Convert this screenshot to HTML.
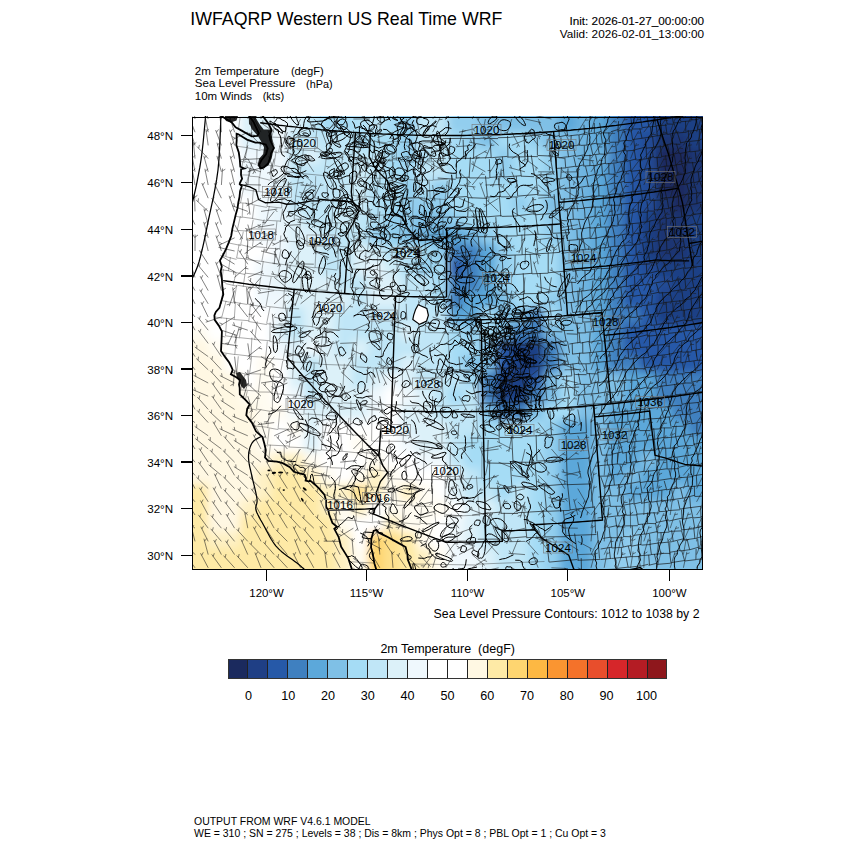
<!DOCTYPE html>
<html><head><meta charset="utf-8">
<style>
html,body{margin:0;padding:0;background:#fff;width:850px;height:850px;overflow:hidden}
body{position:relative;font-family:"Liberation Sans",sans-serif;color:#000}
.m{position:absolute;line-height:1;white-space:pre}
.tk{position:absolute;background:#000}
#map{position:absolute;left:192px;top:116px;width:511px;height:453px;overflow:hidden;background:#fff}
#frame{position:absolute;left:191.9px;top:116.5px;width:509.0px;height:451.05px;border:1.2px solid #000}
#cb{position:absolute;left:228.5px;top:659.7px;width:437.8px;height:18px;display:flex;outline:1px solid #333}
#cb div{flex:1;border-right:1px solid #222}
#cb div:last-child{border-right:none}
</style></head><body>
<div id="map"><svg width="512" height="454" viewBox="192 116 512 454" style="position:absolute;left:0;top:0"><defs><filter id="bl" x="-5%" y="-5%" width="110%" height="110%"><feGaussianBlur stdDeviation="4"/></filter><clipPath id="land"><path clip-rule="evenodd" d="M150,80 L750,80 L750,620 L150,620 Z M19.4,43.0 L23.0,44.1 L26.6,45.3 L30.1,46.5 L33.7,47.6 L37.3,48.7 L40.9,49.9 L44.4,51.0 L48.0,52.1 L51.6,53.2 L55.2,54.3 L58.8,55.4 L62.4,56.4 L66.0,57.5 L69.6,58.5 L73.2,59.6 L76.8,60.6 L80.5,61.6 L84.1,62.6 L87.7,63.6 L91.3,64.6 L94.9,65.6 L98.6,66.6 L102.2,67.5 L105.8,68.5 L109.5,69.4 L113.1,70.3 L116.7,71.2 L120.4,72.1 L124.0,73.0 L127.7,73.9 L131.3,74.8 L135.0,75.7 L138.6,76.5 L142.3,77.4 L146.0,78.2 L149.6,79.1 L153.3,79.9 L156.9,80.7 L160.6,81.5 L164.3,82.3 L168.0,83.0 L171.6,83.8 L175.3,84.6 L179.0,85.3 L182.7,86.0 L186.4,86.8 L190.0,87.5 L193.7,88.2 L197.4,88.9 L201.1,89.6 L204.8,90.3 L208.5,90.9 L212.2,91.6 L215.9,92.2 L217.6,100.0 L219.4,107.8 L221.1,115.6 L226.0,119.0 L231.8,122.5 L235.6,127.3 L241.7,130.6 L246.7,133.5 L251.7,136.3 L257.3,135.9 L258.8,133.1 L257.6,130.5 L255.8,126.8 L253.4,121.7 L247.6,113.8 L252.5,112.2 L257.3,110.5 L262.7,116.0 L268.5,123.8 L271.6,130.1 L269.3,135.6 L270.3,140.4 L274.0,147.9 L271.0,153.4 L270.5,156.8 L268.1,163.5 L263.6,167.6 L260.3,168.4 L259.2,164.7 L261.4,160.3 L266.2,154.0 L267.7,148.3 L265.8,144.5 L262.1,143.6 L259.8,142.6 L255.4,142.7 L251.2,141.1 L247.0,139.6 L242.7,137.0 L238.4,134.3 L236.6,133.8 L236.7,140.4 L236.3,145.1 L238.8,152.5 L239.8,159.6 L240.3,166.7 L244.4,168.5 L241.1,169.2 L241.0,175.0 L242.1,178.7 L239.9,183.0 L239.7,184.2 L241.8,186.1 L240.1,191.2 L239.5,197.0 L238.3,202.6 L237.5,208.4 L235.9,213.9 L234.2,221.1 L232.4,228.6 L231.2,236.0 L228.6,242.9 L226.0,249.2 L223.0,255.1 L219.9,260.6 L221.8,266.5 L220.7,271.0 L221.9,279.3 L222.3,286.3 L223.3,294.5 L221.0,302.1 L219.4,307.9 L215.8,312.0 L214.4,315.5 L214.7,319.9 L218.8,325.6 L221.9,331.4 L221.6,339.7 L221.3,345.2 L221.0,351.0 L225.4,357.4 L229.2,362.5 L231.3,366.7 L232.7,369.9 L230.9,374.3 L236.3,377.3 L240.0,379.9 L239.0,384.6 L239.7,387.9 L239.8,394.4 L245.9,400.3 L249.6,404.4 L247.2,408.7 L246.3,415.3 L251.9,422.7 L256.0,431.3 L262.5,437.1 L264.5,444.2 L265.8,450.1 L265.0,457.4 L268.1,460.8 L276.9,461.7 L282.7,463.2 L289.9,467.1 L293.9,471.8 L300.6,473.6 L304.4,474.6 L306.0,478.2 L305.6,480.5 L308.6,481.4 L310.6,480.9 L315.1,484.7 L318.7,488.2 L324.4,494.6 L326.1,500.5 L325.9,502.8 L326.2,507.0 L328.3,510.4 L329.2,514.6 L332.4,522.9 L337.0,526.7 L334.3,528.8 L338.7,537.2 L341.1,546.6 L344.8,552.6 L348.4,558.6 L351.9,569.3 L354.5,577.5 L362.2,584.9 L367.0,589.8 L371.9,594.6 L376.8,600.6 L381.7,606.6 L382.5,612.5 L383.3,618.4 L381.0,624.1 L378.7,629.9 L382.7,635.9 L386.6,641.9 L388.8,647.8 L391.0,653.7 L393.2,659.7 L395.4,665.6 L397.6,671.5 L399.8,677.5 L402.1,683.4 L404.3,689.4 L399.0,689.2 L393.7,689.1 L388.3,688.9 L383.0,688.8 L377.6,688.6 L372.3,688.4 L367.0,688.1 L361.6,687.9 L356.3,687.7 L350.9,687.4 L345.6,687.1 L340.3,686.8 L334.9,686.5 L329.6,686.2 L324.3,685.9 L318.9,685.5 L313.6,685.2 L308.3,684.8 L302.9,684.4 L297.6,684.0 L292.3,683.6 L287.0,683.1 L281.6,682.7 L276.3,682.2 L271.0,681.7 L265.7,681.2 L260.4,680.7 L255.0,680.2 L249.7,679.7 L244.4,679.1 L239.1,678.5 L233.8,677.9 L228.5,677.4 L223.2,676.7 L217.9,676.1 L212.5,675.5 L207.2,674.8 L201.9,674.1 L196.6,673.5 L191.3,672.8 L186.1,672.0 L180.8,671.3 L175.5,670.6 L170.2,669.8 L164.9,669.0 L159.6,668.2 L154.3,667.4 L149.0,666.6 L143.8,665.8 L138.5,664.9 L133.2,664.1 L127.9,663.2 L122.7,662.3 L117.4,661.4 L112.1,660.5 L106.9,659.6 L101.6,658.6 L96.4,657.7 L91.1,656.7 L85.9,655.7 L80.6,654.7 L75.4,653.7 L70.1,652.6 L64.9,651.6 L59.6,650.5 L54.4,649.4 L49.2,648.4 L44.0,647.2 L38.7,646.1 L33.5,645.0 L28.3,643.8 L23.1,642.7 L17.9,641.5 L12.6,640.3 L7.4,639.1 L2.2,637.9 L-3.0,636.6 L-8.2,635.4 L-13.3,634.1 L-18.5,632.9 L-23.7,631.6 L-28.9,630.3 L-34.1,628.9 L-39.3,627.6 L-44.4,626.3 L-49.6,624.9 L-54.8,623.5 L-59.9,622.1 L-65.1,620.7 L-70.2,619.3 L-75.4,617.9 L-80.5,616.4 L-85.7,614.9 L-90.8,613.5 L-95.9,612.0 L-101.0,610.5 L-106.2,609.0 L-111.3,607.4 L-116.4,605.9 L-121.5,604.3 L-126.6,602.7 L-131.7,601.2 L-136.8,599.5 L-141.9,597.9 L-147.0,596.3 L-152.1,594.7 L-157.2,593.0 L-162.2,591.3Z M428.2,654.5 L425.7,647.9 L423.2,641.3 L420.8,634.7 L415.9,626.9 L411.1,619.1 L406.6,613.2 L402.1,607.3 L395.1,596.6 L389.8,590.0 L384.5,583.5 L380.7,577.5 L376.9,571.6 L374.4,563.4 L372.6,552.8 L371.1,547.7 L371.3,538.9 L373.6,530.9 L376.6,529.9 L378.4,532.5 L383.3,534.9 L388.1,537.2 L396.8,542.1 L405.6,547.0 L407.4,554.0 L407.7,559.3 L411.1,568.0 L413.2,575.0 L418.9,584.3 L422.8,591.4 L428.0,600.3 L436.9,610.1 L443.0,615.8 L449.2,621.4 L455.4,631.2 L461.7,637.0 L468.0,642.8 L473.3,648.6 L478.6,654.4 L480.4,660.2 L482.3,666.0 L484.2,671.9 L486.0,677.7 L487.9,683.6 L489.8,689.4 L484.5,689.5 L479.1,689.6 L473.8,689.7 L468.5,689.8 L463.1,689.8 L457.8,689.8 L452.4,689.9 L447.1,689.9 L441.7,689.9 L436.4,689.8Z"/></clipPath></defs><g filter="url(#bl)"><rect x="160" y="84" width="80" height="16" fill="#ffffff"/><rect x="240" y="84" width="32" height="16" fill="#dcf1f9"/><rect x="272" y="84" width="16" height="16" fill="#eff8fd"/><rect x="288" y="84" width="16" height="16" fill="#dcf1f9"/><rect x="304" y="84" width="16" height="16" fill="#c0e6f7"/><rect x="320" y="84" width="32" height="16" fill="#a5dcf5"/><rect x="352" y="84" width="16" height="16" fill="#b2e1f6"/><rect x="368" y="84" width="16" height="16" fill="#c0e6f7"/><rect x="384" y="84" width="16" height="16" fill="#a5dcf5"/><rect x="400" y="84" width="16" height="16" fill="#92ceee"/><rect x="416" y="84" width="32" height="16" fill="#c0e6f7"/><rect x="448" y="84" width="32" height="16" fill="#92ceee"/><rect x="480" y="84" width="80" height="16" fill="#7fc0e6"/><rect x="560" y="84" width="16" height="16" fill="#5ca8da"/><rect x="576" y="84" width="16" height="16" fill="#6eb4e0"/><rect x="592" y="84" width="16" height="16" fill="#5ca8da"/><rect x="608" y="84" width="16" height="16" fill="#3f80c0"/><rect x="624" y="84" width="32" height="16" fill="#2659a8"/><rect x="656" y="84" width="80" height="16" fill="#1f3f85"/><rect x="160" y="100" width="80" height="16" fill="#ffffff"/><rect x="240" y="100" width="32" height="16" fill="#dcf1f9"/><rect x="272" y="100" width="16" height="16" fill="#eff8fd"/><rect x="288" y="100" width="16" height="16" fill="#dcf1f9"/><rect x="304" y="100" width="16" height="16" fill="#c0e6f7"/><rect x="320" y="100" width="32" height="16" fill="#a5dcf5"/><rect x="352" y="100" width="16" height="16" fill="#b2e1f6"/><rect x="368" y="100" width="16" height="16" fill="#c0e6f7"/><rect x="384" y="100" width="16" height="16" fill="#a5dcf5"/><rect x="400" y="100" width="16" height="16" fill="#92ceee"/><rect x="416" y="100" width="32" height="16" fill="#c0e6f7"/><rect x="448" y="100" width="32" height="16" fill="#92ceee"/><rect x="480" y="100" width="80" height="16" fill="#7fc0e6"/><rect x="560" y="100" width="16" height="16" fill="#5ca8da"/><rect x="576" y="100" width="16" height="16" fill="#6eb4e0"/><rect x="592" y="100" width="16" height="16" fill="#5ca8da"/><rect x="608" y="100" width="16" height="16" fill="#3f80c0"/><rect x="624" y="100" width="32" height="16" fill="#2659a8"/><rect x="656" y="100" width="80" height="16" fill="#1f3f85"/><rect x="160" y="116" width="80" height="16" fill="#ffffff"/><rect x="240" y="116" width="32" height="16" fill="#dcf1f9"/><rect x="272" y="116" width="16" height="16" fill="#eff8fd"/><rect x="288" y="116" width="16" height="16" fill="#dcf1f9"/><rect x="304" y="116" width="16" height="16" fill="#c0e6f7"/><rect x="320" y="116" width="32" height="16" fill="#a5dcf5"/><rect x="352" y="116" width="16" height="16" fill="#b2e1f6"/><rect x="368" y="116" width="16" height="16" fill="#c0e6f7"/><rect x="384" y="116" width="16" height="16" fill="#a5dcf5"/><rect x="400" y="116" width="16" height="16" fill="#92ceee"/><rect x="416" y="116" width="32" height="16" fill="#c0e6f7"/><rect x="448" y="116" width="32" height="16" fill="#92ceee"/><rect x="480" y="116" width="80" height="16" fill="#7fc0e6"/><rect x="560" y="116" width="16" height="16" fill="#5ca8da"/><rect x="576" y="116" width="16" height="16" fill="#6eb4e0"/><rect x="592" y="116" width="16" height="16" fill="#5ca8da"/><rect x="608" y="116" width="16" height="16" fill="#3f80c0"/><rect x="624" y="116" width="32" height="16" fill="#2659a8"/><rect x="656" y="116" width="80" height="16" fill="#1f3f85"/><rect x="160" y="132" width="80" height="16" fill="#ffffff"/><rect x="240" y="132" width="32" height="16" fill="#dcf1f9"/><rect x="272" y="132" width="16" height="16" fill="#eff8fd"/><rect x="288" y="132" width="64" height="16" fill="#c0e6f7"/><rect x="352" y="132" width="48" height="16" fill="#a5dcf5"/><rect x="400" y="132" width="16" height="16" fill="#92ceee"/><rect x="416" y="132" width="32" height="16" fill="#c0e6f7"/><rect x="448" y="132" width="16" height="16" fill="#a5dcf5"/><rect x="464" y="132" width="16" height="16" fill="#92ceee"/><rect x="480" y="132" width="16" height="16" fill="#7fc0e6"/><rect x="496" y="132" width="32" height="16" fill="#a5dcf5"/><rect x="528" y="132" width="16" height="16" fill="#92ceee"/><rect x="544" y="132" width="32" height="16" fill="#7fc0e6"/><rect x="576" y="132" width="16" height="16" fill="#6eb4e0"/><rect x="592" y="132" width="16" height="16" fill="#5ca8da"/><rect x="608" y="132" width="16" height="16" fill="#3f80c0"/><rect x="624" y="132" width="16" height="16" fill="#2659a8"/><rect x="640" y="132" width="16" height="16" fill="#224c96"/><rect x="656" y="132" width="32" height="16" fill="#1d3472"/><rect x="688" y="132" width="48" height="16" fill="#1f3f85"/><rect x="160" y="148" width="80" height="16" fill="#ffffff"/><rect x="240" y="148" width="48" height="16" fill="#eff8fd"/><rect x="288" y="148" width="16" height="16" fill="#c0e6f7"/><rect x="304" y="148" width="16" height="16" fill="#dcf1f9"/><rect x="320" y="148" width="64" height="16" fill="#c0e6f7"/><rect x="384" y="148" width="16" height="16" fill="#a5dcf5"/><rect x="400" y="148" width="16" height="16" fill="#92ceee"/><rect x="416" y="148" width="16" height="16" fill="#b2e1f6"/><rect x="432" y="148" width="16" height="16" fill="#c0e6f7"/><rect x="448" y="148" width="48" height="16" fill="#a5dcf5"/><rect x="496" y="148" width="16" height="16" fill="#92ceee"/><rect x="512" y="148" width="32" height="16" fill="#a5dcf5"/><rect x="544" y="148" width="16" height="16" fill="#92ceee"/><rect x="560" y="148" width="16" height="16" fill="#7fc0e6"/><rect x="576" y="148" width="32" height="16" fill="#6eb4e0"/><rect x="608" y="148" width="16" height="16" fill="#3f80c0"/><rect x="624" y="148" width="16" height="16" fill="#2659a8"/><rect x="640" y="148" width="16" height="16" fill="#224c96"/><rect x="656" y="148" width="32" height="16" fill="#1b2a5e"/><rect x="688" y="148" width="48" height="16" fill="#1d3472"/><rect x="160" y="164" width="80" height="16" fill="#ffffff"/><rect x="240" y="164" width="48" height="16" fill="#eff8fd"/><rect x="288" y="164" width="64" height="16" fill="#c0e6f7"/><rect x="352" y="164" width="16" height="16" fill="#ceecf8"/><rect x="368" y="164" width="16" height="16" fill="#c0e6f7"/><rect x="384" y="164" width="32" height="16" fill="#a5dcf5"/><rect x="416" y="164" width="32" height="16" fill="#c0e6f7"/><rect x="448" y="164" width="48" height="16" fill="#a5dcf5"/><rect x="496" y="164" width="16" height="16" fill="#92ceee"/><rect x="512" y="164" width="32" height="16" fill="#a5dcf5"/><rect x="544" y="164" width="16" height="16" fill="#92ceee"/><rect x="560" y="164" width="16" height="16" fill="#7fc0e6"/><rect x="576" y="164" width="16" height="16" fill="#6eb4e0"/><rect x="592" y="164" width="16" height="16" fill="#5ca8da"/><rect x="608" y="164" width="16" height="16" fill="#3f80c0"/><rect x="624" y="164" width="16" height="16" fill="#2659a8"/><rect x="640" y="164" width="16" height="16" fill="#224c96"/><rect x="656" y="164" width="32" height="16" fill="#1b2a5e"/><rect x="688" y="164" width="48" height="16" fill="#1d3472"/><rect x="160" y="180" width="80" height="16" fill="#ffffff"/><rect x="240" y="180" width="32" height="16" fill="#eff8fd"/><rect x="272" y="180" width="16" height="16" fill="#dcf1f9"/><rect x="288" y="180" width="64" height="16" fill="#c0e6f7"/><rect x="352" y="180" width="16" height="16" fill="#ceecf8"/><rect x="368" y="180" width="32" height="16" fill="#b2e1f6"/><rect x="400" y="180" width="16" height="16" fill="#92ceee"/><rect x="416" y="180" width="16" height="16" fill="#b2e1f6"/><rect x="432" y="180" width="16" height="16" fill="#92ceee"/><rect x="448" y="180" width="96" height="16" fill="#a5dcf5"/><rect x="544" y="180" width="16" height="16" fill="#92ceee"/><rect x="560" y="180" width="16" height="16" fill="#7fc0e6"/><rect x="576" y="180" width="16" height="16" fill="#6eb4e0"/><rect x="592" y="180" width="16" height="16" fill="#5ca8da"/><rect x="608" y="180" width="16" height="16" fill="#3f80c0"/><rect x="624" y="180" width="16" height="16" fill="#2659a8"/><rect x="640" y="180" width="16" height="16" fill="#224c96"/><rect x="656" y="180" width="32" height="16" fill="#1b2a5e"/><rect x="688" y="180" width="48" height="16" fill="#1d3472"/><rect x="160" y="196" width="96" height="16" fill="#ffffff"/><rect x="256" y="196" width="16" height="16" fill="#eff8fd"/><rect x="272" y="196" width="16" height="16" fill="#e6f4fb"/><rect x="288" y="196" width="64" height="16" fill="#c0e6f7"/><rect x="352" y="196" width="16" height="16" fill="#ceecf8"/><rect x="368" y="196" width="16" height="16" fill="#b2e1f6"/><rect x="384" y="196" width="16" height="16" fill="#a5dcf5"/><rect x="400" y="196" width="48" height="16" fill="#92ceee"/><rect x="448" y="196" width="64" height="16" fill="#a5dcf5"/><rect x="512" y="196" width="16" height="16" fill="#92ceee"/><rect x="528" y="196" width="16" height="16" fill="#a5dcf5"/><rect x="544" y="196" width="32" height="16" fill="#7fc0e6"/><rect x="576" y="196" width="16" height="16" fill="#6eb4e0"/><rect x="592" y="196" width="16" height="16" fill="#5ca8da"/><rect x="608" y="196" width="16" height="16" fill="#3f80c0"/><rect x="624" y="196" width="16" height="16" fill="#2659a8"/><rect x="640" y="196" width="16" height="16" fill="#224c96"/><rect x="656" y="196" width="16" height="16" fill="#1d3472"/><rect x="672" y="196" width="16" height="16" fill="#1b2a5e"/><rect x="688" y="196" width="48" height="16" fill="#1d3472"/><rect x="160" y="212" width="96" height="16" fill="#ffffff"/><rect x="256" y="212" width="16" height="16" fill="#eff8fd"/><rect x="272" y="212" width="16" height="16" fill="#e6f4fb"/><rect x="288" y="212" width="16" height="16" fill="#dcf1f9"/><rect x="304" y="212" width="32" height="16" fill="#c0e6f7"/><rect x="336" y="212" width="16" height="16" fill="#ceecf8"/><rect x="352" y="212" width="16" height="16" fill="#c0e6f7"/><rect x="368" y="212" width="16" height="16" fill="#b2e1f6"/><rect x="384" y="212" width="32" height="16" fill="#92ceee"/><rect x="416" y="212" width="32" height="16" fill="#7fc0e6"/><rect x="448" y="212" width="16" height="16" fill="#92ceee"/><rect x="464" y="212" width="80" height="16" fill="#a5dcf5"/><rect x="544" y="212" width="16" height="16" fill="#92ceee"/><rect x="560" y="212" width="16" height="16" fill="#7fc0e6"/><rect x="576" y="212" width="16" height="16" fill="#6eb4e0"/><rect x="592" y="212" width="16" height="16" fill="#5ca8da"/><rect x="608" y="212" width="16" height="16" fill="#3f80c0"/><rect x="624" y="212" width="16" height="16" fill="#2659a8"/><rect x="640" y="212" width="16" height="16" fill="#1f3f85"/><rect x="656" y="212" width="32" height="16" fill="#1d3472"/><rect x="688" y="212" width="48" height="16" fill="#1f3f85"/><rect x="160" y="228" width="96" height="16" fill="#ffffff"/><rect x="256" y="228" width="32" height="16" fill="#eff8fd"/><rect x="288" y="228" width="32" height="16" fill="#dcf1f9"/><rect x="320" y="228" width="48" height="16" fill="#c0e6f7"/><rect x="368" y="228" width="32" height="16" fill="#92ceee"/><rect x="400" y="228" width="16" height="16" fill="#7fc0e6"/><rect x="416" y="228" width="16" height="16" fill="#6eb4e0"/><rect x="432" y="228" width="32" height="16" fill="#5ca8da"/><rect x="464" y="228" width="16" height="16" fill="#6eb4e0"/><rect x="480" y="228" width="16" height="16" fill="#92ceee"/><rect x="496" y="228" width="48" height="16" fill="#a5dcf5"/><rect x="544" y="228" width="16" height="16" fill="#92ceee"/><rect x="560" y="228" width="16" height="16" fill="#7fc0e6"/><rect x="576" y="228" width="16" height="16" fill="#6eb4e0"/><rect x="592" y="228" width="16" height="16" fill="#5ca8da"/><rect x="608" y="228" width="16" height="16" fill="#3f80c0"/><rect x="624" y="228" width="16" height="16" fill="#2659a8"/><rect x="640" y="228" width="16" height="16" fill="#1f3f85"/><rect x="656" y="228" width="32" height="16" fill="#1d3472"/><rect x="688" y="228" width="48" height="16" fill="#1f3f85"/><rect x="160" y="244" width="112" height="16" fill="#ffffff"/><rect x="272" y="244" width="16" height="16" fill="#eff8fd"/><rect x="288" y="244" width="32" height="16" fill="#dcf1f9"/><rect x="320" y="244" width="32" height="16" fill="#c0e6f7"/><rect x="352" y="244" width="16" height="16" fill="#dcf1f9"/><rect x="368" y="244" width="16" height="16" fill="#ceecf8"/><rect x="384" y="244" width="32" height="16" fill="#b2e1f6"/><rect x="416" y="244" width="16" height="16" fill="#a5dcf5"/><rect x="432" y="244" width="16" height="16" fill="#92ceee"/><rect x="448" y="244" width="32" height="16" fill="#3f80c0"/><rect x="480" y="244" width="16" height="16" fill="#5ca8da"/><rect x="496" y="244" width="16" height="16" fill="#92ceee"/><rect x="512" y="244" width="48" height="16" fill="#a5dcf5"/><rect x="560" y="244" width="16" height="16" fill="#7fc0e6"/><rect x="576" y="244" width="16" height="16" fill="#6eb4e0"/><rect x="592" y="244" width="16" height="16" fill="#5ca8da"/><rect x="608" y="244" width="16" height="16" fill="#3f80c0"/><rect x="624" y="244" width="16" height="16" fill="#2659a8"/><rect x="640" y="244" width="16" height="16" fill="#1f3f85"/><rect x="656" y="244" width="32" height="16" fill="#1d3472"/><rect x="688" y="244" width="48" height="16" fill="#1f3f85"/><rect x="160" y="260" width="96" height="16" fill="#ffffff"/><rect x="256" y="260" width="16" height="16" fill="#eff8fd"/><rect x="272" y="260" width="16" height="16" fill="#e6f4fb"/><rect x="288" y="260" width="32" height="16" fill="#dcf1f9"/><rect x="320" y="260" width="32" height="16" fill="#c0e6f7"/><rect x="352" y="260" width="16" height="16" fill="#dcf1f9"/><rect x="368" y="260" width="16" height="16" fill="#e6f4fb"/><rect x="384" y="260" width="16" height="16" fill="#ceecf8"/><rect x="400" y="260" width="16" height="16" fill="#b2e1f6"/><rect x="416" y="260" width="16" height="16" fill="#92ceee"/><rect x="432" y="260" width="16" height="16" fill="#a5dcf5"/><rect x="448" y="260" width="16" height="16" fill="#2659a8"/><rect x="464" y="260" width="16" height="16" fill="#3f80c0"/><rect x="480" y="260" width="16" height="16" fill="#5ca8da"/><rect x="496" y="260" width="16" height="16" fill="#92ceee"/><rect x="512" y="260" width="48" height="16" fill="#a5dcf5"/><rect x="560" y="260" width="16" height="16" fill="#7fc0e6"/><rect x="576" y="260" width="16" height="16" fill="#6eb4e0"/><rect x="592" y="260" width="16" height="16" fill="#5ca8da"/><rect x="608" y="260" width="16" height="16" fill="#3f80c0"/><rect x="624" y="260" width="16" height="16" fill="#2659a8"/><rect x="640" y="260" width="16" height="16" fill="#224c96"/><rect x="656" y="260" width="80" height="16" fill="#1f3f85"/><rect x="160" y="276" width="96" height="16" fill="#ffffff"/><rect x="256" y="276" width="16" height="16" fill="#eff8fd"/><rect x="272" y="276" width="16" height="16" fill="#e6f4fb"/><rect x="288" y="276" width="48" height="16" fill="#dcf1f9"/><rect x="336" y="276" width="32" height="16" fill="#c0e6f7"/><rect x="368" y="276" width="32" height="16" fill="#dcf1f9"/><rect x="400" y="276" width="32" height="16" fill="#c0e6f7"/><rect x="432" y="276" width="16" height="16" fill="#a5dcf5"/><rect x="448" y="276" width="32" height="16" fill="#3f80c0"/><rect x="480" y="276" width="16" height="16" fill="#5ca8da"/><rect x="496" y="276" width="16" height="16" fill="#92ceee"/><rect x="512" y="276" width="48" height="16" fill="#a5dcf5"/><rect x="560" y="276" width="16" height="16" fill="#7fc0e6"/><rect x="576" y="276" width="16" height="16" fill="#6eb4e0"/><rect x="592" y="276" width="16" height="16" fill="#5ca8da"/><rect x="608" y="276" width="16" height="16" fill="#3f80c0"/><rect x="624" y="276" width="32" height="16" fill="#2659a8"/><rect x="656" y="276" width="16" height="16" fill="#224c96"/><rect x="672" y="276" width="64" height="16" fill="#1f3f85"/><rect x="160" y="292" width="96" height="16" fill="#ffffff"/><rect x="256" y="292" width="32" height="16" fill="#eff8fd"/><rect x="288" y="292" width="64" height="16" fill="#dcf1f9"/><rect x="352" y="292" width="16" height="16" fill="#c0e6f7"/><rect x="368" y="292" width="32" height="16" fill="#dcf1f9"/><rect x="400" y="292" width="32" height="16" fill="#c0e6f7"/><rect x="432" y="292" width="16" height="16" fill="#a5dcf5"/><rect x="448" y="292" width="16" height="16" fill="#3f80c0"/><rect x="464" y="292" width="32" height="16" fill="#5ca8da"/><rect x="496" y="292" width="16" height="16" fill="#7fc0e6"/><rect x="512" y="292" width="32" height="16" fill="#a5dcf5"/><rect x="544" y="292" width="16" height="16" fill="#92ceee"/><rect x="560" y="292" width="16" height="16" fill="#7fc0e6"/><rect x="576" y="292" width="16" height="16" fill="#6eb4e0"/><rect x="592" y="292" width="16" height="16" fill="#5ca8da"/><rect x="608" y="292" width="16" height="16" fill="#3f80c0"/><rect x="624" y="292" width="32" height="16" fill="#2659a8"/><rect x="656" y="292" width="80" height="16" fill="#1f3f85"/><rect x="160" y="308" width="112" height="16" fill="#ffffff"/><rect x="272" y="308" width="16" height="16" fill="#eff8fd"/><rect x="288" y="308" width="16" height="16" fill="#c0e6f7"/><rect x="304" y="308" width="32" height="16" fill="#dcf1f9"/><rect x="336" y="308" width="112" height="16" fill="#c0e6f7"/><rect x="448" y="308" width="32" height="16" fill="#5ca8da"/><rect x="480" y="308" width="16" height="16" fill="#a5dcf5"/><rect x="496" y="308" width="32" height="16" fill="#7fc0e6"/><rect x="528" y="308" width="16" height="16" fill="#3f80c0"/><rect x="544" y="308" width="16" height="16" fill="#a5dcf5"/><rect x="560" y="308" width="32" height="16" fill="#7fc0e6"/><rect x="592" y="308" width="16" height="16" fill="#5ca8da"/><rect x="608" y="308" width="32" height="16" fill="#3f80c0"/><rect x="640" y="308" width="16" height="16" fill="#2659a8"/><rect x="656" y="308" width="80" height="16" fill="#1f3f85"/><rect x="160" y="324" width="48" height="16" fill="#fffcf1"/><rect x="208" y="324" width="64" height="16" fill="#ffffff"/><rect x="272" y="324" width="16" height="16" fill="#dcf1f9"/><rect x="288" y="324" width="16" height="16" fill="#c0e6f7"/><rect x="304" y="324" width="32" height="16" fill="#dcf1f9"/><rect x="336" y="324" width="64" height="16" fill="#c0e6f7"/><rect x="400" y="324" width="16" height="16" fill="#dcf1f9"/><rect x="416" y="324" width="32" height="16" fill="#c0e6f7"/><rect x="448" y="324" width="16" height="16" fill="#a5dcf5"/><rect x="464" y="324" width="16" height="16" fill="#92ceee"/><rect x="480" y="324" width="16" height="16" fill="#a5dcf5"/><rect x="496" y="324" width="16" height="16" fill="#7fc0e6"/><rect x="512" y="324" width="32" height="16" fill="#3f80c0"/><rect x="544" y="324" width="48" height="16" fill="#7fc0e6"/><rect x="592" y="324" width="16" height="16" fill="#5ca8da"/><rect x="608" y="324" width="16" height="16" fill="#3f80c0"/><rect x="624" y="324" width="112" height="16" fill="#2659a8"/><rect x="160" y="340" width="48" height="16" fill="#fff8e3"/><rect x="208" y="340" width="16" height="16" fill="#fffcf1"/><rect x="224" y="340" width="48" height="16" fill="#ffffff"/><rect x="272" y="340" width="16" height="16" fill="#eff8fd"/><rect x="288" y="340" width="16" height="16" fill="#dcf1f9"/><rect x="304" y="340" width="16" height="16" fill="#eff8fd"/><rect x="320" y="340" width="16" height="16" fill="#dcf1f9"/><rect x="336" y="340" width="16" height="16" fill="#c0e6f7"/><rect x="352" y="340" width="16" height="16" fill="#dcf1f9"/><rect x="368" y="340" width="80" height="16" fill="#c0e6f7"/><rect x="448" y="340" width="32" height="16" fill="#a5dcf5"/><rect x="480" y="340" width="16" height="16" fill="#7fc0e6"/><rect x="496" y="340" width="16" height="16" fill="#2659a8"/><rect x="512" y="340" width="32" height="16" fill="#1f3f85"/><rect x="544" y="340" width="16" height="16" fill="#3f80c0"/><rect x="560" y="340" width="32" height="16" fill="#7fc0e6"/><rect x="592" y="340" width="16" height="16" fill="#5ca8da"/><rect x="608" y="340" width="16" height="16" fill="#3f80c0"/><rect x="624" y="340" width="112" height="16" fill="#2659a8"/><rect x="160" y="356" width="64" height="16" fill="#fff8e3"/><rect x="224" y="356" width="32" height="16" fill="#ffffff"/><rect x="256" y="356" width="16" height="16" fill="#fffcf1"/><rect x="272" y="356" width="16" height="16" fill="#ffffff"/><rect x="288" y="356" width="16" height="16" fill="#dcf1f9"/><rect x="304" y="356" width="16" height="16" fill="#c0e6f7"/><rect x="320" y="356" width="32" height="16" fill="#dcf1f9"/><rect x="352" y="356" width="48" height="16" fill="#c0e6f7"/><rect x="400" y="356" width="16" height="16" fill="#dcf1f9"/><rect x="416" y="356" width="32" height="16" fill="#c0e6f7"/><rect x="448" y="356" width="16" height="16" fill="#a5dcf5"/><rect x="464" y="356" width="32" height="16" fill="#7fc0e6"/><rect x="496" y="356" width="16" height="16" fill="#2659a8"/><rect x="512" y="356" width="32" height="16" fill="#1f3f85"/><rect x="544" y="356" width="16" height="16" fill="#3f80c0"/><rect x="560" y="356" width="32" height="16" fill="#7fc0e6"/><rect x="592" y="356" width="16" height="16" fill="#5ca8da"/><rect x="608" y="356" width="32" height="16" fill="#3f80c0"/><rect x="640" y="356" width="96" height="16" fill="#2659a8"/><rect x="160" y="372" width="80" height="16" fill="#fff8e3"/><rect x="240" y="372" width="16" height="16" fill="#ffffff"/><rect x="256" y="372" width="16" height="16" fill="#fffcf1"/><rect x="272" y="372" width="16" height="16" fill="#ffffff"/><rect x="288" y="372" width="16" height="16" fill="#dcf1f9"/><rect x="304" y="372" width="16" height="16" fill="#c0e6f7"/><rect x="320" y="372" width="32" height="16" fill="#dcf1f9"/><rect x="352" y="372" width="16" height="16" fill="#c0e6f7"/><rect x="368" y="372" width="16" height="16" fill="#dcf1f9"/><rect x="384" y="372" width="16" height="16" fill="#eff8fd"/><rect x="400" y="372" width="16" height="16" fill="#dcf1f9"/><rect x="416" y="372" width="48" height="16" fill="#c0e6f7"/><rect x="464" y="372" width="16" height="16" fill="#a5dcf5"/><rect x="480" y="372" width="16" height="16" fill="#3f80c0"/><rect x="496" y="372" width="32" height="16" fill="#1f3f85"/><rect x="528" y="372" width="16" height="16" fill="#2659a8"/><rect x="544" y="372" width="16" height="16" fill="#7fc0e6"/><rect x="560" y="372" width="16" height="16" fill="#a5dcf5"/><rect x="576" y="372" width="48" height="16" fill="#7fc0e6"/><rect x="624" y="372" width="32" height="16" fill="#5ca8da"/><rect x="656" y="372" width="80" height="16" fill="#3f80c0"/><rect x="160" y="388" width="80" height="16" fill="#fff8e3"/><rect x="240" y="388" width="32" height="16" fill="#fffcf1"/><rect x="272" y="388" width="16" height="16" fill="#ffffff"/><rect x="288" y="388" width="16" height="16" fill="#eff8fd"/><rect x="304" y="388" width="16" height="16" fill="#c0e6f7"/><rect x="320" y="388" width="48" height="16" fill="#dcf1f9"/><rect x="368" y="388" width="16" height="16" fill="#eff8fd"/><rect x="384" y="388" width="16" height="16" fill="#ffffff"/><rect x="400" y="388" width="16" height="16" fill="#eff8fd"/><rect x="416" y="388" width="16" height="16" fill="#dcf1f9"/><rect x="432" y="388" width="16" height="16" fill="#c0e6f7"/><rect x="448" y="388" width="16" height="16" fill="#a5dcf5"/><rect x="464" y="388" width="16" height="16" fill="#c0e6f7"/><rect x="480" y="388" width="16" height="16" fill="#3f80c0"/><rect x="496" y="388" width="32" height="16" fill="#1f3f85"/><rect x="528" y="388" width="16" height="16" fill="#3f80c0"/><rect x="544" y="388" width="16" height="16" fill="#7fc0e6"/><rect x="560" y="388" width="16" height="16" fill="#a5dcf5"/><rect x="576" y="388" width="48" height="16" fill="#7fc0e6"/><rect x="624" y="388" width="32" height="16" fill="#5ca8da"/><rect x="656" y="388" width="80" height="16" fill="#3f80c0"/><rect x="160" y="404" width="96" height="16" fill="#fff8e3"/><rect x="256" y="404" width="32" height="16" fill="#fffcf1"/><rect x="288" y="404" width="16" height="16" fill="#eff8fd"/><rect x="304" y="404" width="64" height="16" fill="#dcf1f9"/><rect x="368" y="404" width="16" height="16" fill="#eff8fd"/><rect x="384" y="404" width="16" height="16" fill="#ffffff"/><rect x="400" y="404" width="32" height="16" fill="#dcf1f9"/><rect x="432" y="404" width="48" height="16" fill="#c0e6f7"/><rect x="480" y="404" width="16" height="16" fill="#7fc0e6"/><rect x="496" y="404" width="32" height="16" fill="#3f80c0"/><rect x="528" y="404" width="16" height="16" fill="#7fc0e6"/><rect x="544" y="404" width="32" height="16" fill="#a5dcf5"/><rect x="576" y="404" width="32" height="16" fill="#7fc0e6"/><rect x="608" y="404" width="64" height="16" fill="#5ca8da"/><rect x="672" y="404" width="64" height="16" fill="#3f80c0"/><rect x="160" y="420" width="96" height="16" fill="#fff8e3"/><rect x="256" y="420" width="16" height="16" fill="#fffcf1"/><rect x="272" y="420" width="16" height="16" fill="#ffffff"/><rect x="288" y="420" width="16" height="16" fill="#fffcf1"/><rect x="304" y="420" width="16" height="16" fill="#dcf1f9"/><rect x="320" y="420" width="80" height="16" fill="#ffffff"/><rect x="400" y="420" width="48" height="16" fill="#dcf1f9"/><rect x="448" y="420" width="32" height="16" fill="#c0e6f7"/><rect x="480" y="420" width="64" height="16" fill="#a5dcf5"/><rect x="544" y="420" width="16" height="16" fill="#92ceee"/><rect x="560" y="420" width="32" height="16" fill="#5ca8da"/><rect x="592" y="420" width="16" height="16" fill="#7fc0e6"/><rect x="608" y="420" width="80" height="16" fill="#5ca8da"/><rect x="688" y="420" width="48" height="16" fill="#3f80c0"/><rect x="160" y="436" width="96" height="16" fill="#fff8e3"/><rect x="256" y="436" width="16" height="16" fill="#fffcf1"/><rect x="272" y="436" width="32" height="16" fill="#ffffff"/><rect x="304" y="436" width="16" height="16" fill="#dcf1f9"/><rect x="320" y="436" width="32" height="16" fill="#ffffff"/><rect x="352" y="436" width="16" height="16" fill="#fffcf1"/><rect x="368" y="436" width="32" height="16" fill="#ffffff"/><rect x="400" y="436" width="16" height="16" fill="#eff8fd"/><rect x="416" y="436" width="32" height="16" fill="#dcf1f9"/><rect x="448" y="436" width="16" height="16" fill="#c0e6f7"/><rect x="464" y="436" width="80" height="16" fill="#a5dcf5"/><rect x="544" y="436" width="16" height="16" fill="#92ceee"/><rect x="560" y="436" width="32" height="16" fill="#5ca8da"/><rect x="592" y="436" width="16" height="16" fill="#7fc0e6"/><rect x="608" y="436" width="128" height="16" fill="#5ca8da"/><rect x="160" y="452" width="112" height="16" fill="#fff8e3"/><rect x="272" y="452" width="32" height="16" fill="#fef1c4"/><rect x="304" y="452" width="16" height="16" fill="#fffcf1"/><rect x="320" y="452" width="48" height="16" fill="#ffffff"/><rect x="368" y="452" width="16" height="16" fill="#fffcf1"/><rect x="384" y="452" width="32" height="16" fill="#ffffff"/><rect x="416" y="452" width="32" height="16" fill="#eff8fd"/><rect x="448" y="452" width="16" height="16" fill="#c0e6f7"/><rect x="464" y="452" width="80" height="16" fill="#a5dcf5"/><rect x="544" y="452" width="16" height="16" fill="#92ceee"/><rect x="560" y="452" width="32" height="16" fill="#5ca8da"/><rect x="592" y="452" width="16" height="16" fill="#7fc0e6"/><rect x="608" y="452" width="32" height="16" fill="#5ca8da"/><rect x="640" y="452" width="16" height="16" fill="#7fc0e6"/><rect x="656" y="452" width="80" height="16" fill="#5ca8da"/><rect x="160" y="468" width="96" height="16" fill="#fff8e3"/><rect x="256" y="468" width="16" height="16" fill="#fef1c4"/><rect x="272" y="468" width="32" height="16" fill="#feeaa6"/><rect x="304" y="468" width="16" height="16" fill="#fef1c4"/><rect x="320" y="468" width="16" height="16" fill="#fffcf1"/><rect x="336" y="468" width="16" height="16" fill="#ffffff"/><rect x="352" y="468" width="16" height="16" fill="#fffcf1"/><rect x="368" y="468" width="16" height="16" fill="#fef1c4"/><rect x="384" y="468" width="16" height="16" fill="#fffcf1"/><rect x="400" y="468" width="48" height="16" fill="#ffffff"/><rect x="448" y="468" width="16" height="16" fill="#dcf1f9"/><rect x="464" y="468" width="16" height="16" fill="#c0e6f7"/><rect x="480" y="468" width="64" height="16" fill="#a5dcf5"/><rect x="544" y="468" width="16" height="16" fill="#92ceee"/><rect x="560" y="468" width="32" height="16" fill="#5ca8da"/><rect x="592" y="468" width="16" height="16" fill="#7fc0e6"/><rect x="608" y="468" width="16" height="16" fill="#5ca8da"/><rect x="624" y="468" width="16" height="16" fill="#7fc0e6"/><rect x="640" y="468" width="96" height="16" fill="#5ca8da"/><rect x="160" y="484" width="48" height="16" fill="#feeaa6"/><rect x="208" y="484" width="48" height="16" fill="#fff8e3"/><rect x="256" y="484" width="16" height="16" fill="#fef1c4"/><rect x="272" y="484" width="48" height="16" fill="#feeaa6"/><rect x="320" y="484" width="32" height="16" fill="#fef1c4"/><rect x="352" y="484" width="16" height="16" fill="#fee08b"/><rect x="368" y="484" width="16" height="16" fill="#fef1c4"/><rect x="384" y="484" width="16" height="16" fill="#fffcf1"/><rect x="400" y="484" width="16" height="16" fill="#fef1c4"/><rect x="416" y="484" width="16" height="16" fill="#fffcf1"/><rect x="432" y="484" width="16" height="16" fill="#ffffff"/><rect x="448" y="484" width="16" height="16" fill="#dcf1f9"/><rect x="464" y="484" width="32" height="16" fill="#c0e6f7"/><rect x="496" y="484" width="16" height="16" fill="#a5dcf5"/><rect x="512" y="484" width="16" height="16" fill="#c0e6f7"/><rect x="528" y="484" width="16" height="16" fill="#a5dcf5"/><rect x="544" y="484" width="16" height="16" fill="#92ceee"/><rect x="560" y="484" width="32" height="16" fill="#5ca8da"/><rect x="592" y="484" width="32" height="16" fill="#7fc0e6"/><rect x="624" y="484" width="48" height="16" fill="#5ca8da"/><rect x="672" y="484" width="16" height="16" fill="#7fc0e6"/><rect x="688" y="484" width="48" height="16" fill="#5ca8da"/><rect x="160" y="500" width="48" height="16" fill="#feeaa6"/><rect x="208" y="500" width="32" height="16" fill="#fff8e3"/><rect x="240" y="500" width="16" height="16" fill="#fef1c4"/><rect x="256" y="500" width="64" height="16" fill="#feeaa6"/><rect x="320" y="500" width="16" height="16" fill="#fef1c4"/><rect x="336" y="500" width="16" height="16" fill="#fffcf1"/><rect x="352" y="500" width="16" height="16" fill="#fef1c4"/><rect x="368" y="500" width="16" height="16" fill="#ffffff"/><rect x="384" y="500" width="64" height="16" fill="#fffcf1"/><rect x="448" y="500" width="16" height="16" fill="#ffffff"/><rect x="464" y="500" width="32" height="16" fill="#dcf1f9"/><rect x="496" y="500" width="32" height="16" fill="#c0e6f7"/><rect x="528" y="500" width="16" height="16" fill="#a5dcf5"/><rect x="544" y="500" width="16" height="16" fill="#92ceee"/><rect x="560" y="500" width="32" height="16" fill="#5ca8da"/><rect x="592" y="500" width="144" height="16" fill="#7fc0e6"/><rect x="160" y="516" width="48" height="16" fill="#feeaa6"/><rect x="208" y="516" width="32" height="16" fill="#fff8e3"/><rect x="240" y="516" width="96" height="16" fill="#feeaa6"/><rect x="336" y="516" width="16" height="16" fill="#fffcf1"/><rect x="352" y="516" width="32" height="16" fill="#ffffff"/><rect x="384" y="516" width="16" height="16" fill="#fef1c4"/><rect x="400" y="516" width="32" height="16" fill="#fffcf1"/><rect x="432" y="516" width="16" height="16" fill="#ffffff"/><rect x="448" y="516" width="16" height="16" fill="#eff8fd"/><rect x="464" y="516" width="16" height="16" fill="#dcf1f9"/><rect x="480" y="516" width="48" height="16" fill="#c0e6f7"/><rect x="528" y="516" width="16" height="16" fill="#a5dcf5"/><rect x="544" y="516" width="16" height="16" fill="#92ceee"/><rect x="560" y="516" width="32" height="16" fill="#5ca8da"/><rect x="592" y="516" width="144" height="16" fill="#7fc0e6"/><rect x="160" y="532" width="48" height="16" fill="#feeaa6"/><rect x="208" y="532" width="32" height="16" fill="#fef1c4"/><rect x="240" y="532" width="96" height="16" fill="#feeaa6"/><rect x="336" y="532" width="16" height="16" fill="#fef1c4"/><rect x="352" y="532" width="16" height="16" fill="#ffffff"/><rect x="368" y="532" width="16" height="16" fill="#fed570"/><rect x="384" y="532" width="16" height="16" fill="#fee08b"/><rect x="400" y="532" width="16" height="16" fill="#feeaa6"/><rect x="416" y="532" width="16" height="16" fill="#fffcf1"/><rect x="432" y="532" width="16" height="16" fill="#ffffff"/><rect x="448" y="532" width="16" height="16" fill="#eff8fd"/><rect x="464" y="532" width="16" height="16" fill="#dcf1f9"/><rect x="480" y="532" width="48" height="16" fill="#c0e6f7"/><rect x="528" y="532" width="16" height="16" fill="#a5dcf5"/><rect x="544" y="532" width="16" height="16" fill="#92ceee"/><rect x="560" y="532" width="32" height="16" fill="#5ca8da"/><rect x="592" y="532" width="32" height="16" fill="#7fc0e6"/><rect x="624" y="532" width="16" height="16" fill="#92ceee"/><rect x="640" y="532" width="96" height="16" fill="#7fc0e6"/><rect x="160" y="548" width="176" height="16" fill="#feeaa6"/><rect x="336" y="548" width="16" height="16" fill="#fef1c4"/><rect x="352" y="548" width="16" height="16" fill="#fffcf1"/><rect x="368" y="548" width="16" height="16" fill="#fed570"/><rect x="384" y="548" width="16" height="16" fill="#fee08b"/><rect x="400" y="548" width="16" height="16" fill="#feeaa6"/><rect x="416" y="548" width="16" height="16" fill="#fef1c4"/><rect x="432" y="548" width="16" height="16" fill="#fffcf1"/><rect x="448" y="548" width="32" height="16" fill="#eff8fd"/><rect x="480" y="548" width="16" height="16" fill="#dcf1f9"/><rect x="496" y="548" width="32" height="16" fill="#c0e6f7"/><rect x="528" y="548" width="16" height="16" fill="#a5dcf5"/><rect x="544" y="548" width="16" height="16" fill="#92ceee"/><rect x="560" y="548" width="32" height="16" fill="#5ca8da"/><rect x="592" y="548" width="16" height="16" fill="#7fc0e6"/><rect x="608" y="548" width="32" height="16" fill="#92ceee"/><rect x="640" y="548" width="96" height="16" fill="#7fc0e6"/><rect x="160" y="564" width="176" height="16" fill="#feeaa6"/><rect x="336" y="564" width="16" height="16" fill="#fef1c4"/><rect x="352" y="564" width="16" height="16" fill="#fffcf1"/><rect x="368" y="564" width="16" height="16" fill="#fed570"/><rect x="384" y="564" width="16" height="16" fill="#fee08b"/><rect x="400" y="564" width="16" height="16" fill="#feeaa6"/><rect x="416" y="564" width="16" height="16" fill="#fef1c4"/><rect x="432" y="564" width="16" height="16" fill="#fffcf1"/><rect x="448" y="564" width="32" height="16" fill="#eff8fd"/><rect x="480" y="564" width="16" height="16" fill="#dcf1f9"/><rect x="496" y="564" width="32" height="16" fill="#c0e6f7"/><rect x="528" y="564" width="16" height="16" fill="#a5dcf5"/><rect x="544" y="564" width="16" height="16" fill="#92ceee"/><rect x="560" y="564" width="32" height="16" fill="#5ca8da"/><rect x="592" y="564" width="16" height="16" fill="#7fc0e6"/><rect x="608" y="564" width="48" height="16" fill="#92ceee"/><rect x="656" y="564" width="80" height="16" fill="#7fc0e6"/><rect x="160" y="580" width="176" height="16" fill="#feeaa6"/><rect x="336" y="580" width="16" height="16" fill="#fef1c4"/><rect x="352" y="580" width="16" height="16" fill="#fffcf1"/><rect x="368" y="580" width="16" height="16" fill="#fed570"/><rect x="384" y="580" width="16" height="16" fill="#fee08b"/><rect x="400" y="580" width="16" height="16" fill="#feeaa6"/><rect x="416" y="580" width="16" height="16" fill="#fef1c4"/><rect x="432" y="580" width="16" height="16" fill="#fffcf1"/><rect x="448" y="580" width="32" height="16" fill="#eff8fd"/><rect x="480" y="580" width="16" height="16" fill="#dcf1f9"/><rect x="496" y="580" width="32" height="16" fill="#c0e6f7"/><rect x="528" y="580" width="16" height="16" fill="#a5dcf5"/><rect x="544" y="580" width="16" height="16" fill="#92ceee"/><rect x="560" y="580" width="32" height="16" fill="#5ca8da"/><rect x="592" y="580" width="16" height="16" fill="#7fc0e6"/><rect x="608" y="580" width="48" height="16" fill="#92ceee"/><rect x="656" y="580" width="80" height="16" fill="#7fc0e6"/><rect x="160" y="596" width="176" height="16" fill="#feeaa6"/><rect x="336" y="596" width="16" height="16" fill="#fef1c4"/><rect x="352" y="596" width="16" height="16" fill="#fffcf1"/><rect x="368" y="596" width="16" height="16" fill="#fed570"/><rect x="384" y="596" width="16" height="16" fill="#fee08b"/><rect x="400" y="596" width="16" height="16" fill="#feeaa6"/><rect x="416" y="596" width="16" height="16" fill="#fef1c4"/><rect x="432" y="596" width="16" height="16" fill="#fffcf1"/><rect x="448" y="596" width="32" height="16" fill="#eff8fd"/><rect x="480" y="596" width="16" height="16" fill="#dcf1f9"/><rect x="496" y="596" width="32" height="16" fill="#c0e6f7"/><rect x="528" y="596" width="16" height="16" fill="#a5dcf5"/><rect x="544" y="596" width="16" height="16" fill="#92ceee"/><rect x="560" y="596" width="32" height="16" fill="#5ca8da"/><rect x="592" y="596" width="16" height="16" fill="#7fc0e6"/><rect x="608" y="596" width="48" height="16" fill="#92ceee"/><rect x="656" y="596" width="80" height="16" fill="#7fc0e6"/></g><g clip-path="url(#land)"><path d="M604.2 569.6L616.7 569.1M616.6 568.5L628.4 567.1M616.8 568.5L614.7 558.5M628.4 567.4L640.5 565.9M628.2 567.4L626.0 556.8M640.5 566.2L648.4 564.2M640.2 566.2L638.5 555.8M648.6 565.3L656.8 563.3M649.5 565.2L648.7 554.9M656.9 564.4L670.9 563.2M656.9 564.4L654.4 554.0M670.8 562.7L684.6 560.5M670.9 562.7L669.7 552.5M684.6 561.0L696.3 559.6M684.7 561.0L681.7 550.6M696.3 559.4L708.6 558.5M695.9 559.5L696.1 549.0M708.4 557.7L717.3 555.5M707.7 557.8L706.3 548.3M600.9 559.5L611.3 558.4M611.4 558.5L622.1 557.4M610.4 558.6L609.1 547.3M622.1 557.6L631.1 556.6M621.5 557.6L621.4 547.7M631.1 556.7L639.4 556.5M631.1 556.7L628.2 545.8M639.3 555.8L650.7 554.9M640.1 555.7L638.5 546.2M650.7 554.6L660.7 553.8M651.4 554.5L649.9 543.6M660.6 553.4L670.1 553.4M661.0 553.4L657.8 542.4M669.9 552.3L680.1 550.5M669.7 552.4L669.8 542.7M680.1 551.0L689.6 549.7M680.3 551.0L677.4 541.0M689.6 549.8L698.2 547.3M689.7 549.8L687.1 539.4M698.4 548.6L707.5 547.8M698.5 548.6L697.7 539.1M707.4 547.3L717.9 545.4M707.5 547.3L705.1 536.7M600.7 549.0L611.8 547.2M611.8 548.0L623.2 547.3M611.8 548.0L610.9 536.9M623.1 547.0L631.2 545.4M623.2 547.0L621.2 536.4M631.3 546.2L641.4 544.3M630.9 546.2L630.3 534.9M641.5 545.1L650.9 544.5M640.8 545.2L641.5 535.3M650.9 544.1L660.7 542.7M650.3 544.1L649.5 533.9M660.7 542.9L672.4 541.7M661.2 542.9L661.0 532.3M672.4 541.5L683.4 538.8M673.2 541.4L671.6 530.2M683.6 540.1L695.4 538.4M684.0 540.0L681.5 530.6M695.4 538.5L705.0 535.7M694.9 538.6L693.7 527.2M705.2 537.1L714.5 536.0M705.5 537.1L704.7 526.3M602.8 538.4L610.6 537.2M610.6 537.7L623.3 537.8M610.1 537.7L609.2 527.9M623.2 536.5L633.0 536.8M623.7 536.5L622.9 525.5M632.8 535.5L645.1 533.9M632.6 535.6L632.2 525.9M645.1 534.2L657.7 531.5M644.8 534.3L642.4 524.1M657.8 532.8L669.4 532.1M657.2 532.9L655.5 522.9M669.3 531.4L681.6 530.9M668.9 531.5L667.0 520.5M681.5 529.9L694.5 528.7M681.6 529.8L679.8 520.4M694.4 528.1L702.1 526.5M694.7 528.1L693.1 518.7M702.2 527.0L712.0 525.6M701.7 527.1L701.1 517.4M608.0 527.5L617.0 525.6M607.3 527.5L605.3 516.4M617.1 526.6L625.2 527.0M616.6 526.7L615.4 517.3M625.1 525.9L637.9 525.7M624.5 525.9L624.7 514.5M637.8 524.6L648.3 523.6M638.3 524.5L636.7 514.0M648.2 523.4L656.0 523.7M647.6 523.5L647.4 512.6M655.8 522.6L668.8 519.9M656.4 522.5L653.9 512.1M668.9 521.0L682.0 518.1M668.0 521.1L665.8 511.8M682.1 519.3L691.9 517.4M682.1 519.3L681.5 509.6M692.0 518.0L700.7 517.3M692.9 517.8L690.6 507.0M700.6 516.8L711.6 515.0M701.0 516.7L700.6 506.3M597.6 518.0L608.0 516.4M608.1 517.0L618.8 515.7M607.5 517.1L608.9 507.3M618.8 516.0L626.4 514.7M618.1 516.1L616.0 506.2M626.4 515.3L637.0 514.9M626.1 515.3L624.0 505.5M636.9 514.2L649.6 513.3M637.1 514.2L634.7 504.3M649.5 512.8L659.2 513.0M649.5 512.8L649.2 503.2M659.0 511.7L668.0 511.1M659.6 511.6L656.8 501.7M667.9 510.6L679.9 509.8M668.8 510.5L665.4 500.8M679.8 509.1L690.0 507.6M679.9 509.1L677.9 499.9M690.0 507.7L702.9 506.0M690.6 507.7L689.7 496.7M702.8 505.9L711.3 505.7M702.0 506.0L702.5 496.2M710.8 504.8L708.0 494.9M601.5 507.2L610.1 505.6M610.2 506.4L623.9 506.2M610.4 506.4L608.9 495.6M623.8 505.1L633.4 503.4M623.4 505.2L623.1 495.4M633.4 504.1L640.9 502.3M634.1 504.1L633.7 493.8M641.0 503.3L651.1 501.7M641.9 503.2L639.9 493.1M651.2 502.2L661.6 500.7M651.4 502.1L651.7 492.1M661.6 500.9L674.3 499.4M661.5 501.0L661.9 490.3M674.3 499.4L683.6 498.0M673.5 499.5L671.7 489.7M683.6 498.1L694.9 495.2M682.9 498.2L680.5 488.0M695.1 496.5L708.4 495.8M694.7 496.6L694.3 485.8M708.2 494.7L721.1 492.2M709.1 494.5L705.9 484.2M598.4 497.1L610.8 495.4M610.9 495.9L619.1 495.8M611.1 495.9L608.9 484.8M619.1 495.2L631.6 493.1M619.8 495.1L618.5 484.1M631.7 493.9L641.3 494.2M631.5 493.9L631.2 484.2M641.2 492.9L653.2 492.2M642.0 492.8L640.2 482.1M653.1 491.5L666.3 489.4M653.4 491.5L652.4 481.8M666.4 489.9L677.2 487.9M666.7 489.9L664.2 480.8M677.3 488.5L689.1 485.8M676.7 488.6L676.2 478.2M689.2 486.9L697.7 486.0M688.3 487.0L687.4 477.6M697.7 485.7L707.1 485.3M696.9 485.8L696.3 474.7M707.0 484.4L718.3 482.9M707.0 484.3L705.1 474.4M603.3 486.2L615.0 485.0M604.2 486.1L600.7 476.7M615.1 485.1L627.9 484.0M614.4 485.2L613.4 475.1M627.9 483.9L640.0 481.6M627.4 483.9L627.9 472.5M640.1 482.6L648.8 481.2M640.4 482.5L638.9 473.3M648.8 481.6L658.6 481.1M648.3 481.6L648.5 470.2M658.5 480.4L671.0 478.5M657.6 480.5L656.9 469.5M671.0 478.9L680.3 479.0M671.4 478.8L668.9 469.4M680.1 477.7L693.6 476.6M679.7 477.7L677.8 467.4M693.5 475.8L704.4 474.1M693.7 475.8L693.9 466.2M704.4 474.3L715.4 471.5M705.1 474.1L702.9 463.8M598.9 476.2L609.8 476.0M598.3 476.3L599.0 466.5M609.7 475.2L621.9 473.6M610.4 475.2L608.7 464.8M621.9 474.1L635.6 473.4M622.6 474.0L619.9 464.9M635.5 472.6L644.6 471.2M634.7 472.7L632.8 462.5M644.6 471.6L657.3 470.2M643.9 471.7L645.3 461.2M657.2 470.1L666.5 468.8M656.8 470.2L656.9 460.6M666.5 469.0L678.9 468.6M667.1 468.9L666.7 458.7M678.7 467.4L687.4 465.2M678.6 467.4L677.0 457.7M687.5 466.2L698.1 463.8M687.8 466.2L686.8 455.7M698.2 464.7L708.5 462.2M698.9 464.6L697.2 454.5M708.7 463.1L717.8 461.8M708.1 463.2L707.1 452.7M595.0 466.2L607.1 464.9M607.1 465.1L617.6 463.9M607.5 465.1L606.6 453.8M617.6 464.1L626.3 464.4M617.4 464.1L617.6 453.1M626.2 463.2L635.8 461.5M626.7 463.2L626.2 452.3M635.9 462.2L645.9 460.4M636.6 462.1L633.9 451.0M646.0 461.1L655.3 459.5M645.3 461.1L643.5 449.9M655.4 459.9L666.7 459.9M655.3 460.0L655.1 450.4M666.6 458.6L674.9 456.2M666.0 458.6L665.7 448.7M675.0 457.5L687.8 455.3M675.0 457.5L672.8 447.4M687.9 455.7L697.0 453.5M688.3 455.7L686.6 444.7M697.1 454.4L708.3 452.5M697.5 454.3L694.2 443.3M708.3 452.7L715.7 452.6M707.4 452.9L707.0 442.6M602.1 455.2L611.7 455.0M602.0 455.2L599.7 445.7M611.6 454.3L622.3 451.9M612.6 454.2L611.3 444.1M622.4 453.2L634.2 450.8M622.8 453.2L620.2 443.1M634.3 452.0L644.4 449.7M634.6 451.9L634.9 441.3M644.6 450.8L656.2 450.2M644.5 450.8L644.8 441.3M656.1 449.4L664.6 447.4M655.4 449.5L654.0 438.2M664.7 448.4L678.1 447.7M665.3 448.3L663.5 438.7M677.9 446.6L685.7 445.7M678.0 446.6L675.7 436.0M685.7 445.6L693.5 445.6M685.9 445.5L683.3 435.2M693.4 444.5L703.9 441.9M694.0 444.4L692.6 433.4M704.0 442.9L712.7 441.4M703.3 443.0L703.1 431.6M595.4 445.4L608.6 443.4M608.6 444.2L618.2 443.8M608.9 444.1L606.4 435.0M618.1 443.3L627.2 441.3M618.7 443.2L616.9 432.1M627.3 442.3L635.2 441.8M627.7 442.3L626.2 433.1M635.2 441.5L648.0 440.5M636.1 441.4L634.1 430.3M647.9 440.0L655.4 439.5M647.8 440.0L645.6 430.8M655.3 439.1L664.3 437.2M654.8 439.2L653.7 428.1M664.4 438.0L676.3 436.8M663.9 438.1L664.4 427.8M676.3 436.4L684.5 436.0M675.5 436.5L676.1 425.7M684.4 435.3L696.6 433.3M685.0 435.2L684.0 425.1M696.7 433.6L705.4 432.5M696.7 433.5L697.0 423.1M705.4 432.2L717.1 431.1M705.6 432.2L704.8 422.3M590.6 435.4L600.8 434.7M600.8 434.5L610.5 434.7M601.4 434.5L598.8 424.7M610.4 433.6L619.5 432.3M610.4 433.6L607.7 424.3M619.5 432.7L631.1 430.9M619.0 432.8L616.9 422.4M631.2 431.5L639.5 429.3M631.5 431.5L629.4 421.6M639.6 430.6L650.6 430.6M639.1 430.6L637.5 419.7M650.4 429.3L661.5 428.8M651.0 429.2L648.7 418.3M661.4 427.9L672.1 427.9M661.3 428.0L660.6 416.6M671.9 426.6L683.2 426.2M671.0 426.7L669.1 416.7M683.1 425.1L691.4 423.0M683.6 425.0L680.2 414.7M691.5 423.9L702.6 421.7M692.2 423.8L689.6 414.6M702.7 422.2L714.3 420.1M703.5 422.1L700.6 413.1M594.9 424.7L603.5 423.1M595.0 424.7L594.8 414.4M603.6 423.9L616.3 423.0M603.8 423.9L603.2 413.8M616.2 422.7L628.2 422.1M615.4 422.8L613.9 412.5M628.1 421.4L639.6 421.1M628.0 421.5L627.5 411.3M639.5 420.2L650.4 418.5M639.0 420.2L639.8 410.4M650.5 418.9L663.3 418.1M650.2 418.9L649.3 407.7M663.2 417.3L670.5 417.0M663.5 417.3L660.8 406.6M670.4 416.4L683.5 414.3M670.8 416.3L667.6 406.9M683.5 414.6L691.4 414.1M682.9 414.7L680.7 405.0M691.3 413.5L699.9 411.1M690.4 413.6L689.1 402.8M700.1 412.2L709.5 410.5M700.1 412.2L698.0 402.4M709.6 410.7L721.0 409.4M709.9 410.6L708.0 400.8M594.3 414.4L601.7 413.7M594.5 414.3L593.5 404.1M601.7 413.7L613.3 412.6M601.1 413.8L602.1 404.3M613.3 412.6L620.5 412.1M613.8 412.5L612.8 402.0M620.5 411.9L632.3 410.7M619.8 411.9L618.1 402.0M632.3 410.6L640.9 409.4M631.9 410.7L630.5 399.6M640.9 409.6L648.2 410.1M640.2 409.7L640.6 399.6M648.1 408.8L657.7 407.3M648.1 408.8L648.3 398.8M657.8 407.6L670.2 406.5M658.7 407.5L658.1 396.6M670.1 406.0L682.1 405.2M671.0 405.9L667.6 395.6M682.0 404.4L689.1 402.6M682.1 404.3L680.1 393.6M689.2 403.3L699.1 402.4M688.9 403.4L689.6 393.3M699.0 401.9L711.3 400.1M699.7 401.8L698.3 391.8M578.3 405.3L585.7 403.9M577.4 405.4L579.2 394.5M585.8 404.7L594.1 404.1M585.6 404.7L583.6 395.2M594.1 404.0L607.0 403.6M593.3 404.1L592.6 394.5M607.0 402.8L614.3 401.6M606.9 402.8L607.2 392.5M614.4 402.1L621.7 401.2M615.3 402.0L611.7 392.5M621.7 401.4L631.3 399.8M621.4 401.4L621.8 390.5M631.3 400.3L640.3 399.8M631.6 400.3L629.4 390.0M640.3 399.3L653.0 398.6M640.6 399.3L637.9 389.6M652.9 397.8L664.1 396.7M652.8 397.8L650.7 388.3M664.0 396.4L675.4 395.6M663.8 396.4L661.7 385.4M675.3 394.9L686.1 393.9M675.4 394.9L674.8 383.9M686.0 393.4L695.3 392.3M686.1 393.4L682.9 383.9M695.3 392.0L703.7 391.7M695.0 392.0L692.9 382.3M703.5 390.7L710.9 388.7M704.2 390.6L703.5 380.0M710.4 389.7L708.2 380.4M574.1 395.3L585.4 394.5M574.1 395.3L575.1 384.6M585.4 394.4L598.2 393.4M585.0 394.4L584.1 384.3M598.2 393.3L608.1 391.6M598.7 393.3L597.3 382.5M608.2 392.4L616.8 392.3M608.7 392.3L605.6 381.7M616.7 391.5L624.3 391.0M616.0 391.6L614.6 382.3M624.3 390.7L632.0 390.0M624.4 390.7L624.7 379.9M632.0 389.9L639.5 388.2M631.4 389.9L631.9 379.9M639.6 389.0L646.5 387.2M639.9 389.0L637.0 379.7M646.6 388.2L658.4 387.8M647.3 388.1L644.1 378.6M658.3 386.7L666.3 385.5M657.7 386.8L655.6 376.6M666.3 385.7L677.5 384.1M666.4 385.7L665.1 375.7M677.5 384.2L685.3 383.2M676.7 384.3L674.6 374.0M685.3 383.0L692.5 383.0M685.1 383.1L682.2 373.6M692.4 382.0L704.4 379.5M691.9 382.1L691.2 370.8M704.5 380.1L717.2 377.5M704.4 380.2L702.9 370.6M573.8 385.0L580.8 383.7M574.6 384.9L574.2 373.8M580.9 384.4L590.4 384.4M580.6 384.4L578.3 373.3M590.4 383.6L598.0 382.0M591.2 383.6L589.2 373.1M598.1 383.0L606.5 380.8M598.8 382.9L597.7 372.1M606.7 382.1L613.6 380.1M605.8 382.2L607.2 371.7M613.7 381.4L626.5 380.4M613.4 381.5L613.2 371.2M626.5 380.1L637.0 380.2M625.9 380.2L625.0 369.4M636.9 378.9L647.5 376.4M637.1 378.9L636.0 369.0M647.6 377.7L656.2 375.7M648.2 377.6L645.3 368.5M656.3 376.6L668.1 373.8M656.2 376.6L654.6 366.0M668.3 375.0L677.0 374.9M668.3 375.0L666.0 365.8M676.8 373.8L684.9 373.9M677.6 373.7L675.7 362.8M684.8 372.7L695.7 372.3M684.0 372.8L682.6 362.4M695.5 371.1L705.2 369.0M695.6 371.1L693.9 361.0M705.3 369.6L715.6 369.1M705.3 369.6L703.1 358.9M575.2 374.5L586.6 374.7M574.4 374.6L572.8 363.7M586.5 373.6L597.6 373.9M587.0 373.6L586.0 364.1M597.5 372.6L606.0 370.8M598.3 372.6L596.4 361.5M606.1 371.8L616.1 370.0M606.8 371.8L605.6 361.7M616.1 370.8L623.0 369.2M616.7 370.8L614.6 361.2M623.1 370.1L635.1 369.1M622.5 370.2L622.6 360.2M635.0 368.8L645.7 368.7M634.5 368.8L633.1 357.6M645.5 367.5L653.7 367.1M644.7 367.6L643.5 356.4M653.6 366.5L662.1 364.7M654.5 366.4L650.9 355.7M662.2 365.4L671.5 365.5M661.4 365.5L662.4 355.5M671.3 364.2L680.6 361.7M670.8 364.3L669.4 353.0M680.7 362.9L689.2 361.2M680.9 362.8L680.9 352.0M689.3 361.6L698.1 360.1M689.3 361.6L687.7 350.7M698.1 360.3L707.9 360.0M697.5 360.4L695.6 350.1M707.7 358.8L719.8 356.3M708.4 358.6L706.9 347.5M567.2 364.8L578.8 363.2M578.9 363.9L590.6 363.7M578.7 363.9L579.7 352.7M590.5 362.9L598.8 362.3M590.3 362.9L589.8 352.4M598.8 362.2L611.2 361.0M598.8 362.2L596.2 352.4M611.2 361.0L619.2 360.4M610.4 361.0L609.5 351.3M619.2 360.1L628.8 358.0M619.0 360.2L618.3 349.2M629.0 359.1L638.0 358.1M628.8 359.1L627.8 348.1M637.9 358.0L649.1 357.5M637.2 358.1L635.5 348.4M649.0 356.7L658.6 354.7M648.8 356.7L646.6 347.3M658.7 355.5L670.0 354.2M657.9 355.6L658.1 346.0M670.0 354.0L682.2 351.2M669.2 354.1L669.1 343.0M682.3 352.2L691.5 351.9M681.7 352.3L681.8 341.7M691.4 350.9L701.8 349.0M691.8 350.8L690.6 340.9M701.8 349.2L709.5 348.0M701.4 349.3L701.1 339.2M709.5 348.0L719.6 345.7M709.9 348.0L707.7 337.7M572.3 354.1L582.3 353.0M572.5 354.1L572.2 343.4M582.3 353.3L591.5 352.5M582.8 353.2L582.7 342.0M591.5 352.5L602.5 351.2M590.9 352.5L589.0 341.7M602.5 351.5L613.8 351.6M602.0 351.5L602.1 341.9M613.7 350.3L620.5 348.4M614.4 350.3L611.0 340.5M620.6 349.6L632.9 349.3M620.6 349.6L619.1 339.2M632.8 348.3L640.1 348.6M632.7 348.3L631.4 337.0M640.0 347.4L650.3 346.8M640.4 347.4L638.6 337.4M650.2 346.2L657.4 344.9M649.7 346.2L649.3 334.9M657.5 345.2L665.7 344.4M657.5 345.2L656.6 334.9M665.7 344.1L675.7 341.7M665.9 344.1L664.4 333.1M675.8 342.7L686.3 339.8M675.3 342.8L675.5 333.1M686.5 341.2L693.8 340.8M686.5 341.2L683.6 330.9M693.7 340.1L702.4 337.4M693.3 340.1L693.9 330.5M702.6 338.7L711.5 336.2M702.5 338.7L702.4 328.9M712.2 337.1L708.7 327.1M569.3 344.0L580.6 342.2M580.6 343.1L589.2 341.3M580.1 343.1L579.1 332.5M589.3 342.3L600.9 340.2M589.5 342.3L590.1 332.7M601.0 341.2L609.0 340.9M601.6 341.2L599.3 330.6M608.9 340.5L619.7 338.4M609.7 340.4L608.5 330.5M619.8 339.3L627.6 337.6M619.5 339.4L619.7 329.8M627.7 338.5L636.6 336.8M628.0 338.4L627.6 328.9M636.7 337.4L647.0 334.9M636.9 337.4L634.7 326.7M647.1 336.2L656.3 335.4M647.5 336.1L646.4 325.5M656.2 335.0L668.5 334.5M656.6 334.9L654.2 325.8M668.4 333.4L678.5 332.2M668.8 333.3L668.3 322.8M678.5 331.9L685.9 330.7M679.2 331.8L676.6 321.7M685.9 330.8L695.2 330.1M686.0 330.8L683.4 321.8M695.1 329.4L706.9 328.8M695.8 329.3L691.9 318.5M706.7 327.6L718.3 327.0M707.0 327.5L705.0 318.4M566.7 333.8L577.5 334.2M577.4 333.0L585.9 332.8M578.0 332.9L577.0 322.9M585.8 332.3L594.0 331.7M585.4 332.3L584.7 323.0M593.9 331.5L601.3 331.2M593.9 331.5L592.8 321.3M601.3 330.9L610.1 330.4M601.2 330.9L601.4 320.2M610.1 330.0L619.8 328.2M610.0 330.0L609.6 318.8M619.9 328.9L629.5 327.3M620.6 328.9L618.2 318.8M629.5 327.9L639.8 328.0M629.4 327.9L629.9 316.5M639.6 326.7L650.3 324.5M639.9 326.7L638.7 317.0M650.4 325.3L657.6 324.8M651.3 325.2L650.6 314.0M657.5 324.4L666.8 323.2M656.8 324.5L654.9 315.3M666.8 323.2L674.1 323.1M666.4 323.2L666.6 313.6M674.0 322.2L684.5 319.8M674.8 322.0L671.6 312.8M684.6 320.6L691.9 320.6M685.1 320.5L684.3 310.0M691.7 319.5L703.9 318.1M691.7 319.5L691.7 308.1M703.9 317.6L711.9 317.1M703.8 317.6L701.8 307.1M572.8 323.0L582.4 323.4M573.4 323.0L570.7 312.7M582.3 322.2L591.0 321.7M582.8 322.2L582.5 311.5M590.9 321.5L601.4 320.4M591.0 321.5L589.3 312.1M601.4 320.5L613.2 319.1M600.6 320.6L601.9 309.6M613.3 319.3L620.9 318.7M613.7 319.2L612.6 308.5M620.9 318.5L630.1 316.3M621.2 318.4L620.4 308.5M630.2 317.4L637.1 317.3M630.2 317.4L627.9 307.4M637.0 316.6L649.1 314.8M637.2 316.6L636.2 306.1M649.2 315.1L657.6 313.5M649.1 315.1L646.5 305.2M657.7 314.0L666.5 312.0M656.9 314.1L657.0 304.4M666.6 312.8L673.8 310.9M666.9 312.7L666.0 301.7M673.9 311.7L682.4 309.8M673.4 311.8L672.7 302.5M682.5 310.5L691.7 309.0M681.7 310.6L679.6 300.2M691.7 309.1L700.1 307.8M692.0 309.0L691.1 298.9M700.1 307.8L710.9 304.7M699.4 307.9L699.5 297.9M572.9 312.6L579.8 311.7M572.6 312.7L571.0 302.0M579.8 312.1L586.7 311.8M579.8 312.1L580.5 300.8M586.6 311.5L594.1 310.6M587.1 311.4L586.4 300.9M594.1 310.8L602.4 310.3M594.8 310.7L591.6 300.6M602.3 310.0L610.5 310.0M601.8 310.1L600.4 299.8M610.4 309.2L622.6 307.0M611.2 309.1L608.1 298.3M622.7 307.9L630.7 307.7M622.4 307.9L621.2 296.7M630.6 307.0L642.0 306.6M631.1 306.9L629.8 295.9M641.9 305.6L652.3 304.6M641.9 305.6L642.0 294.2M652.3 304.3L664.2 302.8M651.6 304.4L652.4 294.9M664.2 302.7L672.5 301.6M663.9 302.7L662.2 291.9M672.5 301.5L683.9 300.7M672.0 301.6L669.9 291.1M683.8 299.9L691.1 298.9M683.2 299.9L681.6 289.1M691.1 298.7L698.7 296.7M691.3 298.7L690.1 289.3M698.9 297.5L707.4 297.3M698.7 297.5L698.4 287.4M707.2 296.1L715.3 296.1M707.6 296.1L704.3 286.6M566.4 302.8L574.1 302.3M566.7 302.8L566.3 292.9M574.1 302.2L582.7 300.1M574.5 302.2L572.1 291.4M582.8 301.5L593.4 300.0M582.6 301.5L581.6 290.7M593.4 300.5L602.2 298.7M592.7 300.6L591.2 290.3M602.3 299.7L614.3 299.8M601.9 299.7L601.9 288.5M614.2 298.4L621.6 297.1M614.3 298.4L611.9 288.0M621.7 297.6L633.1 295.2M622.1 297.6L620.8 286.8M633.3 296.3L640.8 295.1M633.2 296.3L630.2 285.2M640.9 295.4L650.9 295.1M641.1 295.3L638.0 286.0M650.8 294.1L658.8 292.2M651.0 294.1L648.8 283.2M658.9 293.0L670.5 292.4M659.1 293.0L656.3 283.5M670.4 291.4L679.9 290.1M671.2 291.3L667.6 281.1M679.8 290.0L686.9 290.3M680.5 289.9L677.8 279.0M686.7 289.0L693.7 287.4M685.9 289.1L684.9 278.8M693.8 287.9L705.4 284.7M693.9 287.8L692.0 278.3M705.7 285.9L717.2 283.8M704.9 286.1L702.9 274.9M562.3 292.7L572.1 292.5M572.1 292.0L583.4 290.8M572.6 292.0L571.7 281.7M583.4 291.0L592.4 289.5M582.9 291.1L583.7 280.4M592.4 290.2L601.3 289.2M592.0 290.3L593.0 280.5M601.4 289.4L609.5 288.3M601.2 289.4L600.5 280.1M609.5 288.5L617.6 288.3M609.2 288.6L607.5 277.4M617.6 287.7L626.4 286.1M617.9 287.6L615.8 277.7M626.5 286.7L634.3 284.9M626.4 286.7L626.5 275.3M634.4 285.7L643.0 285.3M634.9 285.7L634.5 275.9M643.0 284.7L652.9 284.7M643.4 284.6L640.9 275.2M652.8 283.4L664.7 281.2M652.3 283.5L652.6 273.9M664.8 281.8L673.5 281.4M664.9 281.8L663.7 272.4M673.3 280.5L685.0 279.2M672.6 280.7L671.5 269.8M685.0 278.8L694.2 278.0M685.2 278.8L683.5 268.2M694.1 277.4L705.6 274.5M693.4 277.5L693.2 266.9M705.8 275.4L715.8 273.9M706.6 275.3L705.1 265.4M567.6 282.0L576.2 282.6M567.8 282.0L566.6 272.3M576.1 281.3L584.8 280.5M575.7 281.3L575.9 270.3M584.8 280.6L593.8 278.8M585.3 280.5L584.9 270.5M593.9 279.7L601.2 280.2M594.5 279.7L594.5 269.1M601.1 279.0L609.1 279.0M600.6 279.1L601.4 268.3M609.0 278.2L619.3 275.9M609.7 278.1L609.3 268.1M619.4 277.1L627.5 275.6M618.7 277.2L617.7 267.2M627.5 276.2L638.4 273.5M627.9 276.1L626.9 266.2M638.6 274.8L647.3 273.6M638.1 274.9L638.3 265.0M647.3 273.7L658.4 270.9M646.8 273.8L646.3 263.4M658.6 272.2L666.2 271.3M658.9 272.2L655.9 261.7M666.2 271.1L675.2 270.0M666.7 271.1L663.6 261.9M675.2 269.8L684.2 267.6M675.2 269.8L674.3 260.1M684.3 268.4L693.6 267.3M685.0 268.3L683.2 258.6M693.6 267.0L705.4 266.0M693.4 267.0L693.4 256.5M705.2 265.0L713.4 262.7M706.0 264.9L702.8 254.0M563.3 272.0L572.6 269.9M563.8 271.9L564.1 261.8M572.7 271.2L582.2 269.8M573.0 271.2L570.7 260.7M582.2 270.4L591.2 270.6M582.3 270.4L582.8 259.9M591.1 269.6L600.6 268.1M591.0 269.6L590.8 259.8M600.7 268.7L610.9 268.2M601.2 268.6L599.1 258.1M610.9 267.6L617.3 266.3M611.4 267.6L611.3 256.4M617.4 266.9L628.4 265.0M617.8 266.9L617.7 256.8M628.5 265.6L638.1 263.5M628.9 265.6L625.8 255.3M638.2 264.5L649.9 263.9M638.9 264.4L636.6 253.2M649.8 263.0L661.5 260.8M650.0 262.9L648.3 253.2M661.6 261.4L671.6 260.0M661.7 261.3L658.6 250.5M671.6 259.9L682.4 259.5M671.8 259.9L669.0 250.1M682.2 258.3L693.9 256.7M682.8 258.2L681.9 247.5M693.9 256.5L701.4 256.4M694.5 256.3L691.4 247.1M701.2 255.2L708.9 252.7M700.4 255.4L700.6 244.8M709.1 253.9L719.7 252.0M708.7 254.0L708.3 243.6M564.8 261.5L574.6 259.6M565.4 261.4L562.7 251.9M574.7 260.7L584.8 260.4M574.5 260.7L574.2 249.4M584.7 259.8L592.3 259.9M585.1 259.8L582.9 249.2M592.2 259.1L600.7 257.4M592.2 259.1L591.3 249.1M600.8 258.3L610.4 256.8M600.7 258.3L599.8 248.4M610.4 257.3L617.9 255.2M610.8 257.2L610.4 247.0M618.0 256.4L626.1 256.8M618.8 256.4L618.4 245.8M626.0 255.5L635.8 255.2M625.9 255.5L624.8 245.8M635.7 254.4L643.9 254.4M636.2 254.3L635.9 243.8M643.8 253.3L653.0 252.8M644.2 253.3L642.5 242.7M652.9 252.1L659.7 251.2M653.2 252.1L652.2 241.5M659.7 251.2L667.3 250.0M660.1 251.1L658.7 241.6M667.3 250.1L676.3 247.4M666.9 250.2L666.4 238.7M676.5 248.7L683.8 246.4M677.2 248.6L673.6 239.4M684.0 247.6L691.5 247.5M684.7 247.5L682.9 237.9M691.3 246.4L700.7 243.5M691.8 246.3L690.6 236.4M701.0 244.8L710.8 243.5M700.3 244.9L700.1 235.4M559.0 251.5L569.5 250.2M569.6 250.7L579.0 250.9M568.7 250.8L569.3 240.3M578.9 249.9L585.8 249.7M579.2 249.9L579.4 239.9M585.7 249.3L596.5 248.9M585.2 249.4L583.1 238.6M596.5 248.3L608.2 247.5M596.2 248.3L596.0 237.0M608.2 247.1L614.6 246.3M608.8 247.0L606.8 236.1M614.6 246.4L624.0 245.6M614.8 246.4L614.6 235.2M623.9 245.4L632.6 245.2M624.3 245.3L622.4 235.1M632.5 244.3L640.2 244.1M632.2 244.4L632.0 234.3M640.1 243.4L647.2 241.7M640.3 243.3L638.0 232.6M647.3 242.4L658.8 240.7M647.9 242.4L645.9 232.6M658.8 240.9L667.3 239.8M658.7 240.9L658.6 231.4M667.3 239.6L674.5 237.5M666.8 239.7L664.6 229.6M674.6 238.5L681.5 237.7M674.3 238.6L674.4 228.5M681.4 237.5L690.0 235.1M681.4 237.5L681.0 226.8M690.2 236.1L699.2 234.0M690.2 236.1L687.3 225.9M699.3 234.6L706.6 233.9M700.0 234.5L696.9 224.9M706.5 233.4L715.7 232.2M707.3 233.2L705.8 223.6M567.0 240.5L578.1 239.6M567.6 240.5L565.4 230.5M578.1 239.6L589.8 237.9M577.4 239.7L576.9 230.0M589.8 238.5L596.9 238.3M590.2 238.5L589.8 227.1M596.8 237.9L607.0 235.7M596.3 237.9L594.9 227.0M607.1 236.8L615.2 236.8M607.5 236.8L605.6 227.4M615.1 235.9L626.5 233.9M614.6 236.0L612.5 226.8M626.6 234.6L633.5 235.1M627.3 234.5L626.1 223.6M633.3 233.8L640.0 233.0M633.0 233.8L632.1 223.5M640.0 232.9L649.5 231.3M640.2 232.9L639.2 223.6M649.6 231.7L660.2 229.2M649.3 231.7L649.7 221.0M660.3 230.2L666.7 229.4M660.5 230.2L659.8 219.5M666.6 229.3L675.1 229.0M666.2 229.3L666.2 219.3M675.0 228.0L685.2 225.2M675.8 227.9L675.0 217.9M685.4 226.4L695.4 223.5M685.9 226.3L684.5 217.0M695.6 224.7L704.2 223.9M696.0 224.7L692.4 214.9M704.0 223.3L713.1 222.3M703.9 223.3L702.9 213.9M561.3 230.6L572.5 228.8M561.5 230.6L561.5 220.8M572.6 229.7L580.6 228.4M572.4 229.7L570.1 219.0M580.7 229.0L589.8 227.4M580.7 229.0L578.6 219.0M589.9 228.1L600.4 227.5M590.2 228.1L588.3 218.1M600.4 227.1L611.6 227.0M600.8 227.1L599.9 217.4M611.5 225.9L617.9 225.9M611.8 225.9L611.4 216.4M617.8 225.2L628.9 225.0M618.3 225.2L617.4 215.1M628.8 223.9L640.4 222.9M628.4 224.0L628.1 213.9M640.4 222.5L647.6 221.9M640.9 222.4L638.5 212.1M647.5 221.5L656.8 219.5M647.1 221.6L647.3 210.5M656.9 220.2L666.1 217.6M656.3 220.3L654.3 210.9M666.2 218.9L672.6 217.4M666.3 218.9L664.1 209.3M672.6 217.9L681.7 217.1M672.2 218.0L670.4 207.3M681.6 216.5L693.2 215.0M681.8 216.5L680.7 205.4M693.1 214.6L703.0 213.1M693.8 214.5L690.4 205.1M703.0 213.0L709.4 212.0M702.9 213.0L700.3 203.7M709.4 211.8L719.5 209.5M709.7 211.8L708.1 200.9M560.4 220.3L567.5 220.9M561.1 220.2L558.9 210.0M567.4 219.7L573.9 219.3M567.6 219.7L567.4 209.7M573.9 219.2L584.5 219.5M573.3 219.2L572.7 208.1M584.4 218.2L595.7 215.9M585.1 218.2L584.4 207.5M595.8 217.1L602.5 215.5M595.1 217.2L595.2 206.7M602.6 216.4L611.7 215.3M603.1 216.4L600.6 205.7M611.7 215.5L621.7 213.9M612.4 215.4L611.2 204.3M621.8 214.3L630.0 214.1M621.1 214.4L621.6 203.2M629.9 213.3L638.6 211.1M629.6 213.4L630.0 202.1M638.7 212.2L647.7 212.2M638.1 212.3L638.5 201.9M647.5 211.0L654.1 211.1M648.2 210.9L646.9 201.3M654.0 210.1L662.5 209.3M654.5 210.1L654.1 200.1M662.4 208.9L669.3 208.5M663.0 208.8L660.3 199.5M669.2 207.9L678.8 205.3M668.7 208.0L666.9 198.1M679.0 206.4L690.0 204.3M678.8 206.5L678.4 195.6M690.1 204.6L697.3 203.6M689.4 204.7L688.4 193.8M697.3 203.4L706.4 200.6M697.0 203.5L696.5 193.0M706.6 201.8L713.0 199.4M705.8 201.9L705.3 192.2M563.9 209.6L574.3 208.2M563.5 209.6L564.4 198.2M574.3 208.7L584.2 208.4M574.3 208.7L572.5 198.4M584.1 207.8L593.2 207.1M583.8 207.9L581.7 198.2M593.2 207.0L603.2 207.1M593.1 207.0L592.5 196.9M603.1 206.0L609.3 204.5M603.2 205.9L603.3 195.6M609.4 205.3L620.8 205.2M609.6 205.3L609.7 194.0M620.7 204.0L631.8 203.2M620.6 204.0L620.1 194.0M631.8 202.6L642.1 202.6M632.0 202.6L631.3 191.5M641.9 201.3L649.3 199.0M642.6 201.2L641.2 191.4M649.5 200.3L660.9 200.1M650.1 200.2L648.8 189.3M660.7 198.7L667.1 197.5M660.7 198.7L660.0 188.6M667.1 197.8L678.4 196.7M666.5 197.8L664.3 187.1M678.3 196.0L689.3 193.9M677.7 196.1L676.6 185.3M689.3 194.2L697.1 193.1M689.8 194.2L686.7 183.8M697.1 192.9L703.6 193.0M697.1 192.9L694.0 183.5M703.4 191.8L713.5 188.6M703.7 191.8L700.2 182.3M560.8 199.4L569.7 198.8M561.0 199.4L558.6 190.1M569.7 198.7L576.9 198.1M570.0 198.7L570.1 188.8M576.9 198.1L582.9 196.3M576.1 198.1L576.7 188.5M583.0 197.5L593.0 195.9M583.2 197.5L582.0 188.1M593.1 196.5L599.5 195.9M593.8 196.5L592.0 186.0M599.5 195.9L608.5 196.1M599.0 195.9L598.6 185.9M608.4 194.9L616.3 193.6M608.7 194.9L607.2 184.3M616.3 194.0L623.7 194.2M615.8 194.1L614.4 184.3M623.6 193.2L633.0 191.9M623.6 193.2L620.9 182.2M633.0 192.0L640.9 191.0M633.0 192.0L632.8 182.6M640.9 191.0L649.4 190.4M641.3 190.9L639.1 179.7M649.3 189.8L656.0 190.1M649.7 189.8L648.9 180.0M655.9 188.9L664.7 186.8M655.7 188.9L654.8 177.8M664.8 187.6L676.0 186.9M664.2 187.7L664.4 177.4M675.8 185.9L683.9 184.2M675.4 186.0L673.0 175.2M684.0 184.6L693.6 182.1M683.4 184.7L683.8 174.3M693.8 182.9L699.9 181.0M693.9 182.9L692.7 173.3M700.1 181.9L706.7 179.5M699.4 182.0L698.2 171.6M706.9 180.6L713.1 179.8M707.5 180.5L706.6 170.6M559.8 189.1L570.5 187.8M560.1 189.0L558.7 178.0M570.5 188.2L578.8 187.9M569.9 188.2L568.9 177.2M578.8 187.5L587.8 186.0M579.2 187.4L576.7 178.1M587.8 186.6L598.3 184.4M588.4 186.6L586.4 176.8M598.4 185.6L606.3 185.1M598.2 185.6L596.0 175.6M606.2 184.7L614.8 182.9M606.6 184.7L604.6 174.7M614.9 183.7L624.2 181.3M614.8 183.8L614.1 173.2M624.3 182.6L633.7 182.2M624.5 182.6L623.7 171.8M633.6 181.4L640.8 179.3M633.6 181.5L631.5 171.3M641.0 180.5L649.2 178.0M640.4 180.6L639.4 169.7M649.4 179.3L660.6 177.5M649.5 179.3L648.5 168.5M660.6 177.7L666.8 177.2M660.4 177.7L658.1 168.5M666.7 176.8L677.3 175.4M666.5 176.8L665.0 165.8M677.3 175.1L685.0 173.7M677.8 175.1L676.2 164.1M685.1 173.9L693.6 171.3M685.7 173.8L682.1 164.7M693.8 172.4L704.1 170.9M694.0 172.4L692.4 161.9M704.0 170.6L714.0 168.6M703.9 170.6L701.5 161.4M554.7 179.0L561.4 178.8M561.4 178.5L568.2 177.0M560.8 178.5L561.4 167.2M568.3 177.9L577.9 177.0M567.7 178.0L568.0 168.4M577.9 177.1L588.1 176.1M578.2 177.1L578.3 167.3M588.1 176.1L595.3 174.4M587.9 176.2L585.5 166.2M595.4 175.4L602.1 174.7M595.4 175.4L593.7 164.6M602.1 174.7L608.7 173.8M602.6 174.6L601.6 163.7M608.7 174.0L615.7 174.5M609.0 173.9L608.7 163.1M615.6 173.2L622.9 170.9M615.1 173.2L613.8 163.7M623.1 172.3L630.9 170.3M623.3 172.3L620.9 162.4M631.1 171.3L641.5 170.2M631.0 171.3L630.1 161.1M641.5 169.9L650.3 168.2M641.4 169.9L639.7 159.0M650.3 168.7L658.4 168.5M650.4 168.7L648.4 158.2M658.3 167.5L667.1 165.9M657.8 167.6L657.0 156.6M667.1 166.2L675.4 165.3M666.8 166.3L665.5 155.3M675.3 164.9L681.5 164.3M675.9 164.8L674.3 154.9M681.5 163.9L688.0 161.8M681.8 163.9L680.6 153.7M688.2 162.8L696.4 162.7M689.0 162.7L686.3 151.7M696.2 161.4L705.5 160.6M696.5 161.4L695.1 151.1M705.4 159.8L715.1 157.8M704.9 159.9L704.9 149.0M556.4 168.4L566.2 167.9M556.3 168.4L556.6 157.0M566.2 167.6L575.8 166.2M565.7 167.7L564.9 157.8M575.8 166.8L583.4 164.9M576.0 166.8L573.7 156.5M583.5 166.1L590.2 165.6M583.9 166.1L582.3 155.9M590.2 165.5L597.7 165.6M589.9 165.5L590.0 154.6M597.6 164.7L605.9 163.2M597.7 164.7L595.6 155.1M606.0 163.8L616.8 162.8M605.4 163.8L605.1 153.4M616.7 162.6L626.9 160.7M617.1 162.5L615.7 152.1M627.0 161.3L636.4 158.9M626.5 161.4L627.2 150.9M636.5 160.1L647.1 158.7M635.9 160.1L634.2 149.4M647.1 158.6L653.8 156.5M646.7 158.7L646.1 148.0M654.0 157.6L661.5 157.4M653.2 157.7L652.1 147.1M661.3 156.5L670.2 155.5M661.6 156.5L660.2 145.3M670.1 155.2L679.0 152.7M669.8 155.2L667.5 144.5M679.2 153.7L690.2 151.4M679.4 153.7L676.4 143.7M690.2 151.9L699.5 150.8M689.9 151.9L689.6 141.6M699.4 150.3L707.1 148.7M699.2 150.3L698.9 139.9M707.1 148.9L716.8 147.4M706.7 148.9L704.7 139.2M558.7 157.8L567.7 156.8M558.1 157.8L559.0 147.6M567.7 157.0L575.4 155.4M568.5 157.0L567.0 145.7M575.5 156.4L583.8 154.9M575.5 156.4L573.1 145.3M583.9 155.6L592.4 155.5M584.4 155.5L584.3 145.5M592.3 154.8L599.6 154.1M592.8 154.7L590.6 145.0M599.6 154.0L606.3 154.4M599.3 154.0L597.3 143.6M606.2 153.3L617.0 152.5M606.7 153.2L605.2 142.4M616.9 152.0L625.8 149.9M616.5 152.1L615.6 142.4M625.9 150.9L635.2 150.3M625.8 150.9L624.6 141.0M635.2 149.7L645.8 147.0M634.9 149.7L633.7 139.0M646.0 148.2L653.8 147.4M646.3 148.2L645.4 138.7M653.8 147.1L664.0 146.6M653.7 147.1L652.5 135.9M663.9 145.6L673.4 143.2M664.3 145.5L661.8 136.0M673.6 144.1L680.3 144.3M672.9 144.2L670.7 134.5M680.1 143.0L689.4 140.9M680.7 142.9L677.1 132.0M689.5 141.4L700.1 140.4M688.9 141.5L688.2 130.1M699.9 139.6L706.8 137.8M699.3 139.7L699.4 129.0M706.9 138.3L713.6 136.7M707.0 138.3L705.4 128.5M550.2 147.9L560.7 147.4M560.7 147.1L571.0 146.9M561.4 147.1L560.9 137.4M570.9 146.3L580.3 144.8M570.7 146.3L571.2 135.2M580.4 145.4L587.4 145.1M579.7 145.5L579.0 135.2M587.4 144.7L596.0 143.3M586.8 144.8L587.7 134.9M596.1 143.9L602.5 144.1M596.7 143.8L596.4 133.6M602.4 143.2L610.1 143.7M602.4 143.2L600.9 133.3M609.9 142.3L619.6 142.1M609.4 142.4L608.8 132.6M619.5 141.2L625.9 140.4M618.8 141.3L618.6 131.0M625.9 140.4L632.4 140.8M626.6 140.3L624.3 130.5M632.3 139.6L642.6 138.2M632.6 139.5L631.1 130.1M642.6 138.2L651.4 136.8M642.0 138.2L639.8 128.5M651.4 136.9L657.3 135.7M651.4 136.9L650.4 126.9M657.3 136.0L667.3 133.5M657.3 136.0L656.3 126.0M667.4 134.5L676.6 132.6M667.1 134.5L665.5 123.9M676.7 133.0L686.7 132.2M676.8 133.0L674.2 123.6M686.6 131.3L697.4 130.3M685.8 131.4L685.5 121.0M697.2 129.4L703.9 129.2M697.7 129.3L696.4 119.7M703.8 128.2L710.1 126.6M703.5 128.3L700.8 117.4M710.2 127.0L708.6 116.1M552.7 137.3L559.0 135.6M559.1 136.8L568.2 134.9M559.4 136.8L558.6 125.5M568.3 136.0L577.9 134.8M567.7 136.1L566.2 126.4M577.9 135.1L584.0 133.8M584.1 134.6L594.7 133.0M584.6 134.5L583.9 124.7M594.7 133.5L601.1 131.4M594.4 133.5L594.3 123.0M601.2 132.8L611.1 133.0M601.5 132.8L599.6 122.9M610.9 131.7L618.5 129.4M618.6 130.8L626.5 129.1M617.9 130.8L618.6 121.1M626.6 129.7L632.6 130.0M632.5 129.0L642.5 128.9M632.3 129.0L631.1 119.3M642.3 127.6L648.5 126.9M642.1 127.7L640.1 116.6M648.4 126.8L656.2 126.4M648.8 126.7L647.1 116.6M656.1 125.6L666.8 125.3M655.4 125.7L654.9 114.5M666.6 124.0L673.6 124.2M667.2 123.9L665.0 113.5M673.4 122.9L681.1 122.7M673.3 122.9L671.6 113.2M680.9 121.7L691.2 120.9M680.9 121.7L678.3 112.5M691.0 119.9L698.4 119.5M691.6 119.8L690.1 109.0M698.2 118.6L706.2 117.9M706.0 117.2L715.5 115.2M705.5 117.3L705.0 106.0M488.8 414.4L490.3 402.6M500.4 414.1L499.4 403.0M509.3 413.8L506.7 401.7M519.9 413.3L519.1 401.8M531.5 412.8L530.8 400.5M544.2 412.1L542.9 400.9M557.5 411.3L555.4 399.4M568.1 410.6L568.0 398.1M480.2 403.1L492.7 403.0M492.7 402.8L505.7 402.4M492.2 402.8L494.0 392.2M505.7 402.4L518.1 401.7M505.2 402.4L503.7 392.1M518.1 401.9L531.7 402.3M518.5 401.9L518.0 389.4M531.7 401.3L539.7 400.0M531.1 401.3L532.4 389.5M539.8 400.9L547.8 399.3M539.2 400.9L540.2 390.3M547.9 400.4L556.2 400.8M547.0 400.5L545.6 388.7M556.1 399.9L569.0 397.7M556.9 399.9L553.8 389.6M569.6 399.0L567.6 388.0M476.1 391.7L489.9 391.2M489.9 391.4L500.2 391.0M489.7 391.4L489.0 379.3M500.2 391.1L511.3 391.4M500.6 391.1L500.3 380.2M511.2 390.7L523.8 389.4M511.4 390.7L512.4 378.6M523.8 390.2L535.7 390.4M524.4 390.2L522.2 377.8M535.6 389.6L545.3 389.0M535.0 389.7L535.3 377.4M545.3 389.1L556.0 389.2M546.2 389.0L543.4 378.3M556.0 388.4L566.6 387.2M556.2 388.4L556.1 376.8M566.6 387.7L579.2 387.1M566.8 387.7L566.6 375.4M484.9 380.1L497.7 379.1M485.3 380.1L483.4 369.8M497.7 379.7L505.8 380.4M497.6 379.7L495.6 367.2M505.8 379.5L519.7 380.1M506.3 379.5L503.8 367.6M519.6 378.9L529.8 377.8M519.6 378.9L520.9 368.0M529.9 378.5L538.1 378.0M530.0 378.4L529.2 368.1M538.1 378.0L549.3 377.0M538.5 378.0L539.0 366.9M549.3 377.4L559.9 375.3M548.9 377.4L547.5 365.1M560.0 376.7L571.8 375.9M560.9 376.6L558.6 364.9M571.8 375.8L570.7 364.6M487.4 368.6L500.7 368.9M487.3 368.6L486.2 357.6M500.7 368.2L511.4 368.1M500.3 368.2L498.6 356.7M511.4 367.8L521.7 368.3M511.7 367.8L512.3 356.5M521.7 367.4L533.7 366.6M521.0 367.4L520.2 355.1M533.7 366.8L546.4 365.3M533.9 366.8L533.2 355.1M546.5 366.1L558.4 364.4M546.8 366.0L547.3 355.6M558.4 365.3L568.1 364.3M558.6 365.3L558.0 354.4M568.6 364.6L566.0 353.0M486.0 357.1L495.5 355.7M486.1 357.1L484.6 346.2M495.5 356.9L509.2 356.1M496.3 356.9L496.4 345.2M509.2 356.4L520.4 356.9M509.5 356.4L510.2 345.4M520.4 356.0L529.0 354.9M520.7 355.9L519.7 345.2M529.0 355.6L538.9 354.0M529.0 355.6L529.1 343.6M539.0 355.0L547.4 354.5M539.4 355.0L538.1 344.5M547.4 354.5L557.6 354.5M547.8 354.5L548.0 342.5M557.6 353.9L569.4 354.3M558.3 353.8L555.4 343.0M569.6 353.0L567.5 341.4M485.4 345.7L493.7 344.6M485.3 345.7L485.1 333.2M493.7 345.5L504.5 346.1M493.9 345.5L491.8 333.1M504.5 345.1L516.5 345.5M505.2 345.1L504.1 332.5M516.4 344.7L529.5 345.4M515.9 344.7L514.5 333.5M529.4 344.1L538.5 344.4M530.0 344.0L528.4 331.8M538.4 343.6L546.1 342.1M539.2 343.5L537.0 332.4M546.2 343.1L556.4 343.0M546.0 343.1L547.1 331.0M556.3 342.5L566.1 340.9M556.1 342.5L553.9 331.3M566.3 341.8L564.1 329.9M475.6 334.4L488.7 333.5M488.7 334.1L496.4 335.1M487.9 334.2L488.6 322.0M496.4 333.9L508.2 333.1M496.7 333.9L495.5 322.8M508.2 333.5L520.4 332.9M507.9 333.5L508.7 322.9M520.4 333.0L532.2 333.7M519.5 333.1L519.1 320.8M532.1 332.4L540.0 332.9M531.9 332.5L532.8 321.3M539.9 332.0L549.7 332.3M540.3 332.0L540.1 319.9M549.6 331.4L562.3 331.9M549.0 331.5L548.4 318.9M562.2 330.6L573.5 330.4M561.8 330.6L560.8 319.7M485.9 322.7L499.0 323.0M498.9 322.4L508.4 321.1M508.5 322.0L515.7 321.7M515.7 321.8L527.9 321.0M527.9 321.2L540.3 321.8M540.3 320.5L551.6 319.7M551.6 319.8L561.5 317.8M561.6 319.1L571.1 317.1M440.6 315.0L453.2 315.7M453.2 315.0L473.5 316.1M452.6 315.0L451.6 295.4M473.5 314.9L489.7 313.8M472.8 314.9L471.5 294.5M489.7 314.5L508.5 314.0M490.4 314.5L487.9 294.3M508.5 313.9L523.2 314.5M508.1 313.9L507.1 293.3M523.2 313.3L539.5 311.3M523.3 313.3L523.5 293.3M539.6 312.4L561.0 310.0M540.3 312.4L537.4 293.4M561.6 311.0L559.1 293.0M455.6 295.5L468.7 294.4M455.3 295.5L456.1 274.9M468.7 295.4L487.8 295.4M468.8 295.4L470.0 275.1M487.8 295.1L507.3 295.2M487.0 295.1L488.7 274.3M507.3 294.4L524.1 294.3M506.7 294.5L506.2 273.5M524.0 293.7L540.9 293.5M524.4 293.7L523.2 273.3M540.9 292.8L562.6 290.5M541.5 292.8L540.1 273.0M563.1 291.3L560.3 273.1M451.3 276.0L468.7 276.9M450.7 276.0L450.3 256.9M468.7 275.9L490.2 276.8M468.2 275.9L467.1 257.0M490.2 275.5L503.1 275.2M490.0 275.5L490.1 257.3M503.1 275.1L515.5 274.4M503.2 275.1L502.1 256.8M515.5 274.6L532.0 273.3M514.6 274.6L515.1 255.1M532.1 273.8L548.1 273.2M532.0 273.8L530.1 253.9M548.1 272.8L564.2 271.2M548.2 272.8L548.2 251.9M453.0 256.5L466.2 256.9M452.5 256.5L452.9 237.2M466.2 256.4L480.1 254.9M465.9 256.4L464.4 235.5M480.1 256.2L492.7 257.2M479.6 256.2L478.3 236.5M492.6 255.9L506.5 254.5M492.9 255.9L492.8 237.5M506.5 255.4L521.8 254.8M506.6 255.4L506.8 234.8M521.8 254.7L538.2 254.0M522.1 254.7L521.9 234.8M538.1 253.8L559.7 252.4M537.8 253.9L535.9 232.6M559.8 252.4L556.7 234.2M437.6 236.9L456.5 235.7M456.6 236.9L477.7 236.2M456.2 236.9L457.6 219.1M477.7 236.7L496.5 236.7M477.2 236.7L476.9 218.4M496.4 236.2L517.4 235.9M497.0 236.2L495.8 217.2M517.4 235.4L537.4 234.3M517.3 235.4L515.5 217.7M537.4 234.3L552.7 234.6M538.1 234.3L535.5 212.9M552.7 233.3L569.8 232.6M552.6 233.3L552.2 212.0M439.3 217.3L454.6 217.0M454.6 217.3L467.8 216.9M454.4 217.3L454.5 195.8M467.8 217.2L486.1 216.5M467.7 217.2L468.6 197.6M486.2 216.9L501.6 215.6M486.6 216.9L486.4 196.3M501.6 216.4L517.0 216.0M500.8 216.4L499.4 195.6M517.0 215.8L534.7 213.7M517.3 215.8L516.2 197.4M534.8 214.8L555.3 213.3M534.2 214.9L532.7 197.1M555.9 213.4L554.1 194.2M448.0 197.7L467.2 196.5M447.4 197.7L449.4 179.8M467.2 197.6L487.4 198.4M467.7 197.6L467.2 177.9M487.4 197.2L500.6 196.4M487.4 197.2L485.5 175.8M500.6 196.8L518.1 197.0M500.3 196.8L498.4 177.9M518.1 196.1L537.3 194.4M517.7 196.1L516.3 176.1M537.3 195.0L549.3 195.3M537.7 195.0L536.1 176.8M548.9 194.3L546.4 173.9M437.7 178.0L455.7 179.3M455.7 178.1L469.2 177.2M456.3 178.1L456.5 159.4M469.2 177.9L489.5 178.0M469.1 177.9L470.4 157.2M489.5 177.5L504.2 176.4M489.9 177.5L489.4 159.2M504.2 177.0L521.0 175.7M504.0 177.0L502.4 156.7M521.0 176.2L534.0 176.7M521.3 176.2L518.8 157.5M533.9 175.5L552.5 173.9M534.4 175.5L531.2 154.9M553.3 174.2L549.8 154.5M448.7 158.4L463.1 158.5M449.2 158.4L450.1 138.0M463.1 158.3L474.0 158.4M463.8 158.3L463.1 139.7M474.0 158.1L491.4 157.5M473.5 158.1L474.1 136.8M491.4 157.7L507.2 156.4M491.2 157.7L490.0 138.9M507.3 157.1L525.7 156.8M507.9 157.1L507.6 135.9M525.7 156.3L538.0 156.7M525.0 156.3L524.0 136.1M538.0 155.5L550.1 156.0M537.4 155.6L537.3 137.5M549.9 154.7L549.7 134.5M442.4 138.6L462.0 138.4M462.0 138.5L480.6 138.6M480.5 138.2L498.0 138.6M497.9 137.7L510.7 137.4M510.7 137.2L523.9 136.0M523.9 136.6L542.7 134.3M542.8 135.4L555.4 135.3M581.9 585.6L581.2 558.1M549.2 562.1L577.4 559.5M549.0 562.1L546.4 538.5M577.5 560.3L600.6 559.4M578.3 560.3L574.6 533.5M599.5 558.6L597.3 531.3M477.8 539.2L503.7 539.1M503.7 538.6L526.3 536.7M504.3 538.6L504.2 512.9M526.4 537.7L544.7 537.3M526.8 537.7L523.9 512.2M544.6 536.9L566.3 536.7M544.9 536.8L543.0 510.0M566.3 535.6L596.4 534.5M566.0 535.6L563.4 510.4M595.6 533.4L594.4 506.2M482.9 513.7L500.5 512.1M500.5 513.3L518.0 513.5M501.2 513.3L498.2 488.7M518.0 512.7L547.3 511.0M517.1 512.7L515.5 485.7M547.3 511.3L569.8 510.4M546.6 511.3L544.2 485.6M569.8 509.9L593.8 507.0M570.2 509.9L567.6 484.4M593.1 508.1L590.3 480.8M489.6 488.2L511.3 488.8M489.3 488.2L489.7 461.4M511.3 487.6L537.3 486.2M511.9 487.5L510.4 463.7M537.3 486.4L566.6 484.1M536.8 486.5L535.0 462.6M566.7 484.7L591.5 483.9M567.4 484.6L566.5 457.3M592.1 482.8L588.8 456.9M487.2 463.0L513.6 463.5M487.3 463.0L488.2 439.9M513.6 462.2L537.5 462.3M513.0 462.2L511.8 437.4M537.4 461.1L566.0 459.7M536.9 461.1L536.1 435.0M566.0 459.4L589.3 458.2M566.8 459.3L566.1 435.7M589.5 457.6L586.1 433.8M470.6 438.0L499.5 438.7M499.4 437.4L522.5 437.6M499.2 437.4L499.1 414.0M522.5 436.5L551.4 435.0M522.2 436.5L519.7 409.4M551.4 435.0L569.8 432.9M551.5 435.0L549.9 411.0M569.9 433.8L586.9 432.7M569.3 433.8L569.5 408.8M586.4 432.5L585.3 405.1M494.0 412.3L513.2 413.0M513.2 411.6L539.7 411.5M539.6 410.4L559.7 408.8M559.8 409.2L587.0 406.7" fill="none" stroke="#151515" stroke-width="0.8" stroke-opacity="0.85"/><path d="M350.1 287.5L363.7 288.4M350.4 287.5L350.9 270.3M363.7 288.3L375.6 288.0M364.6 288.3L363.4 268.8M375.5 288.9L392.1 289.8M375.1 288.9L376.0 272.3M392.1 289.6L406.8 290.6M391.8 289.6L393.9 269.8M406.8 290.1L423.3 291.1M406.3 290.0L408.6 272.0M423.3 290.4L439.5 291.1M423.8 290.4L424.6 270.8M440.1 290.6L438.0 272.4M349.6 269.0L365.7 269.3M350.1 269.1L349.9 249.4M365.7 270.0L378.0 269.4M365.3 270.0L365.9 252.2M378.0 270.6L396.8 272.5M377.3 270.6L377.9 251.2M396.8 271.4L416.5 271.9M397.1 271.4L396.9 254.8M416.5 271.9L431.4 272.1M417.2 271.9L415.2 252.1M431.4 272.2L446.0 273.4M430.8 272.2L431.2 252.7M445.2 272.3L445.5 255.6M342.6 250.1L356.7 251.6M356.8 251.1L367.4 250.9M357.2 251.1L358.7 232.5M367.4 251.7L380.1 253.3M367.3 251.7L369.8 234.0M380.1 252.3L397.6 252.2M380.3 252.3L382.1 235.7M397.6 253.0L415.0 252.2M397.0 253.0L398.8 235.8M415.0 253.5L425.9 252.7M415.5 253.5L413.8 235.6M425.9 253.7L438.0 254.1M425.2 253.7L425.4 234.1M437.6 253.8L439.8 234.1M352.7 232.4L368.9 234.4M353.2 232.4L354.1 213.9M369.0 233.3L384.2 234.2M369.6 233.4L371.3 215.0M384.2 234.1L399.5 234.7M384.6 234.1L383.5 216.0M399.5 234.6L412.8 235.0M399.4 234.6L401.3 216.9M412.8 235.0L428.1 235.2M412.2 235.0L413.4 215.0M428.1 235.3L442.5 234.1M428.1 235.3L429.1 218.7M443.1 235.4L442.8 215.5M347.7 213.6L362.2 214.2M362.2 214.5L377.8 215.2M362.7 214.5L362.6 197.4M377.8 215.3L392.1 214.6M377.9 215.3L378.6 195.8M392.1 215.9L402.3 216.8M392.3 215.9L394.4 196.0M402.3 216.3L412.8 216.4M403.1 216.3L402.7 199.0M412.8 216.6L424.7 217.8M412.6 216.6L413.2 199.5M424.8 216.8L440.9 216.9M424.1 216.8L424.2 196.5M441.4 217.0L439.8 198.6M352.8 195.4L365.5 197.1M353.4 195.4L353.2 176.0M365.6 196.2L376.7 197.8M364.8 196.1L366.5 178.9M376.7 196.8L388.6 197.2M376.4 196.8L378.0 179.5M388.6 197.3L405.8 197.8M388.9 197.3L389.8 179.8M405.8 197.9L419.0 197.4M406.4 197.9L407.4 179.2M418.9 198.2L430.3 199.0M418.3 198.2L420.0 179.5M430.3 198.4L445.7 199.6M430.2 198.4L429.1 180.6M445.1 198.5L447.3 180.9M355.3 177.0L365.4 177.6M355.0 177.0L356.5 158.9M365.3 177.6L377.0 178.1M364.9 177.6L367.5 158.9M377.0 178.3L391.7 177.7M376.2 178.2L377.3 160.3M391.6 178.9L407.2 178.8M391.6 178.9L393.8 162.0M407.2 179.4L421.4 180.6M407.3 179.5L407.3 160.0M421.4 179.8L432.9 180.5M421.9 179.8L420.4 160.1M432.9 180.0L447.5 179.2M433.2 180.0L434.1 162.9M358.7 158.6L372.4 158.8M359.2 158.7L358.7 141.1M372.3 159.4L385.3 160.7M372.2 159.4L374.7 140.1M385.3 160.1L397.2 159.7M384.6 160.1L385.2 142.8M397.2 160.6L413.9 162.1M396.4 160.5L396.3 143.1M413.9 161.1L431.5 162.0M414.1 161.1L415.8 141.3M431.5 161.4L443.3 160.4M431.5 161.4L431.8 142.2M443.4 161.5L443.2 143.5M359.7 140.1L369.6 139.8M369.6 140.7L387.4 142.9M387.5 141.6L399.8 141.6M399.8 142.1L412.0 142.1M412.0 142.4L425.1 143.2M425.1 142.7L436.3 142.4M436.3 142.9L452.0 142.2M183.3 277.7L187.0 263.0M196.9 280.0L199.3 265.5M209.7 282.0L210.9 268.8M221.5 283.8L223.3 269.1M233.0 285.4L236.2 272.8M243.2 286.8L245.1 273.1M258.8 288.8L260.9 276.5M268.6 290.0L271.2 277.1M179.9 263.1L189.8 265.4M189.9 264.8L203.6 266.9M190.4 264.9L192.7 249.9M203.6 267.1L218.1 268.5M203.7 267.1L204.4 253.4M218.0 269.3L229.1 270.8M217.2 269.2L219.5 254.7M229.1 271.0L245.0 274.5M228.4 270.9L230.4 257.2M245.1 273.2L261.1 274.8M245.5 273.3L245.4 259.5M261.0 275.2L277.2 277.0M261.1 275.3L263.3 261.0M277.7 277.2L280.1 264.0M180.1 249.1L190.8 250.0M190.6 251.0L199.3 253.5M190.0 250.9L191.5 238.0M199.4 252.4L209.9 254.2M200.1 252.6L201.0 238.5M209.9 254.1L225.8 256.2M209.3 254.1L212.1 239.5M225.7 256.6L236.5 259.4M226.0 256.6L226.5 242.3M236.7 258.1L246.7 258.9M236.6 258.1L239.2 243.9M246.6 259.5L262.2 261.5M246.2 259.5L247.5 244.8M262.2 261.5L277.7 264.1M261.8 261.5L264.3 248.4M278.4 263.4L280.9 249.5M174.6 234.1L189.0 236.1M188.9 236.7L202.3 237.9M189.1 236.7L192.4 222.4M202.2 238.9L214.2 241.5M202.4 239.0L204.9 225.8M214.3 240.9L229.5 241.8M214.0 240.8L216.0 227.4M229.3 243.1L241.1 245.5M228.9 243.1L231.2 230.0M241.2 244.8L252.5 247.7M240.6 244.8L243.3 231.6M252.7 246.4L266.8 247.7M252.4 246.4L254.5 232.0M266.7 248.2L280.0 248.8M266.4 248.1L268.5 234.3M279.9 249.7L280.8 235.5M175.4 220.2L185.5 222.3M185.5 222.1L195.5 224.7M186.3 222.2L189.8 207.5M195.6 223.8L207.3 226.1M195.6 223.8L196.8 209.3M207.4 225.8L222.7 229.4M207.5 225.8L209.6 213.0M222.9 228.2L237.6 231.7M222.8 228.2L224.0 213.2M237.8 230.4L251.3 231.3M237.2 230.4L240.4 216.1M251.2 232.3L260.7 234.1M250.8 232.2L253.2 219.8M260.8 233.5L276.2 234.8M260.6 233.5L264.1 219.5M275.7 235.3L276.9 221.3M182.0 207.4L192.1 210.5M192.3 209.2L205.2 212.3M193.0 209.4L195.5 195.4M205.3 211.5L215.9 214.1M206.1 211.6L208.8 197.8M216.0 213.2L230.4 216.4M216.2 213.2L217.9 198.2M230.5 215.4L242.4 217.5M230.4 215.4L233.9 201.7M242.4 217.1L252.9 218.5M242.2 217.1L242.8 203.3M252.9 218.6L266.2 221.1M252.5 218.5L254.1 205.6M266.3 220.3L280.6 221.1M266.5 220.3L269.4 206.0M280.3 222.0L282.7 208.7M181.5 193.2L190.3 194.6M190.3 194.8L204.4 198.5M189.7 194.7L191.7 181.5M204.6 197.3L217.0 198.0M203.9 197.2L208.4 182.8M216.8 199.3L225.2 200.4M217.3 199.4L219.5 184.5M225.2 200.6L240.1 203.4M224.4 200.5L227.7 186.6M240.1 202.8L251.8 203.7M240.5 202.9L243.6 188.4M251.7 204.5L266.8 207.4M252.1 204.5L253.4 189.6M266.9 206.4L281.3 208.0M266.9 206.4L269.6 192.2M281.7 208.2L282.0 194.2M179.0 178.7L193.2 180.3M193.0 181.3L205.3 183.5M193.1 181.3L195.6 166.8M205.3 183.4L218.2 186.6M204.7 183.3L208.4 171.1M218.3 185.5L232.4 187.6M218.9 185.6L220.3 172.6M232.4 187.7L245.0 188.9M232.8 187.8L235.5 173.4M244.9 189.5L258.4 191.7M245.0 189.5L248.2 176.5M258.4 191.4L273.7 193.7M258.9 191.4L259.1 177.0M273.7 193.3L282.7 193.1M274.3 193.4L275.3 180.2M283.0 194.4L284.4 180.5M182.3 165.2L197.7 166.9M181.9 165.1L185.3 150.9M197.5 168.0L209.3 170.7M197.3 167.9L199.9 155.6M209.4 170.0L217.9 172.7M209.1 170.0L210.7 155.7M218.1 171.4L231.8 173.8M218.2 171.5L218.8 158.6M231.8 173.6L240.3 175.8M232.3 173.7L232.4 159.7M240.4 174.9L249.5 175.1M240.3 174.9L243.0 161.1M249.4 176.2L259.1 176.9M249.1 176.1L252.0 162.1M259.0 177.5L270.4 180.3M259.6 177.5L261.7 163.2M270.6 179.0L283.9 181.2M271.1 179.0L270.7 165.9M284.2 180.6L286.6 167.9M183.3 151.2L191.8 151.5M183.5 151.3L185.4 138.1M191.6 152.8L202.6 154.5M190.8 152.7L195.1 137.9M202.5 154.7L216.8 157.1M201.9 154.6L205.8 142.5M216.8 157.2L230.7 159.8M217.0 157.2L218.4 142.8M230.8 159.4L245.0 162.3M230.8 159.4L232.0 146.0M245.1 161.5L256.4 164.4M244.6 161.5L247.2 148.7M256.6 163.1L265.3 163.6M256.7 163.2L257.0 149.0M265.2 164.3L274.5 166.3M265.9 164.4L266.2 150.7M274.6 165.5L288.1 168.4M274.0 165.4L276.2 150.4M287.6 167.0L290.6 153.7M185.0 137.4L195.4 139.3M185.6 137.5L187.7 124.0M195.4 139.4L209.1 142.4M195.4 139.3L197.0 126.4M209.2 141.8L222.0 143.8M208.5 141.7L210.9 127.0M222.0 143.9L232.9 144.3M221.7 143.9L224.8 129.5M232.7 145.6L246.7 147.6M231.9 145.5L235.9 131.8M246.7 147.7L260.5 150.6M246.5 147.7L249.7 132.9M260.6 149.7L269.9 150.7M259.9 149.6L261.2 135.3M269.9 150.9L278.6 152.9M270.1 150.9L271.0 136.0M278.7 152.0L288.0 152.0M278.5 151.9L281.8 137.7M287.6 153.0L290.8 139.7M198.0 125.7L210.7 127.9M197.6 125.6L201.1 111.8M210.7 127.9L218.9 130.3M211.0 128.0L211.9 112.6M219.0 129.3L228.2 130.8M218.8 129.3L222.1 114.6M228.2 130.8L238.7 132.2M227.6 130.7L229.9 118.3M238.7 132.4L251.2 133.5M238.0 132.3L240.0 118.0M251.1 134.3L262.0 137.1M251.4 134.3L251.6 121.6M262.2 135.8L272.1 137.6M262.3 135.8L263.8 121.8M272.2 137.1L284.8 137.6M271.7 137.0L275.4 123.7M284.7 138.6L293.5 138.9M283.9 138.6L287.7 124.1M285.5 287.7L300.7 289.1M284.6 287.6L287.9 262.7M300.7 289.2L326.6 290.4M301.0 289.2L301.6 267.3M326.6 291.5L349.8 294.5M327.0 291.5L326.7 270.2M272.3 263.1L298.1 266.5M298.2 265.9L315.0 267.8M297.8 265.9L299.0 243.0M315.0 267.5L337.2 270.0M315.0 267.5L316.2 246.2M337.7 269.3L338.4 247.3M279.0 240.7L299.6 242.0M299.5 242.9L319.9 245.6M298.9 242.9L300.6 218.8M320.0 244.8L334.1 245.2M319.4 244.8L322.6 222.0M334.1 246.0L348.3 247.0M333.4 245.9L337.4 222.7M347.9 247.0L348.7 223.9M294.2 219.2L311.6 219.6M294.1 219.2L295.7 195.6M311.5 220.9L332.1 223.4M311.9 221.0L313.3 197.1M332.2 222.7L350.3 223.3M332.1 222.7L333.0 198.0M296.2 196.2L314.3 199.4M295.6 196.2L299.2 173.8M314.4 198.0L332.8 200.9M315.1 198.1L315.7 176.2M332.9 199.6L352.8 201.7M333.5 199.7L333.4 178.6M280.4 171.2L300.9 173.4M300.9 173.5L324.3 175.6M300.1 173.4L303.5 149.0M324.3 175.7L340.9 176.6M324.0 175.7L327.1 151.4M340.4 177.0L343.1 152.2M297.8 149.9L314.3 150.5M297.2 149.8L300.5 124.6M314.2 151.5L329.3 152.5M314.6 151.6L316.8 130.1M329.3 152.9L352.5 154.7M329.0 152.9L331.7 130.5M352.9 154.7L353.5 130.0M438.6 540.9L456.5 540.7M456.5 540.9L475.9 541.1M457.4 540.9L455.9 523.2M176.7 502.7L188.9 504.6M188.9 504.5L208.3 507.7M188.1 504.4L191.8 487.9M208.3 507.3L227.6 508.7M207.7 507.2L209.7 489.0M227.5 509.8L241.3 511.4M227.7 509.8L229.5 493.2M241.3 511.5L257.8 514.4M240.3 511.3L243.9 492.9M257.9 513.3L270.7 513.9M258.1 513.4L257.8 497.4M270.6 514.7L282.6 516.9M271.5 514.8L272.1 496.8M282.7 515.8L297.4 518.5M282.7 515.8L283.3 497.3M297.5 517.2L315.3 518.4M298.3 517.2L298.0 501.2M315.3 518.6L335.2 519.5M315.5 518.6L318.1 500.1M335.2 520.0L356.4 520.4M336.0 520.0L337.0 503.9M356.4 521.2L373.2 522.7M356.0 521.2L356.5 502.5M373.2 522.0L389.0 521.7M372.4 522.0L372.9 503.4M388.9 522.6L404.0 521.7M388.4 522.6L389.2 506.3M404.0 523.0L420.3 524.4M403.1 523.0L404.8 506.0M420.4 523.4L435.4 524.1M420.0 523.4L421.6 507.5M435.4 523.6L454.7 524.1M435.9 523.6L434.1 506.5M184.5 486.4L203.8 490.4M185.3 486.5L185.8 468.4M204.0 489.2L215.4 491.2M203.7 489.2L207.4 473.0M215.5 490.8L234.0 493.8M214.9 490.7L218.4 472.4M234.1 493.2L248.0 494.7M234.2 493.2L237.6 477.3M248.0 494.8L268.4 495.7M247.8 494.8L250.3 478.7M268.3 497.0L282.9 498.5M269.0 497.1L268.5 479.5M282.9 498.5L303.0 500.4M282.4 498.4L284.2 480.0M303.0 500.3L319.1 500.8M303.1 500.3L303.7 481.9M319.0 501.5L335.2 503.3M319.1 501.5L320.5 484.4M335.3 502.7L351.9 503.9M334.7 502.6L335.0 484.0M351.9 503.7L363.8 504.5M351.6 503.6L352.1 487.5M363.8 504.3L377.8 504.0M364.6 504.3L365.3 487.1M377.7 504.9L396.0 504.4M377.0 504.8L378.6 489.1M396.0 505.5L412.0 504.8M396.8 505.5L395.4 489.5M411.9 505.9L432.1 506.5M411.8 505.9L411.3 487.1M171.6 466.9L186.9 470.1M187.0 469.3L205.3 472.0M187.9 469.4L188.2 451.7M205.3 472.0L220.5 473.8M204.9 471.9L207.0 455.8M220.4 474.0L235.2 477.2M219.5 473.9L220.8 457.9M235.4 475.9L251.3 476.9M234.8 475.9L237.4 457.9M251.2 477.8L265.8 480.3M251.3 477.8L253.6 460.9M265.9 479.4L286.4 481.5M265.3 479.4L266.7 462.2M286.4 481.5L305.7 484.4M287.3 481.5L289.5 465.6M305.8 483.2L325.3 483.7M306.4 483.2L308.8 466.2M325.3 484.7L338.8 484.5M324.8 484.6L327.6 466.3M338.7 485.6L354.2 487.2M338.7 485.6L341.6 467.9M354.2 486.5L367.1 488.1M354.4 486.5L355.3 468.1M367.2 487.1L388.1 487.3M368.0 487.2L367.5 468.7M388.1 488.0L402.9 489.6M388.0 488.0L388.5 471.5M402.9 488.4L418.0 490.1M170.4 449.2L190.4 451.3M190.2 452.3L202.9 455.3M189.8 452.3L192.9 433.8M203.1 454.2L220.4 455.3M203.5 454.3L204.8 435.9M220.2 456.6L234.9 458.0M219.3 456.5L221.4 439.4M234.8 458.5L255.2 460.3M234.0 458.4L239.0 440.6M255.2 460.9L268.8 462.7M254.6 460.8L258.3 444.3M268.9 462.4L283.7 463.7M268.5 462.3L270.4 444.8M283.7 463.9L296.0 465.5M284.2 463.9L284.2 446.3M296.1 465.0L315.3 466.6M295.2 464.9L299.3 449.2M315.3 466.6L329.6 466.7M314.6 466.6L316.1 450.2M329.6 467.7L344.2 468.2M330.4 467.7L332.0 449.1M344.2 468.6L365.0 468.8M344.3 468.6L345.9 453.0M365.0 469.7L379.2 470.3M364.5 469.7L367.0 451.6M379.2 470.4L395.1 472.1M380.1 470.4L380.3 453.1M181.6 433.5L201.4 437.9M201.6 436.6L216.8 439.0M201.3 436.5L203.8 418.2M216.8 438.7L231.9 441.3M215.9 438.6L219.5 420.0M232.0 440.7L252.0 443.0M231.2 440.6L234.5 423.9M252.0 443.2L267.9 446.0M251.3 443.1L254.6 425.6M268.0 445.0L288.5 446.0M267.3 444.9L269.2 428.5M288.4 447.0L308.6 448.0M289.1 447.1L291.6 429.4M308.5 448.8L320.7 450.5M307.7 448.7L310.3 430.0M320.7 449.7L341.3 451.5M321.4 449.8L322.5 433.7M341.3 451.2L361.7 453.2M342.0 451.2L340.8 434.4M361.7 452.3L378.9 454.2M362.4 452.4L362.6 434.1M168.0 413.9L187.2 416.9M187.2 417.0L198.7 418.2M186.5 416.9L189.3 400.5M198.6 418.7L212.6 421.4M198.4 418.7L201.9 400.5M212.7 420.8L232.6 424.3M212.8 420.8L213.9 402.1M232.7 423.5L249.7 426.7M232.7 423.5L235.4 408.2M249.9 425.6L267.0 427.2M250.0 425.6L251.9 409.3M267.0 427.5L278.3 429.6M267.8 427.6L269.4 411.7M278.4 428.7L295.9 429.8M278.1 428.7L279.7 412.1M295.9 430.4L308.0 430.3M296.6 430.5L298.9 414.8M307.9 431.5L322.2 433.8M308.2 431.5L308.5 412.8M322.3 432.6L334.9 432.6M322.8 432.6L322.5 414.0M334.9 433.5L346.7 433.5M335.7 433.5L336.0 414.8M346.6 434.2L364.5 436.2M346.7 434.2L349.0 417.9M181.9 398.7L199.0 400.0M198.8 401.4L213.5 404.8M199.3 401.4L201.9 385.0M213.7 403.5L228.9 406.4M213.6 403.5L215.8 387.4M229.0 405.6L243.6 408.5M229.8 405.7L231.0 388.4M243.7 407.5L256.9 410.0M243.6 407.5L247.3 391.1M257.0 409.1L271.4 411.5M256.4 409.0L258.8 392.7M271.5 410.7L287.8 411.5M272.4 410.8L272.5 392.8M287.7 412.4L304.2 414.7M287.9 412.4L287.8 396.5M304.3 413.9L321.6 414.9M303.9 413.8L305.1 395.4M321.6 415.3L334.9 416.0M322.3 415.3L324.8 397.9M183.8 381.6L202.1 384.2M183.5 381.5L187.9 365.6M202.0 384.4L221.7 387.9M201.4 384.3L204.5 368.9M221.8 387.3L241.3 390.4M220.9 387.2L224.5 371.7M241.3 389.9L258.9 391.2M240.8 389.8L244.9 374.3M258.8 392.0L271.3 392.1M258.4 392.0L260.5 373.9M271.1 393.4L283.9 394.3M271.9 393.5L273.4 374.6M283.9 394.7L301.1 395.4M283.0 394.6L284.1 378.4M301.0 396.3L319.1 398.6M300.5 396.3L302.0 379.8M182.6 364.0L195.7 365.0M195.5 366.1L211.8 367.6M195.4 366.0L197.2 349.7M211.7 368.5L222.5 371.1M212.3 368.6L214.4 352.0M222.6 370.1L235.9 373.1M222.0 370.0L226.1 353.8M236.1 371.9L250.0 375.0M236.8 372.0L238.3 356.3M250.2 373.7L265.6 374.2M249.6 373.6L251.6 356.7M265.4 375.4L279.7 377.6M264.6 375.4L265.7 358.0M279.8 377.0L293.3 378.6M279.8 377.0L282.8 360.8M293.3 378.3L310.6 379.5M292.6 378.3L293.7 360.7M176.6 345.5L189.9 347.3M189.8 347.7L202.9 349.6M190.2 347.8L193.0 331.3M202.9 349.8L219.1 353.3M202.9 349.8L207.0 331.7M219.3 352.2L235.1 354.6M219.4 352.2L221.0 333.5M235.1 354.4L250.8 356.2M234.8 354.4L236.3 337.4M250.8 356.4L264.9 357.3M250.9 356.4L251.9 337.6M264.8 358.1L283.0 359.5M265.6 358.2L267.3 341.3M283.0 360.1L294.3 361.9M283.0 360.1L286.0 344.6M173.2 327.5L190.6 330.7M190.7 330.5L208.3 332.3M190.8 330.5L192.2 312.8M208.2 333.2L225.4 337.0M207.9 333.2L212.1 317.9M225.5 335.8L240.0 337.9M225.5 335.8L226.7 317.9M240.0 337.7L254.3 339.2M239.4 337.6L241.9 321.6M254.2 339.5L269.7 340.7M254.7 339.6L257.3 321.4M269.6 341.3L280.0 343.3M269.9 341.4L270.1 322.5M280.1 342.5L292.0 342.5M279.3 342.4L281.5 326.6M183.9 311.9L198.6 313.6M184.4 312.0L186.7 294.3M198.5 314.3L210.3 316.6M199.3 314.5L201.1 295.9M210.4 316.2L222.0 318.2M211.1 316.3L214.3 299.4M222.1 317.9L233.5 319.2M221.6 317.8L226.1 300.8M233.5 319.5L248.7 320.7M234.2 319.6L235.5 301.6M248.6 321.5L266.9 324.6M248.8 321.5L250.5 302.8M267.0 323.7L285.7 325.7M266.6 323.7L270.0 307.1M285.4 325.7L287.9 308.4M184.5 294.6L202.9 297.3M184.0 294.5L186.0 276.8M202.8 297.6L220.0 299.9M202.4 297.5L205.0 280.0M219.9 300.2L233.2 302.9M219.8 300.2L222.3 283.9M233.3 302.1L247.4 304.5M233.9 302.2L236.7 285.0M247.5 304.0L266.2 307.7M247.5 304.0L250.5 286.9M266.4 306.3L283.0 308.2M266.0 306.3L268.8 290.9M283.0 308.2L299.1 308.8M283.2 308.2L284.3 289.8M181.3 276.6L199.4 279.3M199.4 279.6L213.7 280.8M213.6 281.9L225.6 282.5M225.5 283.6L237.2 286.3M237.4 285.3L249.0 287.1M249.0 286.9L264.4 288.9M264.4 288.8L277.4 290.5M277.4 290.3L290.8 291.4M444.0 516.5L478.9 515.1M444.8 516.5L445.2 476.4M479.4 516.2L476.4 476.0M387.6 478.6L423.1 480.2M388.0 478.6L389.2 439.6M423.1 479.4L449.1 479.7M423.4 479.4L424.4 443.5M449.1 479.6L481.0 478.1M449.9 479.6L450.5 446.3M481.8 479.3L482.0 441.7M350.5 440.0L350.9 400.7M372.1 441.1L403.7 441.4M371.6 441.1L372.1 404.4M403.7 442.3L442.8 443.3M403.0 442.2L404.9 408.9M442.8 442.9L477.2 442.8M441.9 442.8L442.5 404.1M477.8 442.6L476.3 406.2M312.5 400.6L342.8 403.7M312.5 400.6L314.2 363.7M342.9 402.8L372.2 404.7M342.0 402.7L344.3 363.8M372.2 404.4L403.1 404.9M372.1 404.4L373.3 368.9M403.0 405.5L442.8 405.9M402.9 405.5L402.3 367.9M442.8 406.1L477.7 404.6M443.5 406.1L441.8 372.7M478.4 405.9L477.9 371.0M291.9 361.9L319.0 363.2M292.6 362.0L295.0 323.4M318.9 364.3L356.3 365.5M319.1 364.3L323.3 329.0M356.2 366.8L381.7 368.6M355.5 366.8L357.5 330.5M381.7 368.1L413.0 369.8M381.1 368.1L382.0 328.9M413.0 369.1L449.5 369.8M413.5 369.1L413.4 330.4M449.5 369.5L481.5 370.5M449.6 369.5L448.1 332.8M481.0 369.2L479.5 331.0M278.6 323.7L311.8 326.6M311.7 326.9L339.0 330.2M312.4 326.9L316.3 287.9M339.1 329.0L371.6 330.7M338.6 329.0L341.5 289.7M371.6 330.9L397.4 331.0M371.2 330.9L374.1 291.0M397.4 332.0L424.8 331.3M397.8 332.0L399.4 297.4M424.8 332.6L458.5 332.9M425.4 332.6L425.4 294.4M458.5 332.8L482.5 331.4M156.9 540.9L208.9 547.9M208.9 548.6L269.8 554.4M209.2 548.6L215.8 491.7M269.7 555.6L331.7 560.5M269.5 555.6L275.7 492.5M331.7 560.7L400.3 564.5M331.6 560.7L336.7 506.3M400.3 563.8L476.1 565.0M401.2 563.8L402.9 507.5M476.1 564.2L544.5 561.5" fill="none" stroke="#222" stroke-width="0.7" stroke-opacity="0.55"/><path d="M285.8 129.2l-0.5 2.7-2.7-0.7-2.4-2.8-2-1.3-3-1.8-1.1-2.9 1.5-1.6 0.9-1.4 1-1.6 2.4 0.5 2.2 1.6 2.6 1.1 2.8 2.3 0 2.7-1.8 1.2zM280.6 132.3l-1.7-1.2-0.7 0.1-1.5-0.8-1.8-1.9-2.3-2.5-2.5-3.3-0.2-1.8 2.6 1.6 1.6 1.3 0.5-0.5 1.4 0.5 2 2.1 2 2.5 2.3 3.1 0.3 1.9zM292.1 119.5l-1.2-1.9-0.9-1.8-0.1-1.3 0.1-1.2 0.1-1.5 1.4-0.5 2.6 1.9 1.9 3 0.7 2.1 0.3 1.3 0.7 1.6 1 2.2-0.3 1.7-2-0.6-2.5-2.5zM308.1 115.5l-2.1 1.9-1.5 2.9-0.7 3.3-0.3 3.6-2.8 1.9-1.9 2.2-1.2 2.8-3.4 1.1-0.6 3.3-4.5 0.2M309.4 119.2l-0.1-1.1-1.2-1.7 4.2-1.4 5.4 0.4 3.2 0.2 5.2-0.8 4.3 0.5-1.4 1.7-2 1.4-0.7 1.4-3.4 1.2-4.5 0.3-4.1 0.4-5.2 0.3-2-1.2zM326.1 119.6l2.7-2.2 3.6-0.7 3.4-0.5 3-1 2.7-1.4 2.9-0.7 2.3-1.8 3-0.9M330.8 131.8l-2.2-1.4-2.9-1.3-2.1-2.5-2.5-2.1-3-0.7-3.6 1.3-3 0M331.3 130.9l-2.9 1.4-2.8-0.8-1.2-2.1-0.8-1.6-1.6-1.3-0.7-2.3 1.2-2.6 2.4-2.1 3.1-1.1 2.7 0.8 1.2 1.9 1.1 1.4 1.6 1.4 0.4 2.4-1.4 2.4zM345.3 121.2l-0.9 1.9-1.5 1.4-1.9 0.4-1.6-0.4-1.4-0.9-1-1.6-0.2-2 0.6-2 1-1.9 1.5-1.3 1.8-0.4 1.7 0.2 1.5 0.9 0.9 1.7 0 2zM344.6 134.1l-2.8-2.9-1.2-2-0.3-1.2 0.1-0.8 0.2-0.8 0.9-0.5 2.8 1 3.8 2.8 2.8 3 1.1 1.9 0.5 1.3 0 0.8-0.3 0.8-1.1 0.3-2.7-1zM343.8 129.6l-1.9-0.8-1.6-0.5-2.1-0.3-2.1-1.5-0.1-2.6 1.6-1.8 1.5-1.2 1.3-1.3 1.9-0.7 2 0.5 1.5 1.5 1 2 0.4 2-0.1 2.3-1.2 1.9zM363.0 125.1l2.2 2.1 1.5 2.8 1.5 3 1.9 2.6 3.3 0.8M367.8 130.7l-2-0.1-1.6-1.3-1.4-1.4-1.9-2-0.4-2.8 2-2.1 2.5-0.5 2.1-0.3 2 0.2 1.5 1.3 1.5 1.4 1.9 1.9 0.5 2.9-2.1 2-2.6 0.5zM359.8 126.2l-0.4 3 0 2.9-0.3 2.7 2.3 3.1 1.3 3.1-0.9 3 1.9 3M380.8 124.8l2.1-2.7 2.6-1.8 3-1 2.3-2.2 4.1 2.6 3.1 0.7M370.3 125.9l-2-1.5-1.3-1.8-1.5-1.4-1.3-2.3 0-2.7 0.8-2.5 1.5-1.6 1.9-0.2 1.7 0.8 1.8 0.6 1.9 1.4 0.6 2.8-0.9 2.5-0.6 2.1-0.7 2.7zM382.7 122.3l-1.4 0.1-1.1-0.6-0.8-0.7-1-0.7-1.1-1 0-1.6 1.4-0.9 1.3-0.2 1-0.5 1.3-0.3 1.1 0.7 0.5 1.2 0.4 1.1 0.1 1.3-0.5 1.3zM375.7 131.1l-0.3 1.9-1.5 0.9-1.8 0.1-2 0.2-1.9-1 0-2.3 1-1.7 0-1.4 0.3-1.8 1.6-1 1.8-0.1 2-0.2 1.9 1 0 2.3-1 1.7zM400.0 117.2l1 2.9 1.6 2.7 1.1 2.7-0.8 3.2-2.1 3.4-1.1 3.1-1.9 3.1-5.1 2 1 3.4M390.6 120.5l-2.1-2-1-3-1-3.1 0.5-4-2.9-1.9-1.1-2.9-4.8 0-3.1-1M397.8 120.5l-2.6-1.6-1.9-2.7-1.2-2.9-0.6-3.5-0.4-3.4 0.6-3.8-2.8-1.9-3-1.7M404.5 127.8l-3-0.7-2.9-0.6-3.2-0.9-1-1 1.9-0.5 2.7-0.3 2.7-0.1 3.2 0.1 3.5 0.5 3.1 0.8 2 0.9 0.1 0.9-1 0.6-1.5 0.6-2.9 0.2zM404.4 117.8l-2.8 2.2-0.8 2.8-2.2 1.9-1.6 2.4 1.2 4.5-0.8 3 1.3 3.8-0.9 2.8 1.2 3.4M414.2 130.4l-2-2.5-2.3-2.2-2.1-2.4-2.6-1.3-3.3-0.2-3.8 0.9M423.9 134.9l-0.7-0.1 0.1-1.4 0.7-1.6 0.8-1 0.4-0.6 0.5-0.8 0.7-1 0.9-0.9 0.8 0.1-0.1 1.4-0.9 1.6-0.7 1-0.5 0.6-0.4 0.9-0.7 1zM420.1 129.4l2-2.4 3.6-0.9 3.9 0.2 3.1-0.8 4 1.4M426.4 125.5l-2.2 0.3-1.8-0.8-1.3-0.5-1.9 0-2.1-1.1-0.6-2.2 0.7-2.1 1.2-1.8 2-0.8 2 0.9 1.2 1 1.6 0.2 2.3 0.8 1.2 2.1-0.6 2.4zM436.1 120.6l-2.4 2.2-2.3 2-1.9 2.3-1 2.9-2.7 2M445.5 119.4l2-2.5 2.7-2.2 1.5-2.7 2.9-1.9-0.9-3.8 0.3-3.1-2.8-3.8 1-3-4.7-3.5 1.9-2.9M447.8 120.8l1 3-0.2 3.1 0 2.9-1.6 3.2-2.9 3M451.4 128.5l-2.8-0.8-3.1 0-3.4 2.8-2.9 2.1-2.9 1.6-2.2 3-1.5 4-2.3 1.7M494.0 121.2l-1.5 1-1.4 0.9-1.6 0.7-1.1-0.2-0.3-1.1 0.4-1.5 0.9-1.6 1.3-1.6 1.6-1.3 1.5-0.5 1.2 0 1 0.1 1 0.5 0 1.3-1.2 1.9zM497.7 127.9l-0.2-2.4 1-2.2 1.4-1.9 2-1.4 2.4-0.3 2.2 0.5 2.2 0.8 1.7 1.6 0.3 2.4-1 2.2-1.4 1.9-2.1 1.4-2.4 0.2-2.2-0.4-2.2-0.7zM518.5 121.1l-1.9-2.2-1.8-2.3-1.3-2.2 0.7-0.6 1.7 0.8 1.4 0.6 1.8 0.7 2.5 2.1 2 2.6 0.9 1.9 0.8 1.6 0.2 1.3-0.9 0.2-1.7-0.7-2.2-1.6zM539.4 131.8l2.9 0.7 3.1 0.4 2.5 1.5 3.3 0.7 2.7 1.5 1.4 3.2 1.7 2.6 0.9 3.5 1.7 2.5M558.9 130.4l-2.1-0.4-1.6-1.6-0.8-2 0.5-2.1 1.9-1.1 1.9-0.2 1.5-0.4 1.8-0.4 1.8 0.8 1.4 1.5 1.2 1.9-0.1 2.3-2.1 1.1-2.2-0.2-1.4 0.2zM286.6 144.8l-1.1-2-0.3-1.3 0-0.7-0.5-1.4 0.1-1 1.3 1.5 1.4 2.3 0.9 1.5 1.3 1.7 1 2.1 0.2 1.1-0.4 0.3-0.6-0.3-1-0.9-1-1.2zM293.1 145.6l0.3 3 0.9 3.1-1.8 3.1-1.2 2.9-3.7 2.4-1.4 2.7-1.2 2.9-1.1 2.7 0.5 3.2M294.9 140.7l-1.2 1.3-1.1 0.9-1 0.9-1.5 0.5-1.6-0.2-1.5-0.8-0.6-1.4 0.6-1.4 0.2-1.1 0-1.7 1.2-1.4 2 0.6 1.1 1.2 1.3 0.3 1.8 0.7zM301.3 148.6l-1.3 2.3-1.4 2-1.7 1.7-2 0.7-1.4-1.5-0.4-2.5-0.2-2.4-0.2-2.6 0.7-3.2 1.9-2 1.9-0.2 1.5 0.4 1.7 0.3 1.4 1.3 0.4 2.8zM308.8 135.2l0 0.5-0.5 0.4-1.2 0-1.5-0.4-1.1-0.5-0.9-0.5-0.5-0.5-0.3-0.5 0.3-0.5 0.7-0.2 1.1-0.1 1.4 0.2 1.3 0.5 0.8 0.6 0.3 0.5zM298.7 132.2l1.3-1.8 1.8-1 1.6-0.8 1.6-0.8 2.1-0.1 1.6 1.1 0.9 1.7 0.7 1.7 0.1 2.1-1.3 1.6-2.2 0.4-1.9-0.4-1.6-0.1-2.1-0.2-2-1.2zM330.7 146.5l-0.9 1.5-1.1 1.3-1.3 0.9-0.9-0.5 0.1-1.4-0.1-1-0.3-1.2 0.8-1.9 1.5-0.8 0.9-0.3 1.2-1.4 1.6-1.3 0.5 1.2-0.9 2.1-0.6 1.5zM328.3 136.0l-0.2-0.7 0.4-1 1.2-1.1 1.7-0.8 1.6-0.4 1.2-0.1 1.4-0.2 1.2 0.2 0.2 0.8-1.1 1.2-1.5 0.9-1.4 0.8-1.5 0.7-1.6 0.4-1.1-0.2zM331.5 136.9l0-2.3 0.4-1.9 0.6-1.7 1.1-0.6 1.1 0.8 1 1.3 0.9 1.5 0.6 2.2 0 2.3-0.4 2-0.7 1.6-1 0.6-1.2-0.7-0.9-1.3-0.9-1.6zM330.5 144.6l-0.8-0.8-0.8-2.3-0.6-1.8-0.8-1.7-0.9-2.8-0.2-2.4 0.7-0.4 0.7 0.6 0.5 0.1 0.6 0.1 0.9 1.5 0.7 2.6 0.2 2.4-0.1 1.6 0.1 1.8zM344.8 135.2l-0.8-3-1.2-3.1-1.7-2.4-2.5-2-2-2.3-2.8-1.3M332.7 140.7l1.5-1.5 1.1-1.2 1.1-1.5 3.3-2.1 4.2-1.5 2.8-0.2 1.9 0.2 0.9 0.6-1.2 1.4-1.8 1.4-1.5 1.5-3 2-4.2 1.7-3.3 0.5-1.8-0.3zM336.9 146.1l-0.9-0.5-1-0.5-0.6-0.6-0.5-0.7-0.3-0.8 0.9-0.4 1.9 0.5 1.3 0.8 0.9 0.4 1.2 0.5 0.8 0.7 0.1 0.6 0.1 0.7-0.8 0.5-1.7-0.4zM354.3 149.3l0.2-1.6 0.7-1.2 0.5-1.1 0.9-1 1.3-0.3 1.5 0 1.6 0.8 0.5 1.8-0.7 1.6-0.6 1-0.1 1.4-0.8 1.3-1.5 0.1-1.4-0.5-1.4-0.8zM361.2 132.8l-2 2.7-2.4 2.4-2 2.5-1.3 2.8-3.4 1.8-0.8 2.9-0.3 3-1.8 2.5M367.9 145.1l0.2 1-0.6 1.2-4.5 0.4-4.7-0.7-3.3-0.4-5.4 0.1-4.3-1 2-1.3 3.4-0.7 0.9-0.9 2.3-0.9 4.6-0.1 4.2 0.5 3.8 0.7 1.8 1zM361.6 144.6l-2-1.2-2.3-1.1-1-1.8 1.6-1.2 1.2-0.8 0.2-1.9 2-1.3 3 1.2 1.6 2 1.5 1.2 1.3 1.6-0.3 1.4-0.9 1.2-1 1.4-2.3 0.5zM364.0 144.5l-0.8-4.3 1.1-2.7 0.9-2.1 1.2-1.8 2 1.3 1.7 2.6 1.5 1.6 2 2.6 1.1 3.8-0.1 3.5-0.6 3.1-1.9 0.6-2.2-3-1.3-2.5-1.9-0.2zM373.9 132.9l-2.5-1.6-3.7-0.5-2.3-1.8-3.4-0.6-2.3-1.9-4.5 1.8-1.1-4.3-1.7-2.7M379.1 133.3l-1.2 0.7-0.6 0.1-0.9 0.8-1.6 1.3-0.7 0.1 0.9-1.5 1.4-1.7 1.2-1.3 1.1-1.2 1.1-0.8 0.5-0.1 0.4 0.1 0.7-0.2 0.3 0.5-0.9 1.5zM394.0 139.8l-1-3.5-1.6-2.7-2.4-1.9-2.2-2-3.7-0.4M393.1 142.4l-2.5 2.5-3.1 0.4-3 0.5-3 1.4-2.7 0.9-3.1-1.2-3.1-0.9-3.1-2.2M396.0 134.6l3.1 1 3.7 0 2.8 1.4 2.3 2.2 2.9 0.8 0.9 3.9 1.1 3.3 1.1 3.1 1.8 2.5 2.5 1.8M389.7 138.8l1.4-2.5 1.3-2.6 2.4-2.1 3.2-1.3 3-1.4 3.2-1.1M412.1 144.3l3.2-1.8 1.1-2.9 0.9-3.2-1.1-3.6-2-3.4 0-3-2.1-3.2 1.7-3M403.1 134.4l1.2-3.3 1.2-3.1 0.1-3.6 1.2-2.9 2.3-2.1 2.4-1.9 3-1.4 3.3-1.2 2.5-2M409.2 138.4l0.5 3.3 0.5 2.9 2.4 2.3 1.8 2.4 2.9 1.9 0.1 3.4 3.5 1.6-1.2 3.9M443.9 144.7l-5.7 0.7-3.9-0.1-0.6 1.4-3.6 1.7-5.5-0.7-1.7-2-0.7-1.2-2.7-1.2-0.4-1.5 3.6-0.8 4.2 0 3.7 0 3.9 0.2 4.7 0.5 4.7 1.3zM430.5 136.6l-3 0.7-3.1-0.1-2.9-1.5-2.7-2.5-2.5-2.3-3-0.8-2.2-2.7-3.9 2.3-3.6 5.1-3 0.3M423.3 133.6l1.6-2.4 1.1-2.5 2.5-1.9 3.2-1.5 2.8-1.7 2-2.4M444.9 144.7l-2.6 0.4-2.4-0.4-2-0.1-2.1-0.8-1.5-1.7-0.7-1.6-1.4-1.9-1-2.4 1.4-1.5 2.8 0.3 2.5 1.4 1.6 1.4 1.4 1.1 2.1 1.3 2.1 2.3zM440.6 148.9l-0.9-1.1-0.7-3-0.4-2.8-0.6-1.9-1-3.5-0.3-4.3 0.8-1.2 1 0.8 0.8 1.1 0.7 2 0.5 2.5 0.6 2.3 0.7 3.3 0.2 3.7-0.6 1.8zM450.3 137.8l-0.2 3.4-0.9 2.6-2.3 2.2-2.6 2-2.6 2-3.9 1-4.1 0.2-2.6 1.3M475.7 144.1l-1.6 2.3-1.7 2.5-2.7 2.1-2.5 2.3-1.2 2.8-0.5 3.1M509.6 143.7l-0.5 3 1.6 3 2.6 2.5 3.3 1.8 2.5 2.1 0.1 3.4 1.5 2.6 3.3 1.6 1.1 2.7M534.0 139.0l-1.9 0.7-1.3 1.5-2.2 1.8-2.4-0.7-1.1-2.4-0.6-2.1 0.2-2.2 1.8-1.5 1.6-0.6 1-2.1 2.4-2.2 2.5 1.2 0.5 2.8 0.4 2 0.4 2.1zM284.8 156.6l-2.6-1.8-1.1-3-0.2-3.2 0.8-3.7-0.6-3-0.3-3.1-0.6-3-1.7-2.5 0.1-3.2-3.9-1.8M303.9 163.4l-2.8 0.8-2.5 0.1-1.8-0.6-1.1-1.1-0.4-1.5 0.7-1.9 2-1.8 2.6-1.4 2.8-0.9 2.6-0.2 1.7 0.8 0.8 1.3 0.5 1.4-0.4 1.8-2 1.9zM306.4 162.7l-1.5 0.6 0 1.4-2.2 1-3.9-1-3-1.6-2.9-1.5-1.4-1.6 1.8-1 1.8-0.4 0-1.4 2-1.1 3.9 0.9 3.2 1.6 2.6 1.6 1.2 1.6zM318.7 157.9l2-2.6 2.8-1.6 2.5-1.9 2.7-1.1 4.1 3 3.1 1M309.0 160.3l-1.6-1.2-1.2-1-1.4-1-0.2-0.9 1.2-0.2 1.1-0.2 1.3-0.4 2.4 0.7 1.7 1.3 0.9 1 1.2 0.9 0.5 0.9-0.8 0.4-1.2 0.3-1.6 0.1zM330.1 154.0l-1.2 1.1-1.6 0.6-1.4-0.2-0.8-0.9-0.1-1.2 0.6-1.2 0.8-1.1 0.9-1 1.3-1.1 1.6-0.7 1.4 0.2 0.7 1 0.1 1.2-0.5 1.2-0.8 1.1zM326.3 156.8l-3.1-0.7-2.5-1.2-0.6-1 0.8-0.6 0.7-0.5 0.8-0.5 1.9-0.2 3.1 0.5 3 1.1 1.5 1.2 0.5 0.8 0.8 0.9 0.1 0.9-1.7 0.2-2.7-0.4zM332.6 158.4l-4.3 0.4-2.7-0.1-2-0.2-1.9-0.4-0.9-0.7 1.6-1.5 4.2-1.5 4.8-1.1 4.1-0.7 3.6-0.4 2.2 0.3 0.5 0.8 0 0.9-0.8 1.2-3.3 1.7zM348.7 161.1l-0.2-0.6 0.2-0.8 0.5-0.9 0.5-0.9 0.9-0.9 1.1-0.5 0.6 0.3 0.3 0.5 0.3 0.4 0.2 0.6-0.3 0.9-0.8 1-1 0.6-0.9 0.3-0.8 0.2zM351.9 161.3l-2.5-2.1-1.7-2.5-1.8-2.7-1.6-2.6 1.9-3.8 1.5-3.3 2.1-3.2 0.6-3 0-3.1-2.1-2.9M351.5 157.2l2.9 0.5 2.8 0 2.5 3.2 2.8 0.8 2.6 2.3 2.7 1.5 3.8-2.8 3-0.3 3.2-3 2.7-4.8M345.1 151.3l2.1 1.7 1.8 2.8 0.8 3.9 2.4 1.9 2.3 2.3 4.1-0.6 2 2.3 3.8-0.7M366.7 157.8l-3 0-3-1.7-2.8-2.9-2.7-2-2.7-1.5-3-0.4-2.9-0.4M363.2 153.4l1.5 2.5 0.2 3.3 0.9 2.6 0.4 3 0.2 3.2 0.3 3.3 2.5 2.2 3.9 1.4 3.8 1.1M357.6 161.8l0.7 2.9 1.5 2.4 0.5 2.9-0.5 3.2 0.5 3M358.0 157.3l0.2-0.8 0.4-0.7 0.6-0.5 0.7-0.3 0.7 0.1 0.7 0.4 0.5 0.7 0.2 0.8-0.1 0.8-0.4 0.7-0.6 0.5-0.7 0.1-0.7-0.1-0.7-0.3-0.6-0.6zM383.3 158.3l-2.1-0.1-2-1-0.7-1.6 0.7-1.5 1.2-0.9 1.2-0.6 1.2-0.7 1.7-0.3 2.1 0.2 1.9 1 0.9 1.5-0.6 1.5-1.3 0.9-1.2 0.6-1.3 0.6zM373.7 166.6l-0.5-1.4 0.4-2.3 1.4-2.9 1.3-2.5 1.3-2.9 2.1-3.5 1.9-1.3 0.9 0.9 0.4 1.4-0.3 2.2-1.3 2.8-1.3 2.5-1.4 3-2 3.3-2 1.4zM384.7 162.3l-0.9 0.2-0.9 0.2-0.9 0.2-1.1-0.2-0.5-0.9 0.4-1.1 0.6-0.9 0.6-0.7 0.8-0.7 1-0.3 0.9 0.3 0.7 0.5 0.6 0.7 0.1 1-0.5 1zM376.6 159.6l-1.5-2.5 0.3-1.7 0-1.2-0.9-2.3 0.4-1.7 2.2 0.4 2.6 1.5 2.3 2.2 1.1 2.4-0.1 1.6 0.5 1.5 1.1 2.5-0.9 1.4-2.4-0.9-2.3-1.4zM390.3 151.3l-1.7-0.6-1.5-1.2-0.5-1.6 0.6-1.4 0.7-1.2 1.4-1 1.9 0.2 1.7 0.8 1.4 1 1.2 1.1 0.8 1.5-0.1 1.6-0.8 1.4-1.7 0.6-1.9-0.5zM396.4 147.1l1.3-2.7 0.8-2.6 1.9-2.6-0.2-3 1.8-2.8 2.4-2.4 2.7-2.2-0.6-3.4-4.2-4.1-2.2-3.2M395.0 152.8l-1.7 1.1-2.1 0-1.9 0.2-2.3-0.2-1.8-1.6-0.2-2-0.4-1.6-0.6-2.1 0.9-1.8 2.3-0.1 2.2 0.6 2 0.8 1.7 1.2 1.1 1.6 0.9 1.9zM405.2 150.0l-0.9-3.3 0.3-3.1 0.8-3 1-2.8 2.2-2.5 2.2-2.4 3.3-2 3.5-1.5M411.5 160.4l-1.8 0-1.7-0.1-1.8-0.4-1.9-1.2-1.5-1.7-1.2-1.9-0.2-1.8 1.3-0.9 1.4-0.3 1.3-0.6 2 0.1 1.8 1.8 1 1.8 1.1 1.7 1 2.1zM421.2 152.5l0.1 3.7-3.8 0-2.8-1.5-2.5 0.5-2.9-0.8-0.3-2.9 0.6-2.2-0.8-2.4 0.6-2.6 2.7-0.7 2.6-0.4 3.1-0.7 2.3 2.2-1.3 3.4-0.4 1.7zM414.4 158.2l-1.9-2.1 0.8-2.9 2.7-1.7 2.5-0.4 1.6-0.3 1.7-0.5 2-0.1 2.4 0.7 2 1.8-0.1 2.9-2.5 2-2.9 0.2-1.8-0.2-1.4 0.4-2.2 0.6zM435.0 156.4l-2.1-0.3-1.8-0.7-1.8-0.4-2.1-1.4-1.7-2-1.5-2.3-1-2.6 1.1-1.3 2.5 0.9 1.9 1 1.6 0.1 2.3 1 2 2.2 1 2.4 0.5 2.2zM423.6 158.4l-0.8 3.6-1.4 3.8-1.6 2.4-1.5 0.9-0.5-2.2 0.8-4.4 0.7-2.9-0.2-2.4 0.6-4.7 1.7-3.6 1.5-0.2 1 0.2 1.1 0.2 0.1 2.6-0.8 3.7zM446.2 155.4l-1.2 0.4-1.7 0.4-1.8-1.9-0.5-2.9-0.1-2.2-0.6-2.3 0.2-2.3 1.4-1 1.6 0.1 1.7 0.9 1.4 2.2 0.8 2.2 1 2.2 0.6 2.8-1.1 1.5zM444.8 165.3l-2.4 0.2-2.6-0.6-2-1.7 0-2.7 1.1-2 0-2.1 0.7-2.8 2.6-0.8 2.4 1.3 2 0.7 2.7 0.7 1.4 2.3-1.3 2.5-1.6 1.7-1.1 1.8zM454.3 151.4l-1.3 1.7-1.3 0.6-0.8 0.3-1 0.6-1 0.1-0.7-1.1-0.1-1.9 0.4-2.1 0.9-2 1.2-1.2 1-0.1 0.8 0.5 0.7 0.2 1 0.3 0.8 1.6zM495.7 158.4l1.3 2.9 0.3 3-0.1 3-0.9 3.1 0.2 3.1-0.2 3.1 0.5 3M496.8 164.6l-1-0.8-0.1-1.3 0.3-1.2 0.6-1 1-0.5 0.9-0.3 1-0.4 1 0.1 0.8 0.8 0.5 1 0.1 1.3-0.7 1.1-1.3 0.3-0.9-0.1-0.9 0.6zM554.4 154.5l-0.8-0.7-0.8-1-0.3-1 0.3-0.8 1 0 1 0.6 0.7 0.6 0.7 0.4 1 0.6 0.8 1 0.2 1-0.6 0.6-0.9-0.1-0.8-0.3-0.8-0.4zM287.1 176.4l3 0.1 2.9 0.4 3.4-0.5 3.1 0.2 3 0.5 3.3-1.7 2.7 2M275.3 175.1l-1.2 1.3-1.5-0.3-0.3-1.6-0.1-1-0.9-0.7-0.1-1.3 1.2-0.6 1.1-0.2 1-0.8 1.4-0.3 1 0.9 0.3 1.1 0.2 1.1-0.6 0.9-1 0.5zM289.9 174.9l-2.6 0.2-2.5-1.3-2.1-2.1-1.8-3 1.4-2.6 4.6 0.4 3.2 1.9 1.8 0.1 2.6-0.1 2.4 1.4 1.8 2.1 1.9 3-1.1 2.7-4.5-0.3-3.4-2zM289.9 173.9l-3.2-0.6-2.9 0-2.9 2.5-2.7 2.1-2.8 1.2-2.6 2.3-2.7 1.3-2.2 2.4M303.5 178.9l-1.7-2.6-2.4-1.8-1.5-2.3 0.3-3.8-0.9-3-0.9-3.1M306.3 170.6l-3 1.4-3.1 1-2.9 0.5-3.2-1.4-2.8-2.3M333.9 173.9l-1 2.1-1.5 0.6-0.9-0.5-0.6-0.3-0.4-0.6-0.1-0.9-0.2-1.2 0.4-1.8 1.3-1.4 1.2-0.3 1-0.5 1.3-0.6 0.3 1-0.7 1.7-0.2 1.1zM335.9 176.3l-2.6 1.5-4.6 0.7-1.8-1.9 2.5-2.1 2.4-1.1 0.8-0.8 1.1-0.9 1.9-0.8 2.9-0.8 3.3 0.3 1.4 1.6-0.8 1.8-0.9 1.3-1.6 1-2.4 0zM337.3 171.3l-0.9-1.3 0.9-2 1.9-1.7 1.8-1.2 1.8-1.3 2.1-1 1.7 0.3 1 1 0.7 1.2 0 1.8-1.5 1.9-2.1 1.3-2 0.7-1.8 0.6-1.9 0.1zM334.5 174.4l-0.2-0.6-0.2-0.8 1.1-0.7 1.6 0 1.3 0.3 1 0.3 1.3 0.3 0.8 0.7-0.7 0.8-1.4 0.4-1 0.3-1 0.6-1.7 0.5-1.5-0.4 0-1zM343.8 174.6l-1.7-1.6-1.5-1.6-1.5-1.7-1.8-2.7-1.6-3.1-1.4-3.4-0.5-2.5 1.1 0 1.5 1.3 1.3 1 1.6 1.7 1.8 3 1.3 3 1.4 3.1 0.8 2.9zM349.8 175.6l-3.1 0.4-3.3 1.3-3 1.5-3.2 0.2-2.9-0.9M368.0 166.2l3-0.4 3.3 1.1 3.1-1.6 2.1-3.3 1.6-3.3 1.1-3.8 0.3-4.2 1.6-2.7 1.8-2.4M364.2 171.4l-1.1-1.1-0.5-1.2-0.9-0.9-0.3-1.5 0.8-1.2 0.9-0.8 0.8-1.2 1.3-0.5 1.1 0.9 0.6 1.2 0.8 1 0.2 1.4-0.8 1.2-0.8 0.9-0.8 1.3zM356.4 177.8l-0.2 1.7-1 1.5-1.3 1.5-2 1.4-2.1-0.9-0.3-2.8 0.5-2.1-0.3-1.5-0.2-2.1 1.2-1.5 1.6-0.9 1.9-1 2 0.5 0.8 2.3-0.4 2.2zM370.3 169.2l1.3 2.6 0.8 2.9 0.3 3.4-0.1 3.3 0.6 3.1 3.9 1.5 4.1 0.9 2 2.3M375.3 169.3l0.6-1.4 0.7-1.1 0.3-1.1 0.8-1.6 1.8-1.1 1.8 0.2 1.1 0.9 0.9 0.9 0.2 1.1-0.8 1.3-1.2 1-0.9 1.1-1.5 1.3-2 0.6-1.5-0.7zM379.6 166.8l-0.7-1.4-0.6-1.1-1.1-1.3 0-1.4 1.5-0.2 1.6 0.4 1.1 0 1.5 0 1.7 1 0.7 1.5-0.5 1.2-0.8 0.6-0.7 0.6-0.7 1-1.5 0.2zM377.3 166.5l-1.4 2.7-2.2 2.6-2.1 2.5-2.6 2.2-1.7 2.6-1.8 2.4 1.1 3.7-0.1 3.2-1 2.9-3.1 2M394.1 176.1l-0.2-3.6 1.2-2.4 1.4-1.4 1.5-0.7 1.7 0 1.9 0.4 2.1 1.6 1.3 3.1 0.1 3.2-0.4 2.8-1 2.2-1.9 0.3-1.8-1.2-1.7-0.6-2.2-0.9zM389.9 169.9l-3.3 1.1-3.2 0.6-2.8-1.3-3.1 0.2-2.6-1.9M395.5 172.9l-2.6-2-2.1-2.2-3.8-1.3-2.9-1.5-0.6-3.5M392.1 178.2l-1.1-0.6-0.8-1.5-0.7-1.6-0.4-2 0.4-2.2 0.8-1.5 0.9-1.3 1.2-0.7 1.1 0.7 0.8 1.4 0.7 1.6 0.4 2.1-0.4 2.1-0.8 1.5-0.9 1.3zM415.3 170.0l-3.2-0.9-3 1.8-2.8 1.1-2.7 2-2 3.9-3.1 0.5-2.9 0.8M407.2 170.9l-1.5-0.8-1.3-0.4-1.8-1.5-1.3-2.7-0.9-2.3-1.5-2.7-0.6-2.5 1.6 0.6 1.5 1.1 0.9-0.7 1.8 0.7 1.6 3.2 0.3 2.4 0.9 2.1 1 2.7zM400.6 179.8l-0.4-1.3 0.6-1.4 1-1.2 1.4-0.7 1.4 0.1 1.1 0.4 1.2 0.1 1.4 0.5 0.4 1.3-0.6 1.3-0.9 1.2-1.5 0.8-1.4-0.1-1.1-0.4-1.2-0.1zM415.6 168.7l-3-2.2-3.2-2.9-0.5-2 1.3-0.6 0.6-1 1.7-0.4 3.5 2 3 2.6 3 2.2 3.1 2.8 0.6 2-1.3 0.7-0.6 1-1.7 0.4-3.5-2zM420.7 166.8l-0.2 1.5 0.4 3.8-1.8 3.9-2.9 0.5-2.2-2.3-0.8-3.3 1-3.2 1.5-1.8-0.1-1.7-0.3-3.9 1.8-3.7 2.9-0.2 2.1 2.3 1 3-0.8 3.2zM434.2 167.1l-2.3 2.2-2.2 2.1-3.3 1.2-2.9 1.6-1.2 3.1 0.2 3.7-1.1 2.8 0.2 3.4-0.6 3 2.7 4.2M441.9 166.6l0.3-3-2.1-3.3 0.3-2.8-1.4-2.9 1.5-3.1-1.2-3.1 1.4-3 4.6-2.2 0.5-2.9M456.6 171.6l-0.5 1.6-3.3 0.1-3.2-0.3-3.6-0.5-3.5-1.7-1.3-2-0.6-1.6-1.3-1.7 0.1-1.7 2.5-0.5 3.2 0 3.9 0.8 3.1 2 1 1.9 1.3 1.5zM456.2 167.4l0-3.5 1.7-2.7 3-1.7 1.5-2.4 3.4-1.5-0.6-3.9 3.1-1.8-0.8-3.7 2.2-2.2M519.2 169.4l2.6-1.8 3-1.8 1.6-2.5 1.4-2.7 0-3.5-0.5-3.6 0-3.4M531.0 173.6l3.5 0.6 2 2.2 2.7 1.7 2.3 2.1 1.9 2.4 1.7 2.3 2.4 1.7 1.3 3.1M568.9 180.4l-0.6-0.7-0.5-0.6-0.7-0.6-0.5-1.4 0.3-1.6 0.9-1 0.9-0.4 0.9 0.4 0.5 0.7 0.5 0.5 0.8 0.6 0.5 1.4-0.4 1.6-0.8 1-1 0.4zM280.4 191.7l-2.2 4.4-3.8 4.5-3.1 1.4-0.9-1.8 1.1-3.5 1.9-3.3 1.4-2.4 1.1-2.7 2.3-4.1 3.6-4.1 3.3-1.9 1.3 1.1-1 3.5-2.4 3.9-1.8 2.5zM287.5 189.8l0-1.1 0.2-1 0.6-0.9 0.8 0 0.7 0.7 0.5 0.5 0.9 0.5 0.5 1.2-0.6 1.1-0.9 0.4-0.4 0.5-0.6 1.1-0.9 0.2-0.6-1-0.2-1.2zM309.8 199.7l-2.1-0.6-0.8-1.5 0-1.1-0.7-0.7-1.3-1.2 0.3-1.6 1.9-0.9 2.1 0 1.9 0.3 1.4 0.8 0.5 1.1 0.1 1 0.1 1 0 1.4-1.2 1.4zM308.9 195.7l-2.4 2.2-2.8 1.9-1.3-0.1 0-0.9 0.2-0.9 0.8-1.3 1.4-1.7 1.9-2 2.8-2.4 2.2-0.9 0.7 0.5 0.9 0.1 1.1 0-1.1 1.6-2.4 2.1zM334.1 189.2l-1.6 0-1.9-0.6-2.2-2.4-1.6-3.2-1.3-2.9-1.6-3.6-0.5-3.4 1.4-1.1 2.3 1.2 2.2 2 1.8 2.1 1.9 2.4 2.2 3.2 1.3 3.8-0.6 2.3zM326.8 196.3l-0.4 0.5-0.7 0.7-1.1 0.1-1.3-0.6-0.9-1-0.4-1.2 0-1.1 0.4-0.8 1-0.3 1 0.3 0.9 0 1.3-0.1 1.6 0.8 0.4 1.4-0.8 1zM343.8 187.1l-2.3-2.3-2.2-2-0.6-3.1-1.3-2.6 1.2-4M339.5 185.9l2.7 1.8 2.6 2 2.1 2.4 0.7 3.2 1.1 2.6 2.2 2.2 0.3 3.2 1.6 2.6 5.6-0.1 1.2 2.9M340.1 193.3l-0.4 2.9-1.2 1.5-1.2 0.2-1 0.1-0.9 0-1-0.7-0.9-1.6-0.6-2.4 0.1-2.9 1-2 1.4-0.1 1 0.7 0.8 0.2 1.1 0.2 1.2 1.3zM362.1 189.8l-1.3 2.7-1.4 2.6 0.4 3.7 0.3 3.4-1.2 2.9-0.3 3.2 0.9 3.2-2.6 2.3-2 2.5 2.7 3.9M364.3 183.2l-0.5 1.3-0.8 1.2-1.3 0.7-1.4-0.1-1.2-0.8-0.9-0.9-0.6-1.2 0.1-1.4 0.5-1.3 0.7-1.2 1.3-0.9 1.5 0.2 1.1 0.9 0.9 1 0.6 1.1zM364.7 187.3l-2.5-1.6-2.2-1.8-1.1-1.7 0.4-1 1.3-0.3 1.7 0.1 2.3 0.6 2.7 1.4 2.5 1.8 1.6 1.8 0.9 1.5 0.3 1.3-0.7 0.8-2.1-0.3-2.6-1.1zM355.8 189.2l1.7 2.7 1.4 2.2 0.1 3.4 0.8 2.7-1.1 3.7M380.6 187.7l-1.9-2.3-1.8-2.6-1.9-2.6-0.5-3.1 0.7-3.3-0.2-2.9 1.9-3.3 2.2-3.2-4.1-2.8M386.1 179.3l1.3 2.6 0.6 3.2-0.7 3.9 0.8 3 2.1 2.4 1.2 2.7M375.0 190.2l-0.2 3.1-0.4 3.1-0.2 2.9-1.4 3.3 1.4 3M391.2 191.2l-1.5 0 0.3-1.1 3.4-1.8 3.3-1.1 1.8-0.5 2.3-1.1 2.2-0.7 0.8 0.2 0.4 0.5-0.5 1-2.7 1.7-3.1 1.3-2.1 0.6-1.9 0.6-1.5 0.4zM393.7 186.1l-1.7-0.9-0.8-0.8-0.7-0.7-0.7-0.7 0.4-0.3 1.4 0.4 1.5 0.6 1.5 0.6 1.5 0.6 1.8 0.9 1.3 1-0.4 0.3-1.6-0.4-1-0.2-0.8 0.1zM388.4 191.0l-2.7-2.2-0.8-3 0.6-3.5 0.5-3.2 0.4-3.1-0.8-2.9-1.1-2.9-2.4-2.5M392.2 193.8l-0.3-1.4-0.6-2-0.2-2 0.7-0.7 0.9-0.3 1.2 0.4 1.1 2.5 0.1 2.6-0.2 1.2 0.7 1.8 0.7 2.8-0.5 1.4-1.2-0.4-1.2-1.4-1-2.3zM405.4 181.0l-2.2-2.8-1.9-2.4-3.1-0.6-3.1-0.7-3.8 1.5-3.7 2.6M414.6 191.7l-0.5 0.3-0.4-1.2-0.1-1.9 0-1.9 0.1-1.8 0.2-1.7 0.4-1.2 0.5-0.1 0.4 0.6 0.3 1 0.4 1.3 0.1 1.9-0.2 2-0.4 1.1-0.4 0.7zM394.9 193.2l-0.1-1.1 0.4-1.5 1.4-1.9 2.2-1.7 2.3-1.2 1.9-0.7 1.7-0.3 1.2 0.2 0.6 0.9-0.6 1.6-1.8 1.9-2.3 1.6-2 1.2-2.1 1.1-1.9 0.4zM418.4 193.4l-1.2-0.8-0.7-1.4 1-1.1 1.3-0.3 0.5-0.9 0.9-1.2 1.5 0.2 0.8 1.3 0.6 1 0.7 1.2-0.4 1.2-1 0.7-0.8 0.7-1.1 0.6-1.2-0.4zM427.5 190.9l3.1-0.2 3.1-0.3 2.8 0.3 3 0.8 3.2 0.9 3.1-0.3 2.8-1.6 2.5-3.1 1.2-5.7-0.7-7M413.8 197.1l-0.1-1.2 0.7-1.6 1.3-1.7 1.4-1.1 0.9-0.8 1.1-1.3 1.7-1.4 1.3-0.4 0.5 0.8-0.6 1.7-1.6 1.9-1.6 1-0.8 0.6-1.1 1.7-1.9 1.7zM427.7 181.1l0.1 2.5-1.9 1.8-2.6 0.2-2.1-0.7-1.8-0.8-1.5-1.2-0.8-1.7-0.3-1.9 0.1-2.2 1.2-2.2 2.3-0.9 2.5 0.7 1.5 1.7 0.9 1.5 1.1 1.3zM440.0 191.6l-1.2-0.3-1.2-0.1-1.8 0-1.6-0.6 0.2-1 1.5-1 1.7-0.6 1.8-0.3 1.5 0.2 0.9 0.5 1.3 0.2 1.8 0.4 0.6 1-1.3 1.1-2.2 0.5zM439.8 193.1l-2.8 1.2-2.8 1.4-1.3 3.1-1.8 2.7 0 4.3 0.3 4-1.9 2.4 0 3.4-1.3 2.7M450.3 194.9l2.4-2.5 1.6-2.6 2-2.5 1.8-2.7 1.5-2.5 0.5-2.9 1-2.8-1.5-3.9 1-2.9M511.3 182.3l-2.2-0.4-1-0.9 0-0.8-0.7-0.7-0.1-0.7 1.5-0.3 1.6 0.1 1.5-0.1 2 0.1 1.4 0.8 0.5 0.8 0.2 0.7-0.7 0.6-1.3 0.1-1.1 0.3zM517.2 180.8l-3.2 1.3-2.8 0.8-2.2 3.4-2.7 1.5-2 3.1-2.8 1-3.1 0.3-1.7 3.1-2.6 1.5-3.9-0.7M533.0 184.7l-3.1 0.7-3.4 0-3.3-0.2-2.8 0.7-2.5 2-1.7 3.6-2.6 1.7-1.7 3.2-2.2 2.2-3.4 0M554.8 180.5l-2.1 0.8-2.4 0.1-1.3 0.2-1.4 0.8-2.7 0.3-2.5-0.7-0.4-1.3 0.9-1 0.5-0.8 0.7-0.8 1.7-0.5 2.1 0.1 1.9 0.4 2.3 0.3 2.3 0.9zM570.7 187.7l3.5 0.2 2.9-2.2 2.5-1.8 2.3-2.8 1.8-3.4 2.4-1.9M275.4 200.8l3.2-1.3 3.2-0.3 3.1-0.5 2.8 1.9 2.9 0.1 2.8 1.5 2.9 1.5 2.5 2.3M297.9 201.4l2.2 2.1 3 1.1 2.7 1.1 2.8 1.3 2.2 2.2 3.2 1 0.8 3.5-0.8 4.8M307.0 199.5l-1.2 2.9-2 2.4-1.7 2.3-3.6 0.8-1.7 2.5-3.4 1.1-4.2-0.1-0.7 3.6-2.1 2M318.3 196.2l-0.1 3.1 0.2 3.4-1.3 2.8-0.5 2.7-2.3 2.5-1.3 2.7-1.9 2.6M327.7 209.3l-0.8 1.3-1.2 1.6-0.8 0.6 0-0.7-0.1-0.4-0.2-0.5 0.8-1.5 1-1.3 0.8-1.2 1.2-1.7 0.9-0.8 0 0.7 0.1 0.6 0 0.6-0.7 1.3zM332.6 204.7l-1.3-1.6-0.5-2.2 1.2-1.5 1.9 0 1.4 0.4 1.3-0.1 1.7 0.1 1.5 1.4 0.5 2.1-0.6 1.7-0.9 1.3-1 1.1-1.4 0.6-1.6-0.7-1.1-1.4zM331.5 206.0l2.6 1.1 2.7 1.1 3.1 0.1 3 0.5 3.3 0.1 3.4-0.7 2.6 1.5 1.9 3.6M338.0 204.3l0.8-2.6 1.2-1.6 0.2-1.2 0.6-1.5 1.3-1 1.8-1.1 2.5-0.8 1.7 1.5-0.8 2.7-1.4 1.5-0.2 1.2-0.4 1.6-1.3 1.1-1.8 1-2.5 0.7zM334.0 212.6l0.6 3 2.1 2.5 2.6 2.2 3 2 2 2.3 2.1 2.3 0.4 3.2M342.2 198.7l-0.1 3-0.7 2.9-1.9 2.8-1 2.9-0.5 3 1.6 3.2M343.5 210.9l-1.7 2.2-2 2.6-2.6 2.1-2.4 0-0.8-2.3 0.7-3.2 1.1-2.8 1.2-2.6 1.5-2.7 2.3-2.5 2.4-1.2 2 0.4 1.1 1.7 0.1 2.6-1.2 3.1zM353.4 204.9l-2.6-1.3-2.8-1.3-1.6-3.6-1.9-2.7-1.2-3.5-2.1-2.2-3.2-0.7M359.9 207.1l-2.7-1.4-2.8-2.5-2.3-2.8-2.6-1.7-2.9-1.2-3.1 0.4-3.3 0.4-3.6 2.2M363.6 214.0l-1.5-0.7-1-2-0.8-2.1-0.9-2.7 0.3-3.3 1.8-1.6 1.7-0.2 1.4-1.5 2-1 1.2 2.5-0.2 3.3 0.2 2.4 0.3 3-0.9 2.8-1.9 1.1zM376.5 203.4l1.7-2.7 2.5-2 2.8-1.8 2-2.5 2.4-1.9 1.3-2.8 0-3.4 0.5-3.2 4.1-1 3-1.6M385.7 212.1l1.2-2.8 0-3.3-2.6-3.8-1.4-3-0.2-3 0.9-3.1M379.3 207.3l-0.3-3.1 0.2-3.1-1.2-2.7-2.4-2.5-1.7-2.5-1.5-2.8-2.5-2.2-0.2-3.3 4.2-4.1M383.5 199.0l-0.2-1 2.9-1.6 3.2-1.2 3.3-1.4 4-1.1 3 0 2 0.4 2 0.4-0.3 1.3-3.2 1.5-3.1 1.2-3 1.5-4.2 1.2-3-0.2-1.5-0.5zM398.6 209.9l-0.8 1.9-1.2 2-1.6 1.1-1.8 0.7-2 0-0.6-2.4 1.4-3.3 1.4-2.1 0.6-2 1.2-2.3 1.6-1 1.7-0.3 1.9 0.1 0.8 2.3-1.2 3.1zM397.3 205.9l3.2-0.1 3.3-0.1 2.6-1 2.4-3.2 2.9-0.7M384.7 200.8l0-2.7 0.2-2.9 0.6-2.9 1.3-1.1 1.1 2.2 0.6 3.1 0.9 1.5 1.3 2.5 0.1 4-1.4 1.5-1.1 0.1-0.7 2-1.3 1.4-1.1-2.1-0.4-3.6zM404.4 214.0l-0.7-0.5-0.3-1.1 0.6-1.6 1.5-1.4 1.5-1.1 1.6-1 1.3 0 0 1.3-0.3 1.1 0.9 0.5 0.6 1.4-1.5 2-2 0.7-1.3-0.2-0.9-0.1zM402.5 207.2l-0.9-1.5-0.9-1.3-1-1.8 0.2-2.1 1.7-1.3 2-0.5 1.9-0.1 1.9 0.6 1.1 1.6 0.3 1.7 0.3 1.7 0.1 2-1 1.9-2 0.9-2.2-0.4zM401.0 211.5l-0.9-0.5-0.6-1.8 0.5-4.2 1.4-4.6 1.3-3.3 1.2-3.4 1.5-3.3 1.5-1.8 0.9 1-0.1 3.7-1 4.5-0.9 3.8-0.9 4-1.5 4.3-1.4 1.9zM426.2 199.7l0.9-3.6-0.1-3.2 0-3.1-1.6-2.5-3.1-2.2-3.7-1.6-3.3-1.5-0.5-3.2 0.8-3.9-0.8-2.9M427.8 205.8l-0.5-1.6-0.6-1.5-0.7-1.9 0.3-1.5 1.3-0.1 1.5 0.9 1.5 1.3 1.3 1.7 0.7 1.8 0.2 1.4 0.3 1.5-0.1 1.5-0.9 0.8-1.6-0.6-1.7-1.7zM419.1 210.8l0.5-2 0.2-1.7 0.2-2 0.9-0.4 1 0.8 1 0.3 1.2 1.4 0.5 2.6-0.2 2.1 0 2.1-0.4 1.7-1.1-0.4-0.9-0.8-1.1 0.3-1.4-1.1zM446.0 210.8l-1.1 3-1.9 2.6-2.8 2.3-1.6 2.7-0.6 3-0.3 3.1M445.2 212.2l-2 0.8-1.8 0.3-1.7-0.2-1.9-0.2-1.4-1.2 0.7-2.2 2.2-1.8 2-1.1 1.7-1.2 2.1-0.7 1.7 0.2 1.4 0.9 1 1.2-0.3 2-1.7 1.9zM453.8 198.5l-2.6 2.5-3.6 3.3-2.9 1.2-0.4-1.5 0.4-1.9 1.3-2.2 2.4-2.6 2.2-2.3 2.7-3.4 4.1-3.5 1.8 0.3-0.9 2.5 0.4 1 0.4 1.2-2.3 2.9zM452.8 201.6l1.1-3.1 1.5-2.9 3.3-2.6 1.1-2.8 2.1-2.3M468.4 208.8l-2.3 2.5-3.3 0.1-3.4-0.5-3-0.5-3.2-2.8-2.9-1.5-2.4-3.7-3.5 2.3-3.1 1.1M514.4 208.1l-1.8 2.3 0.1 3.5 0.9 3.3 2.1 3.3 2.1 2.9 2 2.9-0.1 3 0.1 2.9M535.5 211.7l-3.8 0.2-3.1-0.5-1.8-1-0.2-1.3 1.1-1.2 1.9-1 2.2-1 3-1 3.9-0.4 3.3 0.5 1.4 1.2-0.1 1.3-1 1.1-1.4 1.1-2.1 1.2zM545.5 199.9l1.5 3.2 0.3 3.1-0.3 2.9-1 2.9-2.8 2.7-0.7 2.9-2 2.7M288.1 215.6l3.2 0.7 2.7-2.7 2.5-2.1 2.6-1.5 2.8-1.5 3.4 0.3 2.3-2 3.6 1.9 3.1 0.5 3.3 1M289.7 223.5l-3.3-1.8-2.3-2.3-0.6-3.2-0.6-3 2.2-4 1.4-3.3 2-3.2 2.8-2.9M316.8 226.2l-2.3-0.9-2.3-1.5-0.8-1.8 0.6-1.2 1-1 1.7-0.4 2.4 0.6 2.1 1.1 2.1 1 2.4 1.4 1.5 1.8-0.5 1.4-1.6 0.7-2 0-2.2-0.5zM310.5 218.2l-1.4 0.7-2.6-0.8-2.1-1-2-0.7-2.2-1.3-1.6-1.8-0.4-1.7 0.6-1.1 1.2-0.6 1.5-0.3 2.1 0.2 2.4 1.3 1.4 1.9 0.8 1.5 1.4 1.7zM332.0 227.2l-1.5-2.7-0.8-2.9-1-2.6-0.5-3 0.1-3.3 2.3-3.8 1-3.1M326.4 237.6l-1.2 0.5-0.9-1.9 0.2-5 0.8-4.2 0.3-3.3 0.3-5.1 1.1-3.4 1.1 1.1 0.7 1.8 0.9 1.5 0.3 3.5-0.4 4.3-0.5 3.8-0.7 3.6-1 2.2zM341.5 232.6l-0.7-1.4-0.5-1.5-0.1-2 0.7-2.4 1.4-2.1 1.8-1.2 1.7-0.4 1.5 0.2 1.2 0.9 0.5 1.8-0.5 2.3-1 2-1.1 2.2-1.7 1.9-1.8 0.7zM349.4 215.8l-2 0.2-1.8 0.2-1.8-0.1-0.7-0.8 0.6-1 1-1 1.3-1.1 2.1-0.8 2-0.3 1.8 0 1.6 0.2 0.8 0.7-0.4 1-0.9 1-1.5 1zM357.4 218.4l-1.9 0.2-2.1-0.5-2.2-0.5-2.7-1.5-1.8-2.8-0.1-2.4 0.2-1.7 0.4-1.7 1.3-0.9 2 0.1 2.4 0.9 2.5 2 1.5 2.6 0.7 2.3 0.4 2.2zM355.0 223.2l1.3 3.1 1.9 2.6 1.2 3.1 0.5 3.4 2.9 1.4 2.5 1.8M353.3 221.3l2.9 1.3 2.7 1.2 0.5 4.3-1.1 4.5 1.2 2.8-0.1 3.4 1.8 2.6-1.6 3.7 1.9 2.5M379.8 229.0l-2.6-0.2-1.5-0.5-1.2 0.3-1.5-0.2-1.1-1.1-1.1-1.4-0.7-2.1 1.3-1.7 2.2-0.1 1.5 0.2 1.4-0.2 1.3 0.6 0.8 1.1 1.3 1.3 1.2 2.1zM376.3 219.4l-1 0.5-1.6-0.3-1.4-0.3-1.4-0.6-1.2-1-0.8-1-0.9-1.2 0-1.1 1.1-0.3 1.2 0 1.3-0.1 1.7 0.7 0.9 1.3 0.5 1 1 1.1zM377.5 224.6l3-0.8 2.9-1.5 2.6-1.7 2.6-2.4 1.4-4.5 2.3-1.7 1.1-3.5M378.3 217.3l-3.3 0.1-3.2-0.2-3-0.3-2.3-2.6-2.1-2.7-2.9-1-1.6-3.5-3-1-2-2.4-2.4-1.7M386.1 220.6l-1-3.2 0.6-3.3-0.2-3.2-1.1-3-4.2-1.3-4.6-0.1-1.3-2.8-2.2-2.1-4-0.4M405.3 222.0l2.3 1.9-2.1 0.8-5.4-0.6-5.9-1.4-4.9-1.8-3.5-1.7-1.5-1.5 0-1 1-0.8 1.3-0.9 3.2-0.6 6.3 0.9 5.6 2.3 1 2-0.1 0.9zM387.0 224.6l-1.7 2.4-0.6 3-0.6 2.9 0.4 3.2 1.3 3.5 0 3.1-3.8 2.2M398.7 214.3l-3.1 0.1-2.5 2.1-2.2 2.5-1.6 3.4-1.1 3.7-3 1.1-3.6 0.1-3.1 0.4-3.2 0.5-2.4 2M406.6 222.3l-0.7-3-0.9-2.7-1.4-2.2-0.5-3 0-3.4-1.6-2.6-5.9 0.1-1.8-2.4M402.0 226.4l2.2-1.8 1.3-3.3-0.1-4.1-0.5-3.7-0.2-3.2M408.3 219.7l2.5-2.1 2.9-1.4 3.1 0.1 3.5 1.8 2.9-1 3-0.4 3.1-0.2 3.2 1.9 2.8-1.1M419.8 224.5l3.2 1.1 3.3 0.4 3-0.6 2.8-1.8 2.1-2.9 2.4-2.1 2.7-1.5 0.3-5.5M417.9 226.7l-3.3-1.1-2.6-1.8-1-1.9-0.1-1.7 0.8-1.5 2.3-0.7 3.1 0.2 3.3 0.6 3.3 1.2 2.5 1.8 1 1.9 0.3 1.7-0.7 1.5-2.4 0.8-3.3-0.4zM426.3 225.2l-0.9-2.9-0.1-3.1 0.9-3.2 0.2-3.1-1.1-3M428.2 222.9l-1.1-2 1.4-3.6 1.4-2.9 1.2-2.7 2.2-2.6 2.3-1.5 2.3-1.1 2.3-0.3 1 1.8-0.4 2.8-0.9 2.9-1.7 3-2.5 1.9-2.1 1-2.4 1.9zM444.6 211.6l2.1-1.9 2.6-1.6 3.5-0.6 2.9-1.1 4 1 3-0.9 0.9-4.6 1.1-3.5M442.0 228.5l-2.6 1.1-1.6 0.6-1.8 0.9-1.6 0.4-0.8-0.8 0.1-1.6 1.4-2.5 2.4-2.7 2.7-1.8 1.9-0.5 1 0.4 0.8 0.2 1.7-0.2 1.1 0.9-1.4 2.9zM435.6 232.7l-1.7 0.4-1.8-0.8-1.5-1.3-1-1.7-0.6-2 0.1-1.9 0.7-1.9 1.4-1.1 1.8 0 1.7 0.9 1.5 1 1.4 1.6 0.5 2.1-0.4 1.9-0.8 1.6zM456.1 224.3l0.4-1.7 0.9-1.5 1-1.5 1.6-1.4 2.2-0.8 2.1-0.1 1.9 0.4 1 1.2-0.2 1.7-1 1.6-1.1 1.4-1.6 1.4-2.1 0.8-2.1 0.2-2-0.4zM449.5 223.4l-1-0.5-0.6-1-0.2-1 0-0.9 0.1-0.9 0.4-0.9 0.7-0.7 1-0.4 1.1 0.2 0.8 0.8 0.1 1.2-0.3 0.9-0.3 0.8-0.1 0.9-0.6 1.1zM473.9 218.9l-0.1 3 0.4 2.9-2.7 3-1.5 2.7-1.4 2.8-0.8 3M477.2 221.0l-0.9-4.2-0.9-5.8 0.8-3.3 1.6 0.6 1.5 1.1 1.5 2.3 1.1 4.2 0.8 4.2 1 4.8 0.2 5.1-1.1 1.7-1.4 0-1.2 1-1.7-1.8-1-5.5zM482.0 228.6l-0.1-1 0.6-1.2 1.1-1 1-0.7 1.1-0.6 1.3-0.6 1.4-0.2 0.9 0.6 0 1.1-0.6 1.2-1 1-1 0.7-1.1 0.6-1.3 0.5-1.4 0.1zM484.3 232.9l-1.3-0.1-1.4-1.7-0.9-4.4-0.2-4.1-0.8-4.3-0.6-6.2 1-3.7 1.9 2 1.4 3.3 1.1 2 1.2 2.3 1.1 4 0.6 5.1-0.3 4.7-1.4 1.6zM549.3 216.6l1-1.6 1.1-1.5 1.3-1.4 1.8-1.7 2.4-1.7 2.7-1.3 2.2-0.5 1 0.6-0.9 1.6-1.8 1.9-1.7 1.4-1.5 1.5-2.4 2-3 1.8-2.1 0.2zM287.8 242.6l-1.2-3.1-1.8-2.8-1-3 1.5-3.3 0.3-3 2.9-2.7 1.7-2.8 4.8-1.8M302.5 245.3l-1.3 0.5-1.7-0.6-2-2.8-1.3-4.3-0.2-3.5 0.1-2.7 0-3 0.8-2.1 1.7 0.4 1.9 2.4 1.6 2.9 1.5 3.4 1.1 3.9-0.1 3.3-1 1.6zM314.7 241.2l3.3 1 3.2 0.4 2.7 1.3 3.6-0.1 3.2 0.1 1.8 3.4 1.7 2.8 0.9 3.9 1.1 3.4M309.9 239.8l0.4 3.3 1.8 2.7 1.2 2.6 1.3 2.5 3.9 1.2 3.8 0.9 3.9 0.4 2.7 1.4M325.2 233.8l2.7-1.7 3-1.6 2.5-2 2.1-2 0.5-3.5-1.6-4.4 1.2-2.8 3.3-1.7 3.4-1.3 4.1-0.6M328.4 231.2l-1.3 2.1-1.7 3-2.6 1.8-1.7-1.3-0.2-2.8-0.3-1.9-0.8-2.1 0.5-3.2 2.3-2.5 2.3-0.7 1.8-0.1 2-0.6 2.1 0.2 0.7 2.4-1.2 3.3zM333.7 242.9l-1.3-2 0-2 1.2-0.8 1.1-0.1 0.9-0.2 1.1-0.3 1.5 0.7 1.2 1.8 0.4 2-0.1 1.6-0.2 1.5-0.7 1-1.3-0.1-1.3-1.1-1.1-0.9zM343.2 235.6l-1.9 0.6-1.3-0.2-0.3-0.6-0.2-0.4-1.1-0.3-0.4-0.9 1.9-1 2.1-0.3 1.3-0.1 1.6-0.6 1.8-0.3 0.4 0.6-0.7 0.9-0.8 0.8-0.9 0.9zM363.1 230.8l3 0.8 3.6 0.3 2.5 1.6 1.4 3.2 3.4 0.1-0.4 5.8-0.4 4.5 1.7 2.4M360.3 234.0l-0.2 3.2-2.2 3.1-2.2 2.7-1.3 3-0.2 3 0.7 3.1 0.7 3 3.2 3.2 5.9 2.3M358.2 230.0l-1.2-1.3-0.8-1.2-0.3-0.9-0.2-0.9 0.4-0.3 1.3 0.6 1.4 1 1.3 1 1.5 1.2 0.9 1.4-0.1 0.7-0.2 0.4-0.2 0.5-1-0.1-1.4-1zM374.3 237.4l-4-2-3.4-3.1-0.7-2.8 2.4-0.8 3.4 0.8 2.2 0.7 1.7-0.3 3.1 0.1 4.5 2 3 3.3-0.3 2.4-2.4 0.6-2.5-0.2-1.9-0.1-2 0zM378.4 238.6l-2.3 2.1-1.8 2.6-1.6 2.8-1.6 3-2.2 2.3-4.4-1.1-2.2 2-2.3 1.9-0.6 4.1M378.7 238.6l3.2 0.1 2.8 1.4 2.7 1.1 2.6 0.9 1.9 3.7M400.5 236.6l-0.1 0.8-1.4 0.2-1.6 0-1.5 0.2-2.1-0.2-1.1-0.8 0.2-0.8-0.3-0.6-0.7-0.9 0.9-0.6 1.9 0.1 1.7 0.3 1.7 0.3 1.3 0.6 0.6 0.7zM381.0 236.8l-1-2 0.5-2.1 0.5-1.9 0.8-2.3 2.2-0.9 2.2 1.5 1.4 1.7 1.3 1.3 1.1 1.8 0.2 2.1-0.2 2.3-1.2 2-2.4 0.1-2-1.5-1.5-1.1zM387.3 242.7l2.5 1.9 2.2 2 2.2 2 3.8-0.3 3 0.6 3.7-0.8 3.7-1.4M413.5 238.7l2.9 0.5 3 0.8 3-0.8 2.8-0.1 3.2-1.3M415.6 231.2l-2.7 1.5-3.3-0.4-3.1-3.8-2.9-1-2.9-1.4-3-0.7-3.3 2.5-3 1.7M398.6 243.0l-0.1-1.5 0.3-1.8 1.3-2.1 2.5-1.9 2.7-0.8 1.8 0.1 1.9-0.2 2.3-0.1 1.2 1.2-1.3 2.3-2.5 2-2.3 1.5-2.2 1.4-2.6 1-2 0zM415.7 229.5l-1.9 3.1-0.2 3.1 0.3 3.2 0.2 2.9 1.8 2.8 2 2.8 1.5 2.8 0.4 3.1-1.6 3.3-2.9 3M419.6 237.2l-1.5-0.1-0.6 0.3-0.6 1.2-1.3 0.3-0.7-1.1-0.2-1.1 0-0.9 0.3-0.8 0.5-0.6 0.5-0.9 1.1-0.5 0.9 0.8 0.4 0.9 1 0.4 1.1 1.1zM418.4 239.5l-2.7-1.6-3.5 0.6-3.6 1.4-3.2 0.9-3.1 0.8M426.8 236.8l-1.1 0.2-1.5 0.1-1.9-2.5-0.9-3.4-0.8-2.4-1.5-3.3-0.3-3 1.6 0.2 1.6 1.1 1.4 0.4 1.8 1.7 1.4 3 0.9 2.8 0.8 3-0.2 2zM435.0 242.4l0.1-1 0.9-1 1.2-0.9 1.3-0.7 1.3-0.4 1.3-0.2 1.1 0.1 0.7 0.5 0.3 0.8-0.5 1-1.3 0.9-1.5 0.6-1.3 0.2-1.2 0.3-1.4 0.2zM442.7 246.3l-0.5 0.7-1.8-0.8-1.9-1.1-2.5-1.5-2.3-2.5-0.7-1.8-0.4-1.4-0.7-1.6 1.3 0 2.3 1.7 1.6 0.8 2.5 1 2.8 2.6 0.6 2-0.5 0.7zM440.6 237.0l-1.5-3.6-0.1-2.5 0.5-1.3 0.2-1.5 0.5-1.7 1.7-0.5 2.9 2.3 2.8 5 0.2 3.9-1.4 0.8 0.4 1.7 1.9 4.8-0.4 2.9-2.8-2.2-2.7-4.1zM453.2 244.1l-0.3-2-0.6-1.3-0.8-1.6 0.9-1.8 1.6-0.9 1.3-1.3 1.9-1.2 1.4 1.2 0.2 2.1 0.8 1 1.1 1.7-1 1.9-1.8 0.7-1.3 1.1-1.8 1.4zM454.7 232.7l-2.2 1.4-2.5 1.2-1.9 0-0.8-0.9-0.6-1.1 0-1.6 2.2-2.2 2.7-1.3 2.1-1 2.4-1.4 2.5-0.7 1.2 0.7 0 1.6-0.9 1.8-1.9 2zM468.4 239.1l-3.2-0.5-3.4-0.4-2.9-0.3-2.9 0-2.8 1.8-2.6 2.3M477.0 230.7l-3.1-0.8-2.9-0.5-3 0.1-3.3-0.4-2.9-0.3-3 0.6-2.9-0.6-2.7 3.1-2.7 2.1-2.6 2.5M493.5 230.6l2.1 2.1 1.9 2.7 0.3 4.1 0.3 3.6 3.2 1.5 1.9 2.2 2.7 1.5 1.2 2.9M500.5 244.2l-1.9-2.5-0.7-2.2-0.5-1.9-0.3-2 1.1-1.3 2.4 0.5 2.8 1.8 2.2 2.1 1.9 2 1.9 2.4 1 2.4-0.8 1.5-1.9 0.2-2.1-0.4-2.4-0.7zM563.7 238.3l-3.6 0.7-3.2-0.6-3-0.5-2.2-2.8-1.2-3.7-1.5-3.1-2.3-2.1M282.1 256.1l0-1.7 0.4-1.3 0.2-1.3 0.6-1.4 1.4-0.7 1.5 0.5 1.3 1.2 0.8 1.4 0.6 1.5 0.1 1.5-0.5 1.4-1.1 0.8-1.3 0.3-1.4 0-1.5-0.6zM299.9 249.2l-1.3-0.4-1-1.1-0.3-1.4-0.3-1.3-0.6-1.7 0.2-2.2 1.6-0.9 1.7 0.6 1.2 1 0.8 0.9 0.9 0.9 0.7 1.4 0.2 1.9-0.8 1.6-1.5 0.7zM313.0 248.2l1.6-2.8 1.5-2.6 0.3-3 0-3.1-0.4-3.2-3.8-3.4-3.4-2.8 1.1-3.1-3.4-2.5M325.2 249.3l-0.5-0.8-0.5-0.8 0-1.2 0.8-1.1 0.9-0.6 0.8-0.6 0.9-0.6 0.9 0.2 0.5 0.8 0.4 0.8 0.2 1.1-0.8 1.2-1 0.5-0.8 0.5-0.9 0.7zM350.8 253.4l-1.2 1-1.3 0.5-1.3 0.6-1.6 0.1-0.8-1.3 0.3-1.7 0-1.1-0.4-1.6 0.6-1.7 1.6-0.5 1.4 0.3 1.2 0.5 1 0.8 0.5 1.2 0.3 1.4zM355.9 248.8l-2.2 2.6-2.8 2.4-1.9 0.5-0.6-0.8-0.5-1 0.4-1.9 2-2.7 2.1-2.4 2.2-2.7 2.8-2.4 1.8-0.3 0.6 1 0.5 0.8-0.2 1.8-1.9 2.7zM371.3 246.2l3.2-0.8 3.2 0 3.5 1.2 3.2 0.1 3.2 1.4 2.9 1.2 2.9 0.2M374.5 251.6l-0.5-1.7-1.3-1.7-2.6-3.4-0.2-1.9 2.8 2.2 2 2 1.2 0.2 2.2 1.4 1.3 2.5 0.1 1.4 0.7 1.7 0.6 1.8-1 0.3-1.6-0.8-2-1.5zM392.8 257.9l-2.3 2.1-2.5 1.3-1.7-0.5-1-0.9-1.7-0.5-0.7-1.9 1.9-2.9 2.7-2.3 2.5-1.7 2.3-1 1.7 0.2 1.7 0.2 1.8 0.6 0 2.3-2.2 2.8zM392.6 256.9l3.2 0.8 3-0.6 3.6 1.5 2.4-2.9 1.8-3.7 2.7-1 3.1-0.7 2.9-0.6 1.5-4.3M408.8 248.2l-1.1-1.4-0.7-1.4-0.5-1.3 0.2-1.1 0.9-0.3 1.4 0.3 1.5 0.8 1.4 1.3 1.1 1.4 0.7 1.4 0.5 1.3-0.2 1.1-1 0.3-1.3-0.3-1.5-0.8zM400.4 259.2l-1.6-0.8-1.2-1.1-0.9-1.2-0.3-1.4 0.4-1.4 1.2-1.1 1.6-0.6 1.8-0.1 1.8 0.6 1.2 1.1 0.7 1.3 0.1 1.4-0.4 1.4-0.9 1.3-1.6 0.7zM419.4 245.6l-1.2 2.6 0.3 3.7 0.7 3.3-0.3 3.2 0.1 3.1-2.2 2.5-3.5 1.9-1.1 2.8-4.5 1-1 3M419.7 246.3l-0.9-3.1-0.6-3.2-0.2-3.2 0.7-3-0.4-3.1 1-2.7 2.8-2.5 1.2-2.9M425.4 254.6l-3.5 1-3.1-0.2-2.8-1.8-2.3-2.6-2.3-1.8-3.2-0.1-2-3.2-3.8 1.4M425.5 248.8l-2.7 1.5-2.6 1.1-2.6 0.8-2.2 0.3-0.1-1.2 2.5-2.2 2.9-2 2.8-1.7 2.6-1.3 2.4-0.9 2.8-1.2 2.8-0.6 0 1.3-3 2.4-3.1 2zM432.1 255.0l-0.3-1 0.4-0.9 0.8-0.5 0.7-0.4 0.7-0.4 0.9-0.1 0.8 0.7 0.3 0.9 0.1 0.8 0.1 1-0.3 0.9-0.9 0.4-0.9-0.2-0.7-0.4-0.8-0.2zM433.4 243.1l2.4 1.8 2.3 2.5 3 0.9 2.9 0.6 2.6 1.5 2 2.7 3.4-0.3 2.8 1.3M437.0 262.0l-2.9-0.1-2.1-1-1.4-1.2-1.4-1.2-1.1-1.7 0.2-2.4 2-2.1 2.8-1.1 2.8-0.1 2.3 0.6 1.6 1.2 1 1.5 0.7 1.7-0.1 2.3-1.5 2.2zM451.8 247.4l-0.7 0.9-1.3 0.5-1.5 0.3-2.1 0.1-2.6-0.7-1.7-1.6 0.1-1.6 1.3-0.9 1.3-0.4 0.7-0.7 1.1-1.2 2.5-0.3 2.3 1.3 0.8 1.8-0.1 1.4zM461.6 254.9l1.6 2.8 2.7 2.6 1.3 2.9 1.3 2.6-3.6 3.9-2.8 3 0.4 3.1-1.6 3M449.0 261.8l-1.7-0.7-1.7-1.1-0.9-2.8 0.9-3.1 1.1-2.1 0.5-2.3 1.2-2.3 1.7-0.3 1.7 0.7 1.8 1 0.9 2.7-0.9 3.2-1.2 2-0.5 2.3-1.2 2.4zM472.1 246.6l-1-3.2-0.1-3.1 1.8-2.9 1-2.7 3.1-2.3 2.1-2.5-0.5-3.4M463.1 254.4l-1.2-3.2-0.7-2.4-0.3-1.9 0.5-0.8 0.8-0.3 1.3 0.2 2.1 2 2.3 3.6 1.4 3.4 0.7 2.5-0.1 1.4-0.7 0.4-0.5 0.7-1.1 0.4-2.3-2.1zM490.6 259.7l-2.3 1.1-1.8 1.2-2.6 2.1-2.1 0.7 0.1-1.7 1.4-2.4 1.5-2.4 1.8-2.5 2.5-2.4 2.3-1.3 1.4 0.1 0.7 0.5 1 0.4 0.8 1-1.5 2.9zM489.8 247.0l1.2 2.8 2.5 2 2.3 2 3.7 0.4 1.7 2.5 4.4-0.6 1.9 2.6 3.9-0.4M502.9 260.4l-1.3 0.3-1.2-0.1-0.7-0.6 0.2-0.8 0.2-0.7 0.1-0.7 0.6-0.8 1.3-0.5 1.3 0 1 0.4 0.7 0.4 0.5 0.6-0.1 0.7-0.6 0.7-0.9 0.6zM533.8 246.1l0.6-3.5 0.9-3.3 0.2-3 0-3-0.9-2.8M550.2 245.6l-0.7 2.3-1.1 2.5-1.1 1.3-0.7-0.2-0.1-1.3 0.1-1.6 0.3-1.9 0.7-2.1 0.9-2.1 0.9-1.9 1.2-1.8 1-0.8 0.3 1.2-0.6 2.5-0.7 2.1zM569.5 249.6l-0.2-1.6-0.2-2 1.3-1.5 2 0 1.6 0.4 1.7 0 1.6 0.9 0.3 1.8-0.1 1.7 0 1.9-1.2 1.5-1.9 0.2-1.6-0.2-1.7-0.1-1.4-1.2zM285.6 265.2l0.6-3.2 0.9-2.9 2.1-2.3 0.8-2.8 1.4-2.6M301.4 272.8l-1.9 2.7-1.6 2.1-1.9 3.1-2.2 2.3-1.2-1.1 0.5-3.7 1.1-4.1 1.5-3.7 1.6-3.1 1.7-2.7 1.9-2.2 1.8-1.2 1.1 0.9 0.2 2.7-0.8 3.9zM305.2 276.8l-0.2-1.4 0.1-1.3 0.3-1.2 0.8-1.1 1.2-0.6 1.5 0.2 1.2 1.1 0.6 1.4 0.4 1.4 0.1 1.3-0.3 1.3-0.9 1-1.3 0.4-1.4-0.2-1.3-0.9zM320.4 274.5l-1-0.8-0.6-2.1 0.1-3.2 0.7-3.4 1.1-2.6 0.9-2.7 1.2-2.7 1.3-0.7 0.8 1.6 0.4 2.1 0.3 2.7-0.6 3.4-1.1 2.9-1.1 2.1-1.1 2.2zM343.8 261.4l-1.2-3.8-1.9-5-0.5-3.6 1.6 0.7 1.3 0.3 1.4-0.2 2.5 4.2 1.5 5.5 1 3.6 2.3 5.3 0.9 4.4-1.9-1-1.6-1.5-1.4 0-2.3-3.6zM360.0 269.1l-2.6 2.6-2.1 2.5-0.8 3.1-1.7 2.7 0.2 3-0.4 3-0.9 2.8 1.8 3.6 0 3M374.7 274.1l-0.5 0.6-0.7 0.4-1 0-0.9-0.6-0.7-0.7-0.5-0.8-0.2-0.8 0.2-0.6 0.5-0.6 0.7-0.4 1 0 1 0.6 0.6 0.7 0.5 0.8 0.2 0.7zM373.7 269.6l1.6 2.6 2.1 2.1-0.8 4.2-0.1 3.4 1.5 2.7 0.3 3.2 1.5 2.6 4.7 0.8M387.8 261.3l-3-1.3-3.1-0.4-2.9 0.2-2.9-0.1-3 0-3.1-0.3-3.2 1.2M407.7 264.0l-3-0.3-3.4-1.6-3.1-0.7-3.1-0.9-3 2.2-2.6 2.1M413.7 277.6l-1.8-1.8-2.3-1.9-3-2.8-2.1-3.2 1.1-1.5 4.2 1.6 4.2 3.1 2.7 2.4 2.3 1.8 2.3 2.2 2.2 2.4 1.5 2.7-0.5 1.9-3.6-0.9-4.4-3.1zM400.1 263.5l2.7 1.4 3 1.2 3.6 0.6 2.6 1.5 3.7-0.1 2.6 1.3 3.8-1.7 3 0.3 2.5 2.3 2.3 2.5M422.4 269.4l-3.1-5.2-0.9-3.6 0.2-1.8 0.1-1.8 1.2-0.2 2.6 2.5 2.6 2.9 3.1 3.5 3.3 5.2 1.3 4-0.5 1.5-0.6 1.1-1.2 0.1-2.3-1.9-2.5-2.6zM412.4 263.9l-0.4-1.4-0.2-1.5 0.6-1.8 1.5-1.4 1.8-0.9 1.8-0.6 1.8 0.3 0.8 1.3 0.4 1.4 0.2 1.5-0.5 1.7-1.5 1.4-1.8 0.9-1.9 0.6-1.7-0.3zM445.8 279.2l-2.4 0.2-2.8 0.2-1.9-1.1 0.5-1.8 1.3-1.3 0.8-1.2 1.3-1.1 2-0.8 2.7-0.9 3.1 0 0.9 1.7-1.3 1.9-0.4 1.1 0.2 1.5-1.5 1.3zM442.4 272.7l-1.3 1-1.7 0.6-1.9-0.3-1.7-1.2-1.2-1.7-0.4-2 0.6-1.9 1.3-1.3 1.7-0.6 1.6-0.1 1.8 0 2 0.8 1.4 1.7 0.1 2.2-1 1.7zM457.0 267.9l3-1.1 2.9-1.2 3.1 0.2 3 0.6 3.1-2.2 2.9-0.5 3 1.3 2.5 5 3 0.4M463.1 272.1l-1.9 2.7-2.3 3.2-2.6 2.3-0.6-1.6 1-3.2-0.3-1.2-0.5-1.8 2-3.8 2.6-1.9 1.7-1.1 2.4-3 2.4-1.6 0 2.3-1.2 3.2-1.1 2.7zM472.7 272.5l-2.7 1.7-2 2.3-1.4 2.9-0.2 3.4-0.7 3 0 3.4 0.1 3.4-0.5 3-3 2-2.5 2M467.1 264.1l-2.9-1-2.3-2.3-2.8-1-2.7-1.9-2.6-1.8-2.5-1.6M493.2 269.4l3.2 1.6 2.3 2.1 1.9 2.5 2.8 1.5 0.1 3.6 1.3 2.7 1 3M482.8 268.9l-2.5-1.8-4.3-3-0.7-3 3.7 0.3 2.2 0.4 0.9-1.6 2.7 0.7 2.3 2.8 2.1 1.9 3.9 2.8 1.2 3.1-3 0.3-2.3-0.3-1.4 1-2.7-1.1zM508.7 277.9l-1.7-0.3-1.4-1.1-1.3-0.6-1.7-0.8-1.4-1.8 0-2 1.2-1 1-0.5 0.9-0.6 1.3-0.5 1.8 0.7 1.1 1.8 0.3 1.8 0.2 1.6 0.4 1.9zM528.4 265.5l-1 1.4-1 1-1.1 0.7-1.4 0.5-1.6-0.1-1.3-1-0.6-1.7 0-1.8 0.6-1.7 1.3-1 1.4-0.2 1.2-0.2 1.6-0.3 1.7 0.6 0.7 1.9zM571.8 262.6l3-0.9 2.9-0.1 3-0.2 2.7-1.4 3.6 1M282.4 281.1l-1.3-1.8-1.3-1.7-0.8-2.3 0.6-2.3 1.8-1.6 2.2-0.8 2.2 0.1 2 0.9 1.8 1.2 1.7 1.7 0.4 2.5-1.4 2.1-1.7 1.3-1.8 1.4-2.3 0.5zM311.4 282.6l-0.7 2.4-0.6 2.6-1.3 3.1-2.3 1.5-2.3-1.6-1.1-3.1-0.3-2.8-0.4-2.4-0.3-2.8 0.7-3.2 1.9-1.9 2.3-0.2 2 1 1.7 1.7 1 2.8zM335.2 285.2l2.3-2.3 1.4-2.7 1.2-3 0.2-2.8-0.2-3.3-0.1-3.3 0.5-3.1-0.1-3 2.4-2.4 2.5-2.3M351.4 284.3l1.4-2.2 0.9-3.5 0.7-3.5 0.9-3 1.1-2.8 5.2 0.1 4-0.1 3.5-0.5 2.6-1.6 1.7-2.6M365.0 280.8l-0.2-3.4 0.5-3.1 0-3.2 2.2-2.5 3.7-1.5 3.6-1.3 3.9-0.7 1.9-2.5 1.3-2.8M379.3 283.4l0.5 1.8-0.3 2.3-2.1 0.9-2.2-1.1-1.3-1.1-1.8-0.3-2-1.2-0.3-2.2 1.6-1.6 1.8-0.7 1.2-1 1.7-1.2 2.3-0.1 1.4 1.8-0.2 2.2zM390.3 286.5l0-0.9 0-0.8 0.1-1 0.9-1 1.1-0.4 1-0.2 1-0.2 0.7 0.4 0 0.9-0.1 0.9-0.1 1-0.8 1-1.1 0.4-1 0.2-1 0.1zM397.8 289.4l-0.1-1.5 0.6-1.6 1.5-0.7 1.4 0 1.3-0.2 1.6-0.2 1.4 0.9 0.3 1.6 0 1.5-0.3 1.6-1.4 0.9-1.5 0-1.3 0-1.5 0-1.4-0.8zM427.6 284.0l-1.1 0.8-1.4 1-2.7-0.6-2.7-2.1-2-2-2.1-2-1-2.1 0.9-1.3 1.4-0.7 1.7-0.5 2.6 0.6 2.7 1.8 2.2 1.9 2.2 2.1 0.6 2.1zM432.4 283.7l3.2 1.3 2.4 2.1 2.3 2.2 1 3 1.5 2.5 0.9 2.8 0.9 3.1M440.5 288.2l-3 1.2-3 0.1-3.2 1.4-3-0.8-2.9 0.6M462.9 295.2l-0.3-0.9-0.2-1-0.2-1 0-1.6 0.2-1.6 0.3-1.5 0.5-1.2 0.5-0.1 0.3 0.9 0.2 1 0.2 1.1 0 1.5-0.2 1.6-0.3 1.5-0.5 1.2zM459.8 288.4l-1.5 0.9-2.5-1-2-2.1-0.9-1.7-0.8-0.9-1.6-1.2-1.6-2-0.4-2.2 1.3-1.1 2.5 0.8 2.1 2.2 0.7 1.9 0.7 0.9 1.7 1.1 1.9 2.2zM465.5 282.9l-2.9-0.1-3.2-0.6-2.3-1.2-0.4-1.4 1.6-1.2 2.5-0.7 2.5-0.3 2.5-0.2 3 0.1 3.2 0.6 2.3 1.2 0.3 1.4-1.6 1.2-2.4 0.7-2.5 0.3zM493.5 275.1l1.3 2.8 0.3 3.2 1.9 2.1 1.2 3 3.1 1.5 1 3 3.2 1.2M493.5 290.3l2 2.8 1.2 3.2 1.2 2.9 2.7 1.5 3.8 0.2 3.3 0.8 2.7 1.4 2.9 1.1 1.9 2.5 1.4 3.1M498.4 289.8l-0.3-0.8-0.1-1-0.2-1.1 0.3-1.8 0.8-1.8 1-1.1 0.9-0.4 0.6 0.1 0.3 0.8 0.1 1 0.2 1.1-0.2 1.8-0.9 1.8-1 1.1-0.9 0.4zM499.4 283.8l3.1-0.3 3.2 0.1 3.2-0.5 2.8 0.9 2.6 1.9 2.2 3.1 2 3M556.8 287.0l-2.7-0.6-2.8-0.9-2.7-2.5-2.4-2.6-1.7-3.7M560.2 295.9l-1.5 1.2-1-1.1 0.9-4.9 2.5-5.7 2.2-3.2 1.3-1.3 1.5-2.9 2.2-3.6 1.5-0.7-0.2 3.5-1.6 5.3-1.8 4.8-1.9 4-1.7 2.7-1.2 1.1zM310.4 293.4l-1.1-2.7-1.2-2.7-0.3-3.3-0.3-3.4 0.1-3.4-1.1-2.9-0.1-3-0.9-2.8-4.5-1.4-3.5-1.6M329.9 299.0l-2.9 1.9-2.1 2.4-1.8 2.3-0.9 3.1-0.8 2.9 0.4 3.6-2.4 2.2-0.2 3.4-1.1 2.6-1.8 2.4M327.0 308.2l-2.8 1.3-3.4 1.1-2.9 1.3-2.1 2.1-1.3 3-1.8 2.4 2.1 5.5M342.3 301.9l-1.1-2.9-0.8-2.8-1.4-2.4-0.5-2.9-3.3-2.1-0.1-3.2-0.5-3.2 1.2-3.3-1.7-2.6 1.7-3.4M359.6 306.2l-1.2-3.1-0.4-3 0.7-2.9 1.8-3 2.3-3 1.8-2.7-1.5-3.3-3.3-3.1M371.9 308.3l-0.5-1.4-0.1-1.2 0.3-1 0.6-0.5 0.9 0.4 0.7 0.7 0.8 0.3 1.1 0.6 1 1.4 0 1.4-0.7 0.6-0.8 0.1-0.7-0.1-0.7-0.1-0.9-0.3zM380.8 296.2l-1-2-0.4-2.4 1.7-2.2 2.4-1.1 2.1-1.1 2.6-1 2.5 0.8 1.2 2 0.7 2.2 0 2.3-1.5 2.1-2.2 1.4-2.1 1.4-2.7 0.7-2.3-1.1zM399.8 295.6l0.6-3.1-0.2-2.9-1.7-2.9-2.1-2.7-2.1-2.8-1-2.8 0.3-3.3 3.7-3.3 2.2-3M394.5 300.7l-0.6-1.5 1-2 2.1-1.8 2.5-1 2.1-0.5 2.4-0.9 3.3-0.8 2.2 1-1.4 2.5-2.8 1.9-1.3 1.3-1.3 2-2.6 1.6-2.5-0.1-1.7-0.8zM430.4 295.8l0.4-3.3 2.3-2.3 1.5-2.6 2.7-1.7 3.1-1.4 2.5-1.9 2.3-2M442.4 308.8l-1.2-0.6-0.6-1.1 0.3-1 0.6-0.6 0.4-0.6 0.6-0.8 1.1-0.2 1.1 0.4 0.8 0.8 0.8 0.8 0.4 1.1-0.6 0.8-0.9 0.4-0.8 0.2-0.8 0.4zM446.2 299.7l-3.1 0-3-0.3-3.4 0.8-3.1-0.2-3 0.3-3 0.8-2.6-3.4-2.9-0.6-2.8-1.5M446.4 308.0l-1.6 2.1-2.1 2.1-1.9 0.4-1.1-1-0.8-1.1-0.5-1.7 0.5-2.5 1.5-3 2.5-2.1 2.1 0.2 0.9 1 1.9-1.2 3.2-1 0.4 2.4-2.6 3.4zM449.8 292.0l3.2 0.4 3.2 0.8 3.1 2.7 3.1-0.4 3 1 3-2.2M468.5 297.5l-1 0.3-2.6-1-2.7-1.3-2.6-1.4-2.6-1.8-1.7-1.6-1.1-1.4-0.6-1.1 0.4-0.7 1.8 0.3 2.8 1.3 2.9 1.8 2.1 1.8 1.5 1.4 2 1.8zM451.8 300.1l-2.9-0.8-3 0.3-3.3 1.5-2.8 1.8-2.9 0.9-3 0.7-3.2-0.9-3-2.7-2.8-1.7-3.1 0.7M467.5 297.0l-1.3-2.2 0.4-1.9 1.2-0.6 0.6-1 0.8-1.3 1.5 0.5 1.6 1.4 1.8 1.7 1 2.5-1.3 1.5-1.4 0.1 0.2 1.9-0.5 2.3-1.9-0.8-1.4-2.4zM475.5 303.7l3.4-0.5 2.5-1.6 2.1-2.4 2.7-1.1 0.4-4.7 2-2.3 3.4-0.8 1.7-2.5 3.2-0.8M487.8 297.1l2.6-1.9 2.3-2.3 2.2-2.4 0.4-3.1-1-3.8M507.0 304.0l-2 2.7-0.9 2.9-1.3 2.9-0.4 3.1 2.8 3.2 1.5 3 2.6 2.7 0.6 3-1.3 3.2-0.2 3M519.0 300.1l3-1.2 2.9-0.8 2.6-1.4 3.5 1.8 3 4 3 0.8 2.9 1 3.1-0.5M539.7 301.3l-1.9-1.7-0.9-2.2 0.2-2 0.6-1.7 1.2-1.5 2.3-0.2 2.3 1.2 2 1.4 2 1.7 0.9 2.2-0.3 2-0.6 1.7-1.2 1.4-2.3 0.3-2.3-1.1zM264.1 311.0l-2-2.2-1-3.3-1.6-2.9-2.5-2-1.7-2.3M279.0 317.6l-0.3-1.4 0.2-1.6 1.2-1 1.3-0.3 1.3 0 1.3 0.5 0.8 1.3 0.5 1.4 0.4 1.6-0.5 1.5-1.3 0.7-1.2 0.3-1.3 0.5-1.5-0.4-0.7-1.6zM289.7 311.5l0.7-3.3 1.6-3.1 0.6-3.1-1.3-3 1.6-2.7-4.9-2.9M311.8 318.1l1.2-2.6 0.5-2.8 1.4-3.1 1.9-2.8 1.7-2.9 0.5-2.9M325.1 323.9l-0.8-0.2-0.6-0.5-0.4-0.7-0.4-0.8 0-1.1 0.7-0.9 1-0.1 0.9 0.3 0.7 0.3 0.5 0.4 0.5 0.7 0.4 0.8 0 1.1-0.7 0.8-1 0.1zM360.2 311.4l3.4-0.7 3.3-0.3 3.2-0.5 3.2-0.6 2.9 1.2 2.3 3.4 2.3 2M380.6 316.6l-3.1-1.3-3-0.9-2.3-1.3-3.2 1-3.3 1.4-3-0.2-3-1-3 0.4-3.1 1.2M388.0 311.4l1.8 2.5 1.8 2.8 2 2.4 1.8 2.9 3.3 0.7 3 0.6 2.6 1.3 2.7 1.3 3.1 0.8 0.6 4.7M405.7 315.6l-0.1 1.3-0.7 1.2-1.1 0.5-1 0.2-1.2-0.2-0.7-1 0-1.5 0.2-1.2 0-1.3 0.4-1.4 1.1-0.7 1.2 0.2 1 0.4 0.7 1 0.2 1.2zM428.2 321.6l1.6 2.6 2 2 2.8 1.6 3.4 0.7 3.8-0.1 3.3 0.4 1.3 3.7 1.9 2.4M436.2 315.4l-0.2-1.9-0.1-1.3-0.2-1.2-0.2-2.2 0.3-3.1 0.6-2.8 0.7-1.4 0.6 0.6 0.2 1.9 0.1 1.7 0.1 1.4 0.2 2-0.1 3.1-0.7 3.1-0.7 1.1zM436.0 323.6l-3.6-0.5-3.1 0-3.2-0.1-2.4 2.5-2.8 0.8-2.6 1.4-1.6 4.4-3.7-0.9-2.5 1.9-3 0.2M453.1 327.3l-1.3 0.7-1.6-0.6-1.2-1.5-0.8-1.6-0.4-1.6-0.1-1.6 0.4-1.4 0.8-1.2 1.3-0.6 1.6 0.6 1.3 1.4 0.7 1.7 0.5 1.6 0 1.5-0.4 1.4zM453.2 316.0l-2.7-1.5-2.3-1.5-1-2.2 1.9-1.9 2.1-0.7-0.4-2 0.7-3.3 3.3-0.8 2.8 2 1.6 2.2 0.6 2-1.2 1.7-1.1 1.1 0.2 2.1-1.4 2.6zM466.9 325.6l-2.2 1.7-3.7 2.1-4 0.9-1.3-1.3 2.3-2.6 3.2-2.1 2.1-1.3 1.7-1.2 2.3-1.6 3.5-1.7 3.8-1 1.7 1-1.8 2.5-3.4 2.3-2.5 1.2zM470.4 317.0l2.6-2.1 2.9-1.2 3-0.3 3 0.1 3-0.6 3.5 3.8 3.1 0.6 2.8 3M476.2 327.0l0-1.2-0.2-0.9-0.3-1.2 0.5-2.5 1.1-2.4 1-1.2 0.8-0.8 0.4 0.3 0.2 0.8 0.4 0.4 0.3 1.3-0.7 2.7-1.2 2.1-0.8 1.2-0.9 1.3zM483.1 312.6l-1.6-2.3-2.8-1.6-2.8-1.5-3.9-0.3-2.4-2-2.6-1.6-2.4-1.7 0.2-4.6 0.3-4.2-1.5-2.7M490.9 309.0l-0.4-3 1.6-3.3 0.1-3-0.7-2.9-2.1-2.8M483.6 311.8l3.2-1.2 2.9-1.2 3.3-0.9 2.9-1.2 0.6-4.1 0.5-3.6 1.8-2.2 2-2.3 1.7-2.6M481.5 324.7l2.2 2 2.9 1.1 3.2 1.1 2.9 1.3 2.4 2 1.2 3 0.4 3.7 1.2 2.9 2.5 1.9M485.5 310.5l-2.7-2.4 0.2-3-1.2-2.6-1.2-2.6-0.9-2.9-1.1-2.9M482.6 323.4l-3.3-0.7-2.8-1.1-2.3-1.3-0.1-1.5 2.2-1 1.9-0.7 1.5-1.4 3.7-0.7 3.7 1.1 1.4 1.8 1 1.2 1.7 1.3 0 1.5-2.2 1-3 0.5zM498.1 315.3l-0.9-0.5-0.5-0.8 0.1-0.8 0.3-0.7 0.5-0.5 0.5-0.6 1-0.1 0.8 0.7 0.3 0.7 0.7 0.5 1.1 0.8-0.1 1-1.2 0.2-1-0.3-0.6 0.2zM498.9 308.6l0.2-1.1 0.3-1.1 0.5-1.1 1.1-0.5 1.1 0.5 0.7 0.8 0.7 0.8 0.7 0.9 0.3 1.3-0.5 1.3-1.1 0.5-1 0-0.9 0-1-0.2-0.9-0.8zM496.9 323.6l-1.4 0.1 0.1-1.9 2.2-3.8 2.9-3.6 2.3-2.7 2.4-2.6 2.7-2.7 1.9-0.9-0.4 2.2-1.7 3.4-1.5 2.9-1.7 3.3-2.8 3.8-2.5 2.2-1.3 0.1zM495.1 321.5l-0.6-0.8-1-1.3 0.4-1.5 1.8-0.1 1.3 0.8 0.9-0.4 1.5-0.5 0.9 1-0.4 1.3-0.2 1.1 0 1.2-1 1-1.3 0.1-1.2-0.4-0.8-0.6zM508.3 327.9l-3.1-2.1-0.6 0.7-1.6 1.2-4.4-2.7-2.8-4.3 0.1-2.2-0.6-1.8-1-2.4 1.2-0.4 2.8 1.5 2.7 1.7 3.1 2.3 3.6 3.2 3 3.8 0.5 2.4zM502.0 317.3l-0.8-0.6-0.4-1 0.5-1.3 0.9-1.2 1.2-1.1 1.3-0.2 0.8 0.9 0.6 0.5 1.2 0.2 0.6 1.1-0.9 1.4-1.2 1-1 1-1.3 0.6-1-0.6zM522.9 314.5l-0.8 2.4-1.3 2.4-2 0.8-1.9 0.2-2.1-0.2-1.3-2.2 0.7-3.2 1.1-2.5 0.7-2.5 1.4-2.4 1.9-0.8 1.9-0.1 2.1 0.2 1.3 2.1-0.6 3.3zM524.4 312.3l-4.2 0.5-3.2 0-2.3-0.3-1.8-0.5-1-1 1.2-1.6 4.2-1.9 5.7-1.4 4.5-0.2 2 0.6 1.7 0.4 3.6-0.1 2.6 0.8-2.1 1.9-5.5 1.8zM523.7 320.9l-2.6-1.2-0.9-2.5 0.9-2.2 1.3-1.5 1.6-0.9 1.7-0.1 1.7 0.1 2.3-0.3 2.9 0.8 1.2 2.6-1.4 2.3-1.9 1.1-1.3 0.9-1.4 0.7-1.8 0.3zM518.2 316.9l-1.9 0.2-1.6-0.3-1.5-0.6-1.2-1.1-0.2-1.5 0.9-1.5 1.5-1.2 1.7-0.7 1.8-0.3 1.8 0.1 1.5 0.6 1.1 1.2 0 1.5-0.8 1.5-1.4 1.3zM525.9 327.7l-1.7-0.8-1.2-2.1-0.9-2.3-0.8-2.9 0.4-3.2 1.9-1.8 1.7-0.7 1.7-1.1 2-0.2 1.4 2.1 0.5 2.8 0.3 2.8-0.4 3-1.4 2.3-1.6 1.4zM514.3 313.7l3.3 0.4 3.1-0.3 2.8 0.3 2.9-0.8 2.7-2.2 3-1M543.3 322.3l-1.8 2.5-2.6 1.6-3.2 1.1-3.7 0.4-3.1 0.8-3.4 0-2.2 2.2 0.6 5.9-3.2 1-1.4 3M538.3 316.2l-0.5-2.7 0.1-2.5 0.4-2.4 1.4-1.6 2.3 0.2 2 1 2.2 1.1 2 2.3 0.6 2.9-0.6 2.4-0.8 2-1.2 1.7-1.9 0.5-2.3-0.8-2.1-1.5zM541.2 314.5l1.4 2.6 1.7 2.8 1.9 2.7 1 2.9 1.3 2.8 2.9 2-2.9 4.1 2.4 2.4M535.0 314.1l-0.6-1.1-0.4-0.7-0.5-0.7-0.1-0.9 0.5-0.7 0.5-0.9 1-0.7 1.1 0.2 0.8 0.9 0.3 0.9 0.3 0.8-0.1 0.8-0.3 0.8-0.3 1-1 0.8zM558.7 320.1l-1.5 0.5-1.5-0.4-0.8-1.3 0.5-1.4 0.5-1 0.1-0.9 0.5-1.2 1.3-0.5 1.3 0.2 1.3 0.3 1.3 0.7 0.2 1.4-0.9 1.2-0.9 0.6-0.5 0.8zM560.9 322.8l1.2-0.9 0.9-0.8 1.3-0.7 1.9-0.2 2 0.2 2 0.3 1.5 0.9-0.1 1.2-1 0.9-1.1 0.8-1.4 0.6-1.9 0.2-1.9-0.1-2.2-0.3-1.5-0.9zM271.4 331.5l1.3-1.2 3-1.2 3.8-1.1 4.7-1 5.1-0.5 3.9 0.1 2.5 0.5 1.3 0.8-0.4 1.1-2.5 1.3-4.2 1.1-4.9 0.8-4.8 0.4-4.1 0.1-3.4-0.3zM293.2 325.7l-0.5 0.7-1.1 0.5-1.3 0.5-1.9 0.1-1.8-0.5-1-0.7-0.9-0.6-0.8-0.7 0.2-0.8 1.3-0.5 1.5-0.3 1.8-0.1 1.8 0.4 1.2 0.6 0.9 0.7zM305.7 336.4l-2.2 0.9-1.7 0.1-1.1-0.1-1.1-0.2-0.4-0.7 0.9-1.2 1.8-1.3 2.1-1 1.8-0.7 2-0.8 2.2-0.6 0.7 0.6-1.1 1.4-1.3 1.1-0.9 1.1zM320.9 334.6l-0.5-3.2-0.6-3.1 2.3-3 2.9-2.7 3.6-2.1 1.6-2.6 2.7-2.1 0.2-3.1-1.9-4M338.5 337.3l-2.8-2.5-2.4-2.4-3.1-0.6-3.3 0.5-2.5-1.4-3.7 3.6-3.2 1.4-2.9 2M365.0 332.9l2.2-2.8 1.8-2.4-0.4-3.1 1.1-2.7-2.6-3.9-2.8-3.3-1.5-3M381.3 336.5l-0.2 2.6-1.6 1.9-2.4 0.6-2.2 0.3-2.3 0.1-2.2-1.3-0.9-2.3-0.4-2.3 0-2.6 1.6-2 2.4-0.6 2.2-0.1 2.3-0.1 2.2 1.2 1 2.2zM392.8 338.3l-0.7 1.3-1.4 0.3-1.2-0.5-1.1-0.3-1-0.8-0.2-1.2 0.3-1.2 0-1.3 0.7-1.3 1.5-0.1 1.2 0.5 1.1 0.3 1.1 0.6 0.2 1.3-0.4 1.2zM409.1 337.5l1.3 3.5 2.2 2 1.6 2.9 0.3 3.8 1.3 2.5 3.5 1 2.7 1.7 3.2 1.1 2.7 1.6M415.4 345.7l-0.8-0.2-0.5-1.3 0-2.6 0.5-3.2 0.8-3.2 1.2-2.3 1.1-0.8 1-0.9 1-0.1 0.2 2.6-0.7 3.2-0.3 2.5-0.3 3.6-1.2 3.3-1.2 0.3zM437.9 327.2l-0.9 2.3-1.9 1.4-1.9-0.2-1.8-0.3-2-0.5-0.9-2.1 0.8-2.5 1-2 1-2.1 1.8-1.4 1.9-0.1 1.9 0.1 2 0.7 0.6 2.2-0.8 2.5zM464.9 339.9l-2.4 1.7-2.3 1.6-2.8 1.6-3.4 0.9-1.4 3-2.4 1.7-0.8 3.3 0.1 3.9-1.9 2.3M451.7 327.9l-1.3-0.5-2.2-0.6-2.7-1.4-1.7-2.3 1.6-1.5 3.7 0.6 2.5 1.4 1.4 0.3 2.1 0 2.2 0.9 1.4 1.6 0.8 1.8-0.7 1.7-2.6 0.4-2.9-1.2zM467.7 337.3l-0.4-1.6 0-1.1-0.1-1.3 0-1.4 0.7-0.3 1.1 1.4 0.8 1.7 0.8 1.4 0.7 1.7 0.2 1.5-0.2 0.9-0.3 0.8-0.6 0.2-1-0.7-0.9-1.4zM462.3 331.9l-2.4-1.2-1.1-2.5 0.9-2.3 1.3-1.7 1.5-1.6 2.3-0.5 2.2 1 1.9 1.2 2 1.4 1.1 2.3-0.4 2.4-1.1 2-1.7 1.4-2.4 0-2.1-1.1zM478.1 329.6l-1.6 2.5-1.8 1.8-1.3 0.3-0.8-0.5-0.8-0.5-0.4-1.3 1-2.5 1.6-2.4 1.5-1.9 1.6-2.3 1.9-1.6 1 0.5-0.1 1.8-0.3 1.8-0.5 1.9zM486.8 336.6l3.1-0.4 3.1 0.1 2.9-0.1 2.9-3.6 3.2 0.6 2.9-0.8 3-0.3 3 2.2 2.9-2.3 3-0.1M490.9 337.3l0.3 2.7-0.3 3.1-1.9 3.1-2.8 2.7-2.7 2.5 1.4 3.6-1.3 2.7 3.5 3.5 1.2 3M478.4 329.6l-1.4-3.1-0.5-2-0.3-1.6-0.5-2.1 0.4-1 2 1.8 2.2 3.3 1.5 2.6 1.9 2.6 2.1 3.5 0.4 2.2-1.4-0.5-1.4-1-1-0.3-1.8-1.3zM480.8 333.2l0.3-0.6 0-0.6 0.5-0.8 1.2-0.7 1.3-0.3 0.8-0.1 1-0.1 0.7 0.1 0 0.6-0.6 0.8-0.8 0.7-1.1 0.7-1.1 0.5-1.2 0.4-0.9 0zM489.1 335.4l-1-2.9 0.7-2.6 1.8-1.2 1.4-0.9 1.6-1.1 2.1 0.4 2 1.7 1.9 2.2 1.2 3-0.9 2.6-2 0.9-1.4 0.8-1.5 1.4-2.2 0-2-1.8zM492.1 335.5l-3.1 0.2-1.4-1.3-1.6 0.1-2.6 0.4-0.4-1.5 1.3-2 1.1-1.8 1.7-2.1 2.6-1 2.1 0.1 1.8 0.2 1.1 0.9-0.7 1.7-0.2 1.4 0.3 2.1zM502.3 341.2l-0.6 2.2-1.8 1.7-2.5-0.1-2.1-1.3-1.2-1.7-0.5-1.7-0.5-1.7-0.8-2.3 0.5-2.7 2.6-0.9 2.5 1.2 1.7 1 1.9 0.6 1.4 1.7-0.2 2.1zM504.7 337.0l-1.1-0.5-1.2-0.8-1.3-1.2-1.3-1.7-1.1-2.2-0.6-2.1 0-1.6 0.8-0.6 1.2 0.4 1.2 1 1.2 1.3 1.3 1.6 1.2 2.1 0.7 2.2-0.1 1.6zM500.2 327.1l2.6-2 1.5-2.4 1.1-3.3 1.2-3.2 0.4-3.5 2.3-1.9 1.2-2.8M492.2 339.7l1.6-2.1 1.6-2 2.6-2.3 3.5-2.6 4.5-2.8 4.5-1.9 1.9 0.3-0.2 1.5 0.3 1-0.3 1.6-3.4 2.8-4.3 2.4-3.9 2.2-4.6 2.3-3.5 1zM510.5 333.8l-0.4 1.7-0.3 2.2-0.9 1.9-1.2-0.1-1.2-0.4-1.1-0.9-0.2-2.5 1-2.3 0.5-1.4-0.2-2.7 0.9-2.6 1.4 0.4 0.9 1.4 0.9 1.1 0.4 2zM506.2 340.0l-0.9-1.1 0-1.5 0.9-0.8 1-0.4 1.1-0.2 1 0.8 0.3 1.4 0.3 0.9 0.6 1 0.1 1.3-0.6 1.1-1 0.8-1.2 0-0.9-1.3-0.1-1.3zM524.3 336.8l2.2-2.5 3.4-0.9 2.4-1.8 3.1-1.2 2-2.3M517.2 332.3l3.1-0.6 3.1-1 3.1-1 2.9-1.9 3 0.1 3.1 1.8 2.9 2 3.1-1.1 3 1.4M514.3 336.9l-0.4 0.9-0.4 0.9-0.7 0.5-0.9 0.3-0.9 0-0.8-0.7-0.1-1.4 0.5-1.2 0.5-0.8 0.5-0.7 0.6-0.6 0.9-0.6 1-0.1 0.7 0.9-0.1 1.5zM512.6 328.3l-3 0.2-2.8-0.5-1.7-1.2 0-1.5 0.9-1.4 1.1-1.4 1.8-1.3 3-0.8 3 0.2 2.2 1 1.4 1.1 1 1.3 0 1.5-1.6 1.4-2.6 0.9zM515.2 330.7l-3-0.3-3-1.2-2.9-0.6-2.7-0.6-2-3.6-1.1-4.3-1.5-3.3M517.0 334.2l-1.2 0.1 0.9-2.3 2.4-3.5 2.1-2.8 2.2-2.9 2.3-2.2 1.3-0.7 1.3-0.5 1.2-0.1-0.9 2.4-2.4 3.4-2.1 2.8-2.2 2.9-2.2 2.3-1.4 0.6zM531.2 341.4l3.2-0.1 3.1-0.2 3.1 0.4 3.4-1.3 3.1-0.1M532.6 337.2l0.1-1.4 0.2-1.1 0.3-1.2 0.6-1.2 0.8 0.2 0.6 1.6 0.3 1.6 0.3 1.1 0.3 1.6-0.2 1.4-0.6 0.7-0.6 0.5-0.7 0.2-0.8-1-0.4-1.5zM539.5 326.8l-1.8-2.6-1.6-2.7-2.6-1.6-2.1-1.8-4.1 0.1-1.9-2.5-2-2.4-2.7-1.5-1.9-2.3M563.6 329.0l-1.2 0.5-1.7-0.6-1.5-1.4-1.2-1.4-1.4-1.2-1.3-1.9 0.2-1.4 0.9-0.7 0.9-0.7 1.3-0.3 1.8 1.3 1.1 1.8 0.9 1.4 1.2 1.6 0.6 1.8zM269.0 346.4l1.6 3.2 0.2 3.2-2.4 2.9-1.4 2.7-0.5 2.8-1 2.9 0.8 3.2M273.2 344.7l0.1-2.4-0.1-2.5 0.2-2.8 0.8-1.5 1 1 1 2.3 0.7 2.6 0.5 2.9 0.1 2.9-0.2 2.3-0.6 1.6-0.7 1.1-0.9 0.4-1.1-1.4-0.7-3.2zM301.9 356.8l-1.7 0.1-1.6-1.1-1.5-1-1.6-1.6-0.3-2.2 0.9-1.7 0.6-1.5 0.8-1.7 1.7-0.1 1.6 1.2 1.5 1.2 1.5 1.4 0.5 2.3-0.8 1.7-0.7 1.5zM306.6 348.0l2.8 0 3 0.8 2.9 1.3 2.5 2 2.8 1.3 3 0.3M306.2 343.2l-2.6 2.2-1.6 2.7-1.5 2.7-2.1 2.5 1.3 3.6 1.1 3.3 2.4 3.4 0.5 3.1 0.3 3M314.3 342.6l0.4-0.9-1-1.2 1.5-2.1 6.3-1.5 6 0.5 1.7 1.7-0.7 1.3-0.2 0.8 1.8 0.7 1.6 1.5-2.7 2-6.6 0.9-5.3-0.6-2.5-1.1-0.9-1zM340.3 354.8l-0.9-1.8-0.2-1.2-0.5-1-0.1-0.9 0.3-1 0.6-1.4 1.8-0.5 2.1 1.4 0.7 1.8 0.5 1 1.1 1 0 1.1-0.9 0.6-0.7 1-1.6 0.9zM375.2 346.4l-1.6-1.1-2-2.1-0.7-1.7 1.4 0.1 1.5 0.7 0.9 0.3 1.2 0.6 1.4 1.2 1.4 1.4 1.2 1.7 0.6 1.5-0.4 0.7-1 0-1.4-0.8-1.4-1.3zM390.7 342.2l-2.4 1.4-1.5 3.3-1.7 2.7-1.6 2.9-0.6 3.6-3.5 1-4.3-0.7M412.0 349.8l-0.4-1.4 0-1.6 0.9-1.3 1.4-0.8 1.5-0.4 1.7 0.3 1 1.3 0.5 1.5 0.5 1.4 0 1.7-1 1.2-1.4 0.7-1.5 0.5-1.7-0.2-1-1.4zM429.7 351.4l3-1.1 2.6-1.8 2.7-2.1 2.6-1.9 3.1-0.1 2.9-0.8 3.3 1.1 2.8-1.1 2.1-3.7 4.2 3.9M430.2 347.5l-0.3 3.2 0.3 3.4 1.1 3.2 0.3 3.2 2.1 3M446.8 354.4l-1 2.9-0.8 2.8-0.8 2.9-1.1 2.8-1.2 2.8-0.7 3.1-2.7 1.9M464.2 346.9l3.1 1.4 2.2 1.8 1 3.4 1.3 2.7 0.5 3.6-0.1 3.6 1.8 2.6M461.3 344.6l-1.6-1.7 0-1.4 0.8-0.5 0.1-0.7 0-1 0.9-0.4 1.6 0.6 1.8 1 1.6 1.7 0.1 1.4-0.6 0.6-0.3 0.6-0.1 0.8-0.9 0.3-1.5-0.3zM467.6 350.0l1.3-3 1.2-3.1 1.7-2.6 3.3-1 3.5-0.5 4.6 1.6 2.8-1.3 2.7-1.5M475.5 354.6l-1.1-2.9 0-3.2-1.3-2.6-2.1-2.4-3.5-1.6-3.1-1.6M476.7 353.3l-0.9 0.4-1.7-0.3-2.3-1.1-2.7-1.8-2.7-2.3-1.6-2.3 0.4-1.1 0.9-0.3 0.1-1 0.9-0.8 2.7 1.2 2.7 2.5 2.1 2.2 1.6 2.1 0.8 1.6zM494.0 346.3l-2.8 0.6-3 1.1-3 1.2-3.1 0.5-2.9 1.4-3-1.1-3-1.2-3-1.2M478.8 352.2l2.9 1.3 3 0.9 3.5 0.4 3.7-0.6 2.6 1.9 1.2 3.8 2.1 2.1 1.9 2.5M486.5 354.5l2.9-2.3 1.7-2.6 1.5-2.8 2.3-2.2 1.6-2.4 0.6-2.9-4.2-4.8 0.6-3 0.3-3 2.9-2.4M487.9 356.2l-1.4-1.8-0.9-4.7-0.2-4.3-0.4-3.1-0.6-4.1-0.1-5.1 0.8-3.4 1.3 0 1.2 2.1 0.9 2.8 0.7 3.5 0.4 3.9 0 3.8-0.2 3.8-0.4 4.2zM487.5 343.4l-2.5-2-1.7-1.9-1.2-1.8 0.3-0.9 1.5 0 1.6 0.2 2.1 0.5 2.8 1.7 2.2 2 1.7 1.8 1.8 2 0.1 1.3-1.9-0.3-2.1-0.7-2-0.5zM498.1 353.4l-0.9 0.5-1.7 0-2-0.4-2.3-0.7-2.7-1.3-1.9-1.5-0.3-1.2 0.8-0.6 0.8-0.4 0.9-0.5 1.8 0 2.7 1 2.3 1.5 1.4 1.4 0.9 1.2zM507.5 342.7l0.1-1.1 0.3-1.2 0.9-1.3 1.9-0.8 1.9 0.1 1.5 0.3 1.5 0.4 0.6 1-0.6 1.2-0.4 1.1-0.7 1.4-1.7 1-2-0.1-1.4-0.6-1.2-0.5zM507.1 348.3l-0.2 1-0.8 1.1-1.1 0.1-0.9-0.7-0.6-0.7-0.7-0.8 0-1.1 0.6-0.9 0.6-0.8 0.8-0.8 1-0.3 1 0.3 0.8 0.7 0.3 1-0.3 1.1zM502.3 354.8l-2 1-2.3-0.5-1.8-2.2-1.2-2.5-0.8-2.8 0.7-2.5 1.9-0.9 1.5-0.9 1.6-1.9 2.6-0.1 1.9 2.6 0.6 3 0.3 2.5-0.2 2.4-1.3 1.7zM497.0 355.2l0.2-1 0.1-1.2 0.6-1.1 1.1 0.2 0.7 0.9 0.7 0.4 1.1 0.3 0.5 1.3-0.6 1.1-0.7 0.7-0.6 0.8-0.8 0.6-0.9-0.2-0.8-0.7-0.6-1zM500.0 347.1l-1.7 2.3-1.8 1.6-1.1 0.3-1 0.1-1.1-0.1 0.4-1.8 1.7-2.6 1.5-2.1 1.5-2.3 1.9-2 1.3-0.4 0.8 0.3 0.7 0.4-0.3 1.6-1.3 2.4zM509.7 349.6l-1.5 0.6-1.6-0.7-1 0-1.4 0.4-1.2-0.8-0.2-1.4 0.1-1.2 0.3-1.1 1-0.8 1.1-0.3 1.3-0.4 1.3 0.4 0.4 1.4 0.1 1.1 1 1.1zM514.3 342.8l0.1-3.4-0.5-3.1-2.3-2.3-1.6-2.5-1.9-2.4-2.9-1.9M515.5 343.3l-1.1 3.4-0.6 3.1 0.3 3 1 2.9 1 2.8 2 2.7M519.3 355.8l-0.8-1.5-0.3-1.9 0.7-2.2 2.1-1.5 2.5 0.1 1.7 0.9 1.7 0.3 2.2 0.6 0.7 2-1.3 2-1.4 1.5-1.2 1.8-2.2 1.3-2.2-0.6-1.3-1.5zM517.1 352.4l1.4-2.2-0.4-0.9 0.5-2.3 3.7-4.5 4.9-4 2.8-0.9 1.1 0.4 2.1-0.9 1.9-0.3-1.6 2.8-3.7 3.9-3.3 3.4-3.9 4.3-4.9 4.1-2.1 0.2zM512.3 345.0l-0.8 3.1 0.1 3.4-1.1 2.7-2.3 2.3-2.5 2-5.6-0.2-3.9 0.5-1 3.2-0.3 3.8M522.3 349.5l-3.2 1.1-1.4 2.9-3.4 1.1-1.7 2.6-1.3 2.6M531.4 349.7l-0.6-0.9-0.4-0.6-0.6-0.6-0.3-1.2 0.5-1.1 0.5-0.7 0.4-0.9 0.7-0.3 0.6 0.6 0.5 0.7 0.5 0.7 0.1 1.2-0.3 1-0.4 0.9-0.5 1.1zM532.7 347.5l-1.8 0.5-1.5-0.5-1.3-0.5-1.2-0.8 0-1.4 0.8-1.3 0.5-1.2 0.9-1.4 1.6-0.6 1.6 0.3 1.4 0.4 1.2 0.9-0.3 1.5-0.8 1.2-0.3 1.3zM539.0 339.6l3.4-0.7 2.8 1 2.9 2 1.7 4.1 3 0.8 2.5 2M551.8 350.0l-0.7-0.4-0.7-0.8-0.6-0.7-0.7-0.8-0.7-1.2-0.4-1.4 0.3-0.8 0.6 0 0.7 0.4 0.6 0.4 0.7 0.5 0.7 1 0.5 1.2 0.3 1.3-0.1 1zM566.8 345.2l-3 0-3.4-1.1-3.1-1.9-3.2 0.4-2.9-0.9M292.7 369.0l-1.8-0.7-1.4 0-1.8-0.2-0.9-1.8 0.4-1.7-0.4-1.6-0.5-2.3 1.5-1.1 2 0.9 1.3 0.5 1.7 0.2 1.1 1.5-0.1 1.7 0.4 1.7 0 2.1zM307.0 371.4l-0.7-1-0.1-1.6 0.3-1.7 0.4-1.6 0.6-1.8 0.9-1.7 1.1-0.8 1 0.1 0.7 0.7 0.2 1.3-0.3 1.8-0.5 1.7-0.6 1.6-0.9 1.8-1.1 1.1zM306.2 357.9l-0.7 1.6-0.9 1.7-1 1.2-0.7 0.3 0.1-1.1 0.6-1.9 0.7-1.4 0.4-1.1 0.5-1.6 1-2.2 1.1-1.4 0.5 0.4-0.4 1.7-0.5 1.5-0.4 1.1zM320.4 367.2l1.2-3.1 0.4-3.1 0.2-2.9-1.2-2.9-2.3-2.9-1.4-2.9-0.8-2.9 2.6-3.3M350.3 366.3l2.5 2 2.7 2.1 2.8 1.4 2.8 0.9 2.4 1.7 3.2 0 3.7-2.4 2.9 1.4 2 4.1M361.3 359.0l-0.9-1.8 0.2-1.5 0.2-1.2 0.3-1.4 1.1-0.1 1.3 1.2 1.1 1.1 1.3 1.2 0.9 1.8 0 1.5-0.2 1.3-0.4 1.3-1.1-0.1-1.3-1.2-1.1-0.9zM386.7 361.8l0.2-1.6 0.4-1.3 0.5-1.1 0.8-0.2 0.8 0.6 0.7 0.6 0.8 0.8 0.6 1.4 0.3 1.7-0.3 1.6-0.8 0.8-1-0.5-0.6-0.6-0.8 0.1-1.1-0.6zM412.2 360.4l-1.3 3.2-1.8 2.4-2.7 1.6-1.4 2.4-4.4-0.1-2.6 1.7M417.6 366.1l3 0.6 3 2.3 2.8 1.9 2.9 0.6 2.9 1.4 2.9 0.1M436.7 369.8l0.7-3.1 0.8-2.1 0.1-3.6 1.5-2.5 2.3 2.2 1.4 3 1.9 1.2 2.3 2.6-0.1 3.7-1.6 2-1.1 1.9-1.2 2-2-0.3-1.9-1.6-2-2zM445.3 374.4l-0.5-0.9 0.6-1.5 1.4-1.4 1.3-1.1 1.3-1.2 1.7-1 1.3 0 0.5 0.8 0.3 0.9 0.1 1.1-0.8 1.5-1.6 1.3-1.6 0.7-1.3 0.4-1.4 0.5zM462.8 363.6l-3.2 0.4-3.2 0.7-2.9-1-2.9-0.6-2.7-1.3-2.2-4-2.1-3.1-3.4 0.1-3.4 1-2.8-0.7M471.4 362.7l-1.8 1.7-2.8 1.9-1.6-0.1 1.2-1.9 1.6-1.5 0.1-0.5-0.1-0.9 1.4-1.7 2.3-1.4 1.9-0.4 0.7 0.4 0.5 0.5 0.3 0.6-0.7 1.1-1.6 1.2zM476.3 369.3l-2.4-1.5-1.9-1.4-2-1.5-1.5-1.5 0.4-1 2.4 0.1 3.6 1.2 3.1 1.6 2.2 1.4 2.5 1.3 2.7 1.8 0.8 1.4-1.4 0.4-2.3-0.1-3-0.7zM490.3 364.2l-3.3 0.1-3.6-0.9-3.1-0.5-2.7 2.2-2.2 3-2.1 2.4-1 4.4-2.6 1.6-1 3.8M491.3 361.2l-0.9-0.6-0.6-1.2 0.5-1.7 0.9-1.8 1.4-2 1.9-0.7 1.2 1.2 0.5 1.2 1.3 0.3 0.9 1.1-0.6 1.9-1.2 1.6-1.4 1.7-1.9 1-1.3-0.8zM483.2 367.2l-2.7 2.5-2.3 1.8-1.7 0.6-1.1 0-1-0.3 0.4-1.9 2.5-3.2 2.6-2.5 2.2-2.5 2.9-2.8 2.2-1.3 0.3 1.2-0.2 1.5-0.3 1.5-1.3 2.5zM488.4 358.9l-2.4 1.1-2.5 1-2.2 0.2-0.7-1.1 0.3-1.5 0.3-1.6 1.4-1.9 2.4-1.6 2.5-1.1 2.5-0.9 2 0 0.7 1.1 0 1.3-0.1 1.6-1.6 1.9zM501.5 356.8l-2.6 1.6-2.5 2.1-2.3 1.5-1.9 2-1.8 2.5M505.4 371.3l-2.6-2.1-2-2.9-2.1-2.6-2.6-1.6-2.7-1.3-2.1-1.8M510.8 360.4l1.6-2.5 1.8-2.3 0.9-3 1.4-2.8-0.3-3.9 2.3-2.1 4-0.8M504.7 376.4l-1.1-0.9-1.4-0.8-0.8-2.5 0.4-3.4 1.1-2.7 1.1-2.2 1.3-2 1.5-1.1 1.5 0.7 0.8 2.5 0.1 3-0.2 2.7-0.2 3.1-1 3.2-1.6 1.2zM505.0 373.0l-2.1-1.7-0.5-2.6 0.2-2.4 0-2.4 1-2.5 2.3-1.4 2.5-0.4 2.6 0.4 2.1 1.6 0.7 2.6-0.2 2.4-0.2 2.3-1 2.5-2.2 1.4-2.6 0.5zM508.6 363.4l-1.4-2.1-1-1.8-1.2-2.1 0.6-1 1.8 0.6 1.3 0.2 1.8 0 2.2 2 1 2.2 0.7 1.5 1.7 2.3 0.1 1.7-2.1-0.7-1.7-0.9-1.7-0.3zM512.9 365.3l-3.1 1.9-2.5 1.5-1.8 2.5-0.1 3.8 1.3 4-0.3 3.2 0.8 3.4M524.9 366.4l-3-1.4-1.9-2.7-0.5-3.4-1.6-2.5-0.9-2.7-2-2.4-3.1-1.5M525.9 362.2l-3-1.3-1.9-1.3-1.8-1.2-1.7-1.5 0.1-1.2 2.6-0.3 3.8 0.8 3.3 1.1 2.7 1.1 2.8 1.1 2.8 1.4 0.9 1.4-1.6 0.7-2.7 0.1-2.8-0.2zM527.6 359.8l-1.5-2.7-1-2.4-2.2-2.4-3.2-1.8-3.2-1.8-1.4-2.6 0.8-3.9 1.5-3.8 2.8-3.9M515.7 374.1l-1.8-0.2-1.1-0.9-0.5-0.8-1.2-0.3-1.8-0.7-0.3-1.7 1.7-1.2 1.5-0.6 1.3-0.9 1.6 0 0.5 1.5 0 1.2 1.3 0.5 1.4 1.4-0.7 1.9zM520.1 369.7l2.2-2.7 1.3-2.6 1.4-2.5-0.8-3.5-0.5-3.2-1.2-3.4 3.6-2.3M538.8 363.6l2.5-2 2-2.2 1.2-2.9 0.3-3.3 0.1-3.4 2.4-2.3M532.0 362.9l-2-0.3-1.6-0.7-0.3-0.7-0.1-0.6-0.3-0.7 1-0.4 2 0.2 1.8 0.3 1.8 0.3 1.7 0.5 0.7 0.8 0 0.6-0.1 0.6-1.1 0.4-1.8-0.1zM530.5 364.0l-0.6 2.8-1.5 1.3-1-0.7-0.7-0.1-1 0.1-0.1-1.4 0.3-1.8 0.2-1.9 0.8-2.4 1.3-1.2 1.1-0.3 1-0.5 0.8 0.6-0.5 2.2-0.4 1.6zM530.7 367.3l-1.7-3-1.8-2.5-3.1-1.4-2.2-1.7-4.2 1.2-3.7 1.3-3.8 2.6-3.1 0.2M565.0 361.4l-2.7-0.9-2.8-0.7-3.5 0.5-3.3 0.5-3.2 0.1-2.9-1.4M271.7 379.5l-1.2-2.3-0.8-2.4 0-2.6 1.2-2.2 2.2-0.9 2.5 0 2.4 0.6 2.3 1.4 1.7 2.2 0.6 2.6-0.5 2.4-1.4 1.9-1.9 1.2-2.4 0.6-2.6-0.7zM298.9 375.4l3 0.4 3 1.3 3.1 1.5 3.2 0.4 2.9-1.9 2.9-0.9 2.9-0.6 2.7-2.3 2.8-1.1M317.9 374.2l-1.3-0.2-1.3 0-2.1 0.1-1.9-0.7 0.4-1.3 1.9-1.1 2-0.5 1.6 0 1.2 0.1 1.4-0.2 2.3-0.1 1.8 0.7-0.7 1.4-2 1-1.8 0.5zM316.5 381.4l-2.4-1.3-1.5-2.6 1.4-1.8 1.8-0.9 1.3-1.4 2.2 0.4 1.3 2.6 0.7 1.6 2.4 1.1 2.1 2.7-1.1 2.1-2.1 0.7-1.6 0.7-2-0.5-1.4-2.1zM322.3 382.6l-2.5 0.3-1.9-1.6-0.6-2.4-0.6-1.9-1.2-2.3 0.5-2.7 2.3-1.1 2.3-0.4 2.3-0.4 2.1 1.2 0.7 2.4 0.4 2 1 2.3-0.5 2.6-2.1 1.3zM335.8 389.9l-2 1.1-3 0-2.2 0.3-3 0.8-4.4-0.7-2.3-2.4 0.9-2.1 1-1.3-0.2-1.6 1.1-1.5 3-0.3 3.5 0.8 3.1 1.4 2.4 1.7 1.8 1.9zM344.8 385.9l-1.2 3.2-1.8 2.5-1.4 2.9-2.3 1.8-3.7 0.4-2.5 1.6M361.8 393.4l-2.2 0.2-1.6-1.6-0.3-2.4 0.3-1.9 0-1.5 0.1-1.9 1-1.9 1.8-0.9 2 0.3 1.6 1.3 0.7 2.1-0.1 1.9-0.3 1.7-0.5 1.5-0.9 1.7zM402.5 373.5l-2.2 1.4-1.9 0.9-1.6 1.5-2.9 1-3.1-1-1.5-2.3-0.5-2-0.7-1.9 0.2-2.2 1.9-1.5 2.8-0.4 2.7 0.4 2.6 0.6 2.7 1.1 2 2.1zM402.4 386.7l-0.5-1.2 0.3-1.4 0.7-1.4 1-1.2 1.5-0.8 1.5-0.1 1.1 0.5 1 0.7 0.8 0.9 0.2 1.4-0.9 1.5-1.4 0.9-1.4 0.6-1.4 0.4-1.4-0.1zM425.0 383.2l2.4-2 3.5-1.1 2.8-0.9 2.1-1.8 0.1-4.6M438.7 385.5l-0.8-0.5-0.9-0.9-0.3-1.1 0.7-0.7 1-0.1 0.8-0.2 0.9-0.2 1.2 0.2 0.8 1 0 1.1-0.2 0.7 0.1 0.9-0.3 1-1.1 0.2-1.1-0.7zM469.2 378.6l1.2 2.1-2.8 1-5.1-0.7-4.5-1.4-3.4-1.5-2.5-1.5-2.2-1.5-1.9-1.7 0-1.7 2.8-0.8 4.4 0.2 4.6 1 3.7 1.7 1.7 1.7 1.4 1.3zM447.5 385.7l-1-0.5-1.2-1.1 0.1-4 0.9-3.9 0.6-3.5 0.8-4.3 1.4-1.8 1.1 1.1 1.1 0.3 1.2 0.9 0 4-1 4.1-0.7 3.3-0.8 4.2-1.4 2.1zM465.5 377.8l-1.2-1-0.4-1 0-0.9 0.1-0.6 1 0 0.9 0.4 0.7-0.1 1.3 0.1 1.2 1 0.3 1 0.1 0.9-0.2 0.6-0.9 0-1-0.4-0.7 0.1zM474.1 384.2l1-3.1 1.3-3.1-0.9-3-0.6-3.1-2.3-2.7M484.0 387.3l-1.6-2.5-2.1-2.3-1-3.5-1.6-2.8-1.7-2.5-3.8-0.5-2.7-1.2-3.9 0.2-3-0.8-3-1.1M489.6 385.3l-2.4-0.1-2.2-0.4-2.2-0.9-1.6-1.6 0-2.3 1.6-2 2.4-1.2 2.4-0.6 2.4-0.2 2.4 0.4 2 1.1 1.2 1.7 0.1 2.2-1.2 2.1-2.3 1.4zM484.1 376.5l-1 0.8-1.2 0.9-1.2 0.4-0.5-0.3 0.4-0.9 0.5-0.9 0.5-0.8 0.9-1.1 1.3-0.8 1-0.2 0.7-0.1 1-0.2 0.6 0.3-0.7 1-1.2 1.1zM486.6 385.8l-1.2 0.8-1.6 0.3-1.5-1.8 0.2-2.4 0-1.3-1.3-1.7-0.2-2.2 1.5-0.5 1.4 0.4 1.5-0.2 1.5 1.1 0.5 2.1 0 1.6 0.5 1.6-0.2 1.5zM498.7 384.9l2.6 2 1.5 2.6 0.4 3.5-0.3 3.6 0.3 3.2 2.4 2.3 0.7 3 1.9 2.3 2.1 2.2M509.4 382.2l3.2-0.5 2.9-0.6 3-1.6 2.9-1.7 3.1 0 3-0.6 2.9-0.8 3.1 2M512.6 377.5l-0.4 1.3-1.4 1.2-2.5 0.9-3.2 0.3-3.2-0.3-2.7-0.8-1.5-1.3-0.2-1.4 0.6-1.3 1.4-1.2 2.4-0.9 3.2-0.4 3.3 0.3 2.6 1 1.3 1.3zM499.1 388.5l-0.3-1 0.5-1.3 0.6-0.9 0.3-0.7 0.5-0.9 0.8-0.8 1.1-0.4 1 0.1 0.3 1-0.4 1.2-0.5 0.9-0.3 0.7-0.6 0.8-0.8 0.7-1.1 0.6zM494.4 389.4l-0.8-0.2 0.7-2 1.6-2.8 2-2.9 2.3-3.2 2.3-2.1 1.2-0.3 0.5 0.5 0.4 0.6-0.1 1.3-1.1 2.4-2.2 3.3-2.5 2.9-1.9 1.5-1.2 0.4zM501.9 384.6l-1 1.8-2 0.9-2.7 0.3-3.2-0.8-1.8-2.8 1.3-3 2-1.4 0.1-1.7 0.6-2.4 2.2-1 2.7 0.4 2.9 1.2 1.9 2.5-0.7 2.8-1.6 1.7zM521.8 377.2l-1.7 0.3-2.3 0.3-2.3-0.1-1.8-0.6-0.5-1.1 2.2-1.2 3.6-0.5 2.4 0.1 1.5-0.2 2.5-0.5 2.9-0.1 1.7 0.7-0.4 1.2-2.4 1.1-3.1 0.5zM522.3 375.7l1.4-2.7 1-2.9 1.5-3.1 1.2-2.8-1.3-3.2-1.3-3-0.5-3 2.8-2.8 1.4-2.9 0.9-2.8M527.1 386.1l2.8-1 2.7-1.3 2.2-2.3 2.3-2.6 2-2.9 3.5 0.3 3-0.5 3.6 1.2 4 6.6 3 2.6M516.3 377.1l3.2 0 2.9 1.1 2.3 2.7 2.1 2.5 1.3 3.6 3.2 0.9M520.5 389.8l2.6 1.7 2.5 1.3 2.3 1.6 4.1-0.5 3 1 2.5 1.8 3.4-0.1-2.1 8.1 2.8 1.3M519.7 385.3l-0.4 3.3 0.2 3.2 0.1 3.2 0.7 2.9 3.5 1.9 0.9 2.8 3 2.1 1.5 2.7 3.1 1.7 2.9 1.6M537.8 388.4l2.8 1.1 3.4-0.5 3-1 3.2-1.2 3.1-0.8 3-0.6M535.6 381.6l-0.4-0.9 0.3-1.3 1-1.2 1.5-1 1.5-0.5 1.4-0.2 1.3-0.1 1.2 0.3 0.3 1.1-0.8 1.3-1.1 1.2-1.3 1-1.4 0.8-1.5 0.3-1.2-0.3zM530.7 383.1l-0.7 0.4-1-0.4-0.9-1.2-0.6-1.2-0.6-1.4-0.2-1.5 0.7-0.7 0.7-0.2 0.7-0.5 1 0.1 0.9 1.2 0.6 1.4 0.5 1.3 0.1 1.4-0.5 0.9zM535.0 386.9l-1.3 2.2-2 1.6-2.2 0.2-1.7-1-1.4-1.2-1.4-1.6-0.5-2.4 1-2.6 1.8-2 2-1.1 2.1-0.4 1.9 0.4 1.7 1 1 2 0 2.5zM559.8 376.8l-0.4 1.2-1.2 0.9-2.5-0.8-2.8-2.4-1.9-2.9-0.7-2.4 0.4-1.5 1-0.7 1.2-0.3 1.3-0.4 2.2 0.2 3 1.9 2.2 3.1 0.1 2.4-1.1 1zM282.3 393.1l-1.3 3.9-1.4 3.7-1.7 2-1.4-0.5-1.2-0.7-1.2-1.4 0-4 1.1-4.5 1.2-3.9 1.4-4 1.8-1.9 1.3 0.9 1.1 0.7 1.3 1.3 0.2 3.8zM320.3 399.3l-2.5 0.8-1.8 0.2-1.1 0.5-1.5 1-2.7 0.6-3-1-1.7-2.3 0.8-2.5 3-1.1 2.8 0.7 1.1 0.2 1.1-1.7 3.3-1.6 3.6 1.1 0.6 2.8zM328.2 405.0l-3.3-1-2.2-2.4-2-2.4-1.2-3.7-2.9-1.4-2.1-2.2-3.7 0.2-2.9-0.8M327.1 394.6l-1-1.4-1.1-1.8 0.4-2.5 1.8-2.1 2-1.6 2.2-1.1 2.1 0.1 1.7 0.9 1.4 1.4 0.6 2.1-1.1 2.5-1.7 1.8-1.5 2.1-2.3 1.8-2.3-0.4zM344.2 400.4l-1.5-1.5-1.1-1.2-1.1-1.3 0.5-1.2 1.6-0.4 0.8-0.6 1.1-1.2 2.2 0.1 1.6 1.4 1.3 1.2 1.2 1.3-0.9 1.2-1.8 0.2-0.6 0.7-1 1.4zM342.2 397.0l-3.3-0.3-3.2-0.9-2.7-1.1-2.7-0.8-2.2-2.4-1.9-2.9M360.8 404.7l-0.3-1 0.5-1.1 0.8-0.9 0.9-0.6 1-0.3 0.9-0.1 1.1-0.1 1.1 0.3 0.4 1-0.5 1.1-0.9 0.9-0.9 0.6-0.9 0.3-1 0.1-1 0.1zM372.4 396.1l-3.3 0.1-3.2 0.4-3.1 1.4-3-0.3-2.9 0-2.7-2.9M396.4 401.2l0 2.9-1 3.5-0.3 3.1 2.2 2.7 2.2 2.4 2 2.4 2.2 2.3M409.9 400.6l2.2 2 3.8 0.4 3.3 0.7 2.2 2.3 2.6 1.6 2.7 1.3 1.1 3.2 1.8 2.6 2.1 2.2M422.6 390.9l0.4 3 1.4 2.8 2 2.8 0.6 3 3 2.5 0.5 3M436.3 398.2l-1.7 2.4-0.1 3 0.8 3.7 0.6 3.3 1 3.3-0.1 3-2.7 2.5 1 3.2-4.8 2-4.3 1.6M429.5 398.9l-0.5-2.5 0.7-2.5 1.2-2.2 2.2-1.4 2.5 0.3 2.1 0.5 2.4 0.4 1.8 1.7 0.2 2.6-0.5 2.3-0.8 2.5-2.3 1.6-2.6-0.6-2-0.9-2.2-0.3zM455.8 400.9l-0.8-3.1-1.7-2.8 0.7-3.1 0.7-3 0.8-3.1 1.1-3.2 1.5-3 0.8-2.9-3-3M462.5 400.4l-0.5-1.7 0.8-1.5 1-0.9 1.1-0.6 1.1 0 1 0 1.5-0.1 1.3 0.9 0.2 1.6-0.4 1.4-0.5 1.3-1.2 0.7-1.3-0.5-0.9-0.4-1.4 0.2zM475.0 388.4l0.8-3.2 2-3.1 0.8-3.1 0.8-2.9 1.3-2.6 1-2.7M480.9 391.4l-3 0.8-2.9 0.7-3 1-3-1.3-3.1-2M485.0 395.0l-1 0.5-1 0.5-0.9 0.2-0.5-0.2-0.1-0.5 0.2-0.7 0.8-0.9 1.1-0.8 1.1-0.7 1-0.5 0.8-0.1 0.4 0.3 0.1 0.4-0.1 0.7-0.7 1zM488.5 392.1l3.2 0.9 3-0.4 2.7 0.7 3.1-1.3 3-1.5 2.9-2 2.2-4.5 3.7 2.8 2.8-0.9 3.1 0.5M503.5 401.6l-1.8-2.9 0.2-3-0.8-3.2-0.2-3.1 0-2.9 3.1-2.7 0.8-2.9-0.4-3.1 4.1-2.3 2.5-2.4M500.6 396.9l1.4-3 0.1-2.9 2.5-2.3 0.8-2.9-0.1-3.2-0.1-3.1-0.8-3.1M504.9 400.3l-2.8 1.6-2.6 1.9-2 2.1-2.4 1.7-1.7 2.3-0.6 3.8 0.6 4.2M508.4 390.5l-0.7 0.3-0.7 0.3-0.9 0.2-1-0.3-0.7-0.8-0.1-0.9 0.1-0.8 0.1-0.8 0.3-0.9 1-0.3 1 0.6 0.6 0.6 0.9 0.4 0.9 0.7 0 1zM496.6 396.7l-1.2-1.1-1.5-1.3 0.1-2.1 1.4-1.6 1.3-1.4 1.6-1.4 2 0.3 1.2 1.6 1.1 1.1 1.5 1.3 0.1 2.1-1.4 1.6-1.4 1.4-1.7 1.3-2-0.3zM505.6 400.4l-2.4 2.4-2.6 1.4-2.3 1.4-3.8-0.7-3.1 0.3-3.3 0.1-2.4 2M516.9 404.7l-1.6-0.1-1.8-1.7-1.8-3.2-1.4-3.5-1.2-3.8-0.6-3.8 0.6-2.4 1.4-0.6 1.6 0.2 1.8 1.6 1.8 3 1.4 3.6 1.2 3.8 0.5 3.8-0.6 2.3zM531.4 393.4l0.8 1.1-0.7 0.7-3.4-0.8-3.3-1.5-2.2-1.2-2.1-1.1-1.2-1-0.4-0.8-0.5-1 1.2-0.5 3.4 0.9 3.1 1.4 2.4 1.1 2.3 1.1 0.7 1zM515.0 401.5l-0.9 4.7-1.5 4-1.7 4.1-1.9 2.1-0.3-4.1 0.9-5.5 0-2.7-0.1-3.8 1.3-4.7 1.6-2.5 1.5-3.7 2.1-4.2 0.9 2.5-1.2 6.6-0.7 4zM521.8 401.2l-3.2 0.1-2.6-0.5-1.1-0.9-0.5-0.9 0.2-1.1 1.3-1 2.4-0.8 3-0.7 3.3 0 2.2 0.7 1 0.9 0.8 0.9 0.4 1-1.5 1.1-2.7 0.7zM529.1 393.0l-1.8 0.9-2.1-0.1-1.4-1.1-0.3-1.6 0.3-1.4 0.3-1.5 0.7-1.6 1.7-1.2 2.2 0 1.5 0.8 1.3 0.8 1.4 1 0.4 1.6-1.1 1.5-1.6 1zM517.1 395.6l-1.3 2.7-1.4 2.7-0.5 3.7-1.7 2.6-2.7 1.8-0.9 2.9-3.8 0.7-3.3 0.9-1.7 2.7M539.4 388.0l2.4-2.2 1.5-2.8 2.5-2-0.1-3.5 0.4-3 0.1-3.1 1.1-2.9M542.4 394.8l-1.7 2.1-1.7 1.9-1.7 1.7-1 0.1 0.2-1.7 0.5-1.7 0.4-1.9 1.5-2.8 2-2.5 1.6-1.2 1.2-0.8 1.2-0.6 0.6 0.5-0.2 1.7-1.1 2.5zM539.6 397.1l-0.5 3.2 0 2.9 0.1 2.7 1.4 3.1 1.8 3M280.8 405.8l-2.2 2.6-2.3 2.4-2.5 1.6-2.6 1.3-3.1 0.5M296.6 415.5l-1.1-2.1-1-1.8-1-1.9-0.1-1 0.7-0.1 1.4 0.7 1.9 1.9 1.8 2.3 1.5 2 1.9 2.5 0.6 1.8-1.2-0.5-1-0.4-0.5 0.5-1.7-1.1zM308.7 420.4l3.2-2.5 3.2 0.5 3 0.6 2.7 2.3 2 3.6 3.2 0 2.9 1M326.8 418.1l-0.6-1.8 1-1.8 1.6-1.3 1.8-0.9 1.8-0.3 1.7 0.5 1.4 0.8 1.2 1 0.8 1.6-0.5 1.9-1.5 1.5-2.1 0.6-1.8-0.1-1.5-0.4-1.7-0.4zM335.2 414.6l0.8 3.1 0.5 3.3 0.2 2.9-1.5 3.1-2.4 2.3-1.5 2.7-2.8 2.2M357.9 405.4l-0.7-1.6-0.7-2.1-0.2-1.7 0.5-0.5 0.9 0.9 0.8 1.3 0.8 1.3 0.8 1.6 0.7 1.9 0.3 1.7 0 1.1-0.2 0.9-0.6 0.1-0.9-1.3-0.9-1.9zM373.6 421.3l-1.5 0-1.3 1.3-2.5 1.9-1-0.5 1.1-2 0.6-1.3 0.3-1.3 1.3-1.5 1.7-1.2 1.8-1 1.2 0.1-0.1 1.3 0.2 0.6 1.4 0.5-0.6 1.8zM392.0 411.1l-1.3 0.8-1 0.4-0.7 0.7-1.2 0.8-1.6 0.1-1.6-0.8-0.7-1.6 0.8-1.5 1.3-0.8 1-0.4 0.7-0.7 1.1-0.8 1.7-0.1 1.5 0.9 0.7 1.5zM404.8 412.6l-2.8-1.8-2.6-1.6-2.9-1.4-3.1-1.2-2.8-1.3M423.6 407.7l-0.1-2.3 0.3-2.5 1.3-1.6 1.9 0.2 1.5 0.6 1.7 0.3 1.8 1.2 1 2.5-0.3 2.6-1 2-1.4 1-1.5 0.6-1.6 0.4-1.9-0.5-1.3-2zM440.3 412.4l0-2.5 1.4-1.9 2.2-0.6 1.9 0 1.8 0 2.1 0.4 1.7 1.7 0.3 2.4-0.8 2.2-1.3 1.7-1.5 1.3-1.9 0.8-2.1-0.5-1.6-1.3-1.2-1.7zM455.2 417.8l-0.8 0.1-1 0.1-1-1-0.2-1.7 0.4-1.2 0.2-1.1 0.1-1.6 0.7-1.1 1.2 0.6 0.7 1.5 0.5 1 0.8 1 0.7 1.5-0.4 1.5-1 0.5zM474.6 416.3l0.2 0.8-2.5 0.2-2.6-0.1-2.1 0.1-2.6-0.2-1.5-0.6-0.1-0.6-1.2-0.5-1.4-0.9 1.5-0.5 3 0.1 2.5 0.3 2.1 0.3 1.6 0.5 1.3 0.5zM496.5 415.2l-0.5 1.3-1.2 0.5-1.2-0.2-0.9-0.3-1-0.4-0.8-0.7-0.7-1.1 0-1.5 0.9-1 1.4-0.1 1 0.2 1-0.3 1.3 0.1 0.7 1.1 0 1.2zM491.2 416.1l-3.6-0.5-4.3-0.5-3.4-0.9-0.6-1.1 1.6-0.9 3.1-0.4 3.7-0.1 3.8-0.1 4.7 0.1 4.2 0.8 0.8 1.2-0.8 0.8 0.8 1-0.9 1.1-4.5 0.1zM493.2 418.8l-0.5-1.3-0.3-0.9-0.6-0.8-0.2-1.2 0.8-0.8 1.1-0.4 1.1-0.3 1.3 0.4 0.5 1.1 0.4 0.9 0.6 1 0 1-0.9 0.7-0.9 0.6-1.2 0.5zM505.6 417.9l-2.6 0.8-2.3-1.1 0.3-2.3 1.3-1.5 0-1-0.1-1.6 1.2-1.4 2-0.7 2.5 0 1.7 1.4 0.1 1.8-0.2 1.4 0.1 1.3-0.8 1.3-1.5 0.7zM504.1 416.5l0.9-3-0.3-3 0.5-2.9-1.4-3.6-1.6-3.2-0.3-3 3.3-2.7 3.3-2.2M498.8 410.9l-2.1 2.5-2.1 2.5-2.7 2.2-2.6 1.9 0 3.6 1.8 3.8M497.5 408.4l-0.3-2.2-0.4-1.9-0.1-2.3 1.4-1.6 2.2-0.2 1.9 0 2.2 0.2 1.8 1.5 0.5 2.3-0.1 2-0.2 2.1-1.3 1.6-1.9 0.6-2 0.3-2.3-0.5zM513.7 412.6l-1 0.1-1.3-0.4-1.7-0.9-1.9-1.1-2.2-1.4-2.2-1.9-0.5-1.3 1-0.1 1.2 0.2 1.1 0.2 1.5 0.6 2 1.1 2.2 1.6 1.7 1.7 0.6 1.2zM508.7 418.8l-1-0.8-0.9-0.9-0.4-1 0.2-0.8 0.7-0.6 0.9-0.4 1.2 0 1.3 0.5 1.1 0.7 1 0.9 0.3 1-0.4 0.8-0.7 0.6-0.8 0.5-1.2 0zM521.4 415.8l-0.7-0.4 0.5-0.8 2.3-0.8 2.7-0.4 2-0.1 1.4 0.1 1.2 0.1 0.9 0.3 0.6 0.4-0.5 0.8-2.3 0.8-2.7 0.4-2 0.1-1.4-0.1-1-0.2zM521.6 420.3l-1.6 1.8-1.3 1.5-1.6 1.7-1.9 0.2-1.3-1.5-0.7-1.8-0.7-2-0.1-2.5 1-2.5 1.8-1.5 1.8-0.3 1.6 0.3 1.5 0.4 1.6 1.1 0.8 2.4zM521.3 413.8l-1.3-0.5-1-0.4-1.6-0.4-1-0.6 1.2-0.4 1.6 0 1-0.2 1.4-0.2 1.8 0.3 1 0.6 0.4 0.5 0.4 0.5-0.1 0.4-0.7 0.5-1.3 0.2zM528.2 419.5l-0.9 1-1.6 0.8-2.7-0.4-2.9-0.5-3.7-0.8-3.2-2 0.1-2.1 1.4-1.1 0.5-1.3 1.8-0.8 3 0.7 2.7 0.7 3.8 0.6 3.5 2 0 2.1zM535.0 409.3l0.8-3.2 0.3-3.3-0.6-3-0.9-2.8-1.3-2.7M533.0 406.1l-3-0.6-2.8-1.1-1.4-4-1.5-2.7-1.3-3.1-2.3-2-0.3-3.9-2.1-2-4.3 0-6.3 3.5M553.9 414.2l-0.1 2-0.8 2-1.6 1-1.6-0.6-0.8-1.6-0.3-1.5-0.4-1.1-0.6-1.4-0.2-2.1 0.9-2.1 1.7-0.8 1.6 0.9 0.8 1.5 0.4 1.2 0.6 1.1zM291.4 427.0l-0.7-1.5 0.5-1.7 1.6-1 1.5-0.4 1.4-0.6 1.9-0.3 1.5 1.1 0.1 1.7-0.2 1.5 0 1.4-0.6 1.6-1.5 1-1.9 0-1.4-0.8-1.1-0.9zM308.1 432.2l-3.5-2-3-2.2-2.2-2.4-0.5-1.7 2-0.5 3.2 0.7 3.4 1.1 3.5 1.5 3.4 2 2.9 2.2 2.4 2.4 0.6 1.8-2 0.5-3.4-0.8-3.3-1.1zM330.0 435.3l0.6 2.7 0.6 3.1-0.3 2.9 0.2 2.9-1.3 3.3-3.9 3 3.4 3.2 1.7 2.8 1.2 2.8 0.1 3M343.1 421.7l-2.3 2.1-2.3 2.1-0.8 3.2 0.7 3.8 0.5 3.3-0.5 3.1-1.9 2.6 1.7 3.5 0 3.1M358.4 424.9l-1.5-0.4-1.1-0.4-1.2-0.4-1.1-0.7-0.3-1.2 0.4-1.3 1.1-1.4 1.7-0.9 1.9 0.3 0.9 1.1 0.5 0.8 1.2 0.4 1.3 1 0 1.6-1.7 1.2zM383.7 428.3l-2.8 0.8-2.8 0.2-1.7-0.9 0.1-1.6 0.9-1.4 0.8-1.3 1.1-1.4 2.1-1.5 3-1.1 2.8 0.1 1.1 1.4-0.4 1.5-0.2 1.2-0.2 1.4-1.4 1.5zM383.8 425.7l-2-1.4-2.3-1.8-1.1-2.2 0.3-1.9 1.5-1.1 2.6 0.2 2.5 0.8 2.5 0.5 3.2 1.3 1.4 2.5-1.3 1.6-0.5 1.3 0.6 2.4-1.7 1.5-3.4-1.5zM406.9 422.2l-2.9 1.2-2.9 2.1-2.9 0.9-2.8 1.5-3.1-0.5-3.3-2.6-3-3.4-3-0.9-3.1 1-3 2.1M416.3 433.9l-0.1-3.5-0.5-3-0.6-2.8-1.3-2.7-2.7-2.1M443.7 429.5l-1.9 0.2-2.7-0.6-3.2-1.2-3.5-1.5-4.1-2.2-3.5-2.7-1.4-2 0.8-1 1.9-0.1 2.4 0.4 3 1 3.7 1.6 4 2.3 3.2 2.6 1.6 2.1zM453.5 434.6l-1.1-0.4-0.7-0.7-0.3-0.8-0.1-0.7 0.3-0.6 0.9-0.4 0.9-0.1 1.1 0 1.2 0.4 0.7 0.7 0.3 0.7 0 0.7-0.3 0.7-0.8 0.4-1 0.1zM464.6 435.5l0.9 2.7-0.1 2.9 0.4 3.3-0.9 3 0.6 3.2-3.1 2.3-1 2.7 0.4 3.2M494.3 431.4l-1.9 0.2-1.5 0.4-2 0.1-2.4-1-2.1-1.3-2.7-1.6-1.8-2 1.3-1.2 2.6 0.2 1.5-0.1 1.6-0.5 2.5 0.6 2.4 1.4 2.1 1.7 1.3 1.9zM502.4 425.8l-1.8-3.7-0.5-2.9 0.3-1.9 0.5-1.6 1-1.3 2.1 0.8 2.7 3.1 1.9 3.9 1.1 3.1 1.1 3 0.9 3.2-0.4 2.2-1.9-0.4-2.4-2-2.3-2.5zM504.7 432.2l2-1.9 2.5-2.2 2.2-2.4 2-2.3-0.4-3.6 0.5-2.9 0-3.2M500.7 429.0l-1.7 1-1.1 0-0.5-0.5 0-0.6-0.2-0.4-0.8-0.2-0.5-1.1 1.2-1.6 1.7-0.7 1 0 0.8-0.1 0.3 0.5-0.2 0.7 0.3 0.4 0.5 1zM506.0 428.3l-2-1-1.1-1-0.9-0.8-1.2-1.1-0.2-1.1 2-0.2 2.6 0.6 1.8 0.5 2.1 0.2 2.7 0.8 0.8 1.1-1.1 0.8-1 0.4-0.5 0.7-1.6 0.5zM526.7 422.6l-0.8-3.1-1.3-2.5-0.4-2.9-3.3-1.8-4-1.1-1-3-2.1-2.3-4-0.6M517.7 424.6l-1.5-0.4-1.3-0.9-0.2-1.3 0.4-1 0.3-1 0.8-1 1.4-0.3 1.5 0.3 1.5 0.5 1.1 0.9 0.3 1.2-0.3 1.1-0.3 1-0.8 1-1.5 0.2zM529.7 421.6l2.6-1.9 2.3-2 2.3-1.8 0.7-3.4-0.5-3.9-2.3-4.5M530.1 427.8l-3.1 1.4-2.9 1.7-2.5 2.8-3.1-0.1-3.6-3-2.9-1.8-3-0.4-2.9-2.5-2.6-2.6-2.4-2.2M570.4 426.6l-1.8-1.3-1.8-0.7-2.2-1.2-1.1-2.5 1.1-2.5 2.1-1.2 1.5-1 1.7-1.5 2.5-0.8 2.1 1.6 0.4 2.7-0.3 2.3 0.3 2.1-0.2 2.7-1.8 1.8zM304.4 438.1l2.6-2.1 0.8-3.2 0.2-3.2 0.4-3-1.7-3.7-1.5-3.4M342.2 443.9l-1.7 2.8-0.8 3.6-1.4 2.7-2 2.3-3.7 0.6-2.2 1.9-3 1.3M357.3 452.6l2.2 2.3 3.3 1 2.6 1.5 3.1 1 3.3 0.7 1.8 2.6 1 3.5M378.5 449.8l-3 0.4-3.2-1.1-3.1 0.5-3 0.5-2.8 0.8-2.9 0.7-2.8 1.5M386.8 452.6l-0.3-1.3-0.1-1.4 0.4-1.7 1-1.8 1.6-1.6 1.8-0.8 1.4 0.2 0.8 0.8 0.9 0.7 0.5 1.3-0.7 1.9-1.5 1.6-1.5 1.3-1.7 1.3-1.7 0.4zM410.4 451.0l1.7 2.9 2.2 2 2.1 1.8 3.1 1.2 2.6 1.7 3 1.2 1.8 2.6M425.8 446.9l-5-0.9-4.7-1.4-3.5-1.6-1.8-1.6 2-0.8 4.8 0.1 4.4 0.3 4.9 0.4 5.2 1.3 3.2 1.5 2.9 1.4 3.9 1.8-0.3 1.4-5.8-0.3-5.7-1zM438.3 447.6l-1.2-0.9-0.8-1.1 0.1-0.8 0.5-0.4 0.4-0.5 0.6-0.4 1.2 0.2 1.4 0.8 0.9 1.1 0.5 0.9 0.1 0.8 0.1 0.8-0.4 0.6-1 0-1.2-0.5zM457.2 451.8l-0.1 2.1-1.6 1.6-2.9-1.1-1.9-2.1-1.7-1.3-1.8-1.6 0-1.8 0.9-1.2 0.3-1.9 1.4-1.7 2.9 0.7 2 2.1 1.6 1.4 1.5 1.7 0 1.7zM527.4 443.7l2.5 1.7 0.8 3.6 1 3-0.2 3.4 0.9 2.9 1.1 2.9M540.3 449.7l-2.1 2.3-2.2 1.6-1.9 2.8-2.1 2.4 0.1 4.7-2.4 1.7-3.9 0.1-4.8-1.7-4.2-1.7-3.7-1M545.9 447.9l-1.1-1.2 0.2-2.3 0.3-1.8-0.4-2.2 0.8-2.8 2.1-0.9 1.6 0.8 1.4-0.3 1.8-0.1 0.5 2-0.8 2.4-0.6 2-0.8 2.3-1.6 1.6-1.7 0.5zM295.9 461.4l-3.3 0.2-3.3-0.4-2.8-0.7-2.7-1.5-2.4-1.8-0.7-5.1-3.8 0.4M335.4 450.6l-2-2.3-2.5-1.4-3.2-0.7-2.9-1.1-3.2-0.9M342.8 459.5l0.2-0.8 0.1-0.6 0.3-0.9 0.8-0.9 0.9-1 1.2-1.3 1.1-0.4-0.2 1.1-0.5 1 0.2 0.4-0.1 0.8-0.8 1-1 1-1.1 0.9-1 0.4zM361.6 466.6l-2.5 2.1-1.8 2.2-0.3 3.4-1.5 2.5-0.1 3.5-1.8 2.5-1.1 2.9-2.4 2M378.4 454.3l-0.3 0.9-0.9 0.7-1.5 0.1-1.6-0.7-1.2-1-0.7-1.1-0.3-1-0.1-1 0.5-1 1.1-0.4 1.5 0.1 1.5 0.5 1.4 0.8 0.9 1.2 0 1.1zM393.4 455.9l2.8 1.6 3 1.2 2.9 0.3 3.2-1.7 3.1-2.4 3.1 0.9 2.9-3 3 0.1 3.1 1.8M400.8 464.5l-0.8-0.5-0.6-0.9 1.2-2.3 2.4-2.1 2.1-1.6 2-1.3 1.7-0.5 1.3 0 0.6 0.8-0.8 2-1.9 2.2-1.6 1.8-2 2.5-2.6 1.9-1.1-0.6zM414.8 458.2l-0.1 2.9 0.3 3.2 1.1 3 0.9 3 0.3 3 2.6 2.9 1.8 2.7-0.5 3-1.7 3.2M431.5 457.7l0-0.9 2.3-1.2 2.9-0.8 2.1-0.7 2.6-1.1 3.4-0.7 1.4 0.6-0.7 1.1-0.7 0.9-0.5 0.9-1.7 1.1-2.9 0.9-2.6 0.3-2 0.1-2-0.1zM462.1 466.7l1.4 3-0.9 3.1-1 3.3-0.7 3.1 0.4 3.1 1.8 2.8 0.5 2.9M519.4 465.2l2 2.2 0.4 3.7 0.6 3.5 2.8 1.8 2.2 2.1 2 2M546.5 468.4l-0.6 1.6-1.5 1.4-2.6 0.8-3.1-0.3-2.5-1.3-1.8-1.3-2.1-1.3-1-1.9 1.3-1.6 2.2-0.9 2.3-0.8 3-0.2 2.8 1 1.8 1.5 1.3 1.6zM554.3 461.9l-3.8 0.4-3.2-0.4-1.2-0.8 0-0.9 0.4-0.9 1.2-0.9 2.6-0.8 3.6-0.5 3.4 0.2 2.4 0.4 2.1 0.5 1.6 0.8-0.5 1-2.7 0.8-3 0.6zM298.4 477.2l-2.5 0.3-3.2-0.3-0.9-2.9 2.2-2.6 0.4-1.6-1.1-3.3 1.9-2.5 3.1 1.6 1.8 1.5 2.7-0.1 2.6 1.5-0.6 2.9-1.5 1.9-0.8 2.1-1.8 1.5zM346.3 469.6l2.6-1.9 2.8-1.7 3.1-0.4 3 0.1 3.2 0.9 3-0.4M364.1 479.1l-0.4 1.8-2 0.8-2.9-0.9-2.5-2.1-1.1-2-1-1.5-1.6-1.9-1.1-2.4 1.4-1.4 2.8 0.5 2.6 1 2.3 1.2 2.1 1.6 1 2 0.2 1.6zM369.7 471.1l-0.1-3.1 0.4-2.7 1.3-2.9 1.9-2.7 3.4-2.4M371.4 473.6l-0.9-1.2-0.6-1.7 0.2-1.7 0.9-1.4 1.6-0.1 1.6 1.3 0.9 1.3 1.1 0.9 1.3 1.4 0 1.8-1 1.1-0.7 1.1-1.2 1.1-1.7-0.6-1-1.9zM389.9 476.9l0.8-2.9 1.3-3 2.7-2.4 1-2.9 2-2.6-1.3-3.4 0.2-3.1-2.7-3.2 1.9-2.9M406.9 476.2l-0.3 1.5-0.8 1.4-1.2 0.7-1.3-0.2-0.8-1-0.4-1.2-0.2-1.2 0-1.2 0.2-1.5 0.7-1.5 1.2-0.9 1.3 0.3 0.7 1.3 0.4 1.1 0.3 1.1zM418.5 471.8l-1.1 2.7-0.9 2.7-1.5 2.6-2.4 2.1-2.2 2.3 0.1 3.4-1.5 2.8M435.3 470.0l-1.9 2.7-1.4 2.9-0.2 3 0.2 3.1-0.3 2.9 0.2 3.1 0.2 3.1 0.1 3.1M455.2 480.4l0-3.5-0.3-3.1-1.3-2.9-2.7-1.9-3.3-1.5-0.8-3-2.5-2.1-1.9-2.4 0.6-3.8M526.4 476.9l-2.2-1.2-1.2 0-2.6-1.8-3-3.2-2.5-2.8-3.3-3.6-1.5-2.7 1.5 0.1 1.6 0.4 1.4 0.3 3 2.3 2.7 3.3 2.6 2.6 3.8 3.9 1.8 3.1zM529.3 476.9l-1.4-2.7-1.2-2.8 1.2-3.7 1.3-3.4 0.6-3.2 1.1-3.1-0.3-2.9-4.4-2.5M283.8 490.4l-2.2 0-2-0.2-1.5-0.4-0.3-0.6 0.6-0.6 1.1-0.6 1.8-0.5 2.4-0.2 2.2 0 2 0.3 1.3 0.4 0.5 0.5-0.4 0.7-1.2 0.6-2 0.4zM312.4 492.3l-1.2 1.8-1.2-2.6-0.6-3.8-0.5-3.3 0.1-3.1 0.9-1.4 0.5-1.3 0.4-3.5 1.3-1.2 1.1 3.3 0.5 3.6 0.7 3.1 0.2 3.4-1 1.4-0.8 0.6zM342.6 488.1l3.4 1.1 3.6 0.6 2.3 1.5 2.4 1.7 1.3 3.3 1.4 3 2.3 1.9 4-0.1 2.5 1.6M371.7 497.5l-0.7 0.4-0.7 0.4-1.2-0.1-1.2-0.7-1.1-0.9-0.8-1-0.2-1.2 0.5-0.7 0.8-0.5 1-0.1 1.2 0.4 1.1 0.5 1.3 0.7 1.2 1.2-0.2 1.1zM389.7 491.7l-1.5-0.2-0.2-1.3 1.2-1 1-0.6 0.9-0.5 0.8 0 0.7 0.3 0.9 0.1 0.9 0.4 0.2 1.1-0.7 1.1-0.9 0.8-1 0.5-0.9-0.5-0.4-0.5zM407.4 493.9l-4.1-1.2-3.5-1.1-3.3-1.3-0.3-1.6 2.4-1 2-1 2.9-1 4.6 0.2 4.1 1 3.9 1 3.4 1.4-0.5 1.5-2.7 1-1.6 1-2.5 1.2zM424.7 489.0l-3.2 1.1-2.9 1.4-2.9 1.6-1.7 2.6-1.7 2.5-1.2 2.8-2.3 1.9M444.5 496.0l3 1.2 3 1.7 3-0.3 2.9-0.6 2.7 1.6 3.4-2.4 3 0.2 3.1 0.4M452.2 495.0l-1.4-0.9-1.3-1.2-0.8-2.1 0-2.6 0.1-2.4 0.3-3 1.3-2.8 2-0.3 1.5 2.4 0.5 2.7 0.6 1.6 1.1 1.9 0.7 3.2-0.9 3-1.9 1.1zM470.5 488.4l-1 0.6-1.3 0.2-0.6-0.7-0.2-0.7-0.5-0.7 0.1-0.9 1.1-0.7 1-0.4 1-0.5 1.2-0.2 0.6 0.7 0.3 0.7 0.6 0.6-0.2 1-1.1 0.6zM482.5 492.6l-2.6 0.9-2.6 2.1-2.6 1.7-3.1 0.6-3 0.5-2.9 0.1-3.2-0.9-2.8 1.6-2.8 1.6M508.2 493.0l-0.9-0.8-0.8-1.1-0.5-0.8-0.8-0.8-0.9-1.4-0.5-1.6 0.3-0.9 0.7 0 0.7 0.3 0.7 0.6 0.7 0.9 0.6 1.1 0.7 1.2 0.6 1.6 0 1.4zM520.7 499.9l-1.3-0.3-1-0.6-1-0.5-0.8-1 0.3-1.1 0.8-0.9 0.9-0.9 1.2-0.5 1.3 0.2 1 0.7 0.9 0.6 0.7 0.9-0.1 1.2-0.7 1-0.9 0.8zM527.6 496.8l0.9 3 0.7 2.8 1.2 2.5 0 3.2-2.1 3.7-0.4 3.1-1 3.1 0.1 3 0.5 2.9M528.4 488.0l-2.1-0.8-2.9-1.6-1.9-2.3 1.1-1.3 2.7 0.3 2.1 0.6 1.6 0.2 1.8 0.6 2.1 1 2.6 1.6 2.1 2.2-0.7 1.5-2.8-0.2-2.3-0.8-1.7-0.4zM545.8 491.3l-2.3-1.7-3.2-2-1.7-2.1 2-0.3 1.8 0 0.5-1.2 2.5 0 3.4 2.3 1.9 2.2 2.1 1.7 1.8 1.9-0.4 1.2-1.1 0.6-1.4 0.6-3-1zM562.3 493.3l0.2 3.4-1.3 3-1.6 3-0.2 3.2 1.2 3 0.2 2.9M301.1 513.3l-2.2-2.6-2.6-2.2-3.1-1.7-2.7-1.7-0.4-3.5 0.7-3.9-2.1-2.1-1.1-2.8-1.4-2.8M338.8 503.1l-2.4-2.2-2.1-2.4-0.6-3.2 0.9-3.6 0.9-3.2-0.2-3.1-0.2-3.1-1.7-2.7-2.3-2.5M363.0 504.9l-1.2-2.3-1.1-2.7-0.3-3.4-0.8-3.1-0.5-3.2-0.7-3.1-4-1.1-4.5-0.4-6.5 2.6-4.5 1.4M369.7 512.7l-0.5-0.9 0-1 0.6-1 1.1-0.4 1 0.1 0.8 0.1 0.8 0.4 0.6 0.6 0.5 0.9 0 1-0.6 1-1 0.4-1 0-0.9-0.3-0.7-0.3zM390.2 510.4l0.1-2.3 0.7-1.4 0.4-1.3 0.6-1.5 1.2-0.1 1.2 1.5 0.9 1.7 1.1 1.6 1 2.3-0.3 2.2-1.2 0.5-1.2-0.2-0.8 0.3-1.2 0.1-1.5-1.1zM411.3 512.5l-2 2.1-1.5 2.9-2.6 1.5-2.7 1.5-3.2 1M410.8 502.5l-2 1.7-2.1 2.2-2.3 1.9-0.7-0.3 0.4-1.4 0.5-1.5 1.6-2.4 2.2-2.3 2-2.2 2.5-2.8 1.9-1.2-0.4 1.6-0.3 1.2 0.6 0.5-1.2 2.3zM426.7 513.0l-2 0.6-1.6 1-2.4 0.5-2.6-1.6-1.5-2.2-1.6-2.1-0.6-2.4 1.6-1.3 1.9-0.6 1.4-1.4 2.5-0.6 2.5 1.9 1.3 2.3 1.6 2 0.9 2.4zM447.1 510.6l-1.4 1.2-1.4 1.3-2.2 0.3-2.4-0.9-2.1-1.1-2.4-1.3-1.3-2.1 0.8-1.9 1.6-1.3 1.9-0.8 2.2 0 2.2 0.6 2.4 0.7 2.6 1.4 0.8 2.2zM452.5 508.5l0.6-2.7 2.7-1.7 3.1-0.4 2.3 0 2.1-0.1 2.4 0.4 2.4 1.1 1.8 2 0.1 2.7-2.4 2.1-3.2 0.4-2.6-0.5-1.9-0.3-2.4 0-2.9-0.8zM474.2 501.9l-3-0.8-3.5-0.1-2.6 3-2.9 0.7-2.4 2.9-2.6 2.2-3.3-0.5-3.3-1-3.4-2.5-3-1.3M482.2 508.3l-2.9-1.5-1.4-1.6-0.9-1.4-1-1.6 0.8-1 2.5 0.3 2.6 0.5 2.8 0.7 2.8 1.5 1.4 1.6 0.9 1.5 1.2 1.6-0.8 1-2.7-0.4-2.6-0.6zM510.7 507.1l-0.8 1.4-1.6 0.3-1.1-0.2-1 0.1-0.9-0.3-0.8-0.8-0.7-1.1-0.4-1.5 0.8-1.4 1.5-0.4 1.1 0.2 1-0.1 0.9 0.4 0.8 0.8 0.8 1zM517.6 510.4l-1.2-0.7-1-1-0.7-1.3-0.5-1.5-0.1-1.8 0.6-1.8 1.3-1.1 1.5 0 1.2 0.8 0.9 1.1 0.7 1.2 0.6 1.5 0.1 1.9-0.7 1.7-1.3 1zM556.0 508.2l-1.5-0.8-0.7-1.9-0.6-1.6-1.3-1.9 0-2.8 2-1.2 1.8 0.3 1.2-1.1 2-0.9 1.2 1.9-0.2 2.6 0.2 1.9 0.2 2.3-1 2.1-1.6 0.8zM575.4 515.3l-3.2 1.5-3.2 1.3-3.2 0.9-2.5 2.1-0.6 3.6 0.1 3.8-0.2 3.4 3.5 4.8 5.3 4.1 4.5 3M314.7 522.8l-2.1 2.2-1.2 3.6-1.8 2.6-2.5 1.9-3.7 0.3-3.7-0.8-4.5-3.6-2.8 1.4-3.5-2-3 0.7M328.0 530.9l3.4 0.4 2.9-0.9 2.6-1.1 2-3.5 2.4-2 2.4-2 2.1-2.3 2.3-2.3 4.1 1.6 1.9-2.8M386.8 529.0l1.8-2.7 0.7-2.9-0.5-3.4-0.1-2.9-2.5-3.3-0.9-3.1 0.9-3-3.8-2.7 2.8-3.2 1.7-3M414.2 515.6l3 1.1 2.7 0.9 2.2 2.8 2.6 1.7 2.3 2.5M422.4 531.9l-0.1-0.9 2.7-2.1 3.1-1.7 1.9-1.2 2-1.2 2.3-1.2 2.3-0.9 2.2-0.6 0.2 0.9-2.7 2.1-3.1 1.8-2 1.1-2 1.3-2.2 1.1-2.4 1zM440.3 536.3l0.3-2 1.1-2.2 1.8-2.3 2.4-2.3 2.8-2.2 3.3-2 2.7-0.5 0.6 1.6-0.8 2.2-0.5 1.8-1.1 2.3-2.6 2.5-3 1.8-3 1.4-2.7 0.7zM450.2 527.8l-2.2-1-1.6-1.8-0.1-2.3 0.4-2-0.1-2.4 1.2-2.5 2.7-0.1 2.1 1.5 2 0.4 2.7 0.7 1.1 2.4-1.4 2.3-1.4 1.6-1 2-2 1.3zM475.8 525.1l-1.2-0.2-0.4-1.1 0.4-1.3 0.6-1.2 0.8-1 1.1-0.3 0.9 0.2 1.1-0.1 1 0.4 0.2 1.3-0.4 1.2-0.3 1.2-0.7 1.2-1.3 0.2-0.9-0.5zM485.5 524.2l-1.2-0.8-1.2-1-0.2-1.5 0.3-1.5 0.2-1.8 1-1.8 1.9-0.2 1.5 1.1 1.2 0.8 1.1 1 0.3 1.5-0.3 1.6-0.2 1.7-1 1.8-1.9 0.2zM506.9 526.8l-0.6 2.2-2.6 1.1-3.4-0.3-3-1.1-2.3-1.5-2.1-1.6-1.7-2-0.7-2.2 1.3-1.9 2.5-1 3-0.1 3.2 0.8 2.4 1.6 1.6 1.9 1.4 1.9zM523.8 519.5l3.2 0.2 2.5 1.9 2.7 0.8 2.6 1.7 2.7 1.9 2.6 1.9 2.6 1.1 2.4 1.9 4.1-2.8 3.7-3M538.1 532.7l-1.9-1.6-1-0.9-0.8-0.2-1.3-1.4-0.7-1.3-0.9-1.3-1.5-2-0.1-0.8 1.6 1.2 1 0.8 1 0.5 1.3 1.5 0.6 1.2 1.2 1.4 1.7 2.3zM299.4 540.7l-0.7-1.3 2.1-1.8 3.1-1.5 2.9-1.1 3.1-1.2 3-0.4 1.1 1-0.2 1.3 0.8 0.8 0.6 1.5-2.2 2-4 1.2-3-0.2-1.7-0.3-2.2 0.1zM367.6 546.3l1.7-3-0.9-3.3-1.5-2.9-3-2.3-3.7-1.8M380.3 536.1l0.7 1.2-0.9 1.4-4.3 0-3.8-0.3-4.7 0.2-4.9-0.9-0.1-1.8 1.6-1.2-0.8-1.4 1.4-1.2 4.5 0.2 3.5 0.2 4.8-0.4 5.3 0.9-0.1 1.9zM377.9 546.7l-0.3 2.5-0.4 3-0.9 2.6-1.2 0.6-1-1.7-0.4-2.4-0.4-2.2-0.4-2.8 0.3-3.3 1.1-1.8 1-0.7 1-1.4 1.3-0.9 0.9 2-0.1 3.6zM392.4 541.8l3.1 1.5 2.6 2 2.7 1.9 1.6 2.6-0.7 4 2.3 1.9M406.6 541.0l-1.8 0.1-2.3-0.1-1.8-0.8 0-1.3 1.6-0.8 1.5-0.5 1.3-0.5 1.6-0.4 2-0.1 1.9 0.5 1.4 0.9 0.3 1-0.9 1-1.5 0.6-1.7 0.3zM417.7 537.9l-1 0.1-0.7-0.8-0.4-1.3-0.2-1.6 0.6-1.7 1.2-0.7 1 0.3 0.8-0.1 0.9-0.1 0.9 0.7 0.4 1.3 0.1 1.6-0.6 1.7-1.2 0.7-1-0.2zM435.2 551.2l-2.2-0.5-1.6-1.6-1.2-1.3-1.4-1.7-0.1-2.2 1.3-1.6 1.5-1.3 1.5-1.4 2.3-0.5 1.9 1.3 0.9 2 0.5 1.9 0.1 1.9-0.5 1.9-1 1.9zM462.4 532.4l-2.6 2.4-2.6 1.7-3.2 0.5-3 0.1-2.9 0-2.8 0.9-2.6 2.1-2.8 1.3-3.2 0M449.7 541.2l-2.3 0.8-2.1-0.2-1.4-0.8-1.3-1-0.8-1.4 1-1.9 2.3-1.2 2.3-0.8 2.1-0.5 2.1-0.1 1.9 0.4 1.5 1 0.2 1.7-1.6 1.7-2 1.2zM470.2 540.5l1-3.1 0.8-2.7-2-3.9-0.3-3.3 2.7-2.6M466.4 541.9l0-1.2 1-1.3 1.6-0.9 1.8-0.7 1.9-0.4 2 0.2 0.9 1-0.1 1.2 0.1 1 0.1 1.4-1.2 1.4-2.3 0.5-1.8-0.4-1.4-0.4-1.5-0.5zM499.9 541.4l-0.7 2.3-2.2 1.5-2.9 0-2.4-1.2-1.6-1.3-1.7-1-1.8-1.6-1.1-2.3 0.6-2.4 2.4-1.5 3 0.3 2.3 1.2 1.7 1.1 1.8 1 1.8 1.6zM500.1 536.5l-1.9-2.8-1.5-2.5-1.3-2.5 0-1.6 1.6 0.2 2.3 1.5 2.4 1.8 2.5 2.3 2.5 2.9 1.6 2.8 0.1 1.7-0.5 0.9-0.8 0.5-1.8-0.4-2.6-1.9zM525.7 541.7l2.7-1.6 2.6-1.4 2.3-2.5 2.1-2.7 2.8-1.2M572.6 541.8l-2.1-2.8-1-3-0.6-3.2-0.3-2.9 1.1-3 2-3 1.7-3 0.5-3-3.2-3.1 2.8-2.9M306.1 564.6l-3.7 1.4-2.6 0.6-2 0.1-1.7-0.2-1-1 0.1-2 2.2-3 3.7-2.9 3.9-1.9 2.7-0.4 1.4 0.5 1.3 0.5 1.7 0.5 0.5 1.7-2.3 3.2zM362.1 568.8l-1.3 0.5-2.2-0.6-2.9-2.2-2.5-2.4-2.6-2.4-2.7-3-0.6-2.2 1.8 0 1.3-0.1 1-0.8 2.8 1.1 3 3.1 1.8 2.7 1.7 2.3 1.4 2.4zM371.6 559.6l-1.4-1.7-0.8-2.1 0.5-2.2 1.2-1.7 1.7-1.3 2.2-0.1 2 1 1.7 1.1 1.9 1.5 0.7 2.3-1.2 2-1.4 1.4-1.3 1.5-2.1 0.8-2.2-0.9zM388.9 560.4l1.8-2.8-0.7-3.5-0.4-3.3-1.5-3.3-1.1-3.2 2.2-2.9M388.9 557.0l-0.9-1.5-0.1-1.9-0.5-1.8 0.4-2.3 1.8-1.4 1.6 0.1 1-0.1 1.3-0.9 1.8-0.3 1.4 1.2-0.1 2.5-1.8 2.2-2 0.5-0.9 0.5-1.2 2.1zM409.2 559.5l-1.4-0.4-0.7-0.9-0.4-0.6-0.8-0.2-1-0.6-0.5-1.2 0.6-1.4 1.5-0.6 1.4 0.4 0.7 1 0.4 0.4 0.8 0.2 1.1 0.7 0.3 1.2-0.6 1.3zM418.3 558.0l3.2 0.3 3.2 0 3-1.3 3.1-0.1 2.2-2.5M443.2 558.9l-2.9-1.2-3.3-1.8-1.8-1.8 0.8-0.7 2.2 0.3 2.3 0.7 2.1 0.8 2.1 0.7 2.9 1.1 3.4 1.9 1.7 1.7-0.9 0.7-2.2-0.2-2.3-0.7-2-0.8zM444.2 559.6l-3.2-0.3-3-0.8-2.6-0.7-2.4-2.3-2.4-2.1-1.3-4.2-2.7-1.6-0.7-4.1-5.2 2.7M466.1 550.1l-0.4 1.3-1.1 0.7-1.2-0.2-1.1-0.2-1.3-0.2-0.6-1.2 0.5-1.3 0.3-1 0.1-1.4 1-1.1 1.4 0.3 1 0.6 1 0.4 0.8 0.9-0.1 1.3zM478.5 555.9l-0.5 0.8-1.4-0.4-1.2-0.9-1.2-0.5-1.6-0.8-0.8-1.5 0.4-1 0.4-0.8 0.7-0.6 1.3 0.3 1.2 0.7 1.3 0.4 1.5 1 0.4 1.4-0.3 0.9zM484.8 551.5l-0.9 3.7-1.3 2.5-1.1 0.5-0.9-0.3-1 0.4-1.4-0.2-0.6-3 1.1-4.8 1.9-2.6 1.1-0.7 0.9-2.7 1.6-3.5 1.3 0.1 0.1 3.5-0.4 3.6zM499.3 559.7l3.1-0.8 2.9-0.4 2.7-1.1 2.7-1.3 2.8-1.3M534.6 564.3l-1.2 0.2-1.3 0-1.6-0.3-1.2-1.2-0.3-1.7 0.7-1.5 1.2-0.8 1.1-0.6 1.1-0.5 1.5-0.2 1.4 0.6 1 1.3 0.3 1.6-0.5 1.5-1 1zM306.4 577.8l2.5-2.2 2.4-1.9 1.6-2.3 1.2-3 1.7-2.5 3.4-0.9M339.6 571.9l0.9 0.8-0.3 0.7-1.9-0.5-1.5-0.9-0.9-0.4-1.6-0.4-1.5-0.8 0.1-0.6 1.5 0 1.1 0.1 0.7-0.2 1.4-0.1 1.7 0.6 0.7 0.8-0.5 0.5zM367.4 570.1l-1.3 1.4-1 1.5-1.4 1.1-1.8-0.2-1.5-0.8-1.4-1.1-0.7-2 0.7-2 1-1.6 1.1-1.5 1.6-0.8 1.6 0.5 1.5 0.5 1.8 0.9 0.8 2zM369.4 568.7l-2.8 2-2.6 2.1-2.9 0.4-2.8 0.6-2.2 2-3 0.7-3.3 0.2-2.8 1.1M394.6 575.2l-1.2 2.4-1 2.5-1.4 3-1.4 1.4-0.6-1.4 0.2-3.1 0.9-3.3 0.7-2.6 0.7-3.1 1.2-3.7 1.5-2 0.7 1 0.4 1.5 0.5 1.2-0.1 2.7zM415.2 586.6l-1.3 1-1.8-1-1.4-3.2-0.2-3 0-2 0-1.8 0.2-1.8 0.5-2 1.2-1.5 1.9 1 1.3 3.5 0 3.1 0 1.9 0.3 2-0.1 2.1zM415.0 571.8l-0.4-0.1-0.5-0.3-0.6-1.4-0.4-1.8-0.2-1.7 0-1.4 0.1-1.2 0.4-0.5 0.5 0.2 0.6 1.1 0.5 1.5 0.4 1.5 0.4 1.9 0.2 1.8-0.4 0.7zM434.0 577.9l-1.2 1.7-2.2 0.6-1.9 0.1-2.2 0.4-2.4-0.9-1.2-2.1-0.1-2.3 0.4-2.1 1.5-1.5 2-0.6 1.8-0.5 2.4-0.5 2.3 1.1 0.9 2.3 0 2.1zM446.1 572.8l2.5-1.6 3.6-0.6 3.3-0.4 2.9-0.9 2.9-0.7 2.9-0.4 1.5-4.2 0.6-4.7M446.0 566.1l-0.8 0.6-0.9 0.2-0.9 0.2-1 0-1-0.4-0.5-0.9 0-1 0.3-0.8 0.4-0.7 0.7-0.7 1-0.1 1 0.5 0.7 0.6 0.7 0.6 0.5 1zM453.4 568.0l-1.6 2.9 0.4 3.4 0.8 2.9 0.3 2.9 2.5 2.8 0.2 3-0.4 3.1-0.1 3.1M477.0 567.0l-2.9 0.7-2.9 0.6-2.7 0.4-2.7 1.7-2.6 2.1-2.8 1.9-3.6-2.5M488.6 574.6l-1.7 2.7-1.4 3.2-1.4 2.5-1.1 2.8-2.7 1.5-3.8 0.7-2.3 2-4.8-0.8-1.7 2.5M506.5 570.5l-0.6-0.9-0.2-1.2 0.3-1.2 1-0.6 1.2 0.2 0.8 0.3 0.9-0.3 1.3 0.2 0.8 1-0.2 1.3-0.6 1-0.9 0.6-1 0.1-0.9 0-0.9 0zM526.8 573.6l-1.1-2.7-1.6-2.6-1.6-2.8-0.4-3.7-2.8-1.5-4.1-0.1" fill="none" stroke="#000" stroke-width="1.0"/><path d="M563.9 131.0l0.9-3 1.9-3 1.2-3 1.3-3-2.1-3 2-3M567.3 239.0l-0.4-3 2.3-3-0.9-3 0.2-3-1.1-3 1.2-3-1.4-3 1.4-3 1-3 1.5-3 1.3-3 2.3-3 0.3-3 1.8-3 1.4-3-0.2-3 1-3-1.2-3 0.4-3-1.2-3 0.4-3 0.2-3-0.8-3 2.2-3 0.5-3 1.8-3 2.1-3 1.2-3 1.4-3 1.6-3 0.3-3 2-3-0.2-3 0.3-3-0.9-3-0.1-3 0.6-3-0.2-3-0.1-3 0.9-3-0.1-3 1.7-3M576.7 257.0l0.9-3 1.5-3 0.6-3 1-3 1.3-3 0-3-0.3-3-0.1-3 0.9-3 1-3 0.8-3 1.2-3 1.9-3 1.5-3 1.7-3 1-3 1.2-3-0.3-3 1.1-3 0.4-3-0.5-3 0.3-3-0.3-3-0.3-3 1.1-3 0.5-3 0.5-3 1.7-3 0.4-3 1.9-3 1.8-3 0.3-3 0.9-3 2.2-3 0.2-3 0.3-3-0.3-3 0.1-3 1.2-3-1.6-3-1-3 0.6-3 2.3-3-0.1-3 1.4-3 0.3-3 2-3 2-3M577.3 284.0l2.7-3 1.9-3 3.9-3 4.1-3 1-3 3.1-3 2.5-3 1.5-3 0.9-3 0.3-3 1.1-3-0.1-3 0.9-3 1.3-3 1.4-3 2.4-3 1.9-3 0.3-3 1.9-3 1.5-3 1.4-3 0.1-3 1.3-3 0.6-3-0.7-3 0.2-3-0.1-3-1.1-3 0.7-3 0.9-3 1.4-3 0.2-3 0.8-3 1.5-3 2.2-3 0.4-3 1.5-3 1.1-3-0.1-3 0.2-3 0.8-3-0.1-3 0.5-3-2-3 0.9-3 0.1-3-0.8-3 2.4-3 0.3-3 1.4-3 1.2-3 0.2-3 2.6-3 2-3 0.1-3 1.5-3 0.2-3M575.4 314.0l1.2-3 0.9-3 2.7-3 1.6-3 1.4-3 4.5-3 3.2-3 2.8-3 3.6-3 3.1-3 1.8-3 2.5-3 1.6-3 1.1-3 2.2-3-0.1-3 1.8-3 1-3 1.1-3 1.6-3 1.2-3 2.1-3 1.9-3 1.7-3 3.8-3 0.6-3 2.8-3-0.7-3 1-3 0.7-3-0.7-3-0.2-3-0.5-3 0-3 0.4-3 0.6-3 1.6-3 1.4-3-0.8-3 2.9-3 0.7-3 1.7-3 1.2-3 1.1-3 1.4-3-0.3-3 0.1-3 1.8-3-2.2-3 0-3 0.1-3 1-3-0.9-3 1.7-3 1.3-3 1.8-3 0.5-3 2-3 1-3 2.5-3 0.8-3 0.2-3 0.6-3 0.6-3 0.8-3-0.7-3 0.8-3M582.2 317.0l1.9-3 1.7-3 1.7-3 4.1-3 1.6-3 3-3 3.4-3 4-3 2.1-3 2.8-3 2.9-3 2.7-3 1-3 2.6-3 0.6-3 1.3-3 1.6-3 0.3-3 2-3 1.5-3 2.4-3 2.4-3 2.6-3 2.1-3 2.6-3 1-3 1.1-3 1.3-3-0.4-3 1.8-3-1.1-3-0.2-3-0.2-3 1.1-3-1.3-3 0.4-3 0.5-3 0.8-3 2.3-3 1.4-3 0.6-3 1.9-3 1.2-3 0.3-3 0.7-3 1.2-3-1.2-3 0.5-3-0.8-3 0-3-0.9-3 0.5-3 0.6-3 0-3 1.4-3 2.8-3 1.6-3 1.6-3 1.4-3 1.1-3 0.8-3 0.3-3-0.1-3-0.3-3-0.6-3 1.1-3-1.8-3 1.2-3M598.2 317.0l4.1-3 1.7-3 2.9-3 1-3 3.2-3-1.1-3 3.1-3 0.9-3 2.5-3 1.5-3 3.3-3 2.4-3 3.6-3 2.2-3 3.2-3 4-3 1.6-3 3.6-3 2.6-3-0.6-3 1.1-3 2.1-3 0.4-3 1.2-3 0.5-3-0.1-3 0.5-3 0.5-3 1.7-3 2-3 1.1-3 1.3-3 2.1-3 1.6-3 2.2-3 0-3 1.1-3-0.6-3-0.5-3 0.1-3 0-3-1.3-3 1.2-3 0.2-3 2-3 0.3-3 1-3 1.9-3 1.2-3 1.4-3 1-3 1.5-3-0.1-3 0.9-3-0.4-3 0.2-3-0.6-3-0.2-3-0.4-3 1.1-3-0.5-3 0.7-3 2.2-3 1.4-3 1.1-3 1.8-3 2.9-3-0.3-3M599.8 335.0l3.2-3 2.9-3 2.9-3 1.1-3 2.2-3 0.5-3 2-3 1.2-3 1.5-3 2.3-3 2.1-3 1.2-3 3.3-3 1.3-3 5-3 2.1-3 4.3-3 2.6-3 3.1-3 3-3 2.1-3 2.2-3 1-3 1.3-3 1.3-3 1.5-3 0-3 2.5-3 0.5-3 1.7-3 1.9-3 1.8-3 4.1-3 0-3 2-3 1.6-3 0.4-3-1-3 1.8-3-1.4-3 0-3-0.3-3-0.1-3-0.3-3 1-3 0.1-3 1.7-3 1.3-3 1.9-3 1.3-3 1.8-3 1.4-3 1-3 1.4-3 0.4-3-0.6-3 0.3-3 0.3-3-0.6-3 0.5-3 0-3 0.3-3 0.7-3 0-3 3.1-3 1.9-3 0.3-3 1.8-3 1-3 1-3 0.7-3-0.1-3 0.7-3-1.1-3M600.0 359.0l1.5-3 3.9-3 1.1-3 2.6-3 0.9-3 1.7-3 1.3-3 1.3-3 0.5-3 2.8-3 1.2-3 3.3-3 1.3-3 3.7-3 2.4-3 4-3 3.6-3 2.4-3 1.6-3 3.8-3 1.8-3 1-3 1.3-3 1.5-3 1.5-3 0.6-3 3.2-3 0.1-3 3.5-3 2.4-3 2.6-3 4.5-3 1.8-3 2.7-3 2.7-3 3.2-3 0.5-3 0.4-3 0.7-3-0.4-3-0.4-3 0.1-3 0.6-3 1.4-3-0.7-3 1.7-3 0.1-3 2.1-3 1.3-3 1-3 1.5-3 0.9-3 1.8-3-0.8-3 0.7-3-0.2-3-0.9-3 0.8-3-0.6-3 0.1-3 1-3 0.9-3 1.4-3 0.7-3 1.4-3 2-3 0.8-3 1.9-3 0.4-3 2-3 0.1-3-0.2-3-0.9-3 0.4-3-0.4-3-0.6-3-0.8-3 0.8-3 1.4-3 1-3 0.9-3 1.5-3M580.7 431.0l0.4-3 0.3-3-0.1-3M599.0 386.0l3.8-3 1.9-3 3.2-3 1.7-3 2.9-3 1.9-3 1.9-3 1.1-3 1.1-3 1.2-3 2.1-3 2.4-3 1.8-3 3.2-3 2.5-3 3.8-3 3.1-3 3-3 3.3-3 2-3 3.4-3 1.2-3 1.1-3 1.1-3 2.1-3 0.3-3 2.1-3 1.7-3 3-3 2.6-3 4.1-3 2.2-3 3.2-3 3.8-3 2.1-3 3.3-3 2.1-3 1.3-3 2.8-3 1.4-3 0.9-3-0.1-3 1.5-3 2.6-3 0.7-3 0.9-3 1.2-3 2.2-3 2.3-3 2.1-3 1.8-3 1.6-3 1.2-3 0.1-3-0.4-3 0.7-3-0.4-3 0.4-3-0.1-3-1-3 0.1-3 0.9-3M581.0 545.0l1.1-3 0-3-0.8-3M580.5 518.0l1.1-3 0.5-3 1.4-3 1-3 1.4-3 1.1-3 1.4-3 0.4-3 0.2-3 0.8-3-0.3-3-0.5-3 0.6-3-1-3-0.7-3 0.2-3 0.8-3 1.2-3 0.4-3 1.1-3 1.2-3 2.6-3 1-3 1.1-3 0.4-3-0.2-3 2.1-3-0.9-3-1-3 0.4-3-1.2-3-0.1-3M598.5 416.0l2-3 2-3 2-3 2.2-3 2.3-3 3.1-3 1.9-3 2.7-3 1-3 2.2-3 1-3 1.8-3 1.6-3 1-3 1.6-3 2.9-3 2.5-3 2.5-3 3.1-3 2.7-3 4.8-3 2.2-3 2.9-3 3.4-3 1.4-3 1.7-3 1.5-3 1.9-3 0.8-3 1.6-3 1.2-3 2.8-3 0.6-3 3-3 3.1-3 3.3-3 4.2-3 2.6-3 2.3-3 4.4-3 1.6-3 3.2-3 1.1-3 2.1-3 1.4-3 1.5-3 2.3-3 2.5-3 0.8-3 2.2-3 2.3-3M597.1 575.0l-0.6-3 0.4-3-0.9-3 0.7-3-1.4-3 0.2-3-0.4-3 0.1-3 3-3 0.4-3 1.7-3 1.4-3 1-3 0.7-3 1.5-3 0-3 0.2-3-0.3-3 0.4-3-1.3-3-0.8-3 0.4-3-1-3 1.1-3-1-3 1.4-3 1.7-3 2-3 1.1-3 0.8-3 0.8-3 1.7-3-0.4-3 0.7-3 0.1-3 0.6-3-1-3-0.1-3 0.2-3 0.1-3-0.5-3 2.1-3 0.1-3 1.6-3 1.1-3 2.5-3-0.1-3 0.8-3 1.6-3 0.5-3 0.1-3 0.2-3 0.3-3-0.2-3 0.1-3 1.3-3 0.4-3 1.1-3 2.2-3 1.7-3 2.6-3 4.1-3 2.8-3 2.3-3 2.9-3 2-3 3.4-3 0.2-3 1.4-3 1.8-3 0.7-3 1.1-3 2.2-3 1.3-3 2.7-3 2.5-3 1.7-3 4.1-3 2.7-3 4.2-3 2.3-3 2-3 3.4-3 2.5-3 0.9-3 1.6-3 0.5-3 1.1-3 1.6-3 2-3 2-3 1.8-3 1.9-3 4.9-3 2.3-3 3.1-3M614.9 575.0l1.2-3 0.2-3-1.3-3 1-3-0.1-3-1.5-3-0.1-3 0.5-3 0.4-3 0.2-3 0.4-3 1.2-3 2-3 1.5-3 1.2-3 0.9-3 1.5-3-0.2-3-0.6-3 1.1-3-2.1-3 0.8-3-0.4-3-1.2-3-0.2-3-0.2-3 1.7-3 1.4-3 1-3-0.4-3 2-3 1.2-3 1.2-3 0.9-3 0.3-3 0-3 1-3-1.1-3-0.2-3 0.1-3-1.5-3 1-3-0.4-3 1.6-3 1-3 1.4-3 0.5-3 1.6-3 0.9-3 2.5-3-0.9-3 1.5-3 0.4-3-0.4-3 1.3-3 0.1-3 0.7-3 0-3 2-3 2.1-3 2.4-3 2.7-3 2.7-3 4.2-3 3.5-3 2.8-3 2.6-3 1.9-3 2-3 1.9-3 1.6-3 0.5-3 1.2-3 1.8-3 0.8-3 3-3 2.4-3 4.5-3 1.1-3 3.6-3 3.4-3 3.1-3 3.3-3 2.9-3 3.1-3 1.4-3 1.8-3M635.3 575.0l0-3 1.3-3 0.9-3 1.3-3 1.7-3-0.7-3 0.3-3-2.2-3 0.5-3-0.1-3 0.5-3 0.5-3 0.7-3 1.8-3 1.9-3-0.8-3 2.1-3 1.8-3 0.6-3 2.2-3 0.1-3 1-3 0.6-3-0.7-3-1.9-3-0.3-3-0.3-3-0.5-3-0.6-3 2.8-3 2-3 0.9-3 0.6-3 1.1-3 2.6-3 0.3-3 1.9-3-0.5-3 0.7-3-0.7-3 0.6-3-0.6-3-0.8-3-0.5-3 0.7-3-0.3-3 1.8-3 1.7-3-1.2-3 1.4-3 1.7-3 1.9-3 0.4-3 1.3-3 1.7-3 0.4-3 0.5-3 1.5-3 0.8-3 0.4-3 0.8-3 2.4-3 1.7-3 3.2-3 2.5-3 3.6-3 2.8-3 4.2-3 3.3-3 2.7-3 3.4-3 0.5-3 2.8-3 1.7-3 0.9-3 1.7-3M657.5 575.0l0.9-3-1.8-3 0-3 0.4-3 1-3-1.1-3 0.7-3 1-3 0.6-3 0.7-3 1.5-3 1.3-3 0.3-3 1.1-3 1.2-3 1.3-3 0.3-3-0.3-3-1.2-3 0.5-3 0.8-3-1.7-3 1.6-3 0.5-3 0.6-3-0.4-3 2.3-3 0.2-3 1.7-3 0.9-3 1.7-3 0.5-3 1-3 0-3-0.9-3-0.1-3 0.4-3-0.9-3 0.3-3-1.7-3-0.1-3 1.7-3-0.1-3 2.9-3 1.1-3 1.8-3 1.7-3 1.1-3 2.3-3 0.3-3 0.1-3 0.6-3 0-3 0.3-3-0.2-3 0.5-3 0.5-3 1.7-3 2.5-3 2-3 1.7-3 4.6-3 3-3 3.9-3 1.3-3 2.7-3M676.2 575.0l-0.9-3-0.3-3-0.6-3 0-3-0.2-3 0.7-3 2.5-3-0.2-3 1.9-3 0.9-3 2.1-3 1.4-3 0.4-3 0-3 0.2-3-0.4-3-0.9-3-0.4-3 0.6-3 0.3-3 0.3-3-0.2-3 1.1-3 1.2-3 0.6-3 2-3 1.3-3 1-3 0.3-3 1.5-3 0-3 0.3-3-0.3-3-1.6-3 0-3 0.2-3-0.3-3 1.6-3-0.7-3 2.2-3 1.3-3 1.3-3 1.7-3 0.9-3 1-3 1.7-3 0.5-3 0.5-3 1-3-1.1-3 0.1-3-1.6-3 1.5-3-0.9-3 2.2-3 0.7-3 1-3 3-3 2.1-3M694.2 575.0l0.1-3 2.8-3 0.4-3 2.3-3 0.1-3 2-3 0-3-0.3-3-0.4-3 0.2-3-0.5-3 0.1-3-0.5-3-0.6-3 0.5-3 2.1-3 0.6-3 1.2-3 1.8-3 1.6-3 1.5-3 1.4-3 0.2-3 0.6-3-1-3 0.4-3-1.9-3 1.1-3-0.6-3 0.4-3 0.3-3" fill="none" stroke="#000" stroke-width="0.9"/></g><path d="M206.0 112.0l-0.5 5.3-0.7 7.4-0.8 8.8-0.9 9.3-1 9.1-1.1 8.1-1.2 7.4-1.4 7.5-1.4 7.2-1.4 6.7-1.4 6.1-1.2 5.1-1.1 4.1-1 3.3-0.9 2.6-0.8 2-0.7 1.7-0.5 1.3M221.0 112.0l-0.2 6.4-0.3 8.9-0.4 10.5-0.5 11.2-0.7 11-0.9 10-1.3 9.2-1.6 9-1.7 8.9-1.9 8.7-1.8 8.3-1.7 7.9-1.5 7.6-1.5 7.3-1.5 6.9-1.5 6.6-1.5 6.1-1.5 5.5-1.7 5.1-1.9 4.7-2 4.2-1.8 3.7-1.5 3-1.1 2.3M262.0 436.0l-1.2 0.7-1.6 0.8-2 1.1-2 1.2-1.8 1.5-1.4 1.7-1 1.9-0.9 2.2-0.7 2.5-0.5 2.5-0.3 2.7-0.1 2.8 0.2 2.9 0.4 2.9 0.6 3.2 0.8 3.2 0.7 3.3 0.8 3.4 0.8 3.7 1 4 1 4 0.9 4 0.8 3.7 0.5 3.1 0.1 2.5-0.3 1.9-0.5 1.6-0.4 1.5-0.2 1.6 0.3 1.9 0.7 2.2 1.1 2.4 1.3 2.5 1.4 2.6 1.5 2.6 1.5 2.7 1.5 2.8 1.5 3 1.7 3 1.6 3 1.6 2.7 1.6 2.5 1.5 2.1 1.3 1.7 1.4 1.6 1.4 1.5 1.6 1.5 1.8 1.6 2.2 1.8 2.6 1.9 2.8 2 2.7 1.9 2.5 1.8 2.2 1.6 1.8 1.5 1.7 1.4 1.4 1.3 1.3 1.1 1 1 0.8 0.7" fill="none" stroke="#000" stroke-width="1.25"/><path d="M195.0,119.0L192.4,102.7M192.8,105.2l2.5,-2.4M208.2,119.0L201.5,103.9M202.5,106.2l1.8,-3.0M221.4,119.0L213.7,104.4M214.8,106.6l1.6,-3.1M234.6,119.0L230.1,103.1M230.8,105.5l2.2,-2.7M247.8,119.0L255.3,104.3M254.2,106.5l3.5,-0.5M261.0,119.0L260.9,102.5M260.9,105.0l2.9,-2.0M274.2,119.0L274.1,102.5M274.1,105.0l2.9,-2.0M287.4,119.0L288.0,102.5M287.9,105.0l2.9,-1.9M300.6,119.0L292.9,133.6M294.1,131.4l-3.5,0.4M313.8,119.0L326.3,129.7M324.4,128.1l-0.3,3.5M327.0,119.0L343.1,115.6M340.7,116.1l2.6,2.4M340.2,119.0L327.9,130.0M329.7,128.3l-3.4,-0.8M353.4,119.0L369.9,118.9M367.4,118.9l2.0,2.9M366.6,119.0L352.8,110.0M354.9,111.3l-0.1,-3.5M379.8,119.0L367.5,108.0M369.3,109.7l0.4,-3.5M393.0,119.0L407.4,110.9M405.2,112.1l3.2,1.5M406.2,119.0L412.5,134.3M411.5,132.0l-1.9,2.9M419.4,119.0L405.3,110.4M407.5,111.7l-0.2,-3.5M432.6,119.0L443.6,106.7M441.9,108.6l3.5,0.4M445.8,119.0L451.3,103.4M450.5,105.8l3.4,-0.9M459.0,119.0L453.6,103.4M454.4,105.8l2.1,-2.8M472.2,119.0L479.3,104.1M478.2,106.3l3.5,-0.6M485.4,119.0L482.4,135.2M482.9,132.8l-3.2,1.5M498.6,119.0L488.3,131.9M489.9,130.0l-3.5,-0.2M511.8,119.0L506.8,134.7M507.5,132.3l-3.3,1.0M525.0,119.0L541.1,122.5M538.7,121.9l1.4,3.2M538.2,119.0L544.1,134.4M543.2,132.1l-2.0,2.9M551.4,119.0L535.3,115.5M537.7,116.0l-1.4,-3.2M564.6,119.0L557.4,104.2M558.5,106.4l1.7,-3.1M577.8,119.0L588.4,106.4M586.8,108.3l3.5,0.3M591.0,119.0L597.0,103.6M596.1,106.0l3.4,-0.8M604.2,119.0L609.7,103.4M608.8,105.8l3.4,-0.9M617.4,119.0L625.7,104.8M624.5,106.9l3.5,-0.3M630.6,119.0L638.3,104.4M637.2,106.6l3.5,-0.4M643.8,119.0L654.7,106.7M653.1,108.5l3.5,0.4M657.0,119.0L668.8,107.5M667.0,109.2l3.4,0.6M670.2,119.0L675.3,103.3M674.6,105.7l3.3,-1.0M683.4,119.0L693.5,106.0M692.0,108.0l3.5,0.2M696.6,119.0L704.2,104.3M703.0,106.6l3.5,-0.5M195.0,132.2L189.2,116.7M190.1,119.1l2.0,-2.9M208.2,132.2L205.0,116.0M205.5,118.5l2.4,-2.5M221.4,132.2L220.0,115.8M220.2,118.3l2.7,-2.2M234.6,132.2L229.4,116.5M230.2,118.9l2.1,-2.8M247.8,132.2L233.0,139.4M235.2,138.3l-3.1,-1.7M261.0,132.2L253.6,117.5M254.7,119.7l1.7,-3.1M274.2,132.2L260.8,122.6M262.8,124.0l0.0,-3.5M287.4,132.2L281.8,147.7M282.7,145.4l-3.4,0.9M300.6,132.2L315.8,125.9M313.5,126.8l3.0,1.9M313.8,132.2L308.0,116.8M308.9,119.1l2.0,-2.9M327.0,132.2L337.0,119.1M335.5,121.1l3.5,0.1M340.2,132.2L333.3,117.2M334.3,119.5l1.8,-3.0M353.4,132.2L357.2,148.3M356.6,145.8l-2.3,2.6M366.6,132.2L379.8,122.3M377.8,123.8l3.3,1.1M379.8,132.2L380.8,115.7M380.6,118.2l3.0,-1.8M393.0,132.2L377.4,137.7M379.8,136.8l-2.8,-2.0M406.2,132.2L392.0,140.6M394.1,139.3l-3.2,-1.4M419.4,132.2L415.9,116.1M416.5,118.5l2.4,-2.6M432.6,132.2L440.2,117.5M439.0,119.8l3.5,-0.5M445.8,132.2L432.6,142.1M434.6,140.6l-3.3,-1.1M459.0,132.2L475.1,128.6M472.7,129.2l2.6,2.4M472.2,132.2L475.1,148.4M474.7,146.0l-2.5,2.5M485.4,132.2L476.9,118.1M478.1,120.2l1.4,-3.2M498.6,132.2L484.0,139.9M486.2,138.7l-3.1,-1.6M511.8,132.2L519.5,146.8M518.3,144.6l-1.6,3.1M525.0,132.2L540.9,136.6M538.5,135.9l1.2,3.3M538.2,132.2L522.0,135.3M524.4,134.8l-2.5,-2.4M551.4,132.2L545.3,147.5M546.2,145.2l-3.4,0.8M564.6,132.2L572.1,146.9M571.0,144.7l-1.6,3.1M577.8,132.2L586.4,118.1M585.1,120.2l3.5,-0.2M591.0,132.2L595.6,116.4M594.9,118.8l3.3,-1.1M604.2,132.2L615.0,119.7M613.3,121.6l3.5,0.4M617.4,132.2L625.2,117.7M624.0,119.9l3.5,-0.4M630.6,132.2L638.3,117.6M637.2,119.8l3.5,-0.4M643.8,132.2L654.0,119.2M652.5,121.2l3.5,0.2M657.0,132.2L666.0,118.4M664.6,120.5l3.5,-0.1M670.2,132.2L675.8,116.7M674.9,119.0l3.4,-0.9M683.4,132.2L690.8,117.5M689.7,119.7l3.5,-0.5M696.6,132.2L701.6,116.5M700.9,118.9l3.3,-1.0M195.0,145.4L190.0,129.7M190.8,132.1l2.1,-2.8M208.2,145.4L205.9,129.1M206.2,131.5l2.6,-2.4M221.4,145.4L215.6,130.0M216.5,132.3l2.0,-2.9M234.6,145.4L229.6,129.7M230.4,132.0l2.1,-2.8M247.8,145.4L243.3,161.3M244.0,158.9l-3.3,1.1M261.0,145.4L249.6,133.5M251.3,135.3l0.7,-3.4M274.2,145.4L267.9,130.2M268.8,132.5l1.9,-3.0M287.4,145.4L299.5,134.2M297.7,135.9l3.4,0.7M300.6,145.4L284.4,148.8M286.9,148.3l-2.5,-2.4M313.8,145.4L327.4,154.8M325.3,153.4l0.0,3.5M327.0,145.4L321.3,129.9M322.2,132.3l2.0,-2.9M340.2,145.4L333.3,130.4M334.3,132.7l1.8,-3.0M353.4,145.4L365.7,134.4M363.8,136.0l3.4,0.8M366.6,145.4L355.1,133.6M356.8,135.4l0.7,-3.4M379.8,145.4L377.5,129.1M377.8,131.5l2.6,-2.4M393.0,145.4L376.8,142.1M379.3,142.6l-1.4,-3.2M406.2,145.4L419.5,155.2M417.5,153.7l-0.1,3.5M419.4,145.4L432.0,156.0M430.1,154.4l-0.3,3.5M432.6,145.4L444.5,156.8M442.7,155.1l-0.5,3.5M445.8,145.4L432.1,154.7M434.2,153.3l-3.3,-1.2M459.0,145.4L463.0,129.4M462.4,131.8l3.3,-1.2M472.2,145.4L455.8,146.8M458.3,146.6l-2.2,-2.7M485.4,145.4L469.2,142.1M471.7,142.6l-1.4,-3.2M498.6,145.4L486.2,134.6M488.0,136.2l0.4,-3.5M511.8,145.4L527.0,139.1M524.7,140.0l3.0,1.9M525.0,145.4L524.8,161.9M524.8,159.4l-2.9,2.0M538.2,145.4L528.3,132.2M529.8,134.2l1.1,-3.3M551.4,145.4L551.1,161.9M551.1,159.4l-2.9,1.9M564.6,145.4L549.6,152.2M551.9,151.2l-3.0,-1.8M577.8,145.4L585.3,130.7M584.1,132.9l3.5,-0.5M591.0,145.4L600.0,131.6M598.6,133.7l3.5,-0.1M604.2,145.4L612.9,131.4M611.6,133.5l3.5,-0.2M617.4,145.4L623.6,130.1M622.7,132.4l3.4,-0.8M630.6,145.4L638.6,131.0M637.4,133.2l3.5,-0.4M643.8,145.4L654.0,132.4M652.4,134.4l3.5,0.2M657.0,145.4L664.3,130.6M663.2,132.9l3.5,-0.5M670.2,145.4L676.2,130.0M675.3,132.4l3.4,-0.8M683.4,145.4L691.3,130.9M690.1,133.1l3.5,-0.4M696.6,145.4L701.6,129.7M700.9,132.1l3.3,-1.0M195.0,158.6L193.4,142.2M193.6,144.7l2.7,-2.3M208.2,158.6L197.0,146.5M198.7,148.3l0.7,-3.4M221.4,158.6L217.0,142.7M217.6,145.1l2.2,-2.7M234.6,158.6L230.5,142.6M231.1,145.0l2.3,-2.7M247.8,158.6L255.6,173.1M254.4,170.9l-1.6,3.1M261.0,158.6L244.5,159.5M247.0,159.4l-2.2,-2.8M274.2,158.6L269.6,174.5M270.3,172.1l-3.3,1.1M287.4,158.6L300.9,168.1M298.9,166.6l-0.0,3.5M300.6,158.6L285.6,151.6M287.9,152.7l-0.6,-3.4M313.8,158.6L297.5,161.4M300.0,161.0l-2.5,-2.5M327.0,158.6L343.4,157.0M340.9,157.2l2.3,2.7M340.2,158.6L327.2,168.7M329.2,167.2l-3.3,-1.0M353.4,158.6L369.2,163.4M366.8,162.7l1.1,3.3M366.6,158.6L352.1,166.5M354.3,165.3l-3.1,-1.6M379.8,158.6L386.0,173.9M385.1,171.6l-1.9,2.9M393.0,158.6L409.3,156.3M406.9,156.6l2.4,2.6M406.2,158.6L422.0,153.7M419.6,154.4l2.8,2.1M419.4,158.6L433.4,167.3M431.3,166.0l0.2,3.5M432.6,158.6L444.3,170.2M442.5,168.5l-0.6,3.4M445.8,158.6L429.3,158.5M431.8,158.5l-2.0,-2.9M459.0,158.6L445.3,149.4M447.4,150.8l-0.1,-3.5M472.2,158.6L486.6,150.5M484.4,151.7l3.2,1.5M485.4,158.6L491.8,143.4M490.9,145.7l3.4,-0.7M498.6,158.6L489.8,172.6M491.1,170.4l-3.5,0.2M511.8,158.6L526.1,150.4M523.9,151.6l3.2,1.5M525.0,158.6L538.1,168.6M536.1,167.1l-0.1,3.5M538.2,158.6L551.5,168.3M549.5,166.9l-0.1,3.5M551.4,158.6L556.7,143.0M555.9,145.3l3.4,-1.0M564.6,158.6L548.4,155.7M550.8,156.1l-1.5,-3.2M577.8,158.6L594.1,160.8M591.7,160.5l1.6,3.1M591.0,158.6L600.3,144.9M598.8,147.0l3.5,-0.1M604.2,158.6L612.9,144.6M611.6,146.7l3.5,-0.2M617.4,158.6L626.3,144.7M625.0,146.8l3.5,-0.1M630.6,158.6L636.5,143.2M635.6,145.5l3.4,-0.8M643.8,158.6L654.4,146.0M652.8,147.9l3.5,0.3M657.0,158.6L664.4,143.9M663.3,146.1l3.5,-0.5M670.2,158.6L681.2,146.3M679.5,148.2l3.5,0.4M683.4,158.6L689.4,143.2M688.5,145.6l3.4,-0.8M696.6,158.6L705.0,144.4M703.7,146.6l3.5,-0.3M195.0,171.8L192.0,155.6M192.4,158.0l2.5,-2.5M208.2,171.8L203.8,155.9M204.4,158.3l2.2,-2.7M221.4,171.8L216.9,155.9M217.6,158.3l2.2,-2.7M234.6,171.8L230.1,155.9M230.8,158.3l2.2,-2.7M247.8,171.8L263.6,167.0M261.2,167.7l2.8,2.2M261.0,171.8L245.2,166.9M247.6,167.7l-1.1,-3.3M274.2,171.8L268.7,156.2M269.6,158.6l2.0,-2.8M287.4,171.8L276.2,183.9M277.9,182.1l-3.5,-0.5M300.6,171.8L312.8,182.9M311.0,181.2l-0.4,3.5M313.8,171.8L304.6,158.1M306.0,160.2l1.3,-3.3M327.0,171.8L333.7,186.9M332.6,184.6l-1.8,3.0M340.2,171.8L344.2,187.8M343.6,185.4l-2.3,2.6M353.4,171.8L347.8,156.3M348.7,158.6l2.0,-2.9M366.6,171.8L360.4,156.5M361.3,158.8l1.9,-2.9M379.8,171.8L389.8,158.7M388.3,160.7l3.5,0.2M393.0,171.8L392.1,155.3M392.2,157.8l2.8,-2.2M406.2,171.8L412.8,156.7M411.8,159.0l3.4,-0.7M419.4,171.8L428.5,158.0M427.1,160.1l3.5,-0.1M432.6,171.8L446.3,162.6M444.2,164.0l3.3,1.3M445.8,171.8L431.4,163.8M433.6,165.0l-0.4,-3.5M459.0,171.8L471.1,183.1M469.2,181.4l-0.5,3.5M472.2,171.8L477.0,156.0M476.3,158.4l3.3,-1.1M485.4,171.8L471.1,163.6M473.3,164.8l-0.3,-3.5M498.6,171.8L492.5,187.1M493.4,184.8l-3.4,0.8M511.8,171.8L518.1,187.0M517.2,184.7l-1.9,3.0M525.0,171.8L509.1,167.5M511.5,168.1l-1.2,-3.3M538.2,171.8L554.7,171.9M552.2,171.9l2.0,2.9M551.4,171.8L536.6,179.0M538.8,177.9l-3.1,-1.7M564.6,171.8L576.1,183.6M574.3,181.8l-0.7,3.4M577.8,171.8L561.3,172.1M563.8,172.0l-2.1,-2.8M591.0,171.8L600.7,158.5M599.3,160.5l3.5,0.1M604.2,171.8L614.3,158.8M612.8,160.8l3.5,0.2M617.4,171.8L625.9,157.6M624.6,159.8l3.5,-0.3M630.6,171.8L640.5,158.6M639.0,160.6l3.5,0.1M643.8,171.8L649.3,156.2M648.4,158.6l3.4,-0.9M657.0,171.8L664.8,157.3M663.6,159.5l3.5,-0.4M670.2,171.8L681.1,159.4M679.4,161.3l3.5,0.4M683.4,171.8L689.7,156.5M688.7,158.9l3.4,-0.8M696.6,171.8L707.5,159.4M705.8,161.3l3.5,0.4M195.0,185.0L192.1,168.8M192.6,171.2l2.5,-2.5M208.2,185.0L204.9,168.8M205.4,171.3l2.4,-2.5M221.4,185.0L222.5,168.5M222.3,171.0l3.0,-1.8M234.6,185.0L230.8,168.9M231.4,171.4l2.3,-2.6M247.8,185.0L249.6,168.6M249.3,171.1l3.1,-1.7M261.0,185.0L244.5,184.6M247.0,184.7l-1.9,-2.9M274.2,185.0L263.5,197.5M265.1,195.6l-3.5,-0.3M287.4,185.0L303.7,182.2M301.2,182.6l2.5,2.5M300.6,185.0L317.0,186.3M314.6,186.1l1.8,3.0M313.8,185.0L300.5,194.8M302.5,193.3l-3.3,-1.1M327.0,185.0L328.1,201.5M327.9,199.0l-2.7,2.2M340.2,185.0L356.6,183.5M354.1,183.7l2.3,2.7M353.4,185.0L360.3,170.0M359.3,172.3l3.4,-0.6M366.6,185.0L359.1,199.7M360.2,197.5l-3.5,0.5M379.8,185.0L380.2,168.5M380.2,171.0l2.9,-1.9M393.0,185.0L376.6,183.4M379.1,183.6l-1.7,-3.1M406.2,185.0L390.4,180.4M392.8,181.1l-1.1,-3.3M419.4,185.0L412.9,169.8M413.9,172.1l1.9,-3.0M432.6,185.0L435.0,201.3M434.6,198.9l-2.5,2.4M445.8,185.0L459.8,193.7M457.7,192.4l0.2,3.5M459.0,185.0L475.4,187.0M472.9,186.7l1.7,3.1M472.2,185.0L482.7,172.3M481.1,174.2l3.5,0.3M485.4,185.0L501.9,184.5M499.4,184.6l2.1,2.8M498.6,185.0L501.3,168.7M500.9,171.2l3.2,-1.5M511.8,185.0L499.5,174.0M501.3,175.7l0.4,-3.5M525.0,185.0L540.2,191.4M537.9,190.5l0.7,3.4M538.2,185.0L550.9,195.5M549.0,193.9l-0.3,3.5M551.4,185.0L538.9,174.3M540.8,175.9l0.3,-3.5M564.6,185.0L550.0,192.7M552.2,191.6l-3.1,-1.6M577.8,185.0L577.1,168.5M577.2,171.0l2.8,-2.1M591.0,185.0L602.8,173.5M601.0,175.2l3.4,0.7M604.2,185.0L616.6,174.1M614.7,175.8l3.4,0.8M617.4,185.0L627.1,171.7M625.6,173.7l3.5,0.1M630.6,185.0L639.7,171.3M638.4,173.3l3.5,-0.1M643.8,185.0L650.7,170.0M649.6,172.3l3.4,-0.6M657.0,185.0L665.9,171.1M664.5,173.2l3.5,-0.2M670.2,185.0L679.3,171.3M678.0,173.3l3.5,-0.1M683.4,185.0L692.6,171.3M691.2,173.4l3.5,-0.1M696.6,185.0L704.8,170.7M703.5,172.8l3.5,-0.3M195.0,198.2L186.8,183.9M188.1,186.0l1.5,-3.2M208.2,198.2L201.8,183.0M202.7,185.3l1.9,-3.0M221.4,198.2L214.3,183.3M215.3,185.6l1.7,-3.1M234.6,198.2L229.6,182.5M230.3,184.9l2.1,-2.8M247.8,198.2L250.0,214.6M249.6,212.1l-2.6,2.4M261.0,198.2L246.5,206.0M248.7,204.8l-3.1,-1.6M274.2,198.2L273.8,181.7M273.9,184.2l2.8,-2.1M287.4,198.2L288.5,181.7M288.3,184.2l3.0,-1.8M300.6,198.2L307.2,183.1M306.2,185.4l3.4,-0.7M313.8,198.2L321.0,183.3M319.9,185.6l3.5,-0.6M327.0,198.2L312.4,206.0M314.6,204.8l-3.1,-1.6M340.2,198.2L342.1,214.6M341.8,212.1l-2.6,2.3M353.4,198.2L340.3,188.2M342.3,189.7l0.1,-3.5M366.6,198.2L350.4,201.2M352.8,200.8l-2.5,-2.5M379.8,198.2L372.1,183.6M373.3,185.8l1.6,-3.1M393.0,198.2L382.2,185.7M383.9,187.6l0.9,-3.4M406.2,198.2L422.7,197.7M420.2,197.7l2.1,2.8M419.4,198.2L433.8,206.2M431.6,205.0l0.4,3.5M432.6,198.2L442.8,185.2M441.2,187.2l3.5,0.2M445.8,198.2L439.7,213.5M440.6,211.2l-3.4,0.8M459.0,198.2L474.2,204.6M471.9,203.6l0.7,3.4M472.2,198.2L464.0,183.9M465.3,186.0l1.5,-3.2M485.4,198.2L479.8,182.7M480.7,185.0l2.0,-2.9M498.6,198.2L484.5,206.7M486.6,205.4l-3.2,-1.4M511.8,198.2L501.4,185.4M503.0,187.3l1.0,-3.4M525.0,198.2L535.6,185.6M534.0,187.5l3.5,0.3M538.2,198.2L554.7,196.9M552.2,197.1l2.2,2.7M551.4,198.2L545.9,182.6M546.7,185.0l2.0,-2.8M564.6,198.2L556.3,212.4M557.5,210.3l-3.5,0.3M577.8,198.2L563.8,189.4M565.9,190.8l-0.2,-3.5M591.0,198.2L598.9,183.7M597.7,185.9l3.5,-0.4M604.2,198.2L616.0,186.7M614.2,188.4l3.4,0.7M617.4,198.2L626.5,184.4M625.1,186.5l3.5,-0.1M630.6,198.2L638.8,183.9M637.6,186.1l3.5,-0.3M643.8,198.2L654.2,185.4M652.6,187.3l3.5,0.2M657.0,198.2L662.7,182.7M661.9,185.1l3.4,-0.9M670.2,198.2L674.8,182.3M674.1,184.7l3.3,-1.1M683.4,198.2L693.8,185.4M692.2,187.3l3.5,0.2M696.6,198.2L705.7,184.4M704.3,186.5l3.5,-0.1M195.0,211.4L194.5,194.9M194.6,197.4l2.8,-2.1M208.2,211.4L196.2,200.1M198.0,201.8l0.5,-3.5M221.4,211.4L211.5,198.2M213.0,200.2l1.1,-3.3M234.6,211.4L229.1,195.8M229.9,198.2l2.0,-2.8M247.8,211.4L232.3,205.8M234.6,206.6l-0.9,-3.4M261.0,211.4L277.3,209.0M274.9,209.4l2.4,2.5M274.2,211.4L264.1,224.5M265.7,222.5l-3.5,-0.2M287.4,211.4L302.4,218.4M300.1,217.3l0.6,3.4M300.6,211.4L306.1,195.9M305.3,198.2l3.4,-0.9M313.8,211.4L314.6,227.9M314.5,225.4l-2.8,2.1M327.0,211.4L314.9,222.6M316.7,220.9l-3.4,-0.7M340.2,211.4L353.6,221.1M351.5,219.6l-0.1,3.5M353.4,211.4L365.5,200.1M363.6,201.8l3.4,0.7M366.6,211.4L368.8,227.8M368.4,225.3l-2.6,2.4M379.8,211.4L378.5,227.9M378.7,225.4l-3.0,1.8M393.0,211.4L394.8,195.0M394.5,197.5l3.1,-1.7M406.2,211.4L413.1,226.4M412.1,224.1l-1.8,3.0M419.4,211.4L431.5,222.6M429.7,220.9l-0.5,3.5M432.6,211.4L426.8,226.8M427.7,224.5l-3.4,0.9M445.8,211.4L432.9,221.6M434.8,220.1l-3.4,-1.0M459.0,211.4L474.2,205.0M471.9,205.9l3.0,1.9M472.2,211.4L480.8,225.5M479.5,223.4l-1.4,3.2M485.4,211.4L468.9,210.8M471.4,210.9l-1.9,-2.9M498.6,211.4L486.7,200.0M488.5,201.7l0.5,-3.5M511.8,211.4L526.2,219.5M524.0,218.3l0.3,3.5M525.0,211.4L534.0,197.6M532.7,199.7l3.5,-0.1M538.2,211.4L522.0,208.4M524.4,208.8l-1.4,-3.2M551.4,211.4L567.8,209.4M565.3,209.7l2.3,2.6M564.6,211.4L577.7,201.4M575.7,202.9l3.3,1.1M577.8,211.4L575.7,195.0M576.1,197.5l2.6,-2.3M591.0,211.4L594.3,195.2M593.8,197.7l3.2,-1.4M604.2,211.4L610.4,196.1M609.5,198.4l3.4,-0.8M617.4,211.4L622.5,195.7M621.7,198.1l3.3,-1.0M630.6,211.4L641.4,198.9M639.8,200.8l3.5,0.4M643.8,211.4L653.7,198.2M652.2,200.2l3.5,0.1M657.0,211.4L665.6,197.3M664.3,199.4l3.5,-0.2M670.2,211.4L674.7,195.5M674.0,197.9l3.3,-1.1M683.4,211.4L689.8,196.2M688.8,198.5l3.4,-0.7M696.6,211.4L706.7,198.4M705.2,200.3l3.5,0.2M195.0,224.6L187.9,209.7M189.0,211.9l1.7,-3.0M208.2,224.6L203.9,208.7M204.6,211.1l2.2,-2.7M221.4,224.6L216.0,209.0M216.8,211.4l2.1,-2.8M234.6,224.6L242.6,239.0M241.4,236.8l-1.5,3.1M247.8,224.6L252.5,240.4M251.8,238.0l-2.2,2.7M261.0,224.6L245.8,231.0M248.1,230.1l-3.0,-1.9M274.2,224.6L257.9,227.3M260.4,226.9l-2.4,-2.5M287.4,224.6L299.7,235.6M297.9,233.9l-0.4,3.5M300.6,224.6L284.1,225.5M286.6,225.4l-2.2,-2.7M313.8,224.6L297.5,222.1M300.0,222.5l-1.6,-3.1M327.0,224.6L342.5,230.1M340.2,229.3l0.9,3.4M340.2,224.6L355.2,217.8M352.9,218.8l3.0,1.8M353.4,224.6L356.2,208.3M355.7,210.8l3.2,-1.5M366.6,224.6L369.5,208.4M369.1,210.8l3.2,-1.5M379.8,224.6L367.7,213.4M369.5,215.1l0.5,-3.5M393.0,224.6L379.4,233.9M381.4,232.5l-3.3,-1.2M406.2,224.6L400.6,240.1M401.4,237.8l-3.4,0.9M419.4,224.6L422.0,240.9M421.6,238.4l-2.5,2.4M432.6,224.6L421.0,236.3M422.7,234.5l-3.4,-0.6M445.8,224.6L430.0,229.4M432.4,228.7l-2.8,-2.2M459.0,224.6L455.3,240.7M455.9,238.2l-3.2,1.3M472.2,224.6L455.9,222.0M458.4,222.4l-1.5,-3.1M485.4,224.6L471.5,215.7M473.6,217.0l-0.1,-3.5M498.6,224.6L495.1,240.7M495.6,238.3l-3.2,1.3M511.8,224.6L495.6,227.6M498.0,227.1l-2.5,-2.5M525.0,224.6L524.5,241.1M524.6,238.6l-2.9,1.9M538.2,224.6L522.6,230.0M525.0,229.2l-2.8,-2.1M551.4,224.6L551.4,241.1M551.4,238.6l-2.9,2.0M564.6,224.6L551.2,215.0M553.2,216.4l0.0,-3.5M577.8,224.6L561.6,227.6M564.0,227.1l-2.5,-2.5M591.0,224.6L599.4,210.4M598.2,212.6l3.5,-0.3M604.2,224.6L610.5,209.4M609.6,211.7l3.4,-0.8M617.4,224.6L625.9,210.5M624.6,212.6l3.5,-0.2M630.6,224.6L633.4,208.3M633.0,210.8l3.2,-1.5M643.8,224.6L654.4,212.0M652.8,213.9l3.5,0.3M657.0,224.6L667.7,212.0M666.1,214.0l3.5,0.3M670.2,224.6L675.0,208.8M674.2,211.2l3.3,-1.1M683.4,224.6L693.9,211.9M692.3,213.8l3.5,0.3M696.6,224.6L702.3,209.1M701.5,211.5l3.4,-0.9M195.0,237.8L185.4,224.4M186.8,226.4l1.2,-3.3M208.2,237.8L203.7,221.9M204.3,224.3l2.2,-2.7M221.4,237.8L215.4,222.4M216.3,224.8l1.9,-2.9M234.6,237.8L219.7,244.9M222.0,243.8l-3.0,-1.7M247.8,237.8L247.4,254.3M247.5,251.8l-2.9,1.9M261.0,237.8L276.4,232.0M274.1,232.8l2.9,2.0M274.2,237.8L265.9,252.1M267.1,249.9l-3.5,0.3M287.4,237.8L272.7,245.3M274.9,244.2l-3.1,-1.6M300.6,237.8L314.8,246.1M312.7,244.9l0.3,3.5M313.8,237.8L315.9,254.2M315.6,251.7l-2.6,2.4M327.0,237.8L312.5,245.6M314.7,244.4l-3.1,-1.6M340.2,237.8L336.9,254.0M337.4,251.5l-3.2,1.4M353.4,237.8L349.3,221.8M349.9,224.2l2.3,-2.7M366.6,237.8L350.5,241.5M353.0,241.0l-2.6,-2.3M379.8,237.8L363.4,236.4M365.9,236.6l-1.7,-3.0M393.0,237.8L381.8,225.7M383.5,227.5l0.7,-3.4M406.2,237.8L398.3,223.3M399.5,225.5l1.6,-3.1M419.4,237.8L404.4,244.8M406.7,243.7l-3.0,-1.8M432.6,237.8L449.0,236.4M446.5,236.6l2.2,2.7M445.8,237.8L461.9,234.4M459.5,234.9l2.6,2.4M459.0,237.8L474.7,232.6M472.3,233.4l2.8,2.1M472.2,237.8L482.9,250.4M481.3,248.5l-0.9,3.4M485.4,237.8L487.7,221.5M487.4,223.9l3.1,-1.6M498.6,237.8L493.1,222.3M493.9,224.6l2.0,-2.9M511.8,237.8L503.9,252.3M505.1,250.1l-3.5,0.4M525.0,237.8L518.9,253.1M519.8,250.8l-3.4,0.8M538.2,237.8L525.5,227.2M527.4,228.8l0.3,-3.5M551.4,237.8L535.0,240.0M537.5,239.6l-2.4,-2.6M564.6,237.8L553.1,249.6M554.8,247.8l-3.5,-0.6M577.8,237.8L590.8,248.0M588.8,246.4l-0.2,3.5M591.0,237.8L598.4,223.0M597.3,225.3l3.5,-0.5M604.2,237.8L612.6,223.6M611.4,225.8l3.5,-0.3M617.4,237.8L628.0,225.2M626.4,227.1l3.5,0.3M630.6,237.8L640.4,224.6M639.0,226.6l3.5,0.1M643.8,237.8L653.8,224.7M652.3,226.7l3.5,0.1M657.0,237.8L662.8,222.4M661.9,224.7l3.4,-0.9M670.2,237.8L682.4,226.7M680.6,228.4l3.4,0.8M683.4,237.8L697.3,228.9M695.2,230.3l3.2,1.3M696.6,237.8L706.4,224.5M704.9,226.5l3.5,0.1M195.0,251.0L195.1,234.5M195.1,237.0l2.9,-2.0M208.2,251.0L204.2,235.0M204.8,237.4l2.3,-2.6M221.4,251.0L215.9,235.5M216.7,237.8l2.0,-2.9M234.6,251.0L218.5,247.4M220.9,247.9l-1.3,-3.2M247.8,251.0L261.5,241.9M259.5,243.2l3.3,1.3M261.0,251.0L277.0,255.0M274.6,254.4l1.3,3.3M274.2,251.0L280.4,266.3M279.5,264.0l-1.9,2.9M287.4,251.0L298.7,263.1M297.0,261.2l-0.7,3.4M300.6,251.0L291.1,264.5M292.5,262.4l-3.5,-0.0M313.8,251.0L328.9,257.7M326.6,256.7l0.7,3.4M327.0,251.0L339.8,240.6M337.9,242.2l3.4,1.0M340.2,251.0L332.4,236.5M333.6,238.7l1.6,-3.1M353.4,251.0L354.1,234.5M354.0,237.0l3.0,-1.9M366.6,251.0L355.9,238.4M357.5,240.3l0.9,-3.4M379.8,251.0L365.2,258.6M367.4,257.5l-3.1,-1.6M393.0,251.0L405.0,239.7M403.2,241.4l3.4,0.7M406.2,251.0L391.1,257.7M393.4,256.7l-3.0,-1.8M419.4,251.0L410.7,237.0M412.0,239.1l1.4,-3.2M432.6,251.0L423.3,264.7M424.7,262.6l-3.5,0.1M445.8,251.0L437.3,265.1M438.6,263.0l-3.5,0.2M459.0,251.0L442.7,248.4M445.2,248.8l-1.5,-3.1M472.2,251.0L456.0,253.9M458.4,253.4l-2.5,-2.5M485.4,251.0L484.4,234.5M484.6,237.0l2.7,-2.2M498.6,251.0L514.3,245.9M511.9,246.7l2.8,2.1M511.8,251.0L504.5,236.2M505.6,238.5l1.7,-3.1M525.0,251.0L540.8,255.6M538.4,254.9l1.1,3.3M538.2,251.0L553.5,244.8M551.2,245.7l2.9,1.9M551.4,251.0L538.2,241.1M540.2,242.6l0.1,-3.5M564.6,251.0L562.9,234.6M563.1,237.1l2.6,-2.3M577.8,251.0L561.5,253.4M563.9,253.0l-2.4,-2.5M591.0,251.0L605.2,242.6M603.1,243.9l3.2,1.5M604.2,251.0L608.9,235.2M608.2,237.6l3.3,-1.1M617.4,251.0L629.9,240.2M628.0,241.8l3.4,0.9M630.6,251.0L640.5,237.8M639.0,239.8l3.5,0.1M643.8,251.0L653.2,237.5M651.8,239.5l3.5,-0.0M657.0,251.0L667.4,238.2M665.9,240.2l3.5,0.3M670.2,251.0L681.6,239.0M679.8,240.8l3.5,0.5M683.4,251.0L694.6,238.9M692.9,240.7l3.5,0.5M696.6,251.0L706.3,237.7M704.8,239.7l3.5,0.1M195.0,264.2L184.1,251.8M185.8,253.7l0.8,-3.4M208.2,264.2L199.3,250.3M200.6,252.4l1.3,-3.2M221.4,264.2L235.7,272.4M233.5,271.2l0.3,3.5M234.6,264.2L220.6,255.5M222.7,256.8l-0.2,-3.5M247.8,264.2L238.8,250.3M240.2,252.4l1.3,-3.2M261.0,264.2L246.1,257.2M248.3,258.2l-0.6,-3.4M274.2,264.2L275.7,247.8M275.4,250.3l3.0,-1.7M287.4,264.2L285.1,280.5M285.4,278.1l-3.1,1.6M300.6,264.2L315.4,271.6M313.1,270.5l0.5,3.5M313.8,264.2L297.3,263.8M299.8,263.9l-1.9,-2.9M327.0,264.2L342.7,259.1M340.3,259.9l2.8,2.1M340.2,264.2L339.4,280.7M339.6,278.2l-3.0,1.9M353.4,264.2L369.4,260.2M367.0,260.8l2.6,2.3M366.6,264.2L373.7,249.3M372.6,251.6l3.5,-0.6M379.8,264.2L380.0,280.7M380.0,278.2l-2.8,2.0M393.0,264.2L409.4,265.6M406.9,265.4l1.7,3.0M406.2,264.2L422.7,264.1M420.2,264.1l2.0,2.9M419.4,264.2L408.6,276.7M410.3,274.8l-3.5,-0.4M432.6,264.2L424.2,250.0M425.5,252.2l1.4,-3.2M445.8,264.2L450.4,248.4M449.7,250.8l3.3,-1.1M459.0,264.2L471.1,252.9M469.2,254.6l3.4,0.7M472.2,264.2L478.8,249.1M477.8,251.4l3.4,-0.7M485.4,264.2L486.0,280.7M485.9,278.2l-2.8,2.1M498.6,264.2L491.8,279.2M492.8,276.9l-3.4,0.6M511.8,264.2L500.4,276.1M502.1,274.3l-3.5,-0.5M525.0,264.2L525.6,247.7M525.5,250.2l2.9,-1.9M538.2,264.2L535.2,248.0M535.7,250.4l2.5,-2.5M551.4,264.2L554.1,247.9M553.7,250.4l3.2,-1.5M564.6,264.2L580.3,259.0M577.9,259.8l2.8,2.1M577.8,264.2L575.1,247.9M575.5,250.4l2.5,-2.4M591.0,264.2L594.6,248.1M594.0,250.5l3.2,-1.3M604.2,264.2L609.9,248.7M609.1,251.1l3.4,-0.9M617.4,264.2L628.4,251.9M626.7,253.7l3.5,0.4M630.6,264.2L639.6,250.4M638.2,252.5l3.5,-0.1M643.8,264.2L651.4,249.6M650.3,251.8l3.5,-0.5M657.0,264.2L667.1,251.1M665.6,253.1l3.5,0.2M670.2,264.2L677.7,249.5M676.6,251.7l3.5,-0.5M683.4,264.2L692.6,250.5M691.2,252.6l3.5,-0.1M696.6,264.2L707.2,251.6M705.6,253.5l3.5,0.3M195.0,277.4L189.8,261.8M190.6,264.1l2.1,-2.8M208.2,277.4L197.7,264.7M199.3,266.6l0.9,-3.4M221.4,277.4L215.6,261.9M216.5,264.3l2.0,-2.9M234.6,277.4L246.9,266.4M245.0,268.1l3.4,0.8M247.8,277.4L263.0,271.0M260.7,272.0l3.0,1.9M261.0,277.4L250.1,289.8M251.7,287.9l-3.5,-0.4M274.2,277.4L287.0,287.9M285.0,286.3l-0.3,3.5M287.4,277.4L271.3,273.9M273.7,274.4l-1.4,-3.2M300.6,277.4L288.0,266.8M289.9,268.4l0.3,-3.5M313.8,277.4L297.3,277.7M299.8,277.6l-2.1,-2.8M327.0,277.4L341.6,285.1M339.4,284.0l0.4,3.5M340.2,277.4L337.8,293.7M338.2,291.3l-3.1,1.6M353.4,277.4L338.9,285.3M341.1,284.1l-3.1,-1.6M366.6,277.4L383.1,278.4M380.6,278.3l1.8,3.0M379.8,277.4L394.1,269.1M391.9,270.4l3.2,1.5M393.0,277.4L400.4,262.6M399.3,264.9l3.5,-0.5M406.2,277.4L418.6,288.2M416.8,286.6l-0.4,3.5M419.4,277.4L414.0,261.8M414.8,264.2l2.0,-2.8M432.6,277.4L435.9,293.6M435.4,291.1l-2.4,2.5M445.8,277.4L432.8,267.3M434.8,268.8l0.2,-3.5M459.0,277.4L454.4,261.6M455.1,264.0l2.2,-2.7M472.2,277.4L468.8,261.2M469.4,263.7l2.4,-2.5M485.4,277.4L477.4,291.8M478.6,289.6l-3.5,0.4M498.6,277.4L485.1,286.8M487.1,285.4l-3.3,-1.2M511.8,277.4L518.4,262.3M517.4,264.6l3.4,-0.7M525.0,277.4L523.3,293.8M523.6,291.3l-3.1,1.7M538.2,277.4L533.4,261.6M534.1,264.0l2.2,-2.8M551.4,277.4L548.6,293.7M549.1,291.2l-3.2,1.5M564.6,277.4L549.9,269.8M552.2,271.0l-0.5,-3.5M577.8,277.4L572.2,261.9M573.1,264.2l2.0,-2.9M591.0,277.4L600.6,264.0M599.2,266.0l3.5,0.0M604.2,277.4L614.8,264.7M613.2,266.6l3.5,0.3M617.4,277.4L626.5,263.6M625.1,265.7l3.5,-0.1M630.6,277.4L638.1,262.7M637.0,264.9l3.5,-0.5M643.8,277.4L652.3,263.3M651.0,265.4l3.5,-0.2M657.0,277.4L665.2,263.1M664.0,265.3l3.5,-0.3M670.2,277.4L678.3,263.0M677.0,265.2l3.5,-0.3M683.4,277.4L694.8,265.5M693.1,267.3l3.5,0.5M696.6,277.4L709.1,266.6M707.2,268.2l3.4,0.9M195.0,290.6L186.9,276.2M188.2,278.4l1.5,-3.2M208.2,290.6L200.1,276.2M201.3,278.4l1.5,-3.2M221.4,290.6L217.0,274.7M217.6,277.1l2.2,-2.7M234.6,290.6L229.3,306.2M230.1,303.9l-3.4,1.0M247.8,290.6L253.5,306.1M252.7,303.7l-2.0,2.9M261.0,290.6L248.5,279.8M250.4,281.5l0.4,-3.5M274.2,290.6L257.9,293.4M260.4,292.9l-2.5,-2.5M287.4,290.6L302.9,296.1M300.6,295.3l0.9,3.4M300.6,290.6L295.0,306.1M295.9,303.8l-3.4,0.9M313.8,290.6L328.4,283.0M326.2,284.1l3.1,1.6M327.0,290.6L331.8,274.8M331.1,277.2l3.3,-1.1M340.2,290.6L326.9,300.3M328.9,298.9l-3.3,-1.1M353.4,290.6L362.3,304.5M360.9,302.4l-1.3,3.2M366.6,290.6L367.6,307.1M367.5,304.6l-2.7,2.2M379.8,290.6L363.8,286.5M366.2,287.1l-1.2,-3.3M393.0,290.6L406.9,299.4M404.8,298.1l0.2,3.5M406.2,290.6L406.1,274.1M406.1,276.6l2.9,-2.0M419.4,290.6L428.2,304.6M426.8,302.5l-1.4,3.2M432.6,290.6L419.7,300.8M421.6,299.3l-3.4,-1.0M445.8,290.6L432.4,300.2M434.4,298.7l-3.3,-1.2M459.0,290.6L459.4,307.1M459.3,304.6l-2.8,2.1M472.2,290.6L480.0,276.1M478.8,278.3l3.5,-0.4M485.4,290.6L483.9,274.2M484.1,276.7l2.7,-2.3M498.6,290.6L514.1,296.2M511.8,295.3l0.9,3.4M511.8,290.6L508.4,306.8M508.9,304.3l-3.2,1.4M525.0,290.6L511.0,299.3M513.1,298.0l-3.2,-1.4M538.2,290.6L538.7,307.1M538.6,304.6l-2.8,2.1M551.4,290.6L535.6,285.9M538.0,286.6l-1.1,-3.3M564.6,290.6L573.0,276.4M571.7,278.6l3.5,-0.3M577.8,290.6L578.3,307.1M578.2,304.6l-2.8,2.1M591.0,290.6L599.4,276.4M598.1,278.6l3.5,-0.3M604.2,290.6L609.4,274.9M608.6,277.3l3.4,-1.0M617.4,290.6L625.3,276.1M624.1,278.3l3.5,-0.4M630.6,290.6L641.3,278.0M639.7,279.9l3.5,0.3M643.8,290.6L650.9,275.7M649.8,277.9l3.4,-0.6M657.0,290.6L668.3,278.6M666.6,280.4l3.5,0.5M670.2,290.6L678.4,276.3M677.2,278.5l3.5,-0.3M683.4,290.6L693.4,277.5M691.9,279.5l3.5,0.1M696.6,290.6L704.1,275.9M703.0,278.1l3.5,-0.5M195.0,303.8L187.8,289.0M188.9,291.2l1.7,-3.1M208.2,303.8L199.7,289.7M201.0,291.8l1.4,-3.2M221.4,303.8L223.1,287.4M222.8,289.9l3.1,-1.7M234.6,303.8L232.7,287.4M232.9,289.9l2.6,-2.3M247.8,303.8L246.6,287.3M246.8,289.8l2.7,-2.2M261.0,303.8L250.4,316.4M252.0,314.5l-3.5,-0.3M274.2,303.8L286.9,293.3M285.0,294.9l3.4,0.9M287.4,303.8L297.8,291.0M296.2,292.9l3.5,0.2M300.6,303.8L313.5,293.5M311.5,295.1l3.4,1.0M313.8,303.8L327.5,312.9M325.5,311.6l0.1,3.5M327.0,303.8L341.3,295.6M339.1,296.8l3.2,1.5M340.2,303.8L327.7,314.5M329.6,312.9l-3.4,-0.9M353.4,303.8L355.9,287.5M355.5,290.0l3.1,-1.6M366.6,303.8L351.0,298.5M353.3,299.3l-1.0,-3.4M379.8,303.8L365.4,311.9M367.6,310.7l-3.2,-1.5M393.0,303.8L398.6,319.3M397.7,317.0l-2.0,2.9M406.2,303.8L406.8,320.3M406.7,317.8l-2.8,2.1M419.4,303.8L415.7,319.9M416.3,317.4l-3.2,1.3M432.6,303.8L442.5,290.6M441.0,292.6l3.5,0.1M445.8,303.8L451.9,288.5M450.9,290.8l3.4,-0.8M459.0,303.8L443.1,308.1M445.5,307.4l-2.7,-2.3M472.2,303.8L468.1,319.8M468.8,317.4l-3.3,1.2M485.4,303.8L501.5,307.2M499.1,306.7l1.4,3.2M498.6,303.8L491.1,289.1M492.3,291.3l1.6,-3.1M511.8,303.8L503.8,289.4M505.0,291.6l1.5,-3.1M525.0,303.8L513.9,291.6M515.5,293.5l0.8,-3.4M538.2,303.8L554.5,301.5M552.1,301.8l2.4,2.6M551.4,303.8L566.1,296.4M563.9,297.5l3.1,1.7M564.6,303.8L558.8,288.3M559.7,290.7l2.0,-2.9M577.8,303.8L579.8,287.4M579.5,289.9l3.1,-1.6M591.0,303.8L596.9,288.4M596.0,290.7l3.4,-0.9M604.2,303.8L609.4,288.1M608.6,290.5l3.4,-1.0M617.4,303.8L626.1,289.8M624.8,291.9l3.5,-0.2M630.6,303.8L634.8,287.9M634.2,290.3l3.3,-1.2M643.8,303.8L651.6,289.2M650.4,291.4l3.5,-0.4M657.0,303.8L669.4,292.9M667.5,294.6l3.4,0.8M670.2,303.8L679.0,289.8M677.7,292.0l3.5,-0.2M683.4,303.8L694.2,291.3M692.6,293.2l3.5,0.4M696.6,303.8L703.6,288.9M702.6,291.1l3.4,-0.6M195.0,317.0L184.8,304.1M186.3,306.0l1.0,-3.4M208.2,317.0L201.0,302.2M202.1,304.4l1.7,-3.1M221.4,317.0L205.8,322.2M208.1,321.4l-2.8,-2.1M234.6,317.0L220.5,325.5M222.6,324.2l-3.2,-1.4M247.8,317.0L237.6,304.0M239.2,306.0l1.0,-3.3M261.0,317.0L251.0,303.9M252.5,305.9l1.1,-3.3M274.2,317.0L290.1,321.6M287.7,320.9l1.1,3.3M287.4,317.0L284.3,300.8M284.8,303.2l2.4,-2.5M300.6,317.0L284.1,317.7M286.6,317.6l-2.1,-2.8M313.8,317.0L330.2,318.8M327.7,318.5l1.7,3.1M327.0,317.0L317.5,330.5M318.9,328.4l-3.5,-0.0M340.2,317.0L351.1,304.6M349.4,306.5l3.5,0.4M353.4,317.0L366.3,306.7M364.3,308.2l3.4,1.0M366.6,317.0L383.1,316.5M380.6,316.6l2.1,2.8M379.8,317.0L368.3,305.2M370.0,307.0l0.6,-3.4M393.0,317.0L377.8,323.5M380.1,322.5l-3.0,-1.9M406.2,317.0L392.0,325.4M394.1,324.1l-3.2,-1.5M419.4,317.0L418.6,300.5M418.7,303.0l2.8,-2.1M432.6,317.0L448.2,322.3M445.9,321.5l1.0,3.4M445.8,317.0L445.3,333.5M445.4,331.0l-2.9,1.9M459.0,317.0L452.3,332.1M453.3,329.8l-3.4,0.7M472.2,317.0L459.6,306.4M461.5,308.0l0.3,-3.5M485.4,317.0L469.0,315.6M471.4,315.8l-1.8,-3.0M498.6,317.0L504.7,301.7M503.8,304.0l3.4,-0.8M511.8,317.0L503.9,331.5M505.1,329.3l-3.5,0.4M525.0,317.0L541.3,319.7M538.8,319.3l1.5,3.2M538.2,317.0L523.2,323.8M525.5,322.8l-3.0,-1.8M551.4,317.0L549.0,300.7M549.4,303.1l2.5,-2.4M564.6,317.0L551.5,327.0M553.5,325.5l-3.3,-1.1M577.8,317.0L594.1,319.4M591.7,319.0l1.6,3.1M591.0,317.0L599.8,303.0M598.5,305.2l3.5,-0.2M604.2,317.0L608.3,301.0M607.7,303.4l3.3,-1.2M617.4,317.0L627.8,304.2M626.2,306.1l3.5,0.2M630.6,317.0L637.4,302.0M636.4,304.2l3.4,-0.7M643.8,317.0L648.7,301.3M648.0,303.6l3.3,-1.1M657.0,317.0L664.2,302.1M663.1,304.4l3.5,-0.6M670.2,317.0L676.6,301.8M675.6,304.1l3.4,-0.7M683.4,317.0L683.1,300.5M683.2,303.0l2.8,-2.1M696.6,317.0L703.6,302.1M702.6,304.3l3.4,-0.6M195.0,330.2L187.3,315.6M188.5,317.8l1.6,-3.1M208.2,330.2L197.9,317.3M199.4,319.3l1.0,-3.4M221.4,330.2L237.0,335.4M234.7,334.6l1.0,3.4M234.6,330.2L227.6,345.1M228.7,342.9l-3.4,0.6M247.8,330.2L232.2,324.9M234.6,325.7l-1.0,-3.4M261.0,330.2L251.6,316.6M253.0,318.7l1.2,-3.3M274.2,330.2L272.3,313.8M272.6,316.3l2.6,-2.3M287.4,330.2L271.3,326.8M273.7,327.3l-1.4,-3.2M300.6,330.2L314.0,339.8M312.0,338.4l-0.0,3.5M313.8,330.2L297.6,333.3M300.0,332.8l-2.5,-2.4M327.0,330.2L324.9,346.6M325.3,344.1l-3.1,1.6M340.2,330.2L323.7,330.0M326.2,330.0l-2.0,-2.9M353.4,330.2L368.4,323.4M366.2,324.4l3.0,1.8M366.6,330.2L382.4,334.9M380.0,334.2l1.1,3.3M379.8,330.2L372.5,315.4M373.6,317.7l1.7,-3.1M393.0,330.2L392.0,313.7M392.2,316.2l2.7,-2.2M406.2,330.2L390.6,324.8M393.0,325.6l-1.0,-3.4M419.4,330.2L417.2,313.8M417.6,316.3l2.6,-2.4M432.6,330.2L418.9,321.0M421.0,322.4l-0.1,-3.5M445.8,330.2L438.8,345.1M439.9,342.9l-3.4,0.6M459.0,330.2L462.7,346.3M462.2,343.8l-2.3,2.6M472.2,330.2L488.4,333.1M486.0,332.7l1.5,3.2M485.4,330.2L470.2,323.9M472.5,324.8l-0.8,-3.4M498.6,330.2L491.8,345.2M492.9,343.0l-3.4,0.7M511.8,330.2L498.0,339.3M500.1,337.9l-3.3,-1.3M525.0,330.2L522.1,314.0M522.5,316.4l2.5,-2.5M538.2,330.2L521.9,333.0M524.4,332.6l-2.5,-2.5M551.4,330.2L536.8,322.5M539.0,323.7l-0.4,-3.5M564.6,330.2L549.4,323.7M551.7,324.7l-0.7,-3.4M577.8,330.2L573.2,314.4M573.9,316.8l2.2,-2.7M591.0,330.2L596.2,314.5M595.4,316.9l3.4,-1.0M604.2,330.2L615.4,318.1M613.7,320.0l3.5,0.5M617.4,330.2L622.5,314.5M621.7,316.9l3.3,-1.0M630.6,330.2L640.4,316.9M638.9,318.9l3.5,0.1M643.8,330.2L650.2,315.0M649.2,317.3l3.4,-0.7M657.0,330.2L667.1,317.1M665.5,319.1l3.5,0.2M670.2,330.2L677.6,315.5M676.5,317.7l3.5,-0.5M683.4,330.2L690.4,315.3M689.4,317.5l3.4,-0.6M696.6,330.2L705.1,316.0M703.8,318.2l3.5,-0.2M195.0,343.4L186.5,329.3M187.8,331.4l1.4,-3.2M208.2,343.4L198.3,330.2M199.8,332.2l1.1,-3.3M221.4,343.4L237.7,345.8M235.3,345.4l1.6,3.1M234.6,343.4L239.2,327.5M238.5,330.0l3.3,-1.1M247.8,343.4L250.2,359.7M249.8,357.3l-2.5,2.4M261.0,343.4L250.2,330.9M251.8,332.8l0.9,-3.4M274.2,343.4L286.3,332.2M284.5,333.9l3.4,0.7M287.4,343.4L303.6,340.4M301.2,340.9l2.5,2.5M300.6,343.4L300.5,326.9M300.5,329.4l2.9,-2.0M313.8,343.4L326.3,354.2M324.4,352.5l-0.4,3.5M327.0,343.4L324.3,327.1M324.7,329.6l2.5,-2.4M340.2,343.4L356.7,342.7M354.2,342.8l2.1,2.8M353.4,343.4L351.0,359.7M351.4,357.3l-3.1,1.6M366.6,343.4L382.0,337.6M379.7,338.5l2.9,2.0M379.8,343.4L374.2,327.9M375.0,330.2l2.0,-2.9M393.0,343.4L380.9,332.1M382.8,333.8l0.5,-3.5M406.2,343.4L403.1,327.2M403.6,329.6l2.4,-2.5M419.4,343.4L413.0,358.6M414.0,356.3l-3.4,0.7M432.6,343.4L418.8,352.4M420.9,351.0l-3.2,-1.3M445.8,343.4L459.3,333.9M457.3,335.4l3.3,1.2M459.0,343.4L475.5,342.8M473.0,342.9l2.1,2.8M472.2,343.4L470.6,327.0M470.8,329.5l2.7,-2.3M485.4,343.4L500.5,336.9M498.3,337.8l3.0,1.8M498.6,343.4L515.0,342.0M512.5,342.2l2.2,2.7M511.8,343.4L496.9,350.6M499.2,349.5l-3.1,-1.7M525.0,343.4L541.3,346.0M538.8,345.6l1.5,3.1M538.2,343.4L551.4,353.4M549.4,351.9l-0.1,3.5M551.4,343.4L544.3,358.3M545.4,356.1l-3.5,0.6M564.6,343.4L551.0,334.1M553.0,335.5l-0.0,-3.5M577.8,343.4L577.3,326.9M577.4,329.4l2.8,-2.1M591.0,343.4L603.1,332.2M601.3,333.9l3.4,0.7M604.2,343.4L609.7,327.9M608.9,330.2l3.4,-0.9M617.4,343.4L628.0,330.7M626.4,332.6l3.5,0.3M630.6,343.4L641.4,330.9M639.7,332.8l3.5,0.4M643.8,343.4L652.3,329.2M651.0,331.4l3.5,-0.2M657.0,343.4L663.9,328.4M662.9,330.7l3.4,-0.6M670.2,343.4L680.1,330.2M678.6,332.2l3.5,0.1M683.4,343.4L691.9,329.3M690.6,331.4l3.5,-0.2M696.6,343.4L706.6,330.3M705.1,332.3l3.5,0.1M195.0,356.6L186.3,342.6M187.7,344.7l1.4,-3.2M208.2,356.6L194.8,347.0M196.8,348.4l0.0,-3.5M221.4,356.6L212.2,342.9M213.6,345.0l1.3,-3.3M234.6,356.6L236.5,373.0M236.2,370.5l-2.6,2.3M247.8,356.6L260.8,346.4M258.8,348.0l3.3,1.0M261.0,356.6L275.1,365.3M272.9,363.9l0.2,3.5M274.2,356.6L264.1,369.6M265.6,367.7l-3.5,-0.2M287.4,356.6L303.4,352.5M301.0,353.1l2.7,2.3M300.6,356.6L284.7,352.1M287.1,352.8l-1.2,-3.3M313.8,356.6L316.1,340.3M315.7,342.7l3.1,-1.6M327.0,356.6L333.2,341.3M332.3,343.6l3.4,-0.8M340.2,356.6L336.0,340.7M336.6,343.1l2.3,-2.7M353.4,356.6L344.4,370.4M345.7,368.3l-3.5,0.1M366.6,356.6L351.5,350.0M353.8,351.0l-0.7,-3.4M379.8,356.6L390.3,369.3M388.7,367.4l-0.9,3.4M393.0,356.6L382.4,369.3M384.0,367.3l-3.5,-0.3M406.2,356.6L391.0,363.1M393.3,362.1l-3.0,-1.8M419.4,356.6L413.2,371.9M414.2,369.6l-3.4,0.8M432.6,356.6L419.0,365.9M421.0,364.5l-3.3,-1.2M445.8,356.6L432.5,346.8M434.5,348.3l0.1,-3.5M459.0,356.6L460.3,373.0M460.1,370.6l-2.7,2.2M472.2,356.6L488.3,353.1M485.9,353.6l2.6,2.4M485.4,356.6L469.1,354.0M471.6,354.4l-1.5,-3.1M498.6,356.6L507.3,342.6M506.0,344.7l3.5,-0.2M511.8,356.6L511.8,373.1M511.8,370.6l-2.9,2.0M525.0,356.6L532.5,341.9M531.4,344.1l3.5,-0.5M538.2,356.6L551.4,366.5M549.4,365.0l-0.1,3.5M551.4,356.6L567.2,361.5M564.8,360.7l1.1,3.3M564.6,356.6L558.6,341.2M559.5,343.6l1.9,-2.9M577.8,356.6L585.6,371.1M584.4,368.9l-1.6,3.1M591.0,356.6L598.3,341.8M597.2,344.0l3.5,-0.5M604.2,356.6L610.1,341.2M609.2,343.5l3.4,-0.9M617.4,356.6L619.0,340.2M618.7,342.7l3.0,-1.7M630.6,356.6L636.9,341.4M636.0,343.7l3.4,-0.7M643.8,356.6L653.1,343.0M651.7,345.1l3.5,-0.0M657.0,356.6L667.8,344.2M666.2,346.0l3.5,0.4M670.2,356.6L680.4,343.7M678.9,345.6l3.5,0.2M683.4,356.6L691.9,342.5M690.6,344.6l3.5,-0.2M696.6,356.6L696.0,340.1M696.1,342.6l2.8,-2.1M195.0,369.8L185.3,356.5M186.7,358.5l1.1,-3.3M208.2,369.8L196.2,358.5M198.0,360.2l0.5,-3.5M221.4,369.8L210.1,357.7M211.9,359.6l0.7,-3.4M234.6,369.8L233.2,386.2M233.4,383.8l-3.0,1.8M247.8,369.8L248.8,386.3M248.6,383.8l-2.7,2.2M261.0,369.8L245.4,375.1M247.7,374.3l-2.8,-2.1M274.2,369.8L287.0,380.2M285.0,378.7l-0.3,3.5M287.4,369.8L288.1,353.3M288.0,355.8l2.9,-1.9M300.6,369.8L308.9,355.5M307.6,357.7l3.5,-0.3M313.8,369.8L300.5,379.6M302.5,378.1l-3.3,-1.1M327.0,369.8L324.1,353.6M324.5,356.0l2.5,-2.5M340.2,369.8L334.8,354.2M335.6,356.6l2.0,-2.8M353.4,369.8L351.8,353.4M352.1,355.9l2.7,-2.3M366.6,369.8L375.0,384.0M373.7,381.9l-1.4,3.2M379.8,369.8L386.7,384.8M385.7,382.5l-1.8,3.0M393.0,369.8L377.6,363.8M380.0,364.7l-0.8,-3.4M406.2,369.8L411.8,385.3M411.0,383.0l-2.0,2.9M419.4,369.8L426.0,384.9M425.0,382.6l-1.8,3.0M432.6,369.8L416.4,372.9M418.9,372.5l-2.5,-2.4M445.8,369.8L433.4,380.6M435.2,379.0l-3.4,-0.8M459.0,369.8L475.1,373.4M472.7,372.8l1.3,3.2M472.2,369.8L462.0,356.9M463.5,358.8l1.0,-3.4M485.4,369.8L497.0,358.1M495.3,359.9l3.4,0.6M498.6,369.8L489.8,355.8M491.1,358.0l1.4,-3.2M511.8,369.8L504.3,384.5M505.4,382.3l-3.5,0.5M525.0,369.8L512.6,380.7M514.5,379.0l-3.4,-0.8M538.2,369.8L525.2,380.0M527.2,378.5l-3.4,-1.0M551.4,369.8L565.8,361.8M563.6,363.0l3.2,1.5M564.6,369.8L581.1,369.4M578.6,369.5l2.1,2.8M577.8,369.8L562.3,364.2M564.6,365.1l-0.9,-3.4M591.0,369.8L596.7,354.3M595.8,356.7l3.4,-0.9M604.2,369.8L608.6,353.9M607.9,356.3l3.3,-1.2M617.4,369.8L625.5,355.4M624.3,357.6l3.5,-0.3M630.6,369.8L635.6,354.1M634.8,356.4l3.3,-1.1M643.8,369.8L652.6,355.8M651.3,357.9l3.5,-0.2M657.0,369.8L664.4,355.1M663.3,357.3l3.5,-0.5M670.2,369.8L678.3,355.4M677.0,357.6l3.5,-0.4M683.4,369.8L687.7,353.9M687.0,356.3l3.3,-1.2M696.6,369.8L701.4,354.0M700.7,356.4l3.3,-1.1M195.0,383.0L184.2,370.6M185.8,372.5l0.8,-3.4M208.2,383.0L193.6,375.3M195.8,376.5l-0.4,-3.5M221.4,383.0L210.3,370.8M212.0,372.6l0.8,-3.4M234.6,383.0L219.9,375.6M222.1,376.7l-0.5,-3.5M247.8,383.0L243.1,398.8M243.8,396.4l-3.3,1.1M261.0,383.0L277.3,380.5M274.8,380.9l2.4,2.5M274.2,383.0L279.0,398.8M278.3,396.4l-2.2,2.8M287.4,383.0L272.2,389.3M274.5,388.4l-3.0,-1.9M300.6,383.0L295.4,398.7M296.2,396.3l-3.4,1.0M313.8,383.0L297.7,379.5M300.1,380.0l-1.3,-3.2M327.0,383.0L342.7,388.2M340.3,387.4l1.0,3.4M340.2,383.0L347.5,397.8M346.4,395.6l-1.7,3.1M353.4,383.0L341.2,371.9M343.0,373.6l0.4,-3.5M366.6,383.0L367.9,366.6M367.7,369.0l3.0,-1.8M379.8,383.0L375.7,367.0M376.3,369.4l2.3,-2.7M393.0,383.0L381.2,371.4M383.0,373.2l0.6,-3.5M406.2,383.0L397.4,397.0M398.8,394.9l-3.5,0.2M419.4,383.0L423.1,366.9M422.5,369.3l3.2,-1.3M432.6,383.0L416.9,388.1M419.3,387.3l-2.8,-2.1M445.8,383.0L456.5,370.4M454.8,372.3l3.5,0.3M459.0,383.0L475.5,383.0M473.0,383.0l2.0,2.9M472.2,383.0L476.3,399.0M475.7,396.6l-2.3,2.7M485.4,383.0L498.4,393.1M496.5,391.6l-0.2,3.5M498.6,383.0L507.4,396.9M506.1,394.8l-1.3,3.2M511.8,383.0L516.6,367.2M515.8,369.6l3.3,-1.1M525.0,383.0L529.0,399.0M528.4,396.6l-2.3,2.6M538.2,383.0L548.1,369.8M546.6,371.8l3.5,0.1M551.4,383.0L553.5,399.4M553.2,396.9l-2.6,2.4M564.6,383.0L578.4,392.1M576.3,390.7l0.1,3.5M577.8,383.0L561.7,379.2M564.2,379.8l-1.3,-3.3M591.0,383.0L597.4,367.8M596.4,370.1l3.4,-0.7M604.2,383.0L609.3,367.3M608.6,369.7l3.4,-1.0M617.4,383.0L623.6,367.7M622.7,370.0l3.4,-0.8M630.6,383.0L634.7,367.0M634.1,369.4l3.3,-1.2M643.8,383.0L652.0,368.7M650.7,370.8l3.5,-0.3M657.0,383.0L664.6,368.3M663.4,370.6l3.5,-0.5M670.2,383.0L676.2,367.6M675.3,369.9l3.4,-0.8M683.4,383.0L694.2,370.5M692.5,372.4l3.5,0.3M696.6,383.0L706.3,369.7M704.9,371.7l3.5,0.1M195.0,396.2L183.7,384.2M185.4,386.0l0.7,-3.4M208.2,396.2L193.0,389.8M195.3,390.8l-0.7,-3.4M221.4,396.2L211.8,382.8M213.2,384.8l1.2,-3.3M234.6,396.2L221.1,386.7M223.2,388.1l0.0,-3.5M247.8,396.2L252.6,412.0M251.9,409.6l-2.2,2.8M261.0,396.2L249.0,384.8M250.8,386.6l0.5,-3.5M274.2,396.2L263.2,383.9M264.8,385.8l0.8,-3.4M287.4,396.2L297.9,408.9M296.4,407.0l-0.9,3.4M300.6,396.2L303.4,379.9M303.0,382.4l3.2,-1.5M313.8,396.2L326.3,407.0M324.4,405.4l-0.4,3.5M327.0,396.2L332.0,411.9M331.3,409.5l-2.1,2.8M340.2,396.2L355.2,389.3M352.9,390.3l3.0,1.8M353.4,396.2L368.4,389.4M366.2,390.4l3.0,1.8M366.6,396.2L380.6,404.9M378.5,403.6l0.2,3.5M379.8,396.2L382.4,412.5M382.0,410.0l-2.5,2.4M393.0,396.2L395.4,379.9M395.1,382.4l3.1,-1.6M406.2,396.2L418.5,385.3M416.7,386.9l3.4,0.8M419.4,396.2L402.9,396.8M405.4,396.7l-2.1,-2.8M432.6,396.2L432.9,412.7M432.9,410.2l-2.8,2.1M445.8,396.2L434.1,407.8M435.8,406.0l-3.4,-0.6M459.0,396.2L466.9,410.7M465.7,408.5l-1.5,3.1M472.2,396.2L483.4,408.3M481.7,406.5l-0.7,3.4M485.4,396.2L478.1,411.0M479.2,408.8l-3.5,0.5M498.6,396.2L482.1,395.8M484.6,395.9l-1.9,-2.9M511.8,396.2L509.0,379.9M509.4,382.4l2.5,-2.5M525.0,396.2L531.0,411.6M530.1,409.3l-1.9,2.9M538.2,396.2L529.2,382.4M530.5,384.5l1.3,-3.2M551.4,396.2L562.1,383.6M560.4,385.5l3.5,0.3M564.6,396.2L566.4,379.8M566.1,382.3l3.1,-1.7M577.8,396.2L589.3,384.3M587.5,386.1l3.5,0.6M591.0,396.2L595.6,380.4M594.9,382.8l3.3,-1.1M604.2,396.2L607.8,380.1M607.2,382.5l3.2,-1.3M617.4,396.2L623.6,380.9M622.7,383.2l3.4,-0.8M630.6,396.2L639.1,382.0M637.8,384.2l3.5,-0.3M643.8,396.2L650.8,381.3M649.8,383.5l3.4,-0.6M657.0,396.2L662.9,380.8M662.0,383.1l3.4,-0.9M670.2,396.2L678.2,381.8M677.0,384.0l3.5,-0.4M683.4,396.2L693.5,383.2M692.0,385.1l3.5,0.2M696.6,396.2L703.7,381.3M702.6,383.5l3.5,-0.6M195.0,409.4L187.9,394.5M189.0,396.7l1.7,-3.0M208.2,409.4L197.3,397.0M199.0,398.9l0.8,-3.4M221.4,409.4L211.8,396.0M213.3,398.0l1.2,-3.3M234.6,409.4L220.8,400.4M222.9,401.7l-0.1,-3.5M247.8,409.4L257.7,396.2M256.2,398.2l3.5,0.1M261.0,409.4L250.0,421.7M251.7,419.8l-3.5,-0.4M274.2,409.4L266.2,423.8M267.4,421.6l-3.5,0.4M287.4,409.4L270.9,410.5M273.4,410.3l-2.2,-2.7M300.6,409.4L309.0,395.2M307.7,397.4l3.5,-0.3M313.8,409.4L318.5,425.2M317.8,422.8l-2.2,2.7M327.0,409.4L334.1,394.5M333.0,396.8l3.5,-0.6M340.2,409.4L356.6,407.3M354.1,407.6l2.4,2.6M353.4,409.4L337.3,405.7M339.8,406.3l-1.3,-3.2M366.6,409.4L383.1,410.1M380.6,410.0l1.9,3.0M379.8,409.4L363.7,405.8M366.1,406.3l-1.3,-3.2M393.0,409.4L378.4,401.6M380.7,402.8l-0.4,-3.5M406.2,409.4L391.3,416.6M393.6,415.5l-3.1,-1.7M419.4,409.4L406.2,419.3M408.2,417.8l-3.3,-1.1M432.6,409.4L424.0,423.5M425.3,421.3l-3.5,0.2M445.8,409.4L429.9,413.9M432.3,413.2l-2.7,-2.2M459.0,409.4L442.8,412.5M445.3,412.1l-2.5,-2.4M472.2,409.4L462.1,422.4M463.6,420.5l-3.5,-0.2M485.4,409.4L500.7,415.6M498.4,414.7l0.8,3.4M498.6,409.4L482.4,412.4M484.8,412.0l-2.5,-2.5M511.8,409.4L502.8,423.2M504.2,421.1l-3.5,0.1M525.0,409.4L508.5,408.2M511.0,408.4l-1.8,-3.0M538.2,409.4L554.7,409.2M552.2,409.2l2.0,2.8M551.4,409.4L564.2,398.9M562.2,400.5l3.4,0.9M564.6,409.4L575.3,396.8M573.6,398.7l3.5,0.3M577.8,409.4L580.9,425.6M580.5,423.1l-2.4,2.5M591.0,409.4L598.9,394.9M597.7,397.1l3.5,-0.4M604.2,409.4L606.6,393.1M606.2,395.5l3.1,-1.6M617.4,409.4L623.0,393.9M622.1,396.2l3.4,-0.9M630.6,409.4L636.5,394.0M635.6,396.3l3.4,-0.9M643.8,409.4L651.9,395.0M650.6,397.2l3.5,-0.4M657.0,409.4L664.1,394.5M663.1,396.8l3.5,-0.6M670.2,409.4L676.8,394.3M675.8,396.6l3.4,-0.7M683.4,409.4L690.5,394.5M689.4,396.8l3.5,-0.6M696.6,409.4L704.6,395.0M703.4,397.2l3.5,-0.4M195.0,422.6L181.5,413.1M183.5,414.6l0.0,-3.5M208.2,422.6L197.1,410.4M198.8,412.3l0.8,-3.4M221.4,422.6L209.3,411.3M211.2,413.1l0.5,-3.5M234.6,422.6L221.5,412.5M223.5,414.0l0.2,-3.5M247.8,422.6L232.6,416.2M234.9,417.2l-0.7,-3.4M261.0,422.6L266.1,438.3M265.3,435.9l-2.1,2.8M274.2,422.6L257.8,424.7M260.3,424.4l-2.4,-2.6M287.4,422.6L295.3,437.1M294.1,434.9l-1.6,3.1M300.6,422.6L315.1,430.5M312.9,429.3l0.4,3.5M313.8,422.6L329.8,418.4M327.3,419.0l2.7,2.3M327.0,422.6L323.4,438.7M324.0,436.3l-3.2,1.3M340.2,422.6L339.2,406.1M339.4,408.6l2.7,-2.2M353.4,422.6L338.7,430.0M340.9,428.9l-3.1,-1.7M366.6,422.6L360.0,407.5M361.0,409.8l1.8,-3.0M379.8,422.6L382.4,438.9M382.0,436.4l-2.5,2.4M393.0,422.6L380.8,411.4M382.7,413.1l0.5,-3.5M406.2,422.6L411.2,438.3M410.4,435.9l-2.1,2.8M419.4,422.6L412.8,407.5M413.8,409.8l1.8,-3.0M432.6,422.6L419.3,412.8M421.3,414.3l0.1,-3.5M445.8,422.6L448.9,438.8M448.5,436.3l-2.4,2.5M459.0,422.6L457.6,439.0M457.8,436.6l-3.0,1.8M472.2,422.6L480.5,436.9M479.2,434.7l-1.5,3.2M485.4,422.6L501.0,417.2M498.6,418.1l2.8,2.1M498.6,422.6L513.3,430.0M511.1,428.9l0.5,3.5M511.8,422.6L513.1,439.0M512.9,436.6l-2.7,2.2M525.0,422.6L508.7,420.0M511.2,420.4l-1.5,-3.1M538.2,422.6L548.4,435.6M546.8,433.6l-1.0,3.3M551.4,422.6L566.1,430.1M563.9,428.9l0.5,3.5M564.6,422.6L572.0,407.9M570.9,410.1l3.5,-0.5M577.8,422.6L562.0,417.9M564.4,418.6l-1.1,-3.3M591.0,422.6L594.6,406.5M594.1,408.9l3.2,-1.3M604.2,422.6L614.3,409.6M612.8,411.5l3.5,0.2M617.4,422.6L625.8,408.4M624.5,410.5l3.5,-0.3M630.6,422.6L637.1,407.4M636.1,409.7l3.4,-0.7M643.8,422.6L645.0,406.1M644.8,408.6l3.0,-1.8M657.0,422.6L665.2,408.3M664.0,410.5l3.5,-0.3M670.2,422.6L679.0,408.6M677.6,410.7l3.5,-0.2M683.4,422.6L690.0,407.5M689.0,409.8l3.4,-0.7M696.6,422.6L706.2,409.2M704.7,411.2l3.5,0.0M195.0,435.8L182.2,425.4M184.1,427.0l0.2,-3.5M208.2,435.8L194.7,426.4M196.7,427.8l-0.0,-3.5M221.4,435.8L212.9,421.7M214.2,423.8l1.4,-3.2M234.6,435.8L219.7,428.7M222.0,429.8l-0.6,-3.5M247.8,435.8L232.6,429.3M234.9,430.3l-0.7,-3.4M261.0,435.8L252.4,421.7M253.7,423.8l1.4,-3.2M274.2,435.8L289.1,428.8M286.9,429.8l3.0,1.7M287.4,435.8L302.5,429.2M300.2,430.2l3.0,1.8M300.6,435.8L285.9,443.4M288.2,442.2l-3.1,-1.6M313.8,435.8L313.7,452.3M313.7,449.8l-2.9,2.0M327.0,435.8L333.5,420.6M332.5,422.9l3.4,-0.7M340.2,435.8L328.3,424.4M330.1,426.1l0.5,-3.5M353.4,435.8L343.7,422.5M345.2,424.5l1.1,-3.3M366.6,435.8L359.4,421.0M360.5,423.2l1.7,-3.1M379.8,435.8L368.5,447.9M370.2,446.0l-3.5,-0.5M393.0,435.8L408.6,430.5M406.3,431.3l2.8,2.1M406.2,435.8L390.4,431.1M392.8,431.8l-1.1,-3.3M419.4,435.8L405.0,443.9M407.2,442.6l-3.2,-1.5M432.6,435.8L448.7,432.3M446.3,432.8l2.6,2.4M445.8,435.8L456.7,423.4M455.1,425.3l3.5,0.4M459.0,435.8L449.5,422.3M450.9,424.4l1.2,-3.3M472.2,435.8L474.1,419.4M473.9,421.9l3.1,-1.7M485.4,435.8L483.7,419.4M484.0,421.9l2.6,-2.3M498.6,435.8L483.3,429.6M485.6,430.5l-0.8,-3.4M511.8,435.8L508.8,452.0M509.3,449.6l-3.2,1.5M525.0,435.8L539.6,428.1M537.4,429.3l3.1,1.6M538.2,435.8L552.3,427.3M550.2,428.6l3.2,1.4M551.4,435.8L535.4,431.8M537.8,432.4l-1.3,-3.3M564.6,435.8L574.1,422.3M572.6,424.3l3.5,0.0M577.8,435.8L583.6,451.2M582.7,448.9l-2.0,2.9M591.0,435.8L591.0,419.3M591.0,421.8l2.9,-2.0M604.2,435.8L610.2,420.4M609.3,422.7l3.4,-0.8M617.4,435.8L627.0,422.4M625.5,424.4l3.5,0.0M630.6,435.8L635.6,420.1M634.9,422.5l3.3,-1.0M643.8,435.8L650.5,420.7M649.5,423.0l3.4,-0.7M657.0,435.8L664.8,421.3M663.6,423.5l3.5,-0.4M670.2,435.8L676.5,420.6M675.5,422.9l3.4,-0.8M683.4,435.8L687.7,419.9M687.1,422.3l3.3,-1.2M696.6,435.8L702.3,420.3M701.5,422.7l3.4,-0.9M195.0,449.0L186.6,434.8M187.9,436.9l1.4,-3.2M208.2,449.0L195.4,438.6M197.3,440.2l0.2,-3.5M221.4,449.0L208.2,439.2M210.2,440.6l0.1,-3.5M234.6,449.0L223.9,436.4M225.5,438.3l0.9,-3.4M247.8,449.0L233.8,440.3M235.9,441.7l-0.2,-3.5M261.0,449.0L253.2,434.5M254.4,436.7l1.6,-3.1M274.2,449.0L286.6,459.9M284.7,458.2l-0.4,3.5M287.4,449.0L276.5,436.6M278.1,438.5l0.8,-3.4M300.6,449.0L290.6,462.1M292.1,460.2l-3.5,-0.1M313.8,449.0L304.2,462.4M305.7,460.4l-3.5,-0.0M327.0,449.0L317.2,435.7M318.7,437.7l1.1,-3.3M340.2,449.0L326.5,439.8M328.6,441.2l-0.1,-3.5M353.4,449.0L364.9,437.2M363.2,439.0l3.5,0.6M366.6,449.0L378.0,460.9M376.3,459.1l-0.7,3.4M379.8,449.0L395.0,455.4M392.7,454.4l0.7,3.4M393.0,449.0L382.8,462.0M384.4,460.0l-3.5,-0.2M406.2,449.0L394.2,460.3M396.0,458.6l-3.4,-0.7M419.4,449.0L434.8,455.0M432.4,454.1l0.8,3.4M432.6,449.0L417.0,454.5M419.4,453.7l-2.8,-2.0M445.8,449.0L434.0,437.5M435.8,439.2l0.6,-3.5M459.0,449.0L475.0,445.1M472.6,445.7l2.6,2.3M472.2,449.0L471.5,432.5M471.6,435.0l2.8,-2.1M485.4,449.0L501.5,445.4M499.1,445.9l2.6,2.4M498.6,449.0L482.2,451.2M484.7,450.8l-2.4,-2.6M511.8,449.0L497.1,441.5M499.4,442.6l-0.5,-3.5M525.0,449.0L521.2,465.1M521.8,462.6l-3.3,1.3M538.2,449.0L546.2,463.4M545.0,461.2l-1.5,3.1M551.4,449.0L562.2,461.5M560.6,459.6l-0.9,3.4M564.6,449.0L580.6,444.8M578.1,445.4l2.7,2.3M577.8,449.0L587.0,435.3M585.6,437.4l3.5,-0.1M591.0,449.0L596.2,433.3M595.4,435.7l3.4,-1.0M604.2,449.0L611.3,434.1M610.2,436.4l3.5,-0.6M617.4,449.0L622.3,433.3M621.6,435.6l3.3,-1.1M630.6,449.0L635.4,433.2M634.6,435.6l3.3,-1.1M643.8,449.0L649.5,433.5M648.6,435.9l3.4,-0.9M657.0,449.0L666.1,435.2M664.7,437.3l3.5,-0.1M670.2,449.0L672.1,432.6M671.8,435.1l3.1,-1.7M683.4,449.0L690.8,434.2M689.6,436.5l3.5,-0.5M696.6,449.0L697.6,432.5M697.4,435.0l3.0,-1.8M195.0,462.2L184.6,449.4M186.1,451.4l1.0,-3.4M208.2,462.2L199.1,448.4M200.5,450.5l1.3,-3.3M221.4,462.2L210.0,450.2M211.8,452.1l0.7,-3.4M234.6,462.2L222.9,450.5M224.7,452.3l0.6,-3.4M247.8,462.2L236.8,449.9M238.5,451.8l0.8,-3.4M261.0,462.2L248.0,452.0M250.0,453.5l0.2,-3.5M274.2,462.2L262.1,451.0M263.9,452.7l0.5,-3.5M287.4,462.2L299.6,473.3M297.7,471.6l-0.4,3.5M300.6,462.2L316.8,465.4M314.3,464.9l1.4,3.2M313.8,462.2L301.3,473.0M303.2,471.3l-3.4,-0.9M327.0,462.2L311.9,468.9M314.2,467.9l-3.0,-1.8M340.2,462.2L356.6,460.5M354.1,460.8l2.3,2.6M353.4,462.2L361.6,447.9M360.3,450.0l3.5,-0.3M366.6,462.2L356.7,475.4M358.2,473.4l-3.5,-0.1M379.8,462.2L390.2,475.0M388.6,473.1l-1.0,3.4M393.0,462.2L390.1,445.9M390.6,448.4l2.5,-2.5M406.2,462.2L393.3,472.5M395.3,470.9l-3.4,-1.0M419.4,462.2L404.1,468.3M406.4,467.4l-2.9,-1.9M432.6,462.2L418.6,471.0M420.7,469.6l-3.2,-1.4M445.8,462.2L441.2,478.1M441.9,475.7l-3.3,1.1M459.0,462.2L448.1,449.8M449.7,451.7l0.8,-3.4M472.2,462.2L462.3,449.0M463.8,451.0l1.1,-3.3M485.4,462.2L479.7,446.7M480.6,449.0l2.0,-2.9M498.6,462.2L513.9,468.4M511.6,467.5l0.8,3.4M511.8,462.2L524.2,473.1M522.3,471.5l-0.4,3.5M525.0,462.2L534.6,475.6M533.1,473.6l-1.2,3.3M538.2,462.2L550.1,473.6M548.3,471.9l-0.5,3.5M551.4,462.2L564.8,452.5M562.7,454.0l3.3,1.1M564.6,462.2L577.3,451.6M575.3,453.2l3.4,0.9M577.8,462.2L581.1,478.4M580.6,475.9l-2.4,2.5M591.0,462.2L594.3,446.0M593.8,448.5l3.2,-1.4M604.2,462.2L609.3,446.5M608.5,448.9l3.3,-1.0M617.4,462.2L619.7,445.9M619.3,448.3l3.1,-1.6M630.6,462.2L633.4,445.9M633.0,448.4l3.2,-1.5M643.8,462.2L652.0,447.9M650.7,450.0l3.5,-0.3M657.0,462.2L662.8,446.7M661.9,449.1l3.4,-0.9M670.2,462.2L674.2,446.2M673.6,448.6l3.3,-1.2M683.4,462.2L688.3,446.4M687.5,448.8l3.3,-1.1M696.6,462.2L700.6,446.2M700.0,448.6l3.3,-1.2M195.0,475.4L184.6,462.6M186.2,464.5l1.0,-3.4M208.2,475.4L198.4,462.1M199.9,464.1l1.1,-3.3M221.4,475.4L208.7,464.8M210.7,466.4l0.3,-3.5M234.6,475.4L226.3,461.1M227.6,463.3l1.5,-3.2M247.8,475.4L233.9,466.6M236.0,467.9l-0.2,-3.5M261.0,475.4L250.9,462.3M252.5,464.3l1.0,-3.3M274.2,475.4L266.1,461.0M267.4,463.2l1.5,-3.2M287.4,475.4L279.2,461.1M280.4,463.3l1.5,-3.2M300.6,475.4L290.9,462.1M292.4,464.1l1.1,-3.3M313.8,475.4L330.3,475.9M327.8,475.8l1.9,2.9M327.0,475.4L311.0,471.4M313.4,472.0l-1.3,-3.3M340.2,475.4L329.5,487.9M331.1,486.0l-3.5,-0.3M353.4,475.4L345.0,489.6M346.3,487.5l-3.5,0.3M366.6,475.4L373.3,490.5M372.3,488.2l-1.8,3.0M379.8,475.4L363.6,478.7M366.1,478.2l-2.5,-2.4M393.0,475.4L384.3,489.4M385.6,487.3l-3.5,0.2M406.2,475.4L405.8,458.9M405.9,461.4l2.8,-2.1M419.4,475.4L412.6,460.4M413.6,462.7l1.8,-3.0M432.6,475.4L447.7,482.0M445.4,481.0l0.7,3.4M445.8,475.4L458.5,486.0M456.6,484.4l-0.3,3.5M459.0,475.4L465.9,490.4M464.9,488.1l-1.8,3.0M472.2,475.4L465.2,490.3M466.3,488.1l-3.4,0.6M485.4,475.4L488.9,459.3M488.4,461.7l3.2,-1.4M498.6,475.4L483.0,480.7M485.3,479.9l-2.8,-2.1M511.8,475.4L528.1,477.8M525.7,477.4l1.6,3.1M525.0,475.4L533.9,461.5M532.5,463.6l3.5,-0.2M538.2,475.4L550.1,486.8M548.3,485.1l-0.5,3.5M551.4,475.4L566.6,481.8M564.3,480.8l0.7,3.4M564.6,475.4L580.6,471.4M578.2,472.0l2.6,2.3M577.8,475.4L561.7,471.8M564.1,472.4l-1.3,-3.2M591.0,475.4L597.7,460.3M596.7,462.6l3.4,-0.7M604.2,475.4L605.4,458.9M605.2,461.4l3.0,-1.8M617.4,475.4L625.0,460.8M623.8,463.0l3.5,-0.5M630.6,475.4L636.3,459.9M635.5,462.3l3.4,-0.9M643.8,475.4L652.3,461.2M651.0,463.4l3.5,-0.2M657.0,475.4L664.2,460.6M663.1,462.8l3.5,-0.6M670.2,475.4L673.0,459.1M672.6,461.6l3.2,-1.5M683.4,475.4L693.9,462.7M692.3,464.6l3.5,0.3M696.6,475.4L703.0,460.2M702.0,462.5l3.4,-0.7M195.0,488.6L187.3,474.0M188.5,476.2l1.6,-3.1M208.2,488.6L196.4,477.1M198.2,478.8l0.6,-3.5M221.4,488.6L214.3,473.7M215.3,476.0l1.7,-3.1M234.6,488.6L223.3,476.6M225.0,478.4l0.7,-3.4M247.8,488.6L236.2,476.9M237.9,478.7l0.6,-3.4M261.0,488.6L249.2,477.0M251.0,478.8l0.6,-3.5M274.2,488.6L266.2,474.2M267.4,476.4l1.5,-3.1M287.4,488.6L278.6,474.7M279.9,476.8l1.4,-3.2M300.6,488.6L292.7,474.1M293.9,476.3l1.5,-3.1M313.8,488.6L303.3,475.9M304.9,477.8l0.9,-3.4M327.0,488.6L321.3,473.1M322.1,475.5l2.0,-2.9M340.2,488.6L349.6,502.2M348.2,500.1l-1.2,3.3M353.4,488.6L356.5,504.8M356.1,502.3l-2.4,2.5M366.6,488.6L361.5,504.3M362.2,501.9l-3.3,1.0M379.8,488.6L396.2,490.3M393.7,490.0l1.7,3.1M393.0,488.6L390.6,472.3M391.0,474.7l2.5,-2.4M406.2,488.6L422.7,488.5M420.2,488.5l2.0,2.9M419.4,488.6L405.1,480.4M407.2,481.7l-0.3,-3.5M432.6,488.6L432.3,505.1M432.4,502.6l-2.9,2.0M445.8,488.6L448.6,472.3M448.2,474.8l3.2,-1.5M459.0,488.6L464.2,504.3M463.4,501.9l-2.1,2.8M472.2,488.6L461.0,476.4M462.7,478.3l0.8,-3.4M485.4,488.6L494.6,474.9M493.2,477.0l3.5,-0.1M498.6,488.6L514.8,485.7M512.4,486.1l2.5,2.5M511.8,488.6L496.2,483.2M498.6,484.0l-1.0,-3.4M525.0,488.6L509.0,492.7M511.4,492.0l-2.7,-2.3M538.2,488.6L521.8,487.3M524.2,487.5l-1.8,-3.0M551.4,488.6L536.6,481.2M538.9,482.4l-0.5,-3.5M564.6,488.6L555.8,474.6M557.2,476.7l1.4,-3.2M577.8,488.6L586.0,502.9M584.8,500.7l-1.5,3.2M591.0,488.6L593.9,472.4M593.5,474.8l3.2,-1.5M604.2,488.6L608.8,472.7M608.1,475.1l3.3,-1.1M617.4,488.6L625.7,474.3M624.4,476.5l3.5,-0.3M630.6,488.6L632.5,472.2M632.2,474.7l3.1,-1.7M643.8,488.6L650.8,473.7M649.8,475.9l3.4,-0.6M657.0,488.6L659.3,472.3M659.0,474.7l3.1,-1.6M670.2,488.6L679.9,475.2M678.4,477.3l3.5,0.1M683.4,488.6L688.8,473.0M687.9,475.4l3.4,-1.0M696.6,488.6L704.1,473.9M702.9,476.1l3.5,-0.5M195.0,501.8L184.1,489.4M185.7,491.3l0.8,-3.4M208.2,501.8L199.4,487.8M200.8,489.9l1.4,-3.2M221.4,501.8L213.0,487.6M214.3,489.7l1.5,-3.2M234.6,501.8L223.6,489.5M225.3,491.4l0.8,-3.4M247.8,501.8L237.9,488.6M239.4,490.6l1.1,-3.3M261.0,501.8L251.0,488.7M252.5,490.7l1.1,-3.3M274.2,501.8L263.9,488.9M265.4,490.9l1.0,-3.4M287.4,501.8L277.6,488.5M279.1,490.5l1.1,-3.3M300.6,501.8L292.9,487.2M294.1,489.4l1.6,-3.1M313.8,501.8L302.0,490.3M303.8,492.0l0.6,-3.5M327.0,501.8L315.2,490.3M317.0,492.0l0.6,-3.5M340.2,501.8L325.4,494.5M327.7,495.6l-0.5,-3.5M353.4,501.8L338.1,495.6M340.4,496.6l-0.8,-3.4M366.6,501.8L366.1,485.3M366.2,487.8l2.8,-2.1M379.8,501.8L369.5,514.7M371.1,512.8l-3.5,-0.2M393.0,501.8L393.1,485.3M393.1,487.8l2.9,-2.0M406.2,501.8L389.8,499.9M392.3,500.2l-1.7,-3.1M419.4,501.8L429.3,488.6M427.8,490.6l3.5,0.1M432.6,501.8L416.5,505.6M419.0,505.0l-2.6,-2.3M445.8,501.8L452.3,486.6M451.3,488.9l3.4,-0.7M459.0,501.8L451.0,487.4M452.2,489.5l1.5,-3.1M472.2,501.8L481.2,487.9M479.8,490.0l3.5,-0.1M485.4,501.8L499.9,493.9M497.7,495.1l3.1,1.5M498.6,501.8L497.5,485.3M497.7,487.8l2.7,-2.2M511.8,501.8L526.8,508.7M524.5,507.7l0.6,3.4M525.0,501.8L520.3,517.6M521.0,515.2l-3.3,1.1M538.2,501.8L544.7,517.0M543.7,514.7l-1.9,3.0M551.4,501.8L567.6,498.5M565.1,499.0l2.5,2.4M564.6,501.8L548.6,497.6M551.1,498.3l-1.2,-3.3M577.8,501.8L589.3,513.6M587.6,511.8l-0.6,3.4M591.0,501.8L594.2,485.6M593.7,488.1l3.2,-1.4M604.2,501.8L605.0,485.3M604.9,487.8l3.0,-1.9M617.4,501.8L619.8,485.5M619.4,487.9l3.1,-1.6M630.6,501.8L636.6,486.4M635.7,488.8l3.4,-0.8M643.8,501.8L651.1,487.0M650.0,489.2l3.5,-0.5M657.0,501.8L659.1,485.4M658.8,487.9l3.1,-1.6M670.2,501.8L675.4,486.1M674.6,488.5l3.4,-1.0M683.4,501.8L690.4,486.8M689.3,489.1l3.4,-0.6M696.6,501.8L704.5,487.3M703.3,489.5l3.5,-0.4M195.0,515.0L186.3,501.0M187.7,503.1l1.4,-3.2M208.2,515.0L200.4,500.5M201.5,502.7l1.6,-3.1M221.4,515.0L212.2,501.3M213.6,503.4l1.3,-3.3M234.6,515.0L224.7,501.8M226.2,503.8l1.1,-3.3M247.8,515.0L235.9,503.6M237.7,505.3l0.5,-3.5M261.0,515.0L252.9,500.6M254.2,502.8l1.5,-3.2M274.2,515.0L265.7,500.8M267.0,503.0l1.4,-3.2M287.4,515.0L276.3,502.8M278.0,504.6l0.8,-3.4M300.6,515.0L288.7,503.6M290.5,505.3l0.5,-3.5M313.8,515.0L303.7,501.9M305.2,503.9l1.0,-3.3M327.0,515.0L320.1,500.0M321.1,502.3l1.8,-3.0M340.2,515.0L335.4,499.2M336.2,501.6l2.2,-2.8M353.4,515.0L358.2,530.8M357.5,528.4l-2.2,2.8M366.6,515.0L350.6,510.8M353.1,511.5l-1.2,-3.3M379.8,515.0L379.4,498.5M379.5,501.0l2.8,-2.1M393.0,515.0L405.6,525.6M403.7,524.0l-0.3,3.5M406.2,515.0L398.0,529.3M399.2,527.1l-3.5,0.3M419.4,515.0L435.4,511.2M433.0,511.7l2.6,2.3M432.6,515.0L416.5,518.7M419.0,518.1l-2.6,-2.3M445.8,515.0L462.3,515.7M459.8,515.6l1.9,3.0M459.0,515.0L448.5,502.3M450.0,504.2l0.9,-3.4M472.2,515.0L488.6,512.8M486.1,513.2l2.4,2.6M485.4,515.0L469.9,509.3M472.3,510.2l-0.9,-3.4M498.6,515.0L504.8,499.7M503.9,502.0l3.4,-0.8M511.8,515.0L524.3,504.3M522.4,505.9l3.4,0.9M525.0,515.0L534.3,528.6M532.9,526.6l-1.2,3.3M538.2,515.0L551.0,504.6M549.1,506.2l3.4,1.0M551.4,515.0L539.4,503.6M541.2,505.4l0.5,-3.5M564.6,515.0L579.9,508.9M577.6,509.8l2.9,1.9M577.8,515.0L573.7,499.0M574.3,501.4l2.3,-2.7M591.0,515.0L600.5,501.5M599.0,503.5l3.5,-0.0M604.2,515.0L605.0,498.5M604.9,501.0l3.0,-1.9M617.4,515.0L625.3,500.5M624.1,502.7l3.5,-0.4M630.6,515.0L629.3,498.6M629.5,501.0l2.7,-2.2M643.8,515.0L644.5,498.5M644.4,501.0l3.0,-1.9M657.0,515.0L662.3,499.4M661.5,501.8l3.4,-1.0M670.2,515.0L672.5,498.7M672.1,501.1l3.1,-1.6M683.4,515.0L684.8,498.6M684.6,501.1l3.0,-1.8M696.6,515.0L705.8,501.3M704.4,503.4l3.5,-0.1M195.0,528.2L182.3,517.7M184.2,519.3l0.3,-3.5M208.2,528.2L198.4,514.9M199.9,516.9l1.1,-3.3M221.4,528.2L210.9,515.5M212.5,517.4l0.9,-3.4M234.6,528.2L226.1,514.1M227.4,516.2l1.4,-3.2M247.8,528.2L244.7,512.0M245.2,514.4l2.4,-2.5M261.0,528.2L251.0,515.1M252.5,517.1l1.1,-3.3M274.2,528.2L266.1,513.8M267.4,516.0l1.5,-3.2M287.4,528.2L278.7,514.2M280.1,516.3l1.4,-3.2M300.6,528.2L289.4,516.1M291.1,518.0l0.7,-3.4M313.8,528.2L301.9,516.8M303.7,518.5l0.5,-3.5M327.0,528.2L315.5,516.3M317.3,518.1l0.7,-3.4M340.2,528.2L333.8,513.0M334.8,515.3l1.9,-3.0M353.4,528.2L339.3,536.7M341.4,535.4l-3.2,-1.4M366.6,528.2L361.8,544.0M362.5,541.6l-3.3,1.1M379.8,528.2L369.0,540.7M370.7,538.8l-3.5,-0.3M393.0,528.2L377.4,522.9M379.7,523.7l-1.0,-3.4M406.2,528.2L390.5,523.0M392.9,523.8l-1.0,-3.4M419.4,528.2L414.8,544.1M415.5,541.7l-3.3,1.1M432.6,528.2L425.9,543.3M426.9,541.0l-3.4,0.7M445.8,528.2L438.4,542.9M439.5,540.7l-3.5,0.5M459.0,528.2L448.8,515.3M450.3,517.2l1.0,-3.4M472.2,528.2L456.7,533.8M459.0,533.0l-2.9,-2.0M485.4,528.2L490.3,512.5M489.6,514.8l3.3,-1.1M498.6,528.2L489.7,514.3M491.1,516.4l1.3,-3.2M511.8,528.2L506.7,543.9M507.5,541.5l-3.3,1.0M525.0,528.2L509.0,532.1M511.4,531.5l-2.6,-2.3M538.2,528.2L543.5,543.8M542.7,541.5l-2.1,2.8M551.4,528.2L539.4,539.5M541.2,537.8l-3.4,-0.7M564.6,528.2L550.7,519.2M552.8,520.6l-0.1,-3.5M577.8,528.2L561.3,527.9M563.8,527.9l-2.0,-2.9M591.0,528.2L594.5,512.1M594.0,514.5l3.2,-1.3M604.2,528.2L608.8,512.4M608.1,514.8l3.3,-1.1M617.4,528.2L623.8,513.0M622.8,515.3l3.4,-0.7M630.6,528.2L630.3,511.7M630.4,514.2l2.8,-2.1M643.8,528.2L648.2,512.3M647.5,514.7l3.3,-1.2M657.0,528.2L663.9,513.2M662.9,515.5l3.4,-0.6M670.2,528.2L675.4,512.5M674.6,514.9l3.4,-1.0M683.4,528.2L688.4,512.5M687.7,514.9l3.3,-1.0M696.6,528.2L704.0,513.5M702.9,515.7l3.5,-0.5M195.0,541.4L191.0,525.4M191.6,527.8l2.3,-2.6M208.2,541.4L200.8,526.7M201.9,528.9l1.7,-3.1M221.4,541.4L210.7,528.8M212.4,530.7l0.9,-3.4M234.6,541.4L224.1,528.6M225.7,530.6l0.9,-3.4M247.8,541.4L236.6,529.2M238.3,531.1l0.8,-3.4M261.0,541.4L253.3,526.8M254.5,529.0l1.6,-3.1M274.2,541.4L265.2,527.6M266.6,529.7l1.3,-3.2M287.4,541.4L275.8,529.7M277.6,531.4l0.6,-3.4M300.6,541.4L293.1,526.7M294.2,528.9l1.6,-3.1M313.8,541.4L303.3,528.6M304.9,530.6l0.9,-3.4M327.0,541.4L319.9,526.5M321.0,528.8l1.7,-3.0M340.2,541.4L323.7,541.1M326.2,541.1l-2.0,-2.9M353.4,541.4L340.6,531.0M342.5,532.6l0.2,-3.5M366.6,541.4L381.3,549.0M379.0,547.8l0.5,3.5M379.8,541.4L374.4,525.8M375.2,528.2l2.1,-2.8M393.0,541.4L387.9,525.7M388.7,528.1l2.1,-2.8M406.2,541.4L422.7,540.5M420.2,540.6l2.2,2.8M419.4,541.4L431.4,552.7M429.6,551.0l-0.5,3.5M432.6,541.4L420.8,529.8M422.6,531.6l0.6,-3.5M445.8,541.4L454.2,555.6M453.0,553.4l-1.4,3.2M459.0,541.4L474.8,546.2M472.4,545.5l1.1,3.3M472.2,541.4L457.5,548.8M459.7,547.7l-3.1,-1.7M485.4,541.4L484.6,524.9M484.7,527.4l2.8,-2.1M498.6,541.4L492.8,525.9M493.7,528.3l2.0,-2.9M511.8,541.4L502.8,527.6M504.2,529.6l1.3,-3.2M525.0,541.4L508.5,541.7M511.0,541.7l-2.1,-2.8M538.2,541.4L554.3,537.8M551.9,538.3l2.6,2.4M551.4,541.4L535.2,538.2M537.7,538.7l-1.4,-3.2M564.6,541.4L578.5,550.3M576.4,549.0l0.1,3.5M577.8,541.4L592.4,549.2M590.2,548.0l0.4,3.5M591.0,541.4L592.5,525.0M592.3,527.5l3.0,-1.7M604.2,541.4L605.3,524.9M605.2,527.4l3.0,-1.8M617.4,541.4L617.0,524.9M617.1,527.4l2.8,-2.1M630.6,541.4L639.3,527.4M638.0,529.5l3.5,-0.2M643.8,541.4L649.1,525.8M648.3,528.1l3.4,-1.0M657.0,541.4L658.1,524.9M657.9,527.4l3.0,-1.8M670.2,541.4L676.5,526.2M675.6,528.5l3.4,-0.8M683.4,541.4L690.0,526.3M689.0,528.6l3.4,-0.7M696.6,541.4L698.8,525.0M698.5,527.5l3.1,-1.6M195.0,554.6L183.8,542.5M185.5,544.3l0.8,-3.4M208.2,554.6L203.9,538.7M204.6,541.1l2.2,-2.7M221.4,554.6L213.7,540.0M214.9,542.2l1.6,-3.1M234.6,554.6L225.5,540.8M226.9,542.9l1.3,-3.3M247.8,554.6L241.1,539.5M242.1,541.8l1.8,-3.0M261.0,554.6L249.4,542.9M251.2,544.6l0.6,-3.4M274.2,554.6L263.4,542.1M265.0,544.0l0.9,-3.4M287.4,554.6L276.8,542.0M278.4,543.9l0.9,-3.4M300.6,554.6L294.5,539.3M295.4,541.6l1.9,-2.9M313.8,554.6L304.3,541.1M305.7,543.2l1.2,-3.3M327.0,554.6L316.4,542.0M318.0,543.9l0.9,-3.4M340.2,554.6L332.6,540.0M333.7,542.2l1.6,-3.1M353.4,554.6L352.0,538.2M352.3,540.6l2.7,-2.2M366.6,554.6L374.4,540.1M373.2,542.3l3.5,-0.4M379.8,554.6L378.6,538.1M378.8,540.6l2.7,-2.2M393.0,554.6L383.8,540.9M385.2,543.0l1.3,-3.3M406.2,554.6L400.1,539.3M401.1,541.6l1.9,-2.9M419.4,554.6L430.6,566.7M428.9,564.8l-0.7,3.4M432.6,554.6L422.9,567.9M424.3,565.9l-3.5,-0.1M445.8,554.6L456.2,541.8M454.6,543.7l3.5,0.2M459.0,554.6L473.7,547.1M471.5,548.2l3.1,1.6M472.2,554.6L484.7,565.4M482.8,563.8l-0.4,3.5M485.4,554.6L496.1,542.0M494.5,543.9l3.5,0.3M498.6,554.6L487.5,542.4M489.2,544.2l0.8,-3.4M511.8,554.6L518.1,539.3M517.1,541.7l3.4,-0.8M525.0,554.6L508.6,553.3M511.0,553.5l-1.8,-3.0M538.2,554.6L527.2,542.3M528.8,544.2l0.8,-3.4M551.4,554.6L541.3,541.6M542.8,543.6l1.0,-3.3M564.6,554.6L553.8,542.2M555.4,544.0l0.8,-3.4M577.8,554.6L594.3,554.0M591.8,554.1l2.1,2.8M591.0,554.6L598.6,540.0M597.5,542.2l3.5,-0.5M604.2,554.6L611.2,539.6M610.1,541.9l3.4,-0.6M617.4,554.6L620.9,538.5M620.4,540.9l3.2,-1.4M630.6,554.6L632.7,538.2M632.4,540.7l3.1,-1.6M643.8,554.6L648.4,538.8M647.7,541.2l3.3,-1.1M657.0,554.6L659.0,538.2M658.7,540.7l3.1,-1.6M670.2,554.6L667.6,538.3M668.0,540.8l2.5,-2.4M683.4,554.6L686.3,538.4M685.9,540.8l3.2,-1.5M696.6,554.6L702.5,539.2M701.6,541.5l3.4,-0.9M195.0,567.8L185.4,554.4M186.9,556.4l1.2,-3.3M208.2,567.8L200.5,553.2M201.7,555.4l1.6,-3.1M221.4,567.8L211.7,554.4M213.2,556.5l1.1,-3.3M234.6,567.8L223.5,555.6M225.2,557.4l0.8,-3.4M247.8,567.8L236.7,555.5M238.4,557.4l0.8,-3.4M261.0,567.8L254.9,552.5M255.8,554.8l1.9,-2.9M274.2,567.8L263.4,555.3M265.0,557.2l0.9,-3.4M287.4,567.8L276.2,555.7M277.9,557.5l0.8,-3.4M300.6,567.8L293.1,553.1M294.2,555.3l1.6,-3.1M313.8,567.8L305.8,553.4M307.0,555.5l1.5,-3.1M327.0,567.8L324.7,551.5M325.0,553.9l2.6,-2.4M340.2,567.8L332.4,553.3M333.6,555.5l1.6,-3.1M353.4,567.8L362.8,581.3M361.4,579.3l-1.2,3.3M366.6,567.8L353.2,558.2M355.2,559.6l0.0,-3.5M379.8,567.8L371.5,553.5M372.8,555.7l1.5,-3.2M393.0,567.8L391.7,551.3M391.9,553.8l2.7,-2.2M406.2,567.8L396.9,554.2M398.3,556.3l1.2,-3.3M419.4,567.8L407.0,557.0M408.8,558.6l0.4,-3.5M432.6,567.8L437.3,552.0M436.5,554.4l3.3,-1.1M445.8,567.8L454.5,553.8M453.2,555.9l3.5,-0.2M459.0,567.8L453.5,583.3M454.3,581.0l-3.4,0.9M472.2,567.8L486.0,558.8M483.9,560.2l3.2,1.3M485.4,567.8L493.9,581.9M492.6,579.8l-1.4,3.2M498.6,567.8L482.5,571.4M484.9,570.8l-2.6,-2.4M511.8,567.8L526.3,575.8M524.1,574.5l0.4,3.5M525.0,567.8L527.9,584.0M527.5,581.6l-2.5,2.5M538.2,567.8L532.1,552.5M533.1,554.8l1.9,-2.9M551.4,567.8L567.9,568.6M565.4,568.5l1.9,3.0M564.6,567.8L572.5,582.3M571.3,580.1l-1.6,3.1M577.8,567.8L592.9,574.4M590.6,573.4l0.7,3.4M591.0,567.8L595.2,551.8M594.5,554.3l3.3,-1.2M604.2,567.8L607.2,551.6M606.7,554.0l3.2,-1.5M617.4,567.8L622.8,552.2M622.0,554.6l3.4,-1.0M630.6,567.8L633.1,551.5M632.7,554.0l3.1,-1.5M643.8,567.8L644.5,551.3M644.4,553.8l3.0,-1.9M657.0,567.8L661.1,551.8M660.5,554.2l3.3,-1.2M670.2,567.8L675.0,552.0M674.2,554.4l3.3,-1.1M683.4,567.8L686.9,551.7M686.4,554.1l3.2,-1.3M696.6,567.8L704.6,553.4M703.4,555.6l3.5,-0.4" fill="none" stroke="#1a1a1a" stroke-width="0.55"/><g fill="none" stroke="#000" stroke-width="1.4"><path d="M240.5,184.3 L245.2,185.6 L249.8,186.8 L255.9,189.9 L258.6,199.6 L265.5,202.8 L269.9,202.6 L274.3,202.4 L278.6,202.1 L282.6,203.1 L286.5,204.2 L290.6,204.0 L294.6,203.9 L298.8,203.1 L302.9,202.4 L307.0,201.7 L311.1,200.9 L315.1,200.9 L319.2,200.9 L319.6,199.4 L323.7,199.7 L327.9,200.1 L332.0,200.4 L336.1,200.7 L340.2,201.0 L344.3,201.3 L348.5,201.6 L352.6,201.9"/><path d="M355.5,132.4 L355.1,138.4 L354.6,144.4 L354.2,150.4 L353.8,156.3 L353.4,162.3 L353.0,168.3 L352.6,174.2 L352.1,180.2 L351.7,186.1 L351.3,192.1 L352.6,201.9 L358.7,211.5 L355.5,218.3 L352.2,225.0 L349.0,230.5 L345.7,236.1 L349.4,242.1 L347.4,252.4 L347.0,258.3 L346.6,264.2 L346.2,270.0 L345.8,275.9 L345.4,281.8 L345.0,287.7 L344.6,293.6"/><path d="M223.1,280.6 L227.4,281.2 L231.7,281.8 L236.0,282.4 L240.3,283.0 L244.5,283.6 L248.8,284.2 L253.1,284.7 L257.4,285.3 L261.7,285.8 L266.0,286.3 L270.3,286.8 L274.6,287.3 L278.9,287.8 L283.3,288.3 L287.6,288.7 L291.9,289.2 L296.2,289.6 L300.5,290.0 L304.8,290.4 L309.1,290.8 L313.4,291.2 L317.7,291.6 L322.1,291.9 L326.4,292.3 L330.7,292.6 L335.0,292.9 L339.3,293.2 L343.7,293.5 L348.0,293.8 L352.3,294.1 L356.6,294.4 L360.9,294.6 L365.3,294.9 L369.6,295.1 L373.9,295.3 L378.3,295.5 L382.6,295.7 L386.9,295.9 L391.2,296.0 L395.6,296.2"/><path d="M294.2,289.4 L293.6,295.1 L293.0,300.8 L292.5,306.5 L291.9,312.2 L291.3,317.9 L290.7,323.6 L290.2,329.3 L289.6,335.0 L289.0,340.7 L288.5,346.4 L287.9,352.1 L287.3,357.8 L291.4,362.6 L295.6,367.4 L299.7,372.2 L303.9,376.9 L308.1,381.7 L312.4,386.4 L316.6,391.1 L320.9,395.9 L325.2,400.6 L329.6,405.3 L333.9,410.0 L338.3,414.6 L342.7,419.3 L347.2,424.0 L351.6,428.6 L356.1,433.2 L360.7,437.8 L365.2,442.5 L369.8,447.0 L374.4,451.6 L379.0,456.2"/><path d="M379.0,456.2 L382.9,465.6 L387.6,472.6 L380.4,481.6 L378.3,487.2 L376.1,492.9 L379.6,502.3 L375.1,508.6"/><path d="M395.6,296.2 L395.4,301.9 L395.2,307.7 L394.9,313.4 L394.7,319.1 L394.5,324.8 L394.3,330.6 L394.1,336.3 L393.9,342.0 L393.7,347.8 L393.5,353.5 L393.3,359.2 L393.1,364.9 L392.9,370.7 L392.7,376.4 L392.5,382.1 L392.3,387.8 L392.1,393.6 L391.9,399.3 L391.7,405.0 L391.5,410.7 L391.2,417.6 L391.0,424.5 L390.7,431.4 L385.7,431.2 L380.6,431.0 L380.2,437.3 L379.8,443.6 L379.4,449.9 L379.0,456.2"/><path d="M391.5,410.7 L396.0,410.9 L400.6,411.0 L405.2,411.2 L409.8,411.3 L414.4,411.4 L418.9,411.5 L423.5,411.5 L428.1,411.6 L432.7,411.6 L437.3,411.7 L441.9,411.7 L446.4,411.7 L451.0,411.7 L455.6,411.7 L460.2,411.7 L464.8,411.6 L469.3,411.6 L473.9,411.5 L478.5,411.5 L483.1,411.4 L487.7,411.3 L492.3,411.2 L496.8,411.0 L501.4,410.9 L506.0,410.7 L510.6,410.6 L515.2,410.4 L519.7,410.2 L524.3,410.0 L528.9,409.8 L533.5,409.6 L538.0,409.3 L542.6,409.1 L547.2,408.8 L551.8,408.5 L556.3,408.2 L560.9,407.9 L565.5,407.6 L570.0,407.3 L574.6,406.9 L579.2,406.6 L583.8,406.2 L588.3,405.9 L592.9,405.5 L597.5,405.1 L602.0,404.6 L606.6,404.2 L611.1,403.8"/><path d="M370.4,133.3 L370.1,139.1 L369.8,144.9 L369.4,150.7 L369.1,156.5 L374.1,166.1 L380.0,173.4 L383.7,177.0 L387.5,180.6 L390.3,188.9 L395.0,192.5 L393.1,200.5 L391.2,208.6 L394.2,213.3 L398.2,215.2 L402.2,217.0 L407.5,227.6 L413.1,234.6 L419.5,240.5 L425.3,240.0 L431.0,239.5 L435.9,240.2 L440.9,240.8 L445.0,237.3 L446.6,239.6 L446.6,245.4 L446.6,251.2 L446.6,256.9 L446.6,262.7 L446.6,268.4 L446.6,274.1 L446.6,279.9 L446.6,285.6 L446.5,291.4 L446.5,297.1"/><path d="M395.6,296.2 L400.2,296.3 L404.8,296.5 L409.5,296.6 L414.1,296.7 L418.7,296.8 L423.4,296.9 L428.0,297.0 L432.6,297.0 L437.3,297.1 L441.9,297.1 L446.5,297.1"/><path d="M446.5,320.0 L450.8,320.0 L455.2,320.0 L459.5,320.0 L463.8,320.0 L468.1,319.9 L472.5,319.9 L476.8,319.8 L481.1,319.7 L481.2,325.5 L481.4,331.4 L481.5,337.2 L481.6,343.0 L481.7,348.9 L481.8,354.7 L482.0,360.5 L482.1,366.4 L482.2,372.2 L482.3,378.0 L482.4,383.8 L482.6,389.7 L482.7,395.5 L482.8,401.3 L482.9,407.2 L483.0,413.0 L483.2,418.8 L483.3,424.7 L483.4,430.5 L483.5,436.4 L483.7,442.2 L483.8,448.0 L483.9,453.9 L484.0,459.7 L484.1,465.6 L484.3,471.4 L484.4,477.3 L484.5,483.1 L484.6,489.0 L484.7,494.8 L484.9,500.7 L485.0,506.6 L485.1,512.4 L485.2,518.3 L485.3,524.2 L485.5,530.0 L485.6,535.9 L485.7,541.8"/><path d="M446.6,239.6 L446.6,233.9 L446.6,228.1 L450.7,228.1 L454.8,228.1 L458.9,228.1 L462.9,228.1 L467.0,228.0 L471.1,228.0 L475.1,227.9 L479.2,227.8 L483.3,227.7 L487.4,227.6 L491.4,227.5 L495.5,227.4 L499.6,227.3 L503.6,227.1 L507.7,227.0 L511.8,226.8 L515.9,226.6 L519.9,226.4 L524.0,226.2 L528.1,226.0 L532.1,225.8 L536.2,225.5 L540.3,225.3 L544.3,225.0 L548.4,224.8 L552.5,224.5 L556.5,224.2 L560.6,223.9"/><path d="M481.1,319.7 L485.4,319.6 L489.8,319.5 L494.1,319.4 L498.4,319.3 L502.7,319.1 L507.1,319.0 L511.4,318.8 L515.7,318.6 L520.0,318.4 L524.4,318.2 L528.7,318.0 L533.0,317.8 L537.3,317.5 L541.6,317.3 L546.0,317.0 L550.3,316.7 L554.6,316.5 L558.9,316.2 L563.2,315.9 L567.5,315.5 L571.8,315.2 L576.2,314.9 L580.5,314.5 L584.8,314.1 L589.1,313.8 L593.4,313.4 L597.7,313.0 L602.0,312.5 L602.6,318.2 L603.1,323.9 L603.7,329.7 L604.2,335.4 L604.8,341.1 L605.4,346.8 L606.0,352.5 L606.5,358.2 L607.1,363.9 L607.7,369.6 L608.3,375.3 L608.8,381.0 L609.4,386.7 L610.0,392.4 L610.6,398.1 L611.1,403.8"/><path d="M604.2,335.4 L608.6,334.9 L613.0,334.5 L617.3,334.0 L621.7,333.5 L626.1,333.1 L630.4,332.6 L634.8,332.1 L639.2,331.5 L643.5,331.0 L647.9,330.5 L652.2,329.9 L656.6,329.4 L660.9,328.8 L665.3,328.2 L669.6,327.6 L674.0,327.0 L678.3,326.3 L682.7,325.7 L687.0,325.1 L691.3,324.4 L695.7,323.7 L700.0,323.0 L704.3,322.3 L708.7,321.6 L713.0,320.9 L717.3,320.2 L721.7,319.4"/><path d="M611.1,403.8 L615.8,403.3 L620.5,402.8 L625.2,402.3 L629.8,401.8 L634.5,401.3 L639.2,400.8 L643.8,400.2 L648.5,399.7 L653.2,399.1 L657.8,398.5 L662.5,397.9 L667.1,397.3 L671.8,396.7 L676.5,396.1 L681.1,395.4 L685.8,394.7 L690.4,394.1 L695.1,393.4 L699.7,392.7 L704.4,392.0 L709.0,391.2 L713.6,390.5 L718.3,389.7 L722.9,389.0 L727.5,388.2 L732.2,387.4 L736.8,386.6 L741.4,385.8 L746.0,384.9"/><path d="M553.6,131.6 L554.0,137.4 L554.5,143.2 L554.9,148.9 L555.3,154.7 L555.8,160.5 L556.2,166.3 L556.7,172.1 L557.1,177.8 L557.5,183.6 L558.0,189.4 L558.4,195.1 L558.8,200.9 L559.3,206.6 L559.7,212.4 L560.1,218.1 L560.6,223.9 L561.0,229.6 L561.5,235.4 L561.9,241.1 L562.3,246.9 L562.8,252.6 L563.2,258.3 L563.6,264.0 L564.1,269.8 L564.5,275.5 L564.9,281.2 L565.4,286.9 L565.8,292.7 L566.2,298.4 L566.7,304.1 L567.1,309.8 L567.5,315.5"/><path d="M567.5,315.5 L571.8,315.2 L576.2,314.9 L580.5,314.5 L584.8,314.1 L589.1,313.8 L593.4,313.4 L597.7,313.0 L602.0,312.5"/><path d="M564.1,269.8 L568.3,269.4 L572.5,269.1 L576.7,268.8 L581.0,268.4 L585.2,268.0 L589.4,267.6 L593.6,267.2 L597.8,266.8 L602.1,266.4 L606.3,266.0 L610.5,265.5 L614.7,265.1 L618.9,264.6 L623.1,264.1 L627.3,263.6 L631.5,263.1 L635.8,262.6 L640.0,262.1 L644.2,261.6 L648.4,261.0 L652.6,260.5 L656.8,259.9 L661.0,260.2 L665.3,260.4 L669.6,260.7 L673.9,260.9 L679.0,260.9 L684.1,260.9 L689.2,260.9"/><path d="M558.9,202.3 L563.1,202.0 L567.2,201.6 L571.3,201.3 L575.5,200.9 L579.6,200.6 L583.7,200.2 L587.9,199.8 L592.0,199.4 L596.1,199.0 L600.2,198.6 L604.4,198.1 L608.5,197.7 L612.6,197.2 L616.7,196.7 L620.8,196.3 L625.0,195.8 L629.1,195.2 L633.2,194.7 L637.3,194.2 L641.4,193.7 L645.5,193.1 L649.6,192.5 L653.7,192.0 L657.8,191.4 L661.9,190.8 L666.1,190.2 L670.2,189.5 L674.2,188.9 L678.3,188.3"/><path d="M593.9,416.9 L598.6,416.5 L603.2,416.0 L607.9,415.6 L612.5,415.2 L617.2,414.7 L621.8,414.2 L626.4,413.7 L631.1,413.2 L635.7,412.7 L640.4,412.2 L645.0,411.6 L649.7,411.1 L650.4,417.4 L651.2,423.7 L651.9,430.0 L652.7,436.3 L653.5,442.7 L654.2,449.0 L655.0,455.3 L659.9,456.6 L664.9,457.8 L669.9,459.5 L674.9,461.1 L679.9,462.8 L684.9,464.4 L689.8,464.9 L694.7,465.4 L699.6,465.8 L704.5,466.3 L709.1,465.0 L713.7,463.7 L718.4,462.4 L723.0,461.1 L727.9,461.5 L732.8,461.8 L737.7,462.2 L742.6,462.5"/><path d="M593.6,405.4 L594.1,411.1 L594.5,416.8 L595.0,422.5 L595.4,428.3 L595.9,434.0 L596.3,439.7 L596.7,445.4 L597.2,451.2 L597.6,456.9 L598.1,462.6 L598.5,468.3 L599.0,474.1 L599.4,479.8 L599.8,485.6 L600.3,491.3 L600.7,497.0 L601.2,502.8 L601.6,508.5 L602.0,514.3 L602.5,520.0 L597.5,520.5 L592.6,520.9 L587.6,521.3 L582.6,521.6 L577.7,522.0 L572.7,522.4 L567.7,522.7 L562.8,523.0 L557.8,523.4 L552.8,523.6 L547.9,523.9 L542.9,524.2 L537.9,524.5 L532.9,524.7 L534.9,529.7"/><path d="M657.1,119.8 L658.9,125.4 L660.7,131.0 L662.6,136.6 L664.4,142.2 L666.3,147.8 L668.2,153.3 L669.8,158.9 L671.5,164.5 L673.1,170.1 L674.8,175.7 L676.5,181.3 L678.1,186.9 L680.3,194.7 L682.4,202.6 L683.4,208.4 L684.3,214.3 L685.3,220.1 L686.2,225.9 L687.1,231.8 L688.1,237.6 L689.0,243.5 L689.9,249.1 L690.8,254.8 L691.7,260.5 L692.6,266.1"/><path d="M689.0,243.5 L693.1,242.8 L697.2,242.1 L701.3,241.4 L705.5,240.7 L709.6,240.0 L713.7,239.3 L717.8,238.6 L721.9,237.8 L726.0,237.1 L730.1,236.3 L734.2,235.5 L738.3,234.7 L742.3,233.9 L746.4,233.1 L750.5,232.3 L754.6,231.4 L758.7,230.6 L762.8,229.7 L766.8,228.9 L770.9,228.0 L775.0,227.1"/><path d="M711.2,307.3 L715.6,306.5 L720.0,305.8 L724.3,305.0 L728.7,304.2 L733.0,303.4 L737.4,302.6 L741.8,301.8 L746.1,301.0 L750.5,300.1 L754.8,299.3 L759.1,298.4 L763.5,297.6 L767.8,296.7 L772.2,295.8 L776.5,294.9 L780.8,293.9"/><path d="M721.7,319.4 L726.9,325.5 L732.2,331.5 L737.4,337.6 L738.5,343.4 L739.5,349.3 L740.5,355.2 L741.6,361.0 L742.6,366.9 L743.6,372.8 L744.7,378.7 L745.7,384.5 L746.7,390.4 L747.7,396.3 L749.8,402.1 L751.8,407.8 L753.9,413.6 L755.9,419.4 L758.0,425.2 L760.1,430.9 L762.2,436.7 L764.3,442.5 L766.3,448.3 L768.5,454.0 L770.6,459.8"/><path d="M747.7,396.3 L752.4,395.4 L757.0,394.6 L761.7,393.7 L766.3,392.8 L771.0,391.9 L775.6,391.0 L780.3,390.0 L784.9,389.1 L789.5,388.1 L794.2,387.2 L798.8,386.2 L803.4,385.2 L808.1,384.2 L812.7,383.2 L817.3,382.1 L821.9,381.1 L826.5,380.0 L831.1,378.9"/><path d="M260.2,122.7 L264.0,123.2 L267.8,123.7 L271.6,124.2 L275.4,124.7 L279.3,125.2 L283.1,125.6 L286.9,126.1 L290.7,126.5 L294.5,126.9 L298.3,127.4 L302.1,127.8 L306.0,128.2 L309.8,128.6 L313.6,128.9 L317.4,129.3 L321.2,129.7 L325.1,130.0 L328.9,130.4 L332.7,130.7 L336.5,131.0 L340.4,131.3 L344.2,131.6 L348.0,131.9 L351.9,132.2 L355.7,132.4 L359.5,132.7 L363.4,132.9 L367.2,133.1 L371.0,133.4 L374.8,133.6 L378.7,133.8 L382.5,134.0 L386.4,134.1 L390.2,134.3 L394.0,134.5 L397.9,134.6 L401.7,134.7 L405.5,134.9 L409.4,135.0 L413.2,135.1 L417.0,135.2 L420.9,135.2 L424.7,135.3 L428.6,135.4 L432.4,135.4 L436.2,135.5 L440.1,135.5 L443.9,135.5 L447.8,135.5 L451.6,135.5 L455.4,135.5 L459.3,135.5 L463.1,135.5 L467.0,135.4 L470.8,135.3 L474.6,135.3 L478.5,135.2 L482.3,135.1 L486.1,135.0 L490.0,134.9 L493.8,134.8 L497.7,134.7 L501.5,134.5 L505.3,134.4 L509.2,134.2 L513.0,134.0 L516.8,133.8 L520.7,133.7 L524.5,133.4 L528.3,133.2 L532.2,133.0 L536.0,132.8 L539.8,132.5 L543.7,132.3 L547.5,132.0 L551.3,131.7 L555.2,131.4 L559.0,131.1 L562.8,130.8 L566.6,130.5 L570.5,130.2 L574.3,129.8 L578.1,129.5 L581.9,129.1 L585.7,128.7 L589.6,128.4 L593.4,128.0 L597.2,127.6 L601.0,127.1 L604.8,126.7 L608.6,126.3 L612.5,125.8 L616.3,125.4 L620.1,124.9 L623.9,124.4 L627.7,123.9 L631.5,123.4 L635.3,122.9 L639.1,122.4 L642.9,121.9 L646.7,121.3 L650.5,120.8 L654.3,120.2 L658.1,119.6 L661.9,119.0 L665.7,118.4 L669.5,117.8 L673.3,117.2 L677.1,116.6 L680.9,116.0 L684.6,115.3 L688.4,114.7"/><path d="M328.3,510.4 L333.5,510.2 L338.7,510.1 L343.9,509.9 L349.1,509.7 L354.3,509.5 L359.5,509.3 L364.7,509.1 L369.9,508.8 L375.1,508.6 L373.1,513.8 L378.2,515.9 L383.4,518.0 L388.5,520.1 L393.7,522.2 L398.8,524.3 L404.0,526.3 L409.2,528.3 L414.4,530.4 L419.6,532.4 L424.8,534.4 L430.1,536.3 L435.3,538.3 L440.6,540.2 L445.8,542.2 L451.0,542.2 L456.1,542.2 L461.2,542.1 L466.4,542.1 L471.5,542.0 L476.6,542.0 L481.8,541.9 L486.9,541.8 L492.0,541.7 L497.2,541.5 L502.3,541.4 L502.0,531.0 L507.5,530.8 L513.0,530.6 L518.5,530.4 L524.0,530.2 L529.5,530.0 L534.9,529.7 L541.9,538.1 L547.2,541.6 L552.5,545.0 L557.9,548.4 L563.3,551.7 L568.7,555.1 L571.2,561.9 L573.6,568.7 L579.3,577.6 L585.1,580.7 L590.9,583.7 L598.3,586.6 L605.7,589.5 L610.5,586.8 L615.4,584.0 L614.8,578.2 L614.3,572.4 L619.5,571.5 L624.7,570.5 L629.8,569.6 L635.0,568.6 L640.2,567.6 L646.8,572.7 L653.5,577.8 L657.3,584.4 L661.1,591.0 L664.8,596.4 L668.6,601.8 L676.7,609.1 L684.9,616.3 L687.7,621.8 L690.5,627.4 L693.3,632.9 L696.2,638.5 L702.0,639.7 L707.8,640.8 L713.6,642.0 L719.4,643.2 L725.3,644.3 L731.1,645.4"/></g><path d="M19.4,43.0 L23.0,44.1 L26.6,45.3 L30.1,46.5 L33.7,47.6 L37.3,48.7 L40.9,49.9 L44.4,51.0 L48.0,52.1 L51.6,53.2 L55.2,54.3 L58.8,55.4 L62.4,56.4 L66.0,57.5 L69.6,58.5 L73.2,59.6 L76.8,60.6 L80.5,61.6 L84.1,62.6 L87.7,63.6 L91.3,64.6 L94.9,65.6 L98.6,66.6 L102.2,67.5 L105.8,68.5 L109.5,69.4 L113.1,70.3 L116.7,71.2 L120.4,72.1 L124.0,73.0 L127.7,73.9 L131.3,74.8 L135.0,75.7 L138.6,76.5 L142.3,77.4 L146.0,78.2 L149.6,79.1 L153.3,79.9 L156.9,80.7 L160.6,81.5 L164.3,82.3 L168.0,83.0 L171.6,83.8 L175.3,84.6 L179.0,85.3 L182.7,86.0 L186.4,86.8 L190.0,87.5 L193.7,88.2 L197.4,88.9 L201.1,89.6 L204.8,90.3 L208.5,90.9 L212.2,91.6 L215.9,92.2 L217.6,100.0 L219.4,107.8 L221.1,115.6 L226.0,119.0 L231.8,122.5 L235.6,127.3 L241.7,130.6 L246.7,133.5 L251.7,136.3 L257.3,135.9 L258.8,133.1 L257.6,130.5 L255.8,126.8 L253.4,121.7 L247.6,113.8 L252.5,112.2 L257.3,110.5 L262.7,116.0 L268.5,123.8 L271.6,130.1 L269.3,135.6 L270.3,140.4 L274.0,147.9 L271.0,153.4 L270.5,156.8 L268.1,163.5 L263.6,167.6 L260.3,168.4 L259.2,164.7 L261.4,160.3 L266.2,154.0 L267.7,148.3 L265.8,144.5 L262.1,143.6 L259.8,142.6 L255.4,142.7 L251.2,141.1 L247.0,139.6 L242.7,137.0 L238.4,134.3 L236.6,133.8 L236.7,140.4 L236.3,145.1 L238.8,152.5 L239.8,159.6 L240.3,166.7 L244.4,168.5 L241.1,169.2 L241.0,175.0 L242.1,178.7 L239.9,183.0 L239.7,184.2 L241.8,186.1 L240.1,191.2 L239.5,197.0 L238.3,202.6 L237.5,208.4 L235.9,213.9 L234.2,221.1 L232.4,228.6 L231.2,236.0 L228.6,242.9 L226.0,249.2 L223.0,255.1 L219.9,260.6 L221.8,266.5 L220.7,271.0 L221.9,279.3 L222.3,286.3 L223.3,294.5 L221.0,302.1 L219.4,307.9 L215.8,312.0 L214.4,315.5 L214.7,319.9 L218.8,325.6 L221.9,331.4 L221.6,339.7 L221.3,345.2 L221.0,351.0 L225.4,357.4 L229.2,362.5 L231.3,366.7 L232.7,369.9 L230.9,374.3 L236.3,377.3 L240.0,379.9 L239.0,384.6 L239.7,387.9 L239.8,394.4 L245.9,400.3 L249.6,404.4 L247.2,408.7 L246.3,415.3 L251.9,422.7 L256.0,431.3 L262.5,437.1 L264.5,444.2 L265.8,450.1 L265.0,457.4 L268.1,460.8 L276.9,461.7 L282.7,463.2 L289.9,467.1 L293.9,471.8 L300.6,473.6 L304.4,474.6 L306.0,478.2 L305.6,480.5 L308.6,481.4 L310.6,480.9 L315.1,484.7 L318.7,488.2 L324.4,494.6 L326.1,500.5 L325.9,502.8 L326.2,507.0 L328.3,510.4 L329.2,514.6 L332.4,522.9 L337.0,526.7 L334.3,528.8 L338.7,537.2 L341.1,546.6 L344.8,552.6 L348.4,558.6 L351.9,569.3 L354.5,577.5 L362.2,584.9 L367.0,589.8 L371.9,594.6 L376.8,600.6 L381.7,606.6 L382.5,612.5 L383.3,618.4 L381.0,624.1 L378.7,629.9 L382.7,635.9 L386.6,641.9 L388.8,647.8 L391.0,653.7 L393.2,659.7 L395.4,665.6 L397.6,671.5 L399.8,677.5 L402.1,683.4 L404.3,689.4 L399.0,689.2 L393.7,689.1 L388.3,688.9 L383.0,688.8 L377.6,688.6 L372.3,688.4 L367.0,688.1 L361.6,687.9 L356.3,687.7 L350.9,687.4 L345.6,687.1 L340.3,686.8 L334.9,686.5 L329.6,686.2 L324.3,685.9 L318.9,685.5 L313.6,685.2 L308.3,684.8 L302.9,684.4 L297.6,684.0 L292.3,683.6 L287.0,683.1 L281.6,682.7 L276.3,682.2 L271.0,681.7 L265.7,681.2 L260.4,680.7 L255.0,680.2 L249.7,679.7 L244.4,679.1 L239.1,678.5 L233.8,677.9 L228.5,677.4 L223.2,676.7 L217.9,676.1 L212.5,675.5 L207.2,674.8 L201.9,674.1 L196.6,673.5 L191.3,672.8 L186.1,672.0 L180.8,671.3 L175.5,670.6 L170.2,669.8 L164.9,669.0 L159.6,668.2 L154.3,667.4 L149.0,666.6 L143.8,665.8 L138.5,664.9 L133.2,664.1 L127.9,663.2 L122.7,662.3 L117.4,661.4 L112.1,660.5 L106.9,659.6 L101.6,658.6 L96.4,657.7 L91.1,656.7 L85.9,655.7 L80.6,654.7 L75.4,653.7 L70.1,652.6 L64.9,651.6 L59.6,650.5 L54.4,649.4 L49.2,648.4 L44.0,647.2 L38.7,646.1 L33.5,645.0 L28.3,643.8 L23.1,642.7 L17.9,641.5 L12.6,640.3 L7.4,639.1 L2.2,637.9 L-3.0,636.6 L-8.2,635.4 L-13.3,634.1 L-18.5,632.9 L-23.7,631.6 L-28.9,630.3 L-34.1,628.9 L-39.3,627.6 L-44.4,626.3 L-49.6,624.9 L-54.8,623.5 L-59.9,622.1 L-65.1,620.7 L-70.2,619.3 L-75.4,617.9 L-80.5,616.4 L-85.7,614.9 L-90.8,613.5 L-95.9,612.0 L-101.0,610.5 L-106.2,609.0 L-111.3,607.4 L-116.4,605.9 L-121.5,604.3 L-126.6,602.7 L-131.7,601.2 L-136.8,599.5 L-141.9,597.9 L-147.0,596.3 L-152.1,594.7 L-157.2,593.0 L-162.2,591.3Z M428.2,654.5 L425.7,647.9 L423.2,641.3 L420.8,634.7 L415.9,626.9 L411.1,619.1 L406.6,613.2 L402.1,607.3 L395.1,596.6 L389.8,590.0 L384.5,583.5 L380.7,577.5 L376.9,571.6 L374.4,563.4 L372.6,552.8 L371.1,547.7 L371.3,538.9 L373.6,530.9 L376.6,529.9 L378.4,532.5 L383.3,534.9 L388.1,537.2 L396.8,542.1 L405.6,547.0 L407.4,554.0 L407.7,559.3 L411.1,568.0 L413.2,575.0 L418.9,584.3 L422.8,591.4 L428.0,600.3 L436.9,610.1 L443.0,615.8 L449.2,621.4 L455.4,631.2 L461.7,637.0 L468.0,642.8 L473.3,648.6 L478.6,654.4 L480.4,660.2 L482.3,666.0 L484.2,671.9 L486.0,677.7 L487.9,683.6 L489.8,689.4 L484.5,689.5 L479.1,689.6 L473.8,689.7 L468.5,689.8 L463.1,689.8 L457.8,689.8 L452.4,689.9 L447.1,689.9 L441.7,689.9 L436.4,689.8Z" fill="none" stroke="#000" stroke-width="1.8"/><path d="M418.2,304.8 L426.8,308.4 L428.4,315.3 L426.6,321.0 L419.6,324.4 L412.8,319.6 L413.7,315.1 L415.6,309.4Z" fill="#fff" stroke="#000" stroke-width="1.2"/><path d="M249.7,118.5L255.5,117.6L259.6,124.2L263.7,129.5L271.1,129.5L272.5,140.7L273.3,150.6L271.6,158.8L268.3,165.4L261.2,169.2L257.5,165.4L259.1,158.8L263.2,153.9L264,147.3L260.7,140.7L257.5,135.5L251.7,128.9L249.2,122.6Z M225,116L238,116L236.5,120.5L231,122.5L226,121L225,119Z M236,373L240,372L243,376L246,380L247,385L244,389L241,386L239,381L237,378Z M248.8,116L256.4,116L255.5,122L252,127.3L249,124Z" fill="#000" fill-opacity="0.85"/><ellipse cx="269.0" cy="470.4" rx="1.6" ry="0.9" transform="rotate(0 269.0 470.4)" fill="#000"/><ellipse cx="273.9" cy="472.9" rx="2.2" ry="1.1" transform="rotate(-10 273.9 472.9)" fill="#000"/><ellipse cx="280.6" cy="472.5" rx="2.6" ry="1.1" transform="rotate(0 280.6 472.5)" fill="#000"/><ellipse cx="287.3" cy="472.9" rx="1.0" ry="0.6" transform="rotate(0 287.3 472.9)" fill="#000"/><ellipse cx="283.8" cy="490.1" rx="1.2" ry="0.8" transform="rotate(0 283.8 490.1)" fill="#000"/><ellipse cx="304.7" cy="489.0" rx="2.4" ry="1.0" transform="rotate(40 304.7 489.0)" fill="#000"/><ellipse cx="302.3" cy="499.8" rx="2.2" ry="0.9" transform="rotate(60 302.3 499.8)" fill="#000"/><g font-family="&quot;Liberation Sans&quot;, sans-serif" font-size="11.5" text-anchor="middle" fill="#000"><rect x="288.5" y="137.5" width="29" height="11" fill="none" stroke="#777" stroke-width="0.6"/><text x="303.0" y="147.0">1020</text><rect x="472.0" y="124.5" width="29" height="11" fill="none" stroke="#777" stroke-width="0.6"/><text x="486.5" y="134.0">1020</text><rect x="547.0" y="139.5" width="29" height="11" fill="none" stroke="#777" stroke-width="0.6"/><text x="561.5" y="149.0">1020</text><rect x="262.5" y="186.5" width="29" height="11" fill="none" stroke="#777" stroke-width="0.6"/><text x="277.0" y="196.0">1018</text><rect x="246.5" y="229.0" width="29" height="11" fill="none" stroke="#777" stroke-width="0.6"/><text x="261.0" y="238.5">1018</text><rect x="307.0" y="235.0" width="29" height="11" fill="none" stroke="#777" stroke-width="0.6"/><text x="321.5" y="244.5">1020</text><rect x="392.0" y="247.5" width="29" height="11" fill="none" stroke="#777" stroke-width="0.6"/><text x="406.5" y="257.0">1024</text><rect x="315.0" y="302.5" width="29" height="11" fill="none" stroke="#777" stroke-width="0.6"/><text x="329.5" y="312.0">1020</text><rect x="368.5" y="310.0" width="29" height="11" fill="none" stroke="#777" stroke-width="0.6"/><text x="383.0" y="319.5">1024</text><rect x="482.5" y="272.5" width="29" height="11" fill="none" stroke="#777" stroke-width="0.6"/><text x="497.0" y="282.0">1024</text><rect x="569.0" y="252.0" width="29" height="11" fill="none" stroke="#777" stroke-width="0.6"/><text x="583.5" y="261.5">1024</text><rect x="646.0" y="171.5" width="29" height="11" fill="none" stroke="#777" stroke-width="0.6"/><text x="660.5" y="181.0">1028</text><rect x="667.5" y="226.5" width="29" height="11" fill="none" stroke="#777" stroke-width="0.6"/><text x="682.0" y="236.0">1032</text><rect x="591.0" y="316.0" width="29" height="11" fill="none" stroke="#777" stroke-width="0.6"/><text x="605.5" y="325.5">1028</text><rect x="635.5" y="396.5" width="29" height="11" fill="none" stroke="#777" stroke-width="0.6"/><text x="650.0" y="406.0">1036</text><rect x="600.0" y="429.0" width="29" height="11" fill="none" stroke="#777" stroke-width="0.6"/><text x="614.5" y="438.5">1032</text><rect x="559.0" y="439.5" width="29" height="11" fill="none" stroke="#777" stroke-width="0.6"/><text x="573.5" y="449.0">1028</text><rect x="505.0" y="424.5" width="29" height="11" fill="none" stroke="#777" stroke-width="0.6"/><text x="519.5" y="434.0">1024</text><rect x="286.0" y="398.5" width="29" height="11" fill="none" stroke="#777" stroke-width="0.6"/><text x="300.5" y="408.0">1020</text><rect x="412.5" y="378.0" width="29" height="11" fill="none" stroke="#777" stroke-width="0.6"/><text x="427.0" y="387.5">1028</text><rect x="381.5" y="424.5" width="29" height="11" fill="none" stroke="#777" stroke-width="0.6"/><text x="396.0" y="434.0">1020</text><rect x="431.5" y="465.5" width="29" height="11" fill="none" stroke="#777" stroke-width="0.6"/><text x="446.0" y="475.0">1020</text><rect x="325.5" y="499.5" width="29" height="11" fill="none" stroke="#777" stroke-width="0.6"/><text x="340.0" y="509.0">1016</text><rect x="362.5" y="492.5" width="29" height="11" fill="none" stroke="#777" stroke-width="0.6"/><text x="377.0" y="502.0">1016</text><rect x="543.5" y="542.0" width="29" height="11" fill="none" stroke="#777" stroke-width="0.6"/><text x="558.0" y="551.5">1024</text></g></svg></div>
<div id="frame"></div>
<div class="m" style="left:190.3px;top:10.87px;font-size:17.75px;">IWFAQRP Western US Real Time WRF</div>
<div class="m" style="right:146.0px;top:14.85px;font-size:11.75px;text-align:right;-webkit-text-stroke:0.12px #000;">Init: 2026-01-27_00:00:00</div>
<div class="m" style="right:146.0px;top:27.55px;font-size:11.75px;text-align:right;">Valid: 2026-02-01_13:00:00</div>
<div class="m" style="left:194.8px;top:65.37px;font-size:11.61px;">2m Temperature</div>
<div class="m" style="left:290.9px;top:65.74px;font-size:11.17px;">(degF)</div>
<div class="m" style="left:194.8px;top:78.33px;font-size:11.54px;">Sea Level Pressure</div>
<div class="m" style="left:306.1px;top:78.92px;font-size:10.84px;">(hPa)</div>
<div class="m" style="left:194.8px;top:90.80px;font-size:11.46px;">10m Winds</div>
<div class="m" style="left:262.7px;top:91.18px;font-size:11.01px;">(kts)</div>
<div class="tk" style="left:180.8px;top:134.85px;width:11.7px;height:1.2px"></div>
<div class="m" style="right:676.9px;top:130.03px;font-size:11.6px;text-align:right;">48°N</div>
<div class="tk" style="left:180.8px;top:181.80px;width:11.7px;height:1.2px"></div>
<div class="m" style="right:676.9px;top:176.98px;font-size:11.6px;text-align:right;">46°N</div>
<div class="tk" style="left:180.8px;top:228.80px;width:11.7px;height:1.2px"></div>
<div class="m" style="right:676.9px;top:223.98px;font-size:11.6px;text-align:right;">44°N</div>
<div class="tk" style="left:180.8px;top:275.40px;width:11.7px;height:1.2px"></div>
<div class="m" style="right:676.9px;top:270.58px;font-size:11.6px;text-align:right;">42°N</div>
<div class="tk" style="left:180.8px;top:322.00px;width:11.7px;height:1.2px"></div>
<div class="m" style="right:676.9px;top:317.18px;font-size:11.6px;text-align:right;">40°N</div>
<div class="tk" style="left:180.8px;top:368.40px;width:11.7px;height:1.2px"></div>
<div class="m" style="right:676.9px;top:363.58px;font-size:11.6px;text-align:right;">38°N</div>
<div class="tk" style="left:180.8px;top:414.75px;width:11.7px;height:1.2px"></div>
<div class="m" style="right:676.9px;top:409.93px;font-size:11.6px;text-align:right;">36°N</div>
<div class="tk" style="left:180.8px;top:461.40px;width:11.7px;height:1.2px"></div>
<div class="m" style="right:676.9px;top:456.58px;font-size:11.6px;text-align:right;">34°N</div>
<div class="tk" style="left:180.8px;top:507.90px;width:11.7px;height:1.2px"></div>
<div class="m" style="right:676.9px;top:503.08px;font-size:11.6px;text-align:right;">32°N</div>
<div class="tk" style="left:180.8px;top:554.50px;width:11.7px;height:1.2px"></div>
<div class="m" style="right:676.9px;top:549.68px;font-size:11.6px;text-align:right;">30°N</div>
<div class="tk" style="left:265.90px;top:569px;width:1.2px;height:11.8px"></div>
<div class="m" style="left:206.5px;width:120px;top:587.91px;font-size:11.45px;text-align:center;">120°W</div>
<div class="tk" style="left:366.05px;top:569px;width:1.2px;height:11.8px"></div>
<div class="m" style="left:306.6px;width:120px;top:587.91px;font-size:11.45px;text-align:center;">115°W</div>
<div class="tk" style="left:466.90px;top:569px;width:1.2px;height:11.8px"></div>
<div class="m" style="left:407.5px;width:120px;top:587.91px;font-size:11.45px;text-align:center;">110°W</div>
<div class="tk" style="left:567.20px;top:569px;width:1.2px;height:11.8px"></div>
<div class="m" style="left:507.8px;width:120px;top:587.91px;font-size:11.45px;text-align:center;">105°W</div>
<div class="tk" style="left:668.80px;top:569px;width:1.2px;height:11.8px"></div>
<div class="m" style="left:609.4px;width:120px;top:587.91px;font-size:11.45px;text-align:center;">100°W</div>
<div class="m" style="left:433.6px;top:608.08px;font-size:12.31px;">Sea Level Pressure Contours: 1012 to 1038 by 2</div>
<div class="m" style="left:380.4px;top:642.92px;font-size:12.5px;">2m Temperature&nbsp;&nbsp;(degF)</div>
<div id="cb"><div style="background:#1b2a5e"></div><div style="background:#1f3f85"></div><div style="background:#2659a8"></div><div style="background:#3f80c0"></div><div style="background:#5ca8da"></div><div style="background:#7fc0e6"></div><div style="background:#a5dcf5"></div><div style="background:#c0e6f7"></div><div style="background:#dcf1f9"></div><div style="background:#eff8fd"></div><div style="background:#ffffff"></div><div style="background:#ffffff"></div><div style="background:#fff8e3"></div><div style="background:#feeaa6"></div><div style="background:#fed570"></div><div style="background:#fdb843"></div><div style="background:#fa9531"></div><div style="background:#f4722a"></div><div style="background:#e84e2c"></div><div style="background:#d6262a"></div><div style="background:#b41c24"></div><div style="background:#8e171c"></div></div>
<div class="m" style="left:188.4px;width:120px;top:689.73px;font-size:12.6px;text-align:center;">0</div>
<div class="m" style="left:228.2px;width:120px;top:689.73px;font-size:12.6px;text-align:center;">10</div>
<div class="m" style="left:268.0px;width:120px;top:689.73px;font-size:12.6px;text-align:center;">20</div>
<div class="m" style="left:307.8px;width:120px;top:689.73px;font-size:12.6px;text-align:center;">30</div>
<div class="m" style="left:347.6px;width:120px;top:689.73px;font-size:12.6px;text-align:center;">40</div>
<div class="m" style="left:387.4px;width:120px;top:689.73px;font-size:12.6px;text-align:center;">50</div>
<div class="m" style="left:427.2px;width:120px;top:689.73px;font-size:12.6px;text-align:center;">60</div>
<div class="m" style="left:467.0px;width:120px;top:689.73px;font-size:12.6px;text-align:center;">70</div>
<div class="m" style="left:506.8px;width:120px;top:689.73px;font-size:12.6px;text-align:center;">80</div>
<div class="m" style="left:546.6px;width:120px;top:689.73px;font-size:12.6px;text-align:center;">90</div>
<div class="m" style="left:586.4px;width:120px;top:689.73px;font-size:12.6px;text-align:center;">100</div>
<div class="m" style="left:194.0px;top:817.24px;font-size:10.47px;">OUTPUT FROM WRF V4.6.1 MODEL</div>
<div class="m" style="left:194.0px;top:828.94px;font-size:10.47px;">WE = 310 ; SN = 275 ; Levels = 38 ; Dis = 8km ; Phys Opt = 8 ; PBL Opt = 1 ; Cu Opt = 3</div>

</body></html>
